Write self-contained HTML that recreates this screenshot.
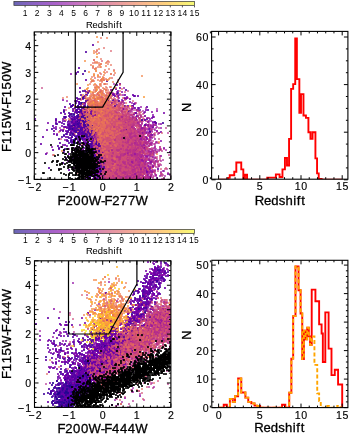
<!DOCTYPE html><html><head><meta charset="utf-8"><style>html,body{margin:0;padding:0;background:#fff;overflow:hidden}svg{display:block;filter:blur(0.35px)}</style></head><body><svg width="350" height="434" viewBox="0 0 350 434" font-family='"Liberation Sans", sans-serif'><rect width="350" height="434" fill="#fff"/><defs><clipPath id="c1"><rect x="34.3" y="31.9" width="136.6" height="147.5"/></clipPath><clipPath id="c2"><rect x="34.5" y="260.8" width="136.4" height="146.6"/></clipPath><clipPath id="h1"><rect x="211.6" y="31.4" width="136.3" height="147.8"/></clipPath><clipPath id="h2"><rect x="211.8" y="260.3" width="136.1" height="147.3"/></clipPath></defs><defs><linearGradient id="g1" x1="0" x2="1" y1="0" y2="0"><stop offset="0.00" stop-color="#6966b4"/><stop offset="0.05" stop-color="#7b64bc"/><stop offset="0.10" stop-color="#8963c2"/><stop offset="0.15" stop-color="#9662c7"/><stop offset="0.20" stop-color="#a361c9"/><stop offset="0.25" stop-color="#af63c9"/><stop offset="0.30" stop-color="#ba69c6"/><stop offset="0.35" stop-color="#c572c1"/><stop offset="0.40" stop-color="#ce7bba"/><stop offset="0.45" stop-color="#d784b3"/><stop offset="0.50" stop-color="#df8dab"/><stop offset="0.55" stop-color="#e696a4"/><stop offset="0.60" stop-color="#ec9f9d"/><stop offset="0.65" stop-color="#f2a997"/><stop offset="0.70" stop-color="#f7b390"/><stop offset="0.75" stop-color="#fbbe89"/><stop offset="0.80" stop-color="#fdc882"/><stop offset="0.85" stop-color="#fed47c"/><stop offset="0.90" stop-color="#fde178"/><stop offset="0.95" stop-color="#faee78"/><stop offset="1.00" stop-color="#f6fb76"/></linearGradient></defs><rect x="13.9" y="1.4" width="180.7" height="4.0" fill="url(#g1)" stroke="#333" stroke-width="0.7"/><text x="22.74" y="16.40" font-size="8.49" fill="#000" stroke="#000" stroke-width="0.00">1</text><text x="34.84" y="16.40" font-size="8.49" fill="#000" stroke="#000" stroke-width="0.00">2</text><text x="46.94" y="16.40" font-size="8.49" fill="#000" stroke="#000" stroke-width="0.00">3</text><text x="59.04" y="16.40" font-size="8.49" fill="#000" stroke="#000" stroke-width="0.00">4</text><text x="71.14" y="16.40" font-size="8.49" fill="#000" stroke="#000" stroke-width="0.00">5</text><text x="83.24" y="16.40" font-size="8.49" fill="#000" stroke="#000" stroke-width="0.00">6</text><text x="95.34" y="16.40" font-size="8.49" fill="#000" stroke="#000" stroke-width="0.00">7</text><text x="107.44" y="16.40" font-size="8.49" fill="#000" stroke="#000" stroke-width="0.00">8</text><text x="119.54" y="16.40" font-size="8.49" fill="#000" stroke="#000" stroke-width="0.00">9</text><text x="129.09 134.18" y="16.40" font-size="8.49" fill="#000" stroke="#000" stroke-width="0.00">10</text><text x="141.19 146.28" y="16.40" font-size="8.49" fill="#000" stroke="#000" stroke-width="0.00">11</text><text x="153.29 158.38" y="16.40" font-size="8.49" fill="#000" stroke="#000" stroke-width="0.00">12</text><text x="165.39 170.48" y="16.40" font-size="8.49" fill="#000" stroke="#000" stroke-width="0.00">13</text><text x="177.49 182.58" y="16.40" font-size="8.49" fill="#000" stroke="#000" stroke-width="0.00">14</text><text x="189.59 194.68" y="16.40" font-size="8.49" fill="#000" stroke="#000" stroke-width="0.00">15</text><path d="M25.10 5.40v2M37.20 5.40v2M49.30 5.40v2M61.40 5.40v2M73.50 5.40v2M85.60 5.40v2M97.70 5.40v2M109.80 5.40v2M121.90 5.40v2M134.00 5.40v2M146.10 5.40v2M158.20 5.40v2M170.30 5.40v2M182.40 5.40v2M194.50 5.40v2" stroke="#333" stroke-width="0.8"/><text x="86.08 92.61 97.72 103.07 107.89 113.46 115.97 119.24" y="27.80" font-size="9.34" fill="#000" stroke="#000" stroke-width="0.06">Redshift</text><defs><linearGradient id="g229" x1="0" x2="1" y1="0" y2="0"><stop offset="0.00" stop-color="#6966b4"/><stop offset="0.05" stop-color="#7b64bc"/><stop offset="0.10" stop-color="#8963c2"/><stop offset="0.15" stop-color="#9662c7"/><stop offset="0.20" stop-color="#a361c9"/><stop offset="0.25" stop-color="#af63c9"/><stop offset="0.30" stop-color="#ba69c6"/><stop offset="0.35" stop-color="#c572c1"/><stop offset="0.40" stop-color="#ce7bba"/><stop offset="0.45" stop-color="#d784b3"/><stop offset="0.50" stop-color="#df8dab"/><stop offset="0.55" stop-color="#e696a4"/><stop offset="0.60" stop-color="#ec9f9d"/><stop offset="0.65" stop-color="#f2a997"/><stop offset="0.70" stop-color="#f7b390"/><stop offset="0.75" stop-color="#fbbe89"/><stop offset="0.80" stop-color="#fdc882"/><stop offset="0.85" stop-color="#fed47c"/><stop offset="0.90" stop-color="#fde178"/><stop offset="0.95" stop-color="#faee78"/><stop offset="1.00" stop-color="#f6fb76"/></linearGradient></defs><rect x="13.9" y="229.4" width="180.7" height="4.0" fill="url(#g229)" stroke="#333" stroke-width="0.7"/><text x="23.04" y="243.20" font-size="8.49" fill="#000" stroke="#000" stroke-width="0.00">1</text><text x="35.07" y="243.20" font-size="8.49" fill="#000" stroke="#000" stroke-width="0.00">2</text><text x="47.10" y="243.20" font-size="8.49" fill="#000" stroke="#000" stroke-width="0.00">3</text><text x="59.13" y="243.20" font-size="8.49" fill="#000" stroke="#000" stroke-width="0.00">4</text><text x="71.16" y="243.20" font-size="8.49" fill="#000" stroke="#000" stroke-width="0.00">5</text><text x="83.19" y="243.20" font-size="8.49" fill="#000" stroke="#000" stroke-width="0.00">6</text><text x="95.22" y="243.20" font-size="8.49" fill="#000" stroke="#000" stroke-width="0.00">7</text><text x="107.25" y="243.20" font-size="8.49" fill="#000" stroke="#000" stroke-width="0.00">8</text><text x="119.28" y="243.20" font-size="8.49" fill="#000" stroke="#000" stroke-width="0.00">9</text><text x="128.76 133.85" y="243.20" font-size="8.49" fill="#000" stroke="#000" stroke-width="0.00">10</text><text x="140.79 145.88" y="243.20" font-size="8.49" fill="#000" stroke="#000" stroke-width="0.00">11</text><text x="152.82 157.91" y="243.20" font-size="8.49" fill="#000" stroke="#000" stroke-width="0.00">12</text><text x="164.85 169.94" y="243.20" font-size="8.49" fill="#000" stroke="#000" stroke-width="0.00">13</text><text x="176.88 181.97" y="243.20" font-size="8.49" fill="#000" stroke="#000" stroke-width="0.00">14</text><text x="188.91 194.00" y="243.20" font-size="8.49" fill="#000" stroke="#000" stroke-width="0.00">15</text><path d="M25.40 233.40v2M37.43 233.40v2M49.46 233.40v2M61.49 233.40v2M73.52 233.40v2M85.55 233.40v2M97.58 233.40v2M109.61 233.40v2M121.64 233.40v2M133.67 233.40v2M145.70 233.40v2M157.73 233.40v2M169.76 233.40v2M181.79 233.40v2M193.82 233.40v2" stroke="#333" stroke-width="0.8"/><text x="86.08 92.61 97.72 103.07 107.89 113.46 115.97 119.24" y="254.00" font-size="9.34" fill="#000" stroke="#000" stroke-width="0.06">Redshift</text><g clip-path="url(#c1)" stroke-linecap="round" stroke-width="2.2" fill="none"><path stroke="#220690" stroke-opacity="1.0" d="M78 112h0m13 4h0m-9 4h0m5 2h0m-11 7h0m21 23h0m7 24h0"/><path stroke="#8405a7" stroke-opacity="0.88" d="M122 100h0m2 3h0m-44 1h0m72 8h0m-8 1h0m9 2h0m-12 1h0m-63 1h0m51 0h0m24 6h0m8 1h0m-87 7h0m10 0h0m63 1h0m-90 2h0m86 1h0m-1 1h0m-57 2h0m6 0h0m-3 6h0m9 1h0m44 4h0m4 6h0m1 1h0m-48 12h0m-11 3h0m11 0h0m49 4h0m4 1h0m10 8h0m-63 3h0m1 2h0m-11 1h0"/><path stroke="#8f0da4" stroke-opacity="0.81" d="M118 97h0m0 3h0m15 6h0m-57 5h0m63 0h0m16 12h0m-1 2h0m7 3h0m-18 1h0m6 3h0m-64 4h0m57 9h0m0 1h0m-4 1h0m3 0h0m-72 2h0m77 7h0m1 1h0m-6 4h0m9 1h0m-5 3h0m4 2h0m-5 3h0m19 1h0m-62 5h0m59 0h0m-7 4h0m-1 1h0m-19 3h0m12 5h0"/><path stroke="#9c179e" stroke-opacity="0.75" d="M114 84h0m21 19h0m-35 6h0m35 4h0m16 8h0m-22 2h0m21 5h0m2 1h0m-8 3h0m-24 1h0m29 3h0m-7 1h0m1 0h0m6 4h0m9 2h0m-23 1h0m15 0h0m-11 2h0m16 0h0m-1 2h0m-9 1h0m7 1h0m8 0h0m-24 1h0m15 0h0m6 1h0m-110 1h0m94 0h0m10 3h0m22 1h0m-31 2h0m13 3h0m-22 2h0m8 0h0m3 2h0m-10 3h0m4 3h0m5 0h0m8 0h0m-13 2h0m5 1h0m8 0h0m-1 1h0m1 0h0m14 0h0m-21 1h0m7 0h0m-23 2h0m12 0h0m-21 1h0m19 1h0m6 2h0m14 0h0m-34 1h0m6 0h0m-17 1h0m31 0h0m-14 2h0m1 0h0m13 0h0m-29 1h0m39 0h0m8 0h0m-21 1h0m9 0h0"/><path stroke="#5c01a6" stroke-opacity="1.0" d="M93 45h0m-14 23h0m37 21h0m-4 1h0m1 4h0m0 1h0m-27 6h0m-1 2h0m32 2h0m16 1h0m-48 1h0m-7 1h0m10 0h0m-24 2h0m13 0h0m-1 1h0m3 1h0m4 0h0m5 0h0m-6 4h0m-5 2h0m6 0h0m-48 1h0m54 0h0m-9 1h0m2 0h0m-4 1h0m9 0h0m-9 1h0m-16 1h0m15 0h0m4 1h0m8 0h0m-10 1h0m2 0h0m-10 1h0m12 0h0m1 0h0m5 0h0m-7 1h0m1 0h0m5 0h0m-21 1h0m15 0h0m5 1h0m-15 1h0m14 0h0m-7 1h0m6 0h0m-14 1h0m14 0h0m11 0h0m-11 1h0m5 0h0m2 0h0m2 1h0m-8 1h0m2 0h0m-9 1h0m9 0h0m-4 1h0m-7 1h0m14 0h0m-16 1h0m8 0h0m14 0h0m-7 1h0m7 1h0m-26 1h0m13 0h0m9 0h0m4 0h0m-37 1h0m38 0h0m-5 1h0m-13 1h0m13 0h0m3 0h0m1 1h0m2 0h0m-12 1h0m2 0h0m-1 3h0m3 0h0m4 0h0m-8 1h0m-23 1h0m37 0h0m-10 3h0m9 0h0m-2 1h0m-2 1h0m0 1h0m-2 1h0m-7 2h0m7 0h0m-3 1h0m-28 1h0m29 0h0m0 1h0m5 0h0m3 0h0m4 0h0m-18 1h0m6 0h0m2 0h0m-1 1h0m3 0h0m-3 1h0m-1 1h0m0 1h0m9 0h0m-7 1h0m6 0h0m-4 1h0m3 0h0m-6 1h0m4 0h0m-4 2h0m2 0h0m9 0h0m-15 1h0m11 0h0m0 1h0m-6 2h0m5 0h0m-1 1h0m1 1h0m2 0h0m3 1h0m-9 1h0m-8 1h0m7 4h0m2 0h0m-4 1h0m8 0h0m-8 1h0m2 0h0m10 1h0"/><path stroke="#7701a8" stroke-opacity="0.94" d="M126 99h0m-4 3h0m8 0h0m-43 6h0m51 0h0m-14 1h0m-42 1h0m82 3h0m-94 1h0m16 1h0m-4 1h0m-3 2h0m2 1h0m1 0h0m59 2h0m-62 1h0m74 0h0m-105 1h0m33 3h0m-25 1h0m24 0h0m1 0h0m-27 1h0m25 0h0m-18 2h0m26 0h0m-8 2h0m3 1h0m77 0h0m-77 1h0m9 0h0m-1 5h0m4 1h0m-19 1h0m16 0h0m-18 1h0m67 1h0m-77 2h0m34 0h0m-2 1h0m5 0h0m-26 2h0m18 1h0m4 1h0m-4 4h0m2 2h0m-1 1h0m2 3h0m1 0h0m6 1h0m-4 3h0m-17 4h0m18 0h0m-8 1h0m-4 1h0m4 0h0m6 1h0m-2 2h0m1 0h0m8 0h0m40 0h0m-42 1h0m66 0h0m-15 7h0m-58 1h0m9 2h0m-3 1h0m2 0h0m-6 2h0m73 2h0"/><path stroke="#f2844b" stroke-opacity="0.83" d="M97 63h0m9 0h0m-6 4h0m11 7h0m-13 1h0m-21 9h0m23 0h0m-1 3h0m-6 5h0m2 0h0m6 0h0m-3 1h0m7 3h0m5 0h0m-11 2h0m4 0h0m-12 1h0m15 2h0m1 3h0m-13 2h0m8 0h0m-7 1h0m-3 2h0m1 1h0m16 0h0m-25 1h0m17 0h0m9 0h0m-11 1h0m6 0h0m-9 3h0m5 0h0m15 0h0m-20 1h0m3 0h0m-9 1h0m9 0h0m0 1h0m10 0h0m-9 1h0m-1 1h0m11 0h0m-27 1h0m13 0h0m4 0h0m-3 1h0m2 0h0m1 0h0m-4 2h0m4 0h0m-10 1h0m4 0h0m5 0h0m-5 2h0m9 1h0m-14 2h0m9 0h0m3 1h0m16 1h0m-23 1h0m4 0h0m5 0h0m0 2h0m-5 7h0m7 2h0m2 0h0m8 7h0"/><path stroke="#41049d" stroke-opacity="1.0" d="M85 71h0m-2 26h0m2 1h0m-13 8h0m9 0h0m-2 1h0m59 3h0m-48 6h0m-2 4h0m-5 1h0m-8 1h0m-1 1h0m89 0h0m-79 1h0m-7 1h0m6 0h0m1 0h0m-10 2h0m8 0h0m8 1h0m-38 1h0m30 0h0m4 0h0m-3 2h0m13 5h0m-24 1h0m24 2h0m1 0h0m-23 1h0m18 2h0m-8 1h0m5 1h0m3 3h0m3 0h0m5 4h0m-10 1h0m-5 1h0m13 1h0m-6 4h0m6 0h0m-11 4h0m11 5h0m-2 4h0m3 0h0m3 1h0m-6 1h0m-3 1h0m5 3h0m1 0h0m2 0h0m2 3h0m-4 2h0m-4 1h0m3 0h0m-3 3h0m10 1h0m1 2h0"/><path stroke="#fca636" stroke-opacity="0.92" d="M97 90h0m-6 2h0m39 14h0m-41 3h0"/><path stroke="#e76f5a" stroke-opacity="0.75" d="M108 61h0m-13 2h0m4 0h0m9 1h0m3 1h0m-2 4h0m-9 4h0m-2 4h0m5 0h0m1 3h0m3 0h0m-14 1h0m9 0h0m-11 1h0m13 2h0m-7 2h0m-1 2h0m11 0h0m8 0h0m-30 2h0m25 2h0m1 1h0m-10 1h0m8 0h0m-18 3h0m-28 1h0m27 0h0m12 0h0m-12 1h0m10 0h0m-8 1h0m11 0h0m-11 1h0m9 0h0m18 0h0m-28 1h0m23 0h0m-21 1h0m7 0h0m6 0h0m-18 1h0m11 0h0m1 0h0m5 0h0m-6 1h0m1 0h0m7 0h0m8 0h0m-24 1h0m3 0h0m4 0h0m6 0h0m3 0h0m4 0h0m6 0h0m-48 2h0m26 0h0m1 0h0m4 0h0m16 0h0m-19 1h0m-10 1h0m15 0h0m1 0h0m4 0h0m-17 1h0m7 0h0m-16 1h0m7 1h0m4 0h0m9 0h0m14 0h0m-12 1h0m9 0h0m-21 1h0m6 0h0m7 0h0m13 0h0m-16 1h0m3 0h0m1 0h0m-16 1h0m3 0h0m3 0h0m9 0h0m11 0h0m-23 1h0m2 0h0m1 0h0m2 0h0m10 0h0m1 0h0m14 0h0m-23 1h0m4 0h0m2 0h0m2 0h0m1 0h0m3 0h0m1 0h0m2 0h0m5 0h0m-28 1h0m2 0h0m11 0h0m1 0h0m1 0h0m4 0h0m2 0h0m-33 1h0m5 0h0m8 0h0m2 0h0m1 0h0m6 0h0m2 0h0m3 0h0m1 0h0m3 0h0m-21 1h0m6 0h0m1 0h0m8 0h0m3 0h0m1 0h0m-18 1h0m5 0h0m11 0h0m2 0h0m2 0h0m-31 1h0m11 0h0m17 0h0m-11 1h0m4 0h0m7 0h0m4 0h0m14 0h0m-34 1h0m5 0h0m10 0h0m8 0h0m-15 1h0m1 0h0m8 0h0m4 0h0m2 0h0m-29 1h0m10 0h0m7 0h0m1 0h0m1 0h0m2 0h0m6 0h0m2 0h0m-20 1h0m3 0h0m9 0h0m5 0h0m1 0h0m6 0h0m-19 1h0m1 0h0m3 0h0m10 0h0m-8 1h0m4 0h0m11 0h0m-27 1h0m3 0h0m7 0h0m2 0h0m6 0h0m7 0h0m-25 1h0m19 0h0m3 0h0m2 0h0m-19 1h0m2 0h0m3 0h0m19 0h0m-32 1h0m8 0h0m3 0h0m6 0h0m19 0h0m-25 1h0m7 0h0m8 0h0m3 0h0m-24 1h0m1 0h0m3 0h0m4 0h0m3 0h0m-8 1h0m11 0h0m1 0h0m-12 1h0m3 0h0m7 0h0m0 1h0m-6 1h0m3 0h0m2 0h0m-3 1h0m-4 1h0m3 0h0m1 0h0m-9 1h0m5 0h0m2 0h0m5 0h0m13 0h0m-19 1h0m5 0h0m6 0h0m-12 1h0m4 0h0m5 0h0m-7 1h0m10 0h0m1 0h0m-7 1h0m5 0h0m6 2h0m-5 1h0m7 0h0m-17 1h0m4 1h0m27 1h0m-21 2h0m6 0h0m-14 1h0m24 1h0m-23 1h0m12 0h0m-20 1h0m9 1h0m1 0h0m-8 1h0m8 0h0m1 0h0m-1 2h0m-21 2h0m26 2h0m-4 4h0m17 4h0m-20 1h0m-4 1h0m14 11h0"/><path stroke="#fa9b3d" stroke-opacity="0.92" d="M92 81h0m9 12h0m43 4h0m-63 2h0m15 13h0m-8 4h0m11 2h0m4 4h0m-4 1h0m0 9h0"/><path stroke="#da5b69" stroke-opacity="0.75" d="M112 78h0m8 16h0m-21 1h0m1 2h0m8 0h0m-14 1h0m7 0h0m0 1h0m-14 1h0m20 0h0m-12 1h0m20 0h0m-25 3h0m4 0h0m4 0h0m12 1h0m-1 1h0m-4 1h0m4 0h0m2 0h0m7 0h0m1 0h0m4 0h0m2 0h0m-23 1h0m10 0h0m-12 1h0m19 0h0m-25 1h0m7 0h0m1 0h0m4 0h0m2 0h0m8 0h0m2 0h0m-32 2h0m10 0h0m9 0h0m1 0h0m4 0h0m3 0h0m3 0h0m-24 1h0m6 0h0m5 0h0m1 0h0m11 0h0m-23 1h0m10 0h0m13 0h0m-24 1h0m11 0h0m8 0h0m1 0h0m-13 1h0m14 0h0m1 0h0m4 0h0m-37 1h0m27 0h0m6 0h0m5 0h0m1 0h0m3 0h0m-26 1h0m4 0h0m3 0h0m3 0h0m5 0h0m13 0h0m-23 1h0m5 0h0m1 0h0m1 0h0m1 0h0m-19 1h0m15 0h0m3 0h0m12 0h0m1 0h0m1 0h0m-20 1h0m8 0h0m1 0h0m3 0h0m11 0h0m17 0h0m-46 1h0m2 0h0m1 0h0m1 0h0m1 0h0m1 0h0m3 0h0m1 0h0m2 0h0m9 0h0m2 0h0m1 0h0m-26 1h0m14 0h0m1 0h0m4 0h0m1 0h0m1 0h0m10 0h0m-18 1h0m3 0h0m1 0h0m3 0h0m2 0h0m2 0h0m3 0h0m3 0h0m-19 1h0m2 0h0m3 0h0m4 0h0m7 0h0m5 0h0m-22 1h0m4 0h0m4 0h0m2 0h0m5 0h0m1 0h0m1 0h0m4 0h0m14 0h0m-62 1h0m14 0h0m7 0h0m10 0h0m1 0h0m1 0h0m1 0h0m2 0h0m2 0h0m2 0h0m2 0h0m4 0h0m1 0h0m-36 1h0m4 0h0m13 0h0m1 0h0m2 0h0m1 0h0m3 0h0m4 0h0m3 0h0m2 0h0m-29 1h0m5 0h0m2 0h0m3 0h0m11 0h0m1 0h0m1 0h0m3 0h0m3 0h0m-30 1h0m1 0h0m1 0h0m7 0h0m3 0h0m1 0h0m1 0h0m1 0h0m6 0h0m11 0h0m-34 1h0m9 0h0m1 0h0m2 0h0m4 0h0m4 0h0m1 0h0m1 0h0m1 0h0m4 0h0m15 0h0m-31 1h0m3 0h0m2 0h0m5 0h0m5 0h0m3 0h0m1 0h0m1 0h0m3 0h0m1 0h0m16 0h0m-49 1h0m14 0h0m4 0h0m1 0h0m1 0h0m4 0h0m3 0h0m1 0h0m21 0h0m-48 1h0m4 0h0m7 0h0m4 0h0m1 0h0m3 0h0m1 0h0m6 0h0m1 0h0m2 0h0m-26 1h0m8 0h0m10 0h0m3 0h0m1 0h0m1 0h0m2 0h0m1 0h0m-24 1h0m4 0h0m1 0h0m2 0h0m3 0h0m1 0h0m2 0h0m1 0h0m3 0h0m20 0h0m-30 1h0m2 0h0m2 0h0m4 0h0m8 0h0m2 0h0m6 0h0m-30 1h0m8 0h0m1 0h0m1 0h0m3 0h0m4 0h0m2 0h0m1 0h0m1 0h0m1 0h0m1 0h0m4 0h0m-29 1h0m3 0h0m3 0h0m1 0h0m2 0h0m1 0h0m1 0h0m2 0h0m1 0h0m2 0h0m9 0h0m-22 1h0m5 0h0m4 0h0m15 0h0m4 0h0m-22 1h0m10 0h0m6 0h0m1 0h0m5 0h0m3 0h0m-30 1h0m2 0h0m1 0h0m3 0h0m7 0h0m-10 1h0m4 0h0m2 0h0m3 0h0m4 0h0m9 0h0m2 0h0m9 0h0m-42 1h0m11 0h0m1 0h0m1 0h0m1 0h0m7 0h0m2 0h0m20 0h0m-40 1h0m6 0h0m3 0h0m4 0h0m3 0h0m2 0h0m1 0h0m-21 1h0m6 0h0m3 0h0m1 0h0m2 0h0m1 0h0m2 0h0m1 0h0m2 0h0m7 0h0m-18 1h0m3 0h0m4 0h0m1 0h0m1 0h0m2 0h0m2 0h0m1 0h0m2 0h0m1 0h0m5 0h0m-22 1h0m2 0h0m4 0h0m5 0h0m1 0h0m5 0h0m1 0h0m7 0h0m-26 1h0m8 0h0m4 0h0m7 0h0m-15 1h0m2 0h0m3 0h0m2 0h0m4 0h0m3 0h0m4 0h0m2 0h0m-25 1h0m1 0h0m2 0h0m1 0h0m5 0h0m2 0h0m3 0h0m3 0h0m1 0h0m4 0h0m2 0h0m7 0h0m-30 1h0m2 0h0m2 0h0m3 0h0m4 0h0m2 0h0m5 0h0m-12 1h0m1 0h0m3 0h0m5 0h0m1 0h0m1 0h0m2 0h0m1 0h0m2 0h0m18 0h0m-38 1h0m4 0h0m1 0h0m1 0h0m1 0h0m1 0h0m2 0h0m3 0h0m10 0h0m1 0h0m3 0h0m10 0h0m-39 1h0m4 0h0m3 0h0m2 0h0m1 0h0m1 0h0m6 0h0m4 0h0m1 0h0m-28 1h0m5 0h0m3 0h0m1 0h0m3 0h0m1 0h0m1 0h0m3 0h0m5 0h0m8 0h0m-19 1h0m1 0h0m13 0h0m3 0h0m-46 1h0m24 0h0m3 0h0m1 0h0m1 0h0m8 0h0m3 0h0m3 0h0m3 0h0m-28 1h0m14 0h0m1 0h0m3 0h0m2 0h0m7 0h0m-22 1h0m4 0h0m1 0h0m3 0h0m3 0h0m1 0h0m2 0h0m5 0h0m3 0h0m1 0h0m-19 1h0m2 0h0m3 0h0m2 0h0m-6 1h0m2 0h0m1 0h0m15 0h0m1 0h0m1 0h0m7 0h0m-28 1h0m1 0h0m1 0h0m3 0h0m2 0h0m4 0h0m2 0h0m5 0h0m7 0h0m-11 1h0m11 0h0m-27 1h0m6 0h0m1 0h0m8 0h0m8 0h0m-24 1h0m4 0h0m1 0h0m1 0h0m11 0h0m14 0h0m-24 1h0m18 0h0m-15 1h0m1 0h0m4 0h0m1 0h0m1 0h0m4 0h0m5 0h0m24 0h0m-46 1h0m6 0h0m4 0h0m2 0h0m1 0h0m1 0h0m3 0h0m-18 1h0m4 0h0m7 0h0m5 0h0m1 0h0m-13 1h0m23 0h0m-28 1h0m4 0h0m10 0h0m15 0h0m12 0h0m-38 1h0m6 0h0m4 0h0m8 0h0m2 0h0m-29 1h0m18 0h0m8 0h0m-28 1h0m4 0h0m9 0h0m5 0h0m1 0h0m-9 1h0m7 0h0m4 0h0m17 0h0m-18 1h0m3 0h0m11 0h0m-22 1h0m2 0h0m6 0h0m2 0h0m2 0h0m4 0h0m-10 1h0m10 0h0m-24 1h0m1 0h0m5 0h0m5 0h0m-4 1h0m5 0h0m4 0h0m1 0h0m8 0h0m7 0h0m-38 1h0m26 0h0m-17 1h0m10 0h0m6 0h0m8 0h0m-11 1h0m1 0h0m-6 1h0m5 0h0m26 0h0m-32 1h0m7 0h0m2 0h0m8 0h0m3 0h0m-24 1h0m1 0h0m10 0h0m12 0h0m-24 1h0m2 0h0m1 0h0m10 0h0m-13 1h0m3 0h0m2 0h0m18 0h0m-20 1h0"/><path stroke="#ed7953" stroke-opacity="0.79" d="M107 38h0m-12 24h0m2 0h0m4 5h0m-5 4h0m5 13h0m-6 3h0m1 0h0m-3 6h0m3 3h0m8 0h0m4 0h0m-41 1h0m27 0h0m-1 1h0m1 0h0m1 0h0m11 0h0m-9 1h0m-4 2h0m4 0h0m8 0h0m13 1h0m-36 1h0m22 0h0m-15 1h0m2 0h0m8 0h0m8 0h0m-4 1h0m2 0h0m10 0h0m-30 1h0m12 0h0m3 0h0m4 0h0m3 0h0m-15 1h0m2 0h0m11 1h0m-31 1h0m22 0h0m-22 1h0m31 0h0m5 0h0m-17 1h0m8 0h0m9 0h0m-24 1h0m13 0h0m4 0h0m1 0h0m6 0h0m-14 1h0m4 0h0m-29 1h0m11 0h0m7 0h0m7 0h0m-10 1h0m14 0h0m3 0h0m1 0h0m-21 1h0m12 0h0m11 0h0m5 0h0m-14 1h0m1 0h0m1 0h0m2 0h0m4 0h0m-26 1h0m2 0h0m29 0h0m-20 1h0m4 0h0m-3 1h0m15 0h0m6 0h0m-25 1h0m16 0h0m-8 1h0m1 0h0m7 0h0m-12 1h0m3 0h0m5 0h0m9 0h0m-26 1h0m3 0h0m5 0h0m6 0h0m11 0h0m4 0h0m-19 1h0m1 0h0m2 0h0m8 0h0m3 0h0m2 0h0m5 0h0m1 0h0m-27 1h0m2 0h0m6 0h0m3 0h0m2 0h0m2 0h0m3 0h0m3 0h0m-19 1h0m8 0h0m11 0h0m8 0h0m21 0h0m-56 1h0m10 0h0m8 0h0m8 0h0m6 0h0m-17 1h0m1 0h0m2 0h0m2 0h0m4 0h0m4 0h0m4 0h0m1 0h0m8 0h0m-33 1h0m1 0h0m3 0h0m1 0h0m2 0h0m1 0h0m1 0h0m2 0h0m7 0h0m-12 1h0m3 0h0m-7 1h0m8 0h0m2 0h0m19 0h0m-15 1h0m5 0h0m-22 1h0m19 1h0m-9 1h0m0 1h0m8 0h0m5 0h0m-18 1h0m1 0h0m10 2h0m1 0h0m-20 2h0m13 0h0m2 0h0m7 0h0m-9 1h0m12 0h0m4 3h0m2 3h0m-9 2h0m-5 1h0m7 1h0m1 3h0m-16 9h0m13 0h0m35 18h0m-30 3h0"/><path stroke="#f68f44" stroke-opacity="0.88" d="M85 61h0m4 11h0m9 4h0m-7 3h0m-2 13h0m22 3h0m-16 8h0m-20 3h0m35 0h0m-25 2h0m15 1h0m-8 1h0m13 4h0m1 6h0m-2 1h0m-15 1h0m13 0h0m13 4h0m-28 3h0m17 0h0m-8 1h0m7 9h0m9 0h0m-6 7h0m-52 9h0"/><path stroke="#d35171" stroke-opacity="0.75" d="M94 95h0m14 1h0m8 4h0m-4 1h0m9 1h0m-25 1h0m19 0h0m5 0h0m1 0h0m-9 1h0m11 0h0m-17 1h0m1 0h0m11 0h0m-7 1h0m1 0h0m7 0h0m6 0h0m-37 1h0m11 0h0m13 0h0m2 1h0m18 1h0m-47 1h0m28 0h0m7 0h0m2 0h0m-14 1h0m9 0h0m2 0h0m-24 1h0m21 0h0m-41 1h0m45 0h0m2 0h0m-28 1h0m14 0h0m6 0h0m2 0h0m6 0h0m7 0h0m-29 1h0m17 0h0m1 0h0m4 0h0m1 0h0m-30 1h0m12 0h0m-19 1h0m10 0h0m3 0h0m8 0h0m10 0h0m-9 1h0m1 0h0m1 0h0m1 0h0m19 0h0m-31 1h0m11 0h0m8 0h0m5 0h0m7 0h0m-35 1h0m7 0h0m3 0h0m4 0h0m1 0h0m5 0h0m3 0h0m-11 1h0m2 0h0m3 0h0m1 0h0m1 0h0m4 0h0m3 0h0m3 0h0m-22 1h0m6 0h0m10 0h0m2 0h0m5 0h0m-34 1h0m23 0h0m6 0h0m3 0h0m5 0h0m-31 1h0m3 0h0m9 0h0m7 0h0m1 0h0m11 0h0m-30 1h0m14 0h0m1 0h0m1 0h0m4 0h0m1 0h0m4 0h0m6 0h0m-18 1h0m2 0h0m5 0h0m2 0h0m-24 1h0m5 0h0m8 0h0m2 0h0m2 0h0m2 0h0m3 0h0m3 0h0m2 0h0m6 0h0m-30 1h0m3 0h0m3 0h0m7 0h0m1 0h0m2 0h0m1 0h0m5 0h0m2 0h0m2 0h0m1 0h0m2 0h0m1 0h0m-31 1h0m11 0h0m7 0h0m1 0h0m4 0h0m2 0h0m1 0h0m1 0h0m-36 1h0m16 0h0m5 0h0m1 0h0m1 0h0m6 0h0m9 0h0m1 0h0m-36 1h0m11 0h0m3 0h0m1 0h0m3 0h0m2 0h0m3 0h0m2 0h0m3 0h0m1 0h0m9 0h0m6 0h0m-40 1h0m14 0h0m6 0h0m5 0h0m3 0h0m4 0h0m4 0h0m1 0h0m-32 1h0m1 0h0m5 0h0m5 0h0m3 0h0m2 0h0m4 0h0m1 0h0m1 0h0m7 0h0m2 0h0m-25 1h0m1 0h0m5 0h0m6 0h0m3 0h0m1 0h0m3 0h0m4 0h0m-27 1h0m2 0h0m6 0h0m3 0h0m1 0h0m1 0h0m4 0h0m1 0h0m3 0h0m2 0h0m-22 1h0m3 0h0m1 0h0m1 0h0m10 0h0m4 0h0m-10 1h0m2 0h0m4 0h0m1 0h0m1 0h0m3 0h0m3 0h0m3 0h0m4 0h0m4 0h0m7 0h0m-49 1h0m8 0h0m9 0h0m3 0h0m1 0h0m2 0h0m10 0h0m8 0h0m-45 1h0m13 0h0m2 0h0m5 0h0m4 0h0m2 0h0m1 0h0m13 0h0m-36 1h0m4 0h0m6 0h0m3 0h0m7 0h0m3 0h0m6 0h0m-17 1h0m1 0h0m1 0h0m4 0h0m2 0h0m3 0h0m8 0h0m-21 1h0m5 0h0m1 0h0m1 0h0m2 0h0m1 0h0m2 0h0m2 0h0m1 0h0m7 0h0m5 0h0m-29 1h0m1 0h0m3 0h0m3 0h0m1 0h0m3 0h0m5 0h0m1 0h0m4 0h0m3 0h0m4 0h0m9 0h0m-44 1h0m2 0h0m3 0h0m4 0h0m1 0h0m1 0h0m1 0h0m1 0h0m4 0h0m6 0h0m3 0h0m3 0h0m1 0h0m1 0h0m-25 1h0m4 0h0m5 0h0m1 0h0m3 0h0m1 0h0m2 0h0m-16 1h0m1 0h0m3 0h0m3 0h0m1 0h0m3 0h0m2 0h0m1 0h0m4 0h0m1 0h0m2 0h0m2 0h0m-22 1h0m5 0h0m3 0h0m2 0h0m1 0h0m1 0h0m3 0h0m1 0h0m2 0h0m2 0h0m5 0h0m7 0h0m-38 1h0m8 0h0m10 0h0m3 0h0m1 0h0m-17 1h0m3 0h0m10 0h0m5 0h0m5 0h0m3 0h0m4 0h0m-32 1h0m3 0h0m2 0h0m2 0h0m1 0h0m3 0h0m1 0h0m2 0h0m7 0h0m1 0h0m2 0h0m12 0h0m4 0h0m20 0h0m-54 1h0m1 0h0m2 0h0m1 0h0m3 0h0m1 0h0m2 0h0m3 0h0m6 0h0m8 0h0m4 0h0m-30 1h0m3 0h0m2 0h0m3 0h0m2 0h0m2 0h0m1 0h0m-18 1h0m5 0h0m4 0h0m1 0h0m1 0h0m1 0h0m2 0h0m1 0h0m1 0h0m6 0h0m5 0h0m3 0h0m1 0h0m-40 1h0m12 0h0m1 0h0m1 0h0m1 0h0m5 0h0m2 0h0m1 0h0m4 0h0m1 0h0m1 0h0m3 0h0m15 0h0m-34 1h0m8 0h0m6 0h0m3 0h0m5 0h0m7 0h0m-39 1h0m6 0h0m1 0h0m2 0h0m1 0h0m2 0h0m7 0h0m10 0h0m12 0h0m-36 1h0m6 0h0m6 0h0m2 0h0m3 0h0m5 0h0m3 0h0m2 0h0m1 0h0m-30 1h0m3 0h0m2 0h0m3 0h0m3 0h0m1 0h0m2 0h0m1 0h0m2 0h0m13 0h0m-21 1h0m2 0h0m3 0h0m2 0h0m2 0h0m1 0h0m2 0h0m2 0h0m12 0h0m-41 1h0m7 0h0m5 0h0m3 0h0m2 0h0m2 0h0m1 0h0m2 0h0m3 0h0m1 0h0m3 0h0m8 0h0m13 0h0m-39 1h0m4 0h0m1 0h0m1 0h0m3 0h0m4 0h0m3 0h0m2 0h0m1 0h0m9 0h0m-47 1h0m21 0h0m2 0h0m3 0h0m5 0h0m28 0h0m-39 1h0m2 0h0m3 0h0m3 0h0m1 0h0m3 0h0m1 0h0m3 0h0m-17 1h0m3 0h0m1 0h0m1 0h0m2 0h0m3 0h0m2 0h0m13 0h0m3 0h0m-21 1h0m5 0h0m1 0h0m7 0h0m2 0h0m4 0h0m6 0h0m-39 1h0m3 0h0m4 0h0m7 0h0m1 0h0m3 0h0m4 0h0m3 0h0m4 0h0m1 0h0m2 0h0m-26 1h0m1 0h0m1 0h0m3 0h0m1 0h0m2 0h0m7 0h0m1 0h0m5 0h0m7 0h0m18 0h0m-45 1h0m4 0h0m5 0h0m5 0h0m13 0h0m7 0h0m-34 1h0m3 0h0m2 0h0m5 0h0m17 0h0m-25 1h0m3 0h0m5 0h0m13 0h0m6 0h0m-33 1h0m4 0h0m7 0h0m1 0h0m1 0h0m2 0h0m1 0h0m8 0h0m4 0h0m-21 1h0m1 0h0m2 0h0m4 0h0m1 0h0m4 0h0m4 0h0m-23 1h0m2 0h0m4 0h0m4 0h0m3 0h0m12 0h0m2 0h0m6 0h0m2 0h0m-31 1h0m2 0h0m2 0h0m13 0h0m3 0h0m3 0h0m-25 1h0m1 0h0m6 0h0m2 0h0m6 0h0m2 0h0m11 0h0m-26 1h0m1 0h0m20 0h0m-42 1h0m19 0h0m5 0h0m2 0h0m3 0h0m1 0h0m1 0h0m12 0h0m1 0h0m8 0h0m7 0h0m-37 1h0m2 0h0m3 0h0m3 0h0m3 0h0m7 0h0m1 0h0m9 0h0m-26 1h0m2 0h0m4 0h0m5 0h0m-8 1h0m8 0h0m1 0h0m4 0h0m7 0h0m-33 1h0m6 0h0m4 0h0m2 0h0m3 0h0m5 0h0m2 0h0m1 0h0m5 0h0m13 0h0m-38 1h0m3 0h0m10 0h0m2 0h0m4 0h0m6 0h0m15 0h0m-45 1h0m5 0h0m11 0h0m1 0h0m1 0h0m2 0h0m4 0h0m9 0h0m12 0h0m-36 1h0m9 0h0m3 0h0m1 0h0m4 0h0m2 0h0m9 0h0m-46 1h0m18 0h0m5 0h0m2 0h0m5 0h0m1 0h0m10 0h0m24 0h0m-50 1h0m3 0h0m1 0h0m1 0h0m3 0h0m1 0h0m3 0h0m5 0h0m1 0h0m3 0h0m8 0h0m1 0h0m2 0h0m-32 1h0m1 0h0m2 0h0m4 0h0m3 0h0m4 0h0m2 0h0m1 0h0m8 0h0m4 0h0m8 0h0m-31 1h0m30 0h0m-43 1h0m10 0h0m2 0h0m6 0h0m3 0h0m1 0h0m5 0h0m2 0h0m1 0h0m8 0h0m5 0h0m-37 1h0m1 0h0m6 0h0m1 0h0m3 0h0m14 0h0m11 0h0"/><path stroke="#c33d80" stroke-opacity="0.75" d="M42 88h0m73 11h0m8 6h0m-20 1h0m11 2h0m8 0h0m7 0h0m-4 4h0m-11 1h0m7 2h0m2 0h0m3 0h0m5 0h0m2 0h0m1 0h0m-11 1h0m2 0h0m0 1h0m-18 1h0m7 0h0m6 0h0m13 0h0m2 0h0m-15 1h0m8 0h0m-22 1h0m15 0h0m14 0h0m-22 1h0m9 0h0m5 0h0m19 0h0m1 0h0m-41 1h0m2 0h0m15 0h0m3 0h0m3 0h0m10 0h0m-26 1h0m4 0h0m3 0h0m2 0h0m16 0h0m-39 1h0m20 0h0m5 0h0m-17 1h0m11 0h0m15 0h0m6 0h0m-14 1h0m2 0h0m3 0h0m9 0h0m-25 1h0m3 0h0m3 0h0m8 0h0m2 0h0m19 0h0m-33 1h0m3 0h0m4 0h0m3 0h0m1 0h0m2 0h0m2 0h0m3 0h0m-39 1h0m11 0h0m9 0h0m5 0h0m4 0h0m4 0h0m3 0h0m-3 1h0m2 0h0m3 0h0m2 0h0m10 0h0m-31 1h0m1 0h0m2 0h0m9 0h0m7 0h0m7 0h0m17 0h0m-57 1h0m9 0h0m6 0h0m2 0h0m3 0h0m2 0h0m1 0h0m1 0h0m1 0h0m4 0h0m5 0h0m3 0h0m-36 1h0m8 0h0m11 0h0m6 0h0m1 0h0m5 0h0m1 0h0m4 0h0m-11 1h0m1 0h0m13 0h0m8 0h0m-28 1h0m3 0h0m3 0h0m2 0h0m8 0h0m16 0h0m-39 1h0m10 0h0m8 0h0m2 0h0m7 0h0m-32 1h0m2 0h0m11 0h0m4 0h0m4 0h0m12 0h0m5 0h0m-32 1h0m2 0h0m5 0h0m2 0h0m1 0h0m4 0h0m5 0h0m-17 1h0m1 0h0m13 0h0m29 0h0m-53 1h0m11 0h0m2 0h0m2 0h0m3 0h0m1 0h0m8 0h0m5 0h0m8 0h0m-36 1h0m4 0h0m1 0h0m5 0h0m4 0h0m5 0h0m1 0h0m1 0h0m5 0h0m-24 1h0m6 0h0m2 0h0m1 0h0m1 0h0m2 0h0m3 0h0m10 0h0m2 0h0m1 0h0m-28 1h0m5 0h0m7 0h0m4 0h0m4 0h0m1 0h0m-25 1h0m1 0h0m7 0h0m7 0h0m1 0h0m5 0h0m-17 1h0m7 0h0m1 0h0m6 0h0m2 0h0m4 0h0m19 0h0m-37 1h0m5 0h0m8 0h0m3 0h0m1 0h0m2 0h0m3 0h0m2 0h0m-20 1h0m3 0h0m1 0h0m2 0h0m2 0h0m2 0h0m4 0h0m5 0h0m8 0h0m1 0h0m-31 1h0m5 0h0m8 0h0m6 0h0m5 0h0m8 0h0m5 0h0m-37 1h0m1 0h0m6 0h0m2 0h0m2 0h0m9 0h0m1 0h0m1 0h0m-35 1h0m11 0h0m3 0h0m7 0h0m7 0h0m3 0h0m-32 1h0m3 0h0m5 0h0m2 0h0m2 0h0m1 0h0m6 0h0m4 0h0m2 0h0m4 0h0m2 0h0m7 0h0m4 0h0m-30 1h0m3 0h0m5 0h0m1 0h0m1 0h0m1 0h0m5 0h0m1 0h0m1 0h0m1 0h0m12 0h0m-30 1h0m9 0h0m4 0h0m5 0h0m11 0h0m4 0h0m-42 1h0m1 0h0m6 0h0m5 0h0m3 0h0m1 0h0m9 0h0m1 0h0m16 0h0m-33 1h0m2 0h0m2 0h0m3 0h0m6 0h0m1 0h0m3 0h0m3 0h0m3 0h0m1 0h0m-33 1h0m3 0h0m9 0h0m2 0h0m1 0h0m9 0h0m2 0h0m4 0h0m3 0h0m1 0h0m11 0h0m-36 1h0m8 0h0m1 0h0m2 0h0m3 0h0m4 0h0m3 0h0m2 0h0m-33 1h0m1 0h0m3 0h0m2 0h0m2 0h0m1 0h0m2 0h0m6 0h0m7 0h0m1 0h0m9 0h0m-31 1h0m1 0h0m4 0h0m7 0h0m1 0h0m2 0h0m1 0h0m1 0h0m3 0h0m2 0h0m20 0h0m-41 1h0m4 0h0m1 0h0m1 0h0m4 0h0m1 0h0m3 0h0m5 0h0m2 0h0m3 0h0m3 0h0m1 0h0m5 0h0m-34 1h0m6 0h0m2 0h0m2 0h0m4 0h0m8 0h0m1 0h0m9 0h0m-33 1h0m6 0h0m2 0h0m1 0h0m2 0h0m4 0h0m1 0h0m2 0h0m6 0h0m3 0h0m8 0h0m10 0h0m-42 1h0m4 0h0m3 0h0m2 0h0m2 0h0m2 0h0m3 0h0m12 0h0m-23 1h0m5 0h0m3 0h0m1 0h0m1 0h0m2 0h0m1 0h0m7 0h0m3 0h0m2 0h0m19 0h0m-55 1h0m5 0h0m1 0h0m2 0h0m2 0h0m2 0h0m2 0h0m3 0h0m4 0h0m2 0h0m-18 1h0m2 0h0m2 0h0m3 0h0m4 0h0m9 0h0m12 0h0m-30 1h0m3 0h0m2 0h0m11 0h0m4 0h0m2 0h0m1 0h0m1 0h0m3 0h0m1 0h0m4 0h0m-37 1h0m1 0h0m4 0h0m5 0h0m3 0h0m9 0h0m4 0h0m1 0h0m13 0h0m-38 1h0m2 0h0m1 0h0m4 0h0m1 0h0m1 0h0m8 0h0m5 0h0m2 0h0m1 0h0m10 0h0m-33 1h0m4 0h0m4 0h0m5 0h0m4 0h0m3 0h0m3 0h0m3 0h0m1 0h0m-27 1h0m1 0h0m4 0h0m6 0h0m-4 1h0m2 0h0m1 0h0m1 0h0m1 0h0m4 0h0m2 0h0m1 0h0m7 0h0m4 0h0m3 0h0m-38 1h0m3 0h0m1 0h0m4 0h0m1 0h0m2 0h0m1 0h0m14 0h0m1 0h0m5 0h0m25 0h0m-54 1h0m2 0h0m1 0h0m1 0h0m1 0h0m2 0h0m1 0h0m3 0h0m4 0h0m2 0h0m4 0h0m4 0h0m9 0h0m-34 1h0m1 0h0m7 0h0m2 0h0m1 0h0m3 0h0m1 0h0m1 0h0m4 0h0m6 0h0m4 0h0m-29 1h0m14 0h0m2 0h0m1 0h0m4 0h0m33 0h0m-60 1h0m12 0h0m2 0h0m1 0h0m1 0h0m4 0h0m2 0h0m3 0h0m2 0h0m1 0h0m1 0h0m4 0h0m4 0h0m11 0h0m1 0h0m-55 1h0m12 0h0m3 0h0m2 0h0m1 0h0m1 0h0m1 0h0m2 0h0m2 0h0m2 0h0m4 0h0m2 0h0m1 0h0m1 0h0m2 0h0m3 0h0m5 0h0m2 0h0m-38 1h0m4 0h0m1 0h0m1 0h0m2 0h0m8 0h0m4 0h0m6 0h0m1 0h0m2 0h0m9 0h0m3 0h0m-37 1h0m2 0h0m5 0h0m1 0h0m1 0h0m2 0h0m4 0h0m12 0h0m-33 1h0m8 0h0m2 0h0m2 0h0m1 0h0m3 0h0m2 0h0m11 0h0m3 0h0m6 0h0m3 0h0m1 0h0m-49 1h0m12 0h0m3 0h0m6 0h0m4 0h0m1 0h0m6 0h0m1 0h0m3 0h0m1 0h0m-30 1h0m4 0h0m3 0h0m3 0h0m3 0h0m5 0h0m2 0h0m2 0h0m2 0h0m5 0h0m11 0h0m-29 1h0m2 0h0m1 0h0m1 0h0m1 0h0m3 0h0m7 0h0m4 0h0m2 0h0m1 0h0m1 0h0m-25 1h0m1 0h0m3 0h0m5 0h0m1 0h0m3 0h0m4 0h0m1 0h0m3 0h0m7 0h0m11 0h0m-42 1h0m4 0h0m4 0h0m2 0h0m1 0h0m2 0h0m1 0h0m1 0h0m5 0h0m9 0h0m8 0h0m-43 1h0m1 0h0m14 0h0m1 0h0m1 0h0m5 0h0m2 0h0m1 0h0m6 0h0m1 0h0m-29 1h0m5 0h0m11 0h0m3 0h0m2 0h0m3 0h0m4 0h0m-25 1h0m4 0h0m1 0h0m2 0h0m5 0h0m1 0h0m1 0h0m1 0h0m25 0h0m-35 1h0m1 0h0m5 0h0m3 0h0m8 0h0m3 0h0m4 0h0m1 0h0m1 0h0m8 0h0"/><path stroke="#cc4778" stroke-opacity="0.75" d="M112 96h0m16 2h0m-20 3h0m0 1h0m13 2h0m-2 3h0m8 0h0m-16 2h0m-45 1h0m49 1h0m-3 1h0m11 0h0m-4 1h0m3 0h0m-3 1h0m1 0h0m6 0h0m2 0h0m-19 1h0m6 0h0m13 0h0m-10 1h0m-14 1h0m10 0h0m1 0h0m6 0h0m7 0h0m-30 1h0m8 0h0m4 0h0m6 0h0m1 0h0m2 0h0m4 0h0m-24 1h0m8 0h0m16 0h0m1 0h0m3 0h0m9 0h0m3 0h0m4 0h0m-30 1h0m1 0h0m1 0h0m3 0h0m5 0h0m5 0h0m-21 1h0m2 0h0m8 0h0m-11 1h0m7 0h0m3 0h0m2 0h0m4 0h0m2 0h0m7 0h0m-34 1h0m17 0h0m6 0h0m9 0h0m-21 1h0m1 0h0m5 0h0m3 0h0m7 0h0m4 0h0m-27 1h0m9 0h0m8 0h0m2 0h0m7 0h0m4 0h0m3 0h0m-27 1h0m10 0h0m2 0h0m-7 1h0m3 0h0m11 0h0m7 0h0m7 0h0m-30 1h0m3 0h0m3 0h0m3 0h0m6 0h0m1 0h0m5 0h0m-23 1h0m1 0h0m4 0h0m3 0h0m7 0h0m-6 1h0m1 0h0m2 0h0m1 0h0m4 0h0m1 0h0m-15 1h0m2 0h0m2 0h0m10 0h0m7 0h0m-20 1h0m9 0h0m1 0h0m1 0h0m7 0h0m3 0h0m9 0h0m-27 1h0m7 0h0m3 0h0m3 0h0m7 0h0m6 0h0m-31 1h0m5 0h0m9 0h0m3 0h0m2 0h0m-24 1h0m9 0h0m4 0h0m5 0h0m12 0h0m-26 1h0m5 0h0m3 0h0m2 0h0m3 0h0m1 0h0m6 0h0m1 0h0m1 0h0m1 0h0m3 0h0m1 0h0m-44 1h0m13 0h0m2 0h0m6 0h0m12 0h0m1 0h0m3 0h0m16 0h0m-34 1h0m5 0h0m4 0h0m2 0h0m4 0h0m1 0h0m2 0h0m14 0h0m-82 1h0m53 0h0m10 0h0m3 0h0m5 0h0m-20 1h0m1 0h0m2 0h0m4 0h0m1 0h0m5 0h0m1 0h0m5 0h0m2 0h0m2 0h0m-30 1h0m2 0h0m7 0h0m2 0h0m2 0h0m7 0h0m1 0h0m2 0h0m3 0h0m1 0h0m3 0h0m-37 1h0m12 0h0m1 0h0m5 0h0m13 0h0m1 0h0m1 0h0m2 0h0m1 0h0m14 0h0m-33 1h0m3 0h0m1 0h0m9 0h0m1 0h0m3 0h0m10 0h0m6 0h0m-30 1h0m1 0h0m1 0h0m7 0h0m1 0h0m4 0h0m8 0h0m-38 1h0m4 0h0m2 0h0m1 0h0m2 0h0m5 0h0m1 0h0m1 0h0m13 0h0m1 0h0m4 0h0m-43 1h0m11 0h0m10 0h0m1 0h0m3 0h0m2 0h0m2 0h0m2 0h0m2 0h0m5 0h0m-27 1h0m2 0h0m1 0h0m1 0h0m6 0h0m2 0h0m1 0h0m2 0h0m2 0h0m4 0h0m1 0h0m2 0h0m1 0h0m7 0h0m3 0h0m-34 1h0m6 0h0m2 0h0m9 0h0m2 0h0m2 0h0m1 0h0m2 0h0m2 0h0m-34 1h0m6 0h0m3 0h0m2 0h0m1 0h0m3 0h0m2 0h0m4 0h0m2 0h0m2 0h0m5 0h0m3 0h0m2 0h0m1 0h0m1 0h0m27 0h0m-45 1h0m4 0h0m2 0h0m7 0h0m1 0h0m8 0h0m-32 1h0m3 0h0m4 0h0m1 0h0m2 0h0m4 0h0m1 0h0m2 0h0m4 0h0m8 0h0m-34 1h0m7 0h0m2 0h0m5 0h0m3 0h0m12 0h0m4 0h0m4 0h0m-33 1h0m2 0h0m3 0h0m3 0h0m2 0h0m6 0h0m1 0h0m1 0h0m3 0h0m1 0h0m3 0h0m1 0h0m1 0h0m1 0h0m1 0h0m19 0h0m19 0h0m-61 1h0m2 0h0m3 0h0m6 0h0m19 0h0m-31 1h0m2 0h0m3 0h0m18 0h0m3 0h0m1 0h0m-31 1h0m8 0h0m2 0h0m2 0h0m1 0h0m1 0h0m19 0h0m-33 1h0m1 0h0m2 0h0m3 0h0m2 0h0m3 0h0m2 0h0m1 0h0m1 0h0m3 0h0m4 0h0m7 0h0m1 0h0m1 0h0m-31 1h0m2 0h0m3 0h0m11 0h0m1 0h0m1 0h0m4 0h0m2 0h0m6 0h0m1 0h0m23 0h0m-56 1h0m2 0h0m5 0h0m1 0h0m8 0h0m10 0h0m8 0h0m-41 1h0m10 0h0m9 0h0m2 0h0m1 0h0m1 0h0m13 0h0m-28 1h0m2 0h0m4 0h0m2 0h0m14 0h0m1 0h0m-22 1h0m3 0h0m3 0h0m4 0h0m2 0h0m5 0h0m2 0h0m3 0h0m5 0h0m-29 1h0m3 0h0m4 0h0m2 0h0m6 0h0m5 0h0m1 0h0m2 0h0m3 0h0m3 0h0m4 0h0m1 0h0m16 0h0m-46 1h0m2 0h0m1 0h0m4 0h0m1 0h0m3 0h0m1 0h0m8 0h0m2 0h0m1 0h0m1 0h0m-29 1h0m5 0h0m2 0h0m1 0h0m4 0h0m5 0h0m2 0h0m1 0h0m3 0h0m1 0h0m-20 1h0m1 0h0m6 0h0m2 0h0m1 0h0m3 0h0m9 0h0m2 0h0m2 0h0m1 0h0m-33 1h0m2 0h0m6 0h0m5 0h0m1 0h0m2 0h0m9 0h0m1 0h0m1 0h0m3 0h0m22 0h0m-51 1h0m2 0h0m2 0h0m2 0h0m2 0h0m1 0h0m1 0h0m1 0h0m1 0h0m2 0h0m2 0h0m3 0h0m2 0h0m4 0h0m1 0h0m1 0h0m2 0h0m12 0h0m-39 1h0m5 0h0m1 0h0m2 0h0m2 0h0m3 0h0m4 0h0m7 0h0m7 0h0m-33 1h0m2 0h0m1 0h0m1 0h0m3 0h0m2 0h0m6 0h0m1 0h0m2 0h0m2 0h0m6 0h0m8 0h0m7 0h0m-35 1h0m3 0h0m2 0h0m1 0h0m1 0h0m2 0h0m1 0h0m6 0h0m1 0h0m3 0h0m14 0h0m-35 1h0m1 0h0m2 0h0m4 0h0m1 0h0m1 0h0m3 0h0m3 0h0m-16 1h0m2 0h0m1 0h0m3 0h0m1 0h0m1 0h0m1 0h0m3 0h0m4 0h0m2 0h0m1 0h0m1 0h0m2 0h0m7 0h0m5 0h0m-41 1h0m9 0h0m1 0h0m1 0h0m6 0h0m2 0h0m5 0h0m1 0h0m5 0h0m2 0h0m1 0h0m12 0h0m4 0h0m-45 1h0m6 0h0m1 0h0m5 0h0m3 0h0m1 0h0m2 0h0m7 0h0m1 0h0m2 0h0m2 0h0m4 0h0m-32 1h0m1 0h0m3 0h0m2 0h0m2 0h0m1 0h0m1 0h0m1 0h0m2 0h0m1 0h0m1 0h0m4 0h0m4 0h0m1 0h0m10 0h0m-34 1h0m7 0h0m2 0h0m3 0h0m1 0h0m1 0h0m4 0h0m1 0h0m5 0h0m3 0h0m6 0h0m-32 1h0m1 0h0m4 0h0m5 0h0m1 0h0m3 0h0m2 0h0m2 0h0m6 0h0m5 0h0m-29 1h0m5 0h0m1 0h0m1 0h0m1 0h0m3 0h0m1 0h0m4 0h0m1 0h0m6 0h0m1 0h0m5 0h0m5 0h0m-52 1h0m17 0h0m1 0h0m1 0h0m2 0h0m6 0h0m14 0h0m1 0h0m-28 1h0m4 0h0m3 0h0m7 0h0m1 0h0m3 0h0m2 0h0m2 0h0m1 0h0m11 0h0m7 0h0m1 0h0m-46 1h0m5 0h0m6 0h0m1 0h0m9 0h0m1 0h0m1 0h0m-13 1h0m6 0h0m1 0h0m2 0h0m1 0h0m3 0h0m3 0h0m2 0h0m15 0h0m-35 1h0m2 0h0m1 0h0m12 0h0m1 0h0m2 0h0m1 0h0m4 0h0m1 0h0m1 0h0m1 0h0m1 0h0m4 0h0m-34 1h0m4 0h0m4 0h0m3 0h0m4 0h0m7 0h0m4 0h0m1 0h0m26 0h0m-49 1h0m5 0h0m2 0h0m1 0h0m2 0h0m8 0h0m1 0h0m2 0h0m2 0h0m16 0h0m-42 1h0m3 0h0m1 0h0m2 0h0m3 0h0m3 0h0m3 0h0m4 0h0m4 0h0m5 0h0m-25 1h0m3 0h0m1 0h0m3 0h0m1 0h0m2 0h0m1 0h0m1 0h0m2 0h0m4 0h0m8 0h0m3 0h0m-37 1h0m10 0h0m2 0h0m1 0h0m3 0h0m1 0h0m3 0h0m1 0h0m2 0h0m10 0h0m12 0h0m2 0h0m10 0h0m3 0h0m-47 1h0m2 0h0"/><path stroke="#6a00a8" stroke-opacity="1.0" d="M80 88h0m6 4h0m-5 3h0m44 0h0m-10 1h0m23 0h0m-62 5h0m1 0h0m8 2h0m7 2h0m-14 1h0m50 0h0m4 0h0m-67 1h0m19 0h0m30 0h0m-26 1h0m32 0h0m15 0h0m-16 2h0m18 0h0m-60 2h0m1 0h0m-17 1h0m24 0h0m3 0h0m-23 1h0m6 0h0m9 1h0m7 1h0m39 0h0m-3 1h0m-45 2h0m-3 1h0m15 0h0m-3 1h0m-15 1h0m-2 1h0m6 2h0m5 1h0m2 0h0m1 0h0m-18 1h0m14 1h0m69 1h0m-80 1h0m8 0h0m4 0h0m-27 1h0m24 0h0m6 0h0m-2 2h0m64 0h0m-67 1h0m-22 1h0m95 0h0m-67 1h0m4 0h0m-23 1h0m27 1h0m-8 2h0m7 1h0m40 1h0m-45 3h0m4 0h0m-14 2h0m13 0h0m2 0h0m7 0h0m-21 1h0m13 0h0m4 0h0m-36 1h0m35 0h0m-41 1h0m28 0h0m15 0h0m2 0h0m-15 1h0m8 0h0m3 0h0m1 0h0m-2 1h0m77 0h0m-77 2h0m-15 1h0m14 0h0m5 0h0m1 0h0m2 0h0m-3 1h0m-9 3h0m10 1h0m4 0h0m2 0h0m-12 2h0m1 2h0m6 0h0m-12 1h0m10 0h0m-1 3h0m3 1h0m59 0h0m-89 1h0m25 0h0m3 0h0m3 0h0m4 0h0m-10 1h0m3 2h0m-12 1h0m15 1h0m0 1h0m-4 2h0m8 0h0m-17 3h0m7 0h0m4 0h0m-4 1h0m-12 1h0m-5 1h0m8 0h0m18 0h0m-11 1h0m9 0h0m-11 1h0m10 1h0"/><path stroke="#5002a2" stroke-opacity="1.0" d="M107 81h0m-22 10h0m-1 6h0m-7 1h0m38 3h0m4 0h0m-49 3h0m11 0h0m-8 1h0m-1 1h0m16 0h0m37 0h0m-40 2h0m8 1h0m-7 1h0m-9 1h0m5 0h0m10 0h0m-15 1h0m4 0h0m-12 1h0m13 0h0m-1 1h0m5 0h0m4 0h0m-12 1h0m1 0h0m4 1h0m6 0h0m1 0h0m-26 1h0m1 0h0m88 0h0m-71 1h0m3 0h0m62 1h0m-74 2h0m8 0h0m-7 1h0m-10 2h0m10 0h0m5 1h0m7 0h0m60 0h0m-59 1h0m2 0h0m-9 1h0m4 0h0m6 0h0m1 0h0m-18 1h0m13 0h0m5 0h0m-19 1h0m1 0h0m3 1h0m2 0h0m6 1h0m1 0h0m4 0h0m-9 1h0m2 0h0m2 0h0m9 0h0m-14 1h0m5 0h0m1 0h0m-12 1h0m11 0h0m4 1h0m-24 1h0m11 0h0m4 2h0m18 0h0m-10 1h0m1 0h0m1 0h0m-9 3h0m17 0h0m-10 1h0m6 0h0m6 0h0m-10 2h0m3 4h0m1 0h0m-2 2h0m-1 1h0m-3 2h0m-14 4h0m20 1h0m-3 3h0m-2 4h0m9 1h0m2 1h0m1 1h0m7 0h0m-12 2h0m6 1h0m-15 1h0m18 0h0m-14 1h0m4 1h0m6 1h0m-13 4h0m9 0h0m4 0h0m-2 1h0m1 0h0m2 0h0m-15 1h0m8 3h0m8 2h0m1 0h0m-4 1h0m7 0h0m-23 1h0m13 1h0"/><path stroke="#a62098" stroke-opacity="0.75" d="M121 103h0m11 12h0m-10 2h0m10 0h0m4 0h0m13 1h0m-4 2h0m-24 2h0m21 1h0m-34 2h0m40 1h0m-25 1h0m28 0h0m6 0h0m-13 1h0m0 1h0m-14 1h0m-12 2h0m20 0h0m-9 2h0m15 0h0m4 1h0m1 0h0m-18 1h0m12 2h0m-17 1h0m2 0h0m-11 1h0m13 0h0m12 0h0m8 0h0m-4 3h0m1 0h0m-23 1h0m11 1h0m1 2h0m-3 2h0m8 1h0m4 0h0m13 0h0m-16 1h0m1 0h0m13 0h0m3 0h0m-10 1h0m-26 1h0m22 1h0m5 0h0m-10 1h0m-21 1h0m9 0h0m3 0h0m19 0h0m-7 1h0m-16 1h0m2 0h0m13 0h0m-10 1h0m-16 1h0m13 0h0m21 0h0m-31 1h0m16 0h0m6 0h0m20 0h0m-31 1h0m9 0h0m-28 2h0m23 0h0m9 0h0m-6 1h0m24 0h0m-45 1h0m5 0h0m1 0h0m12 1h0m-17 1h0m27 0h0m-33 1h0m24 1h0m2 0h0m-5 1h0m6 0h0m3 0h0m-28 1h0m17 0h0m6 0h0m4 0h0m13 0h0m-29 1h0m-8 1h0m8 1h0m16 0h0m21 0h0m-18 1h0m-16 2h0m3 0h0m12 0h0m7 0h0m-12 1h0m3 0h0m9 0h0m13 0h0m-36 1h0m1 0h0m9 0h0m5 0h0m-9 1h0m43 0h0m-64 1h0m8 0h0m18 0h0m14 0h0m1 0h0m-30 1h0m13 0h0m-8 1h0m10 0h0m-20 1h0m8 0h0m2 0h0m-13 1h0m9 0h0m34 0h0m5 0h0m-56 1h0m19 0h0m7 0h0m3 0h0m3 0h0m1 0h0m-23 1h0m22 0h0m5 0h0m-24 1h0m3 0h0m6 0h0m15 0h0m5 1h0m14 0h0"/><path stroke="#ba3388" stroke-opacity="0.75" d="M127 110h0m0 2h0m-16 1h0m34 3h0m-7 1h0m-22 1h0m11 0h0m9 0h0m-22 1h0m14 0h0m2 0h0m-26 2h0m18 0h0m18 0h0m-20 1h0m17 0h0m-40 1h0m18 0h0m11 0h0m7 0h0m16 0h0m-25 1h0m-4 1h0m11 0h0m8 0h0m11 0h0m-34 1h0m22 0h0m3 0h0m-28 1h0m4 0h0m5 0h0m3 0h0m9 0h0m-4 1h0m-12 1h0m7 0h0m4 0h0m5 0h0m5 0h0m5 0h0m-17 1h0m2 0h0m2 0h0m1 1h0m13 0h0m-8 1h0m2 0h0m-31 1h0m18 0h0m4 0h0m13 0h0m16 0h0m-41 1h0m1 0h0m13 0h0m10 0h0m12 0h0m-32 1h0m16 0h0m5 0h0m-32 1h0m13 0h0m10 0h0m1 0h0m4 0h0m-28 1h0m8 0h0m7 0h0m1 0h0m1 0h0m1 0h0m22 0h0m1 0h0m-30 1h0m16 0h0m8 0h0m-24 1h0m1 0h0m3 0h0m4 0h0m3 0h0m4 0h0m-15 1h0m3 0h0m15 0h0m-20 1h0m18 0h0m-25 1h0m12 0h0m5 0h0m1 0h0m1 0h0m1 0h0m1 0h0m6 0h0m-15 1h0m2 0h0m5 0h0m1 0h0m-25 1h0m9 0h0m24 0h0m9 0h0m-38 1h0m14 0h0m2 0h0m8 0h0m-19 1h0m4 0h0m2 0h0m3 0h0m2 0h0m4 0h0m-6 1h0m4 0h0m4 0h0m8 0h0m-34 1h0m12 0h0m5 0h0m1 0h0m11 0h0m1 0h0m-24 1h0m19 0h0m-10 1h0m6 0h0m4 0h0m7 0h0m12 0h0m-28 1h0m1 0h0m4 0h0m2 0h0m5 0h0m2 0h0m4 0h0m4 0h0m-37 1h0m1 0h0m19 0h0m1 0h0m2 0h0m1 0h0m2 0h0m7 0h0m9 0h0m-48 1h0m12 0h0m26 0h0m10 0h0m-29 1h0m9 0h0m2 0h0m17 0h0m3 0h0m-46 1h0m13 0h0m3 0h0m46 0h0m-51 1h0m9 0h0m2 0h0m7 0h0m3 0h0m-28 1h0m9 0h0m13 0h0m-14 1h0m4 0h0m4 0h0m2 0h0m1 0h0m13 0h0m2 0h0m-40 1h0m8 0h0m3 0h0m7 0h0m2 0h0m5 0h0m11 0h0m5 0h0m14 1h0m-50 1h0m5 0h0m6 0h0m3 0h0m9 0h0m3 0h0m2 0h0m7 0h0m-31 1h0m1 0h0m6 0h0m1 0h0m3 0h0m13 0h0m-21 1h0m9 0h0m3 0h0m1 0h0m6 0h0m7 0h0m-32 1h0m2 0h0m2 0h0m1 0h0m3 0h0m2 0h0m3 0h0m1 0h0m4 0h0m5 0h0m-25 1h0m2 0h0m5 0h0m4 0h0m1 0h0m2 0h0m5 0h0m1 0h0m5 0h0m20 0h0m-45 1h0m3 0h0m10 0h0m16 0h0m1 0h0m5 0h0m-42 1h0m2 0h0m3 0h0m5 0h0m1 0h0m5 0h0m3 0h0m5 0h0m3 0h0m10 0h0m7 0h0m-46 1h0m28 0h0m3 0h0m5 0h0m2 0h0m-27 1h0m4 0h0m4 0h0m6 0h0m1 0h0m4 0h0m8 0h0m1 0h0m1 0h0m-26 1h0m26 0h0m-30 1h0m3 0h0m2 0h0m4 0h0m5 0h0m1 0h0m2 0h0m1 0h0m4 0h0m1 0h0m1 0h0m2 0h0m2 0h0m5 0h0m-30 1h0m4 0h0m1 0h0m4 0h0m5 0h0m2 0h0m2 0h0m2 0h0m7 0h0m-29 1h0m1 0h0m1 0h0m3 0h0m2 0h0m4 0h0m2 0h0m1 0h0m8 0h0m-37 1h0m13 0h0m9 0h0m5 0h0m1 0h0m12 0h0m5 0h0m9 0h0m1 0h0m11 0h0m-48 1h0m1 0h0m3 0h0m1 0h0m2 0h0m5 0h0m8 0h0m1 0h0m8 0h0m-39 1h0m12 0h0m4 0h0m1 0h0m1 0h0m17 0h0m7 0h0m-36 1h0m7 0h0m3 0h0m10 0h0m1 0h0m3 0h0m16 0h0m-48 1h0m19 0h0m1 0h0m1 0h0m14 0h0m1 0h0m1 0h0m-28 1h0m4 0h0m1 0h0m2 0h0m3 0h0m2 0h0m6 0h0m1 0h0m1 0h0m2 0h0m2 0h0m-30 1h0m6 0h0m3 0h0m3 0h0m3 0h0m1 0h0m10 0h0m3 0h0m5 0h0m4 0h0m-28 1h0m3 0h0m4 0h0m3 0h0m1 0h0m-20 1h0m1 0h0m2 0h0m3 0h0m3 0h0m7 0h0m6 0h0m1 0h0m1 0h0m2 0h0m8 0h0m-32 1h0m5 0h0m5 0h0m8 0h0m11 0h0m10 0h0m-41 1h0m1 0h0m9 0h0m3 0h0m5 0h0m10 0h0m2 0h0m-35 1h0m7 0h0m3 0h0m6 0h0m4 0h0m13 0h0m10 0h0m-43 1h0m17 0h0m6 0h0m2 0h0m2 0h0m8 0h0m3 0h0m-35 1h0m6 0h0m3 0h0m3 0h0m1 0h0m3 0h0m1 0h0m1 0h0m1 0h0m1 0h0m3 0h0m4 0h0m2 0h0m-24 1h0m1 0h0m1 0h0m2 0h0m11 0h0m2 0h0m4 0h0m5 0h0m4 0h0m1 0h0m4 0h0m7 0h0m3 0h0m-48 1h0m11 0h0m3 0h0m17 0h0m10 0h0m-31 1h0m4 0h0m11 0h0m22 0h0"/><path stroke="#b12a90" stroke-opacity="0.75" d="M131 110h0m2 0h0m-10 1h0m7 2h0m-12 3h0m11 4h0m11 0h0m-10 2h0m1 0h0m6 0h0m2 0h0m-9 1h0m6 0h0m-19 1h0m9 1h0m23 0h0m2 0h0m-18 1h0m-11 1h0m12 1h0m1 1h0m-19 1h0m13 0h0m-2 1h0m6 0h0m2 0h0m-9 1h0m5 0h0m12 0h0m2 0h0m12 0h0m-13 1h0m-23 2h0m3 0h0m12 0h0m2 0h0m6 0h0m-21 2h0m4 0h0m1 0h0m4 0h0m3 0h0m3 0h0m12 1h0m-35 1h0m19 0h0m3 0h0m7 0h0m-5 1h0m-16 1h0m1 0h0m4 0h0m2 0h0m5 0h0m-10 1h0m15 0h0m6 0h0m-21 1h0m10 0h0m17 0h0m-37 1h0m11 0h0m12 0h0m2 0h0m15 0h0m-24 1h0m-10 1h0m11 0h0m4 0h0m1 0h0m3 0h0m1 0h0m-15 1h0m4 0h0m2 0h0m-7 1h0m4 0h0m7 0h0m7 0h0m12 0h0m-21 1h0m7 0h0m1 0h0m11 0h0m11 0h0m-49 1h0m3 0h0m3 0h0m7 0h0m2 0h0m3 0h0m1 0h0m1 0h0m-10 1h0m9 0h0m4 0h0m1 0h0m2 0h0m3 0h0m9 0h0m-31 1h0m15 1h0m6 0h0m-14 1h0m5 0h0m19 0h0m-19 1h0m2 0h0m1 0h0m8 0h0m-26 1h0m8 0h0m13 0h0m-12 1h0m13 0h0m-13 1h0m2 0h0m1 0h0m8 0h0m11 0h0m-37 1h0m11 0h0m8 0h0m6 0h0m2 0h0m-24 1h0m5 0h0m17 0h0m3 0h0m-23 1h0m2 0h0m5 0h0m10 0h0m8 0h0m7 0h0m-40 1h0m2 0h0m11 0h0m35 0h0m-8 1h0m-38 1h0m7 0h0m14 0h0m13 0h0m-34 1h0m17 0h0m7 0h0m7 0h0m2 0h0m-32 1h0m16 0h0m7 0h0m-19 1h0m7 0h0m15 0h0m17 0h0m2 0h0m-37 1h0m7 0h0m3 0h0m-12 1h0m1 0h0m5 0h0m1 0h0m2 0h0m7 0h0m-34 1h0m22 0h0m10 0h0m9 0h0m5 0h0m8 0h0m-42 1h0m3 0h0m9 0h0m14 0h0m5 0h0m-35 1h0m12 0h0m14 0h0m7 0h0m-13 1h0m1 0h0m1 0h0m8 0h0m7 0h0m-28 1h0m1 0h0m1 0h0m1 0h0m14 0h0m9 0h0m-19 1h0m12 0h0m-35 1h0m5 0h0m21 0h0m5 0h0m4 0h0m3 0h0m-31 1h0m11 0h0m1 0h0m1 0h0m5 0h0m4 0h0m2 0h0m9 0h0m6 0h0m-39 1h0m4 0h0m10 0h0m3 0h0m4 0h0m8 0h0m2 0h0m6 0h0m3 0h0m4 0h0m-39 1h0m5 0h0m7 0h0m1 0h0m1 0h0m5 0h0m5 0h0m-26 1h0m6 0h0m1 0h0m3 0h0m2 0h0m3 0h0m9 0h0m2 0h0m-26 1h0m1 0h0m3 0h0m5 0h0m2 0h0m3 0h0m6 0h0m1 0h0m8 0h0m-32 1h0m1 0h0m7 0h0m9 0h0m14 0h0m2 0h0m-28 1h0m1 0h0m6 0h0m1 0h0m2 0h0m8 0h0m4 0h0m4 0h0m-19 1h0m3 0h0m11 0h0m9 0h0m9 0h0m-47 1h0m13 0h0m15 0h0m2 0h0m3 0h0m24 0h0m-49 1h0m3 0h0m2 0h0m1 0h0m5 0h0m3 0h0m13 0h0m3 0h0m-29 1h0m3 0h0m3 0h0m7 0h0m8 0h0m9 0h0m1 0h0m-7 1h0m3 0h0m13 0h0m14 0h0m-63 1h0m5 0h0m15 0h0m2 0h0m5 0h0m3 0h0m1 0h0m2 0h0m6 0h0m1 0h0m-29 1h0m31 0h0"/><path stroke="#330597" stroke-opacity="1.0" d="M81 103h0m-7 12h0m5 0h0m-5 3h0m15 1h0m-15 2h0m1 1h0m5 2h0m-6 1h0m-40 1h0m53 3h0m-3 1h0m3 1h0m-4 2h0m12 17h0m1 0h0m-4 2h0m4 3h0m-21 4h0m17 1h0m4 2h0m9 15h0m-13 6h0m-6 1h0m15 5h0"/><path stroke="#e16462" stroke-opacity="0.75" d="M104 48h0m-8 4h0m-2 8h0m7 4h0m13 11h0m-8 4h0m-2 1h0m2 10h0m2 0h0m12 1h0m-16 3h0m-8 1h0m6 0h0m-11 1h0m9 0h0m1 0h0m5 0h0m-21 1h0m17 0h0m15 0h0m-19 1h0m8 0h0m12 0h0m-40 1h0m26 0h0m-23 1h0m9 0h0m6 0h0m-8 1h0m7 0h0m7 0h0m6 0h0m-17 1h0m20 0h0m4 0h0m-25 1h0m4 0h0m9 0h0m7 0h0m3 1h0m6 0h0m-30 1h0m1 0h0m6 0h0m2 0h0m7 0h0m1 0h0m-16 1h0m4 0h0m13 0h0m2 0h0m1 0h0m-12 1h0m3 0h0m-12 2h0m4 0h0m3 0h0m11 0h0m2 0h0m4 0h0m-25 1h0m5 0h0m5 0h0m3 0h0m8 0h0m10 0h0m-42 1h0m11 0h0m3 0h0m6 0h0m3 0h0m8 0h0m-9 1h0m7 0h0m7 0h0m-14 1h0m2 0h0m1 0h0m2 0h0m4 0h0m1 0h0m16 0h0m-37 1h0m2 0h0m1 0h0m10 0h0m4 0h0m2 0h0m1 0h0m2 0h0m8 0h0m-38 1h0m15 0h0m1 0h0m2 0h0m4 0h0m1 0h0m8 0h0m-24 1h0m8 0h0m7 0h0m5 0h0m11 0h0m-32 1h0m4 0h0m13 0h0m25 0h0m-31 1h0m2 0h0m6 0h0m5 0h0m4 0h0m5 0h0m-29 1h0m3 0h0m1 0h0m11 0h0m1 0h0m5 0h0m29 0h0m-46 1h0m4 0h0m5 0h0m3 0h0m5 0h0m2 0h0m1 0h0m-14 1h0m6 0h0m-16 1h0m6 0h0m5 0h0m4 0h0m1 0h0m1 0h0m1 0h0m8 0h0m5 0h0m2 0h0m6 0h0m-33 1h0m5 0h0m8 0h0m7 0h0m3 0h0m-39 1h0m7 0h0m4 0h0m2 0h0m5 0h0m3 0h0m6 0h0m7 0h0m-19 1h0m1 0h0m5 0h0m2 0h0m2 0h0m3 0h0m3 0h0m1 0h0m3 0h0m3 0h0m3 0h0m33 0h0m-71 1h0m10 0h0m5 0h0m4 0h0m7 0h0m3 0h0m2 0h0m4 0h0m1 0h0m-24 1h0m16 0h0m3 0h0m5 0h0m14 0h0m-40 1h0m7 0h0m1 0h0m2 0h0m-4 1h0m9 0h0m5 0h0m1 0h0m1 0h0m4 0h0m6 0h0m16 0h0m-57 1h0m6 0h0m5 0h0m1 0h0m1 0h0m4 0h0m4 0h0m2 0h0m3 0h0m12 0h0m5 0h0m-34 1h0m14 0h0m2 0h0m2 0h0m3 0h0m1 0h0m4 0h0m2 0h0m3 0h0m-49 1h0m14 0h0m7 0h0m3 0h0m5 0h0m1 0h0m1 0h0m4 0h0m1 0h0m4 0h0m2 0h0m5 0h0m1 0h0m2 0h0m1 0h0m-37 1h0m9 0h0m4 0h0m13 0h0m1 0h0m2 0h0m-40 1h0m15 0h0m3 0h0m1 0h0m8 0h0m4 0h0m5 0h0m13 0h0m-30 1h0m4 0h0m6 0h0m5 0h0m2 0h0m4 0h0m-24 1h0m2 0h0m9 0h0m1 0h0m17 0h0m-41 1h0m11 0h0m8 0h0m2 0h0m7 0h0m7 0h0m12 0h0m-33 1h0m2 0h0m3 0h0m2 0h0m5 0h0m3 0h0m4 0h0m6 0h0m6 0h0m-24 1h0m3 0h0m3 0h0m1 0h0m2 0h0m2 0h0m4 0h0m4 0h0m21 0h0m-41 1h0m3 0h0m3 0h0m4 0h0m2 0h0m2 0h0m9 0h0m-25 1h0m3 0h0m2 0h0m2 0h0m1 0h0m4 0h0m2 0h0m12 0h0m-35 1h0m12 0h0m2 0h0m3 0h0m1 0h0m2 0h0m3 0h0m2 0h0m2 0h0m27 0h0m-47 1h0m4 0h0m6 0h0m2 0h0m7 0h0m4 0h0m4 0h0m-33 1h0m18 0h0m2 0h0m12 0h0m-25 1h0m3 0h0m22 0h0m-22 1h0m3 0h0m5 0h0m1 0h0m1 0h0m20 0h0m-23 1h0m1 0h0m2 0h0m1 0h0m2 0h0m2 0h0m8 0h0m2 0h0m-27 1h0m2 0h0m2 0h0m1 0h0m3 0h0m14 0h0m-25 1h0m6 0h0m5 0h0m1 0h0m6 0h0m1 0h0m-19 1h0m1 0h0m1 0h0m2 0h0m9 0h0m1 0h0m2 0h0m1 0h0m-23 1h0m22 0h0m3 0h0m-16 1h0m2 0h0m3 0h0m4 0h0m2 0h0m-11 1h0m12 0h0m11 0h0m-24 1h0m5 0h0m3 0h0m2 0h0m9 0h0m-14 1h0m3 0h0m2 0h0m4 0h0m-6 1h0m4 0h0m2 0h0m1 0h0m5 0h0m-13 1h0m1 0h0m3 0h0m4 0h0m-14 1h0m34 0h0m-18 1h0m11 0h0m-15 1h0m-14 1h0m16 0h0m-7 1h0m3 0h0m35 0h0m-44 2h0m0 2h0m2 0h0m2 0h0m1 0h0m14 0h0m-14 1h0m6 0h0m-11 1h0m6 0h0m16 0h0m28 0h0m-51 1h0m7 0h0m11 0h0m9 0h0m-24 1h0m7 0h0m9 0h0m9 0h0m-20 3h0m-4 1h0m4 0h0m1 1h0m3 0h0m11 0h0m22 2h0m-42 1h0m4 0h0m13 0h0m16 1h0m-24 1h0m-2 1h0m8 0h0m0 1h0m-10 1h0m5 0h0m-9 1h0m3 0h0m9 1h0m2 0h0m7 0h0m-5 3h0"/><path stroke="#e16462" stroke-opacity="0.75" d="M93 68h0m2 1h0m10 1h0m2 2h0m-11 13h0m26 4h0m-19 2h0m-9 5h0m-7 3h0m12 0h0m7 0h0m2 0h0m6 1h0m-21 1h0m4 1h0m16 0h0m-24 1h0m7 0h0m5 0h0m-6 2h0m10 0h0m9 1h0m-23 1h0m8 0h0m5 0h0m-13 1h0m1 0h0m6 0h0m3 0h0m13 0h0m4 0h0m3 0h0m-25 1h0m14 0h0m-12 1h0m20 0h0m-37 1h0m14 0h0m2 0h0m12 0h0m-11 1h0m1 0h0m5 0h0m5 0h0m2 0h0m-27 1h0m5 0h0m1 0h0m21 0h0m8 0h0m21 0h0m-45 1h0m1 0h0m4 0h0m2 0h0m16 0h0m-27 1h0m4 0h0m3 0h0m2 0h0m7 0h0m2 0h0m-24 1h0m2 0h0m4 0h0m6 0h0m9 0h0m1 0h0m1 0h0m8 0h0m4 0h0m-27 1h0m10 0h0m2 0h0m7 0h0m4 0h0m1 0h0m-35 1h0m17 0h0m2 0h0m3 0h0m4 0h0m5 0h0m3 0h0m3 0h0m6 0h0m-38 1h0m2 0h0m4 0h0m4 0h0m2 0h0m12 0h0m17 0h0m-35 1h0m8 0h0m4 0h0m1 0h0m-14 1h0m7 0h0m6 0h0m2 0h0m6 0h0m5 0h0m1 0h0m-23 1h0m3 0h0m-3 1h0m9 0h0m1 0h0m2 0h0m1 0h0m7 0h0m2 0h0m-21 1h0m1 0h0m1 0h0m1 0h0m1 0h0m6 0h0m4 0h0m2 0h0m4 0h0m-32 1h0m2 0h0m3 0h0m6 0h0m7 0h0m6 0h0m4 0h0m1 0h0m5 0h0m-27 1h0m1 0h0m10 0h0m5 0h0m1 0h0m1 0h0m4 0h0m6 0h0m2 0h0m-35 1h0m8 0h0m1 0h0m5 0h0m2 0h0m2 0h0m1 0h0m10 0h0m-27 1h0m2 0h0m11 0h0m1 0h0m6 0h0m1 0h0m-23 1h0m14 0h0m2 0h0m1 0h0m5 0h0m2 0h0m3 0h0m2 0h0m-42 1h0m21 0h0m3 0h0m3 0h0m1 0h0m3 0h0m2 0h0m1 0h0m6 0h0m1 0h0m-25 1h0m6 0h0m1 0h0m10 0h0m1 0h0m2 0h0m2 0h0m18 0h0m-46 1h0m9 0h0m10 0h0m1 0h0m15 0h0m-21 1h0m3 0h0m2 0h0m4 0h0m3 0h0m1 0h0m3 0h0m19 0h0m11 0h0m-50 1h0m4 0h0m5 0h0m7 0h0m4 0h0m5 0h0m-23 1h0m5 0h0m1 0h0m2 0h0m-20 1h0m11 0h0m2 0h0m7 0h0m11 0h0m-19 1h0m1 0h0m2 0h0m5 0h0m10 0h0m1 0h0m3 0h0m3 0h0m5 0h0m-26 1h0m16 0h0m7 0h0m-44 1h0m23 0h0m1 0h0m1 0h0m1 0h0m4 0h0m2 0h0m1 0h0m3 0h0m3 0h0m-29 1h0m2 0h0m10 0h0m20 0h0m-25 1h0m5 0h0m7 0h0m4 0h0m2 0h0m3 0h0m2 0h0m-22 1h0m3 0h0m3 0h0m2 0h0m7 0h0m1 0h0m2 0h0m-9 1h0m3 0h0m8 0h0m4 0h0m-15 1h0m2 0h0m1 0h0m4 0h0m4 0h0m3 0h0m-37 1h0m13 0h0m11 0h0m7 0h0m-12 1h0m1 0h0m2 0h0m2 0h0m3 0h0m1 0h0m2 0h0m3 0h0m1 0h0m4 0h0m10 0h0m-36 1h0m5 0h0m10 0h0m1 0h0m4 0h0m2 0h0m-16 1h0m1 0h0m1 0h0m1 0h0m3 0h0m3 0h0m3 0h0m2 0h0m18 0h0m-50 1h0m12 0h0m11 0h0m-6 1h0m4 0h0m10 0h0m9 0h0m-27 1h0m2 0h0m7 0h0m11 0h0m8 0h0m1 0h0m-26 1h0m2 0h0m12 0h0m-10 1h0m5 0h0m3 0h0m-10 1h0m1 0h0m5 0h0m3 0h0m-11 1h0m7 0h0m3 0h0m6 0h0m1 0h0m3 0h0m3 0h0m1 1h0m4 0h0m5 0h0m2 0h0m-28 1h0m9 0h0m-7 1h0m-12 1h0m13 0h0m12 0h0m2 0h0m3 0h0m-25 1h0m4 0h0m2 0h0m1 0h0m7 0h0m6 0h0m-8 1h0m-10 1h0m2 0h0m4 0h0m3 0h0m-9 1h0m3 0h0m10 0h0m-15 1h0m12 0h0m1 0h0m7 0h0m-21 2h0m24 0h0m-17 1h0m6 1h0m1 0h0m8 0h0m-24 1h0m7 0h0m15 0h0m-20 1h0m-2 1h0m17 0h0m3 1h0m-4 2h0m1 1h0m15 0h0m-12 1h0m-18 2h0m12 1h0m25 1h0m7 0h0m-43 2h0m8 0h0m8 0h0m10 1h0m-15 1h0m-7 1h0m20 0h0m16 1h0m-30 1h0m4 0h0m26 1h0m-26 1h0m5 0h0m1 0h0m1 0h0m-19 1h0m8 0h0m16 0h0"/><path stroke="#d35171" stroke-opacity="0.75" d="M110 87h0m-3 6h0m-9 2h0m26 3h0m-15 1h0m6 1h0m-5 1h0m23 0h0m-30 1h0m16 1h0m-17 1h0m6 0h0m3 1h0m7 1h0m-26 1h0m20 0h0m4 0h0m2 0h0m1 0h0m-10 2h0m16 0h0m7 0h0m-26 1h0m11 0h0m-12 1h0m16 0h0m-20 1h0m9 0h0m5 0h0m1 0h0m-10 1h0m8 0h0m3 0h0m2 0h0m-26 1h0m13 0h0m12 0h0m1 0h0m8 0h0m-25 1h0m-5 1h0m1 0h0m15 0h0m5 0h0m1 0h0m-12 1h0m1 0h0m1 0h0m3 0h0m1 0h0m6 0h0m-35 1h0m4 0h0m13 0h0m8 0h0m2 0h0m1 0h0m3 0h0m9 0h0m-38 1h0m2 0h0m24 0h0m2 0h0m2 0h0m1 0h0m8 0h0m-27 1h0m11 0h0m2 0h0m1 0h0m3 0h0m1 0h0m6 0h0m1 0h0m1 0h0m-16 1h0m2 0h0m4 0h0m5 0h0m5 0h0m2 0h0m3 0h0m-31 1h0m9 0h0m2 0h0m7 0h0m12 0h0m1 0h0m1 0h0m-23 1h0m3 0h0m3 0h0m4 0h0m1 0h0m2 0h0m1 0h0m-11 1h0m5 0h0m8 0h0m1 0h0m3 0h0m-21 1h0m5 0h0m2 0h0m2 0h0m1 0h0m10 0h0m3 0h0m-28 1h0m4 0h0m10 0h0m2 0h0m5 0h0m4 0h0m4 0h0m-45 1h0m24 0h0m5 0h0m2 0h0m1 0h0m1 0h0m1 0h0m2 0h0m6 0h0m-29 1h0m5 0h0m3 0h0m2 0h0m3 0h0m1 0h0m1 0h0m3 0h0m7 0h0m6 0h0m4 0h0m4 0h0m7 0h0m-43 1h0m2 0h0m7 0h0m2 0h0m1 0h0m4 0h0m4 0h0m5 0h0m1 0h0m3 0h0m-28 1h0m12 0h0m1 0h0m8 0h0m3 0h0m3 0h0m1 0h0m11 0h0m-51 1h0m9 0h0m5 0h0m9 0h0m1 0h0m1 0h0m4 0h0m6 0h0m1 0h0m3 0h0m-29 1h0m10 0h0m10 0h0m1 0h0m1 0h0m3 0h0m-25 1h0m10 0h0m1 0h0m2 0h0m2 0h0m5 0h0m2 0h0m10 0h0m-31 1h0m9 0h0m2 0h0m4 0h0m2 0h0m1 0h0m1 0h0m1 0h0m1 0h0m10 0h0m1 0h0m3 0h0m-31 1h0m1 0h0m1 0h0m3 0h0m14 0h0m3 0h0m2 0h0m2 0h0m-35 1h0m10 0h0m5 0h0m6 0h0m2 0h0m3 0h0m2 0h0m1 0h0m3 0h0m4 0h0m6 0h0m-41 1h0m10 0h0m5 0h0m1 0h0m3 0h0m3 0h0m2 0h0m3 0h0m14 0h0m1 0h0m-26 1h0m3 0h0m3 0h0m3 0h0m4 0h0m4 0h0m1 0h0m5 0h0m-38 1h0m7 0h0m1 0h0m5 0h0m8 0h0m5 0h0m-31 1h0m11 0h0m1 0h0m2 0h0m3 0h0m1 0h0m3 0h0m3 0h0m1 0h0m1 0h0m1 0h0m4 0h0m7 0h0m4 0h0m-37 1h0m6 0h0m1 0h0m7 0h0m3 0h0m2 0h0m2 0h0m2 0h0m1 0h0m3 0h0m5 0h0m1 0h0m2 0h0m-28 1h0m1 0h0m6 0h0m1 0h0m3 0h0m1 0h0m1 0h0m3 0h0m2 0h0m2 0h0m2 0h0m1 0h0m7 0h0m3 0h0m2 0h0m-47 1h0m12 0h0m8 0h0m3 0h0m3 0h0m3 0h0m3 0h0m1 0h0m-35 1h0m7 0h0m3 0h0m5 0h0m4 0h0m7 0h0m1 0h0m3 0h0m1 0h0m3 0h0m1 0h0m2 0h0m12 0h0m-36 1h0m7 0h0m1 0h0m6 0h0m1 0h0m1 0h0m1 0h0m1 0h0m5 0h0m1 0h0m2 0h0m-22 1h0m10 0h0m1 0h0m3 0h0m1 0h0m5 0h0m-26 1h0m6 0h0m2 0h0m2 0h0m1 0h0m5 0h0m2 0h0m11 0h0m6 0h0m-40 1h0m13 0h0m2 0h0m3 0h0m3 0h0m1 0h0m5 0h0m3 0h0m3 0h0m7 0h0m-39 1h0m4 0h0m3 0h0m2 0h0m5 0h0m3 0h0m1 0h0m3 0h0m2 0h0m3 0h0m23 0h0m-47 1h0m7 0h0m3 0h0m1 0h0m1 0h0m1 0h0m7 0h0m1 0h0m2 0h0m1 0h0m5 0h0m2 0h0m2 0h0m-38 1h0m15 0h0m3 0h0m4 0h0m4 0h0m1 0h0m2 0h0m1 0h0m2 0h0m1 0h0m1 0h0m19 0h0m-47 1h0m2 0h0m1 0h0m1 0h0m4 0h0m4 0h0m1 0h0m1 0h0m1 0h0m2 0h0m5 0h0m10 0h0m-29 1h0m1 0h0m10 0h0m3 0h0m3 0h0m5 0h0m3 0h0m-28 1h0m6 0h0m1 0h0m8 0h0m1 0h0m4 0h0m5 0h0m3 0h0m2 0h0m1 0h0m8 0h0m-38 1h0m1 0h0m1 0h0m3 0h0m5 0h0m1 0h0m1 0h0m2 0h0m1 0h0m8 0h0m-25 1h0m2 0h0m1 0h0m6 0h0m1 0h0m2 0h0m2 0h0m4 0h0m3 0h0m2 0h0m2 0h0m-26 1h0m5 0h0m1 0h0m3 0h0m3 0h0m2 0h0m2 0h0m1 0h0m2 0h0m4 0h0m2 0h0m3 0h0m-27 1h0m5 0h0m6 0h0m1 0h0m1 0h0m6 0h0m7 0h0m6 0h0m-29 1h0m3 0h0m3 0h0m1 0h0m3 0h0m1 0h0m2 0h0m1 0h0m6 0h0m5 0h0m2 0h0m-25 1h0m1 0h0m1 0h0m1 0h0m3 0h0m5 0h0m5 0h0m2 0h0m8 0h0m2 0h0m-35 1h0m3 0h0m7 0h0m1 0h0m2 0h0m11 0h0m1 0h0m-25 1h0m2 0h0m3 0h0m4 0h0m1 0h0m3 0h0m1 0h0m1 0h0m4 0h0m1 0h0m-17 1h0m7 0h0m2 0h0m5 0h0m14 0h0m6 0h0m-29 1h0m4 0h0m1 0h0m2 0h0m4 0h0m15 0h0m-33 1h0m4 0h0m3 0h0m5 0h0m2 0h0m2 0h0m2 0h0m4 0h0m2 0h0m2 0h0m1 0h0m1 0h0m2 0h0m-24 1h0m3 0h0m5 0h0m1 0h0m1 0h0m6 0h0m7 0h0m-26 1h0m2 0h0m5 0h0m2 0h0m6 0h0m8 0h0m5 0h0m3 0h0m-38 1h0m6 0h0m3 0h0m6 0h0m2 0h0m14 0h0m3 0h0m-26 1h0m3 0h0m4 0h0m11 0h0m3 0h0m4 0h0m18 0h0m3 0h0m-50 1h0m5 0h0m4 0h0m1 0h0m1 0h0m7 0h0m7 0h0m2 0h0m11 0h0m-32 1h0m1 0h0m4 0h0m4 0h0m3 0h0m3 0h0m1 0h0m5 0h0m4 0h0m1 0h0m5 0h0m7 0h0m-41 1h0m5 0h0m1 0h0m1 0h0m2 0h0m2 0h0m5 0h0m6 0h0m16 0h0m-41 1h0m2 0h0m5 0h0m1 0h0m6 0h0m1 0h0m1 0h0m4 0h0m1 0h0m2 0h0m1 0h0m6 0h0m5 0h0m2 0h0m1 0h0m5 0h0m-44 1h0m6 0h0m1 0h0m1 0h0m1 0h0m6 0h0m3 0h0m10 0h0m1 0h0m1 0h0m-20 1h0m2 0h0m3 0h0m2 0h0m10 0h0m1 0h0m1 0h0m15 0h0m-41 1h0m8 0h0m3 0h0m5 0h0m1 0h0m6 0h0m4 0h0m-10 1h0m3 0h0m-13 1h0m2 0h0m2 0h0m3 0h0m3 0h0m1 0h0m1 0h0m3 0h0m2 0h0m1 0h0m1 0h0m2 0h0m-32 1h0m8 0h0m9 0h0m1 0h0m3 0h0m3 0h0m1 0h0m2 0h0m1 0h0m4 0h0m8 0h0m-31 1h0m1 0h0m11 0h0m8 0h0m10 0h0m-39 1h0m9 0h0m8 1h0m1 0h0m4 0h0m4 0h0m5 0h0m4 0h0m8 0h0m-39 1h0m5 0h0m1 0h0m6 0h0m1 0h0m3 0h0m1 0h0m4 0h0m4 0h0m6 0h0m-21 1h0m1 0h0m3 0h0m2 0h0m11 0h0m2 0h0m24 0h0m-50 1h0m4 0h0m8 0h0m5 0h0m1 0h0m1 0h0m2 0h0m6 0h0m1 0h0m-28 1h0m5 0h0m2 0h0m2 0h0m4 0h0m2 0h0m10 0h0m6 0h0m-33 1h0m7 0h0m10 0h0m5 0h0m1 0h0m4 0h0m-25 1h0m5 0h0m2 0h0m2 0h0m1 0h0m4 0h0m1 0h0m2 0h0m-13 1h0m4 0h0m2 0h0m2 0h0m1 0h0m1 0h0m1 0h0m4 0h0m2 0h0m14 0h0m-29 1h0m1 0h0m15 0h0m12 0h0"/><path stroke="#da5b69" stroke-opacity="0.75" d="M111 51h0m3 19h0m-19 8h0m7 1h0m14 15h0m-2 4h0m9 0h0m-36 2h0m3 2h0m13 0h0m5 0h0m2 0h0m-13 2h0m7 0h0m4 2h0m-13 1h0m23 0h0m9 0h0m-29 1h0m-3 1h0m6 0h0m10 0h0m-17 1h0m10 0h0m12 0h0m7 0h0m-36 1h0m18 0h0m4 0h0m15 0h0m2 0h0m-31 1h0m6 0h0m1 0h0m9 0h0m4 0h0m1 0h0m-39 1h0m9 0h0m8 0h0m18 0h0m2 0h0m14 0h0m-32 1h0m14 0h0m1 0h0m3 0h0m1 0h0m3 0h0m2 0h0m-30 1h0m2 0h0m1 0h0m8 0h0m1 0h0m3 0h0m1 0h0m7 0h0m5 0h0m6 0h0m1 0h0m-20 1h0m12 0h0m2 0h0m2 0h0m2 0h0m6 0h0m-41 1h0m15 0h0m1 0h0m2 0h0m4 0h0m5 0h0m14 0h0m-36 1h0m1 0h0m5 0h0m4 0h0m3 0h0m1 0h0m4 0h0m1 0h0m3 0h0m1 0h0m2 0h0m4 0h0m-32 1h0m17 0h0m1 0h0m3 0h0m4 0h0m1 0h0m15 0h0m-25 1h0m1 0h0m2 0h0m1 0h0m6 0h0m4 0h0m10 0h0m10 0h0m-62 1h0m24 0h0m5 0h0m2 0h0m2 0h0m6 0h0m9 0h0m1 0h0m-37 1h0m4 0h0m7 0h0m3 0h0m1 0h0m1 0h0m2 0h0m5 0h0m3 0h0m1 0h0m-30 1h0m20 0h0m2 0h0m3 0h0m7 0h0m2 0h0m7 0h0m-32 1h0m2 0h0m14 0h0m1 0h0m2 0h0m1 0h0m6 0h0m8 0h0m-27 1h0m12 0h0m4 0h0m4 0h0m-37 1h0m5 0h0m12 0h0m2 0h0m1 0h0m4 0h0m2 0h0m2 0h0m3 0h0m-23 1h0m9 0h0m4 0h0m2 0h0m1 0h0m2 0h0m3 0h0m16 0h0m-39 1h0m2 0h0m5 0h0m2 0h0m7 0h0m2 0h0m1 0h0m2 0h0m5 0h0m1 0h0m-55 1h0m36 0h0m12 0h0m5 0h0m5 0h0m7 0h0m-31 1h0m3 0h0m4 0h0m1 0h0m1 0h0m8 0h0m1 0h0m4 0h0m26 0h0m-49 1h0m6 0h0m6 0h0m1 0h0m5 0h0m18 0h0m-29 1h0m2 0h0m3 0h0m3 0h0m1 0h0m1 0h0m2 0h0m3 0h0m1 0h0m6 0h0m-37 1h0m16 0h0m1 0h0m1 0h0m1 0h0m1 0h0m7 0h0m3 0h0m1 0h0m4 0h0m-15 1h0m1 0h0m9 0h0m1 0h0m6 0h0m19 0h0m-51 1h0m9 0h0m4 0h0m6 0h0m1 0h0m5 0h0m3 0h0m2 0h0m-27 1h0m5 0h0m3 0h0m2 0h0m5 0h0m5 0h0m1 0h0m5 0h0m25 0h0m-45 1h0m3 0h0m2 0h0m1 0h0m7 0h0m1 0h0m5 0h0m9 0h0m-35 1h0m2 0h0m3 0h0m4 0h0m1 0h0m4 0h0m6 0h0m2 0h0m3 0h0m2 0h0m4 0h0m-19 1h0m2 0h0m3 0h0m3 0h0m3 0h0m-23 1h0m1 0h0m2 0h0m3 0h0m2 0h0m5 0h0m2 0h0m7 0h0m2 0h0m3 0h0m1 0h0m10 0h0m-40 1h0m10 0h0m3 0h0m3 0h0m3 0h0m4 0h0m1 0h0m4 0h0m2 0h0m-26 1h0m6 0h0m2 0h0m1 0h0m7 0h0m-13 1h0m3 0h0m1 0h0m8 0h0m1 0h0m4 0h0m1 0h0m27 0h0m-41 1h0m5 0h0m3 0h0m2 0h0m6 0h0m13 0h0m-35 1h0m9 0h0m2 0h0m2 0h0m1 0h0m1 0h0m3 0h0m16 0h0m-30 1h0m5 0h0m4 0h0m2 0h0m2 0h0m12 0h0m-26 1h0m1 0h0m2 0h0m1 0h0m2 0h0m2 0h0m4 0h0m5 0h0m1 0h0m12 0h0m-36 1h0m8 0h0m1 0h0m4 0h0m1 0h0m3 0h0m1 0h0m2 0h0m4 0h0m7 0h0m-47 1h0m25 0h0m2 0h0m2 0h0m1 0h0m1 0h0m7 0h0m-7 1h0m1 0h0m1 0h0m3 0h0m1 0h0m4 0h0m19 0h0m-49 1h0m12 0h0m4 0h0m3 0h0m5 0h0m3 0h0m-16 1h0m7 0h0m7 0h0m2 0h0m1 0h0m2 0h0m5 0h0m-21 1h0m7 0h0m1 0h0m5 0h0m1 0h0m3 0h0m6 0h0m-23 1h0m1 0h0m1 0h0m1 0h0m4 0h0m5 0h0m8 0h0m-22 1h0m12 0h0m1 0h0m1 0h0m1 0h0m1 0h0m5 0h0m2 0h0m4 0h0m10 0h0m-40 1h0m4 0h0m2 0h0m3 0h0m2 0h0m5 0h0m15 0h0m8 0h0m-41 1h0m7 0h0m3 0h0m3 0h0m5 0h0m4 0h0m3 0h0m-18 1h0m2 0h0m4 0h0m4 0h0m3 0h0m-9 1h0m3 0h0m2 0h0m1 0h0m20 0h0m-46 1h0m35 0h0m20 0h0m-42 1h0m8 0h0m4 0h0m7 0h0m-30 1h0m11 0h0m1 0h0m3 0h0m3 0h0m3 0h0m3 0h0m1 0h0m4 0h0m-14 1h0m2 0h0m1 0h0m5 0h0m19 0h0m-29 1h0m4 0h0m6 0h0m8 0h0m-16 1h0m3 0h0m3 0h0m1 0h0m4 0h0m1 0h0m2 0h0m6 0h0m13 0h0m-39 1h0m4 0h0m1 0h0m3 0h0m5 0h0m-8 1h0m11 0h0m1 0h0m1 0h0m17 0h0m-36 1h0m7 0h0m11 0h0m-17 1h0m4 0h0m5 0h0m6 0h0m3 0h0m1 0h0m5 0h0m1 0h0m-24 1h0m8 0h0m5 0h0m6 0h0m4 0h0m1 0h0m17 0h0m-40 1h0m9 0h0m3 0h0m17 0h0m-32 1h0m11 0h0m2 0h0m2 0h0m1 0h0m4 0h0m8 0h0m-50 1h0m31 0h0m16 0h0m1 0h0m-21 1h0m2 0h0m5 0h0m5 0h0m3 0h0m-6 1h0m6 0h0m14 0h0m-23 1h0m3 0h0m-3 1h0m9 0h0m3 0h0m-18 1h0m2 0h0m2 0h0m1 0h0m1 0h0m14 0h0m1 0h0m1 0h0m-22 1h0m4 0h0m2 0h0m1 0h0m1 0h0m6 0h0m1 0h0m17 0h0m3 0h0m-37 1h0m18 0h0m3 0h0m-24 1h0m8 0h0m3 0h0m9 0h0m4 0h0m-10 1h0m-2 1h0m2 0h0m3 0h0m2 0h0m-19 1h0m9 0h0m7 0h0m5 0h0m6 0h0m-27 1h0m6 0h0m4 0h0m1 0h0m12 0h0m4 0h0m-18 1h0m7 0h0m-16 1h0m12 0h0m7 0h0m3 0h0m2 0h0m-8 1h0m26 0h0m-27 1h0m1 0h0m1 0h0m3 0h0m-2 1h0"/><path stroke="#ba3388" stroke-opacity="0.75" d="M136 103h0m-13 6h0m14 1h0m-24 2h0m-15 2h0m41 0h0m-20 1h0m11 0h0m2 3h0m7 0h0m-31 2h0m19 0h0m10 0h0m-4 1h0m1 1h0m1 0h0m-15 1h0m4 0h0m5 0h0m-7 1h0m13 0h0m4 0h0m-9 1h0m2 0h0m-19 1h0m14 0h0m9 0h0m-12 1h0m4 0h0m4 0h0m21 0h0m-24 1h0m-7 1h0m13 0h0m3 0h0m3 0h0m-18 1h0m10 0h0m1 0h0m-22 1h0m19 0h0m11 0h0m-21 1h0m1 0h0m3 0h0m1 0h0m1 0h0m2 0h0m2 0h0m2 0h0m19 0h0m-41 1h0m1 0h0m11 0h0m7 0h0m2 0h0m3 0h0m3 0h0m5 0h0m-15 1h0m2 0h0m1 0h0m-9 1h0m1 0h0m1 0h0m1 0h0m1 0h0m5 0h0m4 0h0m3 0h0m-15 1h0m5 0h0m2 0h0m5 0h0m2 0h0m2 0h0m-18 1h0m12 0h0m2 0h0m-7 1h0m4 0h0m-14 1h0m8 0h0m1 0h0m-12 1h0m4 0h0m23 0h0m7 0h0m-43 1h0m22 0h0m3 0h0m22 0h0m-37 1h0m11 0h0m4 0h0m1 0h0m1 0h0m3 0h0m3 0h0m18 0h0m-42 1h0m4 0h0m6 0h0m5 0h0m1 0h0m11 0h0m-30 2h0m10 0h0m1 0h0m4 0h0m2 0h0m5 0h0m1 0h0m2 0h0m-21 1h0m4 0h0m3 0h0m2 0h0m3 0h0m7 0h0m1 0h0m9 0h0m-26 1h0m7 0h0m1 0h0m1 0h0m4 0h0m1 0h0m5 0h0m2 0h0m-35 1h0m14 0h0m3 0h0m9 0h0m5 0h0m8 0h0m-35 1h0m9 0h0m3 0h0m2 0h0m6 0h0m-16 1h0m10 0h0m2 0h0m2 0h0m5 0h0m2 0h0m3 0h0m3 0h0m-30 1h0m9 0h0m5 0h0m8 0h0m5 0h0m2 0h0m-27 1h0m3 0h0m3 0h0m1 0h0m1 0h0m4 0h0m1 0h0m20 0h0m8 0h0m-49 1h0m7 0h0m4 0h0m5 0h0m1 0h0m1 0h0m9 0h0m8 0h0m8 0h0m-41 1h0m6 0h0m17 0h0m2 0h0m6 0h0m1 0h0m1 0h0m6 0h0m4 0h0m-35 1h0m15 0h0m1 0h0m3 0h0m2 0h0m1 0h0m2 0h0m-33 1h0m3 0h0m15 0h0m9 0h0m4 0h0m3 0h0m4 0h0m-33 1h0m6 0h0m20 0h0m-30 1h0m22 0h0m1 0h0m3 0h0m1 0h0m6 0h0m3 0h0m4 0h0m-41 1h0m14 0h0m1 0h0m2 0h0m2 0h0m4 0h0m7 0h0m1 0h0m4 0h0m-32 1h0m6 0h0m4 0h0m6 0h0m8 0h0m1 0h0m14 0h0m6 0h0m-52 1h0m9 0h0m7 0h0m14 0h0m1 0h0m1 0h0m19 0h0m-39 1h0m17 0h0m4 0h0m2 0h0m2 0h0m14 0h0m-38 1h0m6 0h0m1 0h0m3 0h0m5 0h0m6 0h0m7 0h0m-37 1h0m7 0h0m2 0h0m6 0h0m5 0h0m1 0h0m5 0h0m7 0h0m9 0h0m-34 1h0m2 0h0m10 0h0m6 0h0m4 0h0m4 0h0m2 0h0m-20 1h0m2 0h0m2 0h0m7 0h0m3 0h0m1 0h0m9 0h0m14 0h0m-52 1h0m5 0h0m7 0h0m4 0h0m1 0h0m8 0h0m1 0h0m2 0h0m10 0h0m7 0h0m-47 1h0m10 0h0m3 0h0m3 0h0m1 0h0m3 0h0m4 0h0m8 0h0m-21 1h0m2 0h0m1 0h0m3 0h0m2 0h0m1 0h0m2 0h0m4 0h0m10 0h0m-26 1h0m4 0h0m9 0h0m15 0h0m-56 1h0m30 0h0m4 0h0m3 0h0m2 0h0m2 0h0m2 0h0m4 0h0m1 0h0m20 0h0m3 0h0m-57 1h0m6 0h0m5 0h0m2 0h0m11 0h0m3 0h0m4 0h0m2 0h0m5 0h0m-39 1h0m18 0h0m4 0h0m1 0h0m4 0h0m4 0h0m4 0h0m1 0h0m5 0h0m8 0h0m-43 1h0m3 0h0m6 0h0m9 0h0m4 0h0m10 0h0m1 0h0m6 0h0m3 0h0m-30 1h0m1 0h0m6 0h0m2 0h0m2 0h0m2 0h0m2 0h0m5 0h0m1 0h0m24 0h0m-48 1h0m1 0h0m1 0h0m1 0h0m4 0h0m2 0h0m7 0h0m6 0h0m2 0h0m9 0h0m-40 1h0m9 0h0m1 0h0m4 0h0m1 0h0m2 0h0m2 0h0m1 0h0m5 0h0m4 0h0m7 0h0m1 0h0m-44 1h0m12 0h0m4 0h0m1 0h0m5 0h0m5 0h0m6 0h0m-40 1h0m8 0h0m4 0h0m7 0h0m1 0h0m4 0h0m19 0h0m1 0h0m-21 1h0m6 0h0m2 0h0m7 0h0m3 0h0m1 0h0m-28 1h0m5 0h0m4 0h0m1 0h0m3 0h0m4 0h0m-19 1h0m1 0h0m6 0h0m21 0h0m1 0h0m2 0h0m16 0h0m-53 1h0m4 0h0m8 0h0m1 0h0m3 0h0m3 0h0m7 0h0m1 0h0m3 0h0m7 0h0m8 0h0m6 0h0m-54 1h0m8 0h0m2 0h0m7 0h0m1 0h0m3 0h0m1 0h0m1 0h0m4 0h0m3 0h0m7 0h0m4 0h0m-23 1h0m2 0h0m6 0h0m1 0h0m1 0h0m2 0h0m1 0h0m5 0h0m6 0h0m1 0h0m-36 1h0m2 0h0m3 0h0m1 0h0m5 0h0m1 0h0m12 0h0m4 0h0m3 0h0m2 0h0m2 0h0m16 0h0m-52 1h0m6 0h0m6 0h0m9 0h0m1 0h0m6 0h0m3 0h0m2 0h0m-27 1h0m3 0h0m2 0h0m5 0h0m1 0h0m1 0h0m5 0h0m1 0h0m1 0h0m8 0h0m3 0h0m-36 1h0m1 0h0m14 0h0m3 0h0m4 0h0m1 0h0m1 0h0m10 0h0m1 0h0m7 0h0m1 0h0m-42 1h0m8 0h0m4 0h0m11 0h0m2 0h0m2 0h0"/><path stroke="#cc4778" stroke-opacity="0.75" d="M125 92h0m-12 1h0m-3 12h0m2 0h0m-6 2h0m15 0h0m2 1h0m-20 1h0m13 0h0m11 0h0m3 0h0m-36 2h0m27 0h0m1 0h0m-14 1h0m6 0h0m14 0h0m13 0h0m-24 1h0m2 0h0m-11 1h0m18 0h0m6 0h0m-14 1h0m23 0h0m-29 1h0m2 0h0m3 0h0m1 0h0m-7 1h0m4 0h0m3 0h0m3 0h0m-37 1h0m12 0h0m6 0h0m10 0h0m10 0h0m8 0h0m3 0h0m1 0h0m-15 1h0m11 0h0m-52 1h0m29 0h0m2 0h0m4 0h0m7 0h0m7 0h0m8 0h0m-19 1h0m6 0h0m-18 1h0m19 0h0m2 0h0m-6 1h0m2 0h0m1 0h0m2 0h0m7 0h0m25 0h0m-46 1h0m5 0h0m5 0h0m6 0h0m3 0h0m1 0h0m1 0h0m3 0h0m-47 1h0m22 0h0m11 0h0m2 0h0m1 0h0m2 0h0m13 0h0m-23 1h0m1 0h0m2 0h0m1 0h0m6 0h0m-19 1h0m1 0h0m2 0h0m2 0h0m3 0h0m2 0h0m1 0h0m10 0h0m-24 1h0m14 0h0m4 0h0m3 0h0m4 0h0m-12 1h0m7 0h0m4 0h0m1 0h0m1 0h0m-38 1h0m21 0h0m11 0h0m2 0h0m6 0h0m-18 1h0m5 0h0m13 0h0m9 0h0m-34 1h0m8 0h0m6 0h0m1 0h0m2 0h0m1 0h0m-14 1h0m6 0h0m5 0h0m2 0h0m2 0h0m1 0h0m11 0h0m18 0h0m-39 1h0m3 0h0m4 0h0m3 0h0m1 0h0m10 0h0m-20 1h0m2 0h0m3 0h0m2 0h0m10 0h0m-37 1h0m1 0h0m7 0h0m17 0h0m16 0h0m-33 1h0m13 0h0m6 0h0m3 0h0m2 0h0m3 0h0m2 0h0m5 0h0m-32 1h0m2 0h0m2 0h0m2 0h0m5 0h0m1 0h0m2 0h0m2 0h0m-27 1h0m7 0h0m2 0h0m11 0h0m3 0h0m4 0h0m10 0h0m5 0h0m-37 1h0m4 0h0m1 0h0m2 0h0m4 0h0m7 0h0m14 0h0m1 0h0m-23 1h0m5 0h0m4 0h0m2 0h0m2 0h0m1 0h0m1 0h0m1 0h0m4 0h0m1 0h0m1 0h0m-25 1h0m6 0h0m2 0h0m2 0h0m2 0h0m1 0h0m1 0h0m1 0h0m2 0h0m3 0h0m3 0h0m2 0h0m11 0h0m-39 1h0m8 0h0m4 0h0m1 0h0m11 0h0m5 0h0m5 0h0m-37 1h0m9 0h0m4 0h0m3 0h0m4 0h0m4 0h0m1 0h0m4 0h0m8 0h0m7 0h0m-41 1h0m3 0h0m3 0h0m2 0h0m2 0h0m1 0h0m6 0h0m1 0h0m12 0h0m-36 1h0m11 0h0m11 0h0m6 0h0m7 0h0m-36 1h0m9 0h0m1 0h0m2 0h0m2 0h0m3 0h0m5 0h0m3 0h0m2 0h0m2 0h0m10 0h0m8 0h0m-44 1h0m13 0h0m3 0h0m2 0h0m1 0h0m6 0h0m2 0h0m3 0h0m-16 1h0m2 0h0m3 0h0m3 0h0m1 0h0m1 0h0m6 0h0m4 0h0m1 0h0m1 0h0m-36 1h0m6 0h0m3 0h0m1 0h0m3 0h0m3 0h0m1 0h0m1 0h0m1 0h0m4 0h0m2 0h0m1 0h0m2 0h0m-25 1h0m12 0h0m2 0h0m3 0h0m10 0h0m4 0h0m1 0h0m-33 1h0m2 0h0m2 0h0m5 0h0m1 0h0m4 0h0m3 0h0m2 0h0m2 0h0m4 0h0m3 0h0m1 0h0m3 0h0m-32 1h0m3 0h0m2 0h0m4 0h0m1 0h0m1 0h0m2 0h0m1 0h0m3 0h0m3 0h0m4 0h0m10 0h0m-31 1h0m4 0h0m4 0h0m2 0h0m1 0h0m4 0h0m1 0h0m6 0h0m2 0h0m-25 1h0m2 0h0m3 0h0m1 0h0m2 0h0m2 0h0m4 0h0m1 0h0m4 0h0m2 0h0m2 0h0m1 0h0m1 0h0m12 0h0m-39 1h0m2 0h0m1 0h0m1 0h0m6 0h0m1 0h0m8 0h0m1 0h0m1 0h0m3 0h0m2 0h0m-34 1h0m8 0h0m4 0h0m1 0h0m4 0h0m2 0h0m4 0h0m1 0h0m2 0h0m-21 1h0m1 0h0m9 0h0m2 0h0m4 0h0m6 0h0m6 0h0m1 0h0m1 0h0m5 0h0m4 0h0m-37 1h0m4 0h0m4 0h0m2 0h0m1 0h0m1 0h0m1 0h0m1 0h0m1 0h0m1 0h0m1 0h0m1 0h0m2 0h0m9 0h0m3 0h0m8 0h0m-40 1h0m5 0h0m1 0h0m3 0h0m1 0h0m2 0h0m1 0h0m1 0h0m7 0h0m10 0h0m1 0h0m12 0h0m-44 1h0m8 0h0m1 0h0m1 0h0m10 0h0m2 0h0m1 0h0m6 0h0m13 0h0m-46 1h0m9 0h0m1 0h0m2 0h0m1 0h0m1 0h0m4 0h0m1 0h0m1 0h0m2 0h0m1 0h0m2 0h0m2 0h0m2 0h0m5 0h0m2 0h0m2 0h0m-33 1h0m4 0h0m5 0h0m5 0h0m5 0h0m2 0h0m2 0h0m6 0h0m1 0h0m-27 1h0m2 0h0m1 0h0m1 0h0m1 0h0m2 0h0m18 0h0m2 0h0m2 0h0m16 0h0m-44 1h0m3 0h0m1 0h0m1 0h0m3 0h0m1 0h0m3 0h0m3 0h0m1 0h0m1 0h0m1 0h0m1 0h0m4 0h0m2 0h0m7 0h0m-34 1h0m1 0h0m5 0h0m7 0h0m11 0h0m2 0h0m4 0h0m-35 1h0m3 0h0m10 0h0m1 0h0m6 0h0m1 0h0m1 0h0m4 0h0m1 0h0m2 0h0m10 0h0m-31 1h0m3 0h0m1 0h0m1 0h0m2 0h0m2 0h0m4 0h0m1 0h0m1 0h0m3 0h0m1 0h0m2 0h0m7 0h0m3 0h0m-41 1h0m7 0h0m7 0h0m3 0h0m1 0h0m1 0h0m4 0h0m3 0h0m13 0h0m9 0h0m19 0h0m-62 1h0m6 0h0m2 0h0m5 0h0m2 0h0m1 0h0m2 0h0m7 0h0m4 0h0m-25 1h0m1 0h0m6 0h0m1 0h0m1 0h0m2 0h0m1 0h0m1 0h0m1 0h0m4 0h0m3 0h0m17 0h0m-38 1h0m5 0h0m4 0h0m2 0h0m1 0h0m2 0h0m6 0h0m4 0h0m23 0h0m-46 1h0m5 0h0m1 0h0m6 0h0m1 0h0m1 0h0m6 0h0m2 0h0m15 0h0m-37 1h0m2 0h0m9 0h0m4 0h0m2 0h0m8 0h0m2 0h0m8 0h0m-41 1h0m8 0h0m1 0h0m1 0h0m6 0h0m2 0h0m1 0h0m7 0h0m4 0h0m5 0h0m-42 1h0m8 0h0m7 0h0m1 0h0m2 0h0m6 0h0m2 0h0m1 0h0m4 0h0m1 0h0m7 0h0m-36 1h0m8 0h0m2 0h0m9 0h0m1 0h0m1 0h0m2 0h0m3 0h0m5 0h0m8 0h0m-39 1h0m2 0h0m4 0h0m1 0h0m4 0h0m3 0h0m6 0h0m2 0h0m1 0h0m1 0h0m3 0h0m1 0h0m10 0h0m-23 1h0m1 0h0m1 0h0m1 0h0m3 0h0m3 0h0m2 0h0m1 0h0m10 0h0m28 0h0m-59 1h0m3 0h0m9 0h0m1 0h0m1 0h0m1 0h0m1 0h0m4 0h0m4 0h0m5 0h0m5 0h0m-43 1h0m6 0h0m10 0h0m1 0h0m12 0h0m2 0h0m5 0h0m1 0h0m2 0h0m6 0h0m2 0h0m-35 1h0m1 0h0m5 0h0m2 0h0m6 0h0m1 0h0m3 0h0m4 0h0m1 0h0m2 0h0m2 0h0m-28 1h0m4 0h0m1 0h0m2 0h0m1 0h0m2 0h0m3 0h0m8 0h0m15 0h0m1 0h0m-39 1h0m2 0h0m1 0h0m3 0h0m1 0h0m4 0h0m1 0h0m1 0h0m7 0h0m5 0h0m1 0h0m5 0h0m-30 1h0m1 0h0m1 0h0m3 0h0m2 0h0m2 0h0m1 0h0m1 0h0m3 0h0m4 0h0m10 0h0m4 0h0m2 0h0m3 0h0m1 0h0m-35 1h0m8 0h0m3 0h0m6 0h0m2 0h0m12 0h0m3 0h0m-36 1h0m1 0h0m2 0h0m6 0h0m2 0h0m3 0h0m4 0h0m1 0h0m3 0h0m1 0h0m7 0h0m2 0h0m-39 1h0m13 0h0m4 0h0m13 0h0m-29 1h0m8 0h0m1 0h0m5 0h0m2 0h0m1 0h0m4 0h0m9 0h0m10 0h0m8 0h0m-18 1h0m5 0h0"/><path stroke="#f2844b" stroke-opacity="0.83" d="M95 69h0m1 0h0m-2 5h0m10 1h0m-10 1h0m15 3h0m-16 1h0m8 0h0m2 0h0m5 0h0m12 4h0m-32 7h0m2 0h0m9 1h0m10 2h0m-7 1h0m2 0h0m-10 1h0m0 1h0m3 0h0m4 1h0m0 2h0m8 0h0m-22 1h0m7 1h0m9 0h0m-6 1h0m3 0h0m-8 1h0m10 0h0m12 0h0m-24 2h0m6 0h0m6 0h0m-19 1h0m12 0h0m12 0h0m-10 1h0m12 0h0m-17 1h0m11 0h0m-17 1h0m11 0h0m9 2h0m-3 1h0m-9 1h0m2 0h0m3 0h0m5 0h0m-1 1h0m3 1h0m-8 1h0m-6 1h0m-4 1h0m10 0h0m-17 1h0m13 0h0m-7 2h0m8 1h0m8 1h0m3 2h0m-7 1h0m7 0h0m-8 1h0m11 0h0m-12 1h0m4 2h0m3 0h0m-3 2h0m4 0h0m-8 1h0m5 0h0m6 0h0m-4 9h0m35 1h0m-39 5h0m-1 6h0"/><path stroke="#5002a2" stroke-opacity="1.0" d="M86 52h0m-3 22h0m43 16h0m-46 9h0m33 1h0m-35 6h0m6 2h0m-4 2h0m1 0h0m-17 1h0m14 5h0m8 3h0m-17 2h0m2 0h0m3 0h0m9 0h0m-3 1h0m4 0h0m3 1h0m-14 1h0m2 0h0m13 0h0m-15 1h0m4 0h0m4 0h0m1 0h0m-7 1h0m-5 1h0m8 0h0m7 1h0m-3 1h0m-8 1h0m11 0h0m-9 2h0m12 0h0m-8 1h0m39 0h0m-53 1h0m21 0h0m-14 1h0m17 0h0m1 0h0m-15 2h0m-5 1h0m8 0h0m13 0h0m-20 2h0m3 0h0m19 0h0m3 0h0m-1 1h0m-4 1h0m2 0h0m-22 2h0m11 1h0m15 1h0m-19 1h0m-20 1h0m33 0h0m7 1h0m-35 1h0m11 0h0m10 1h0m12 2h0m-5 2h0m2 0h0m4 0h0m-22 1h0m18 0h0m3 0h0m5 0h0m-36 2h0m29 0h0m7 0h0m-10 4h0m8 0h0m-15 1h0m15 0h0m-7 4h0m4 0h0m5 1h0m-9 1h0m7 0h0m-2 3h0m-2 1h0m-13 2h0m17 0h0m-10 1h0m-1 1h0m11 2h0m-3 1h0m6 0h0m-6 1h0m3 2h0m1 0h0m-7 1h0m7 1h0m6 0h0m-27 1h0m24 2h0m-13 1h0m8 0h0"/><path stroke="#a62098" stroke-opacity="0.75" d="M104 113h0m26 4h0m-7 1h0m3 5h0m1 2h0m1 0h0m17 0h0m3 0h0m-4 1h0m4 0h0m-7 1h0m-20 1h0m21 0h0m-2 1h0m-13 1h0m16 1h0m-9 1h0m10 1h0m-13 1h0m20 0h0m3 1h0m-30 2h0m20 0h0m2 0h0m-18 1h0m17 4h0m7 1h0m4 0h0m-13 1h0m-21 1h0m21 0h0m9 0h0m-8 1h0m-15 3h0m10 0h0m17 0h0m-11 1h0m4 1h0m8 1h0m-31 2h0m8 0h0m4 0h0m-4 1h0m6 0h0m14 0h0m-13 1h0m2 0h0m4 0h0m-33 1h0m5 1h0m23 0h0m13 0h0m-37 1h0m11 0h0m4 0h0m3 0h0m-18 1h0m6 0h0m15 1h0m-30 1h0m25 2h0m1 0h0m8 0h0m7 0h0m5 0h0m-27 1h0m1 0h0m7 0h0m16 0h0m-10 1h0m-14 1h0m6 0h0m-23 1h0m26 0h0m1 0h0m-12 1h0m8 0h0m13 0h0m-1 1h0m-24 1h0m33 0h0m-26 1h0m4 0h0m16 0h0m2 0h0m-21 1h0m1 0h0m6 0h0m-22 1h0m4 0h0m3 0h0m0 1h0m1 0h0m11 0h0m2 0h0m16 0h0m4 0h0m14 0h0m-54 1h0m12 0h0m6 1h0m9 0h0m6 0h0m-25 1h0m5 0h0m5 0h0m3 0h0m1 0h0m11 0h0m-21 1h0m1 0h0m-7 1h0m2 0h0m13 0h0m3 0h0m1 0h0m-26 1h0m2 0h0m31 0h0m-41 2h0m13 0h0m20 0h0m-23 1h0m10 0h0m10 0h0m1 0h0m14 0h0m-14 1h0m-6 1h0m1 0h0m2 0h0m1 0h0m9 0h0m5 0h0m-41 1h0m27 0h0m-2 1h0m1 0h0m6 0h0m-15 1h0m20 0h0"/><path stroke="#ed7953" stroke-opacity="0.79" d="M106 66h0m9 7h0m-15 8h0m13 1h0m-8 2h0m-11 1h0m1 3h0m-8 1h0m17 0h0m-8 1h0m4 0h0m-4 1h0m6 0h0m4 1h0m-20 1h0m12 0h0m11 0h0m-2 1h0m2 0h0m-10 2h0m-13 2h0m11 0h0m7 0h0m4 0h0m-19 1h0m9 0h0m14 0h0m-9 1h0m4 0h0m-12 2h0m7 0h0m7 0h0m-21 1h0m17 0h0m-10 1h0m4 0h0m1 0h0m12 0h0m-23 1h0m4 0h0m3 0h0m6 0h0m-12 1h0m1 0h0m5 0h0m8 0h0m-6 1h0m6 0h0m6 0h0m-13 1h0m2 0h0m3 0h0m4 0h0m-20 1h0m25 0h0m-25 1h0m24 0h0m1 0h0m-2 1h0m3 0h0m-32 1h0m33 0h0m-29 1h0m1 0h0m19 0h0m-3 1h0m3 0h0m12 0h0m3 0h0m-17 1h0m10 0h0m12 0h0m-34 1h0m3 0h0m1 0h0m4 0h0m3 0h0m-14 2h0m10 0h0m1 0h0m5 0h0m6 0h0m-11 1h0m10 0h0m1 0h0m2 0h0m-20 1h0m6 0h0m-11 1h0m1 0h0m7 0h0m4 0h0m7 0h0m-19 1h0m1 0h0m1 0h0m7 0h0m6 0h0m-13 1h0m17 0h0m-10 1h0m1 0h0m4 0h0m8 0h0m7 0h0m-13 1h0m1 0h0m-8 1h0m18 0h0m2 0h0m-20 1h0m2 0h0m2 0h0m1 0h0m8 0h0m-13 1h0m1 0h0m3 0h0m1 0h0m2 0h0m-16 1h0m15 0h0m3 0h0m4 0h0m1 0h0m6 0h0m3 0h0m-26 1h0m23 0h0m-37 1h0m18 0h0m11 0h0m7 0h0m7 0h0m-27 1h0m5 0h0m1 0h0m-3 1h0m5 0h0m-1 1h0m-3 1h0m1 0h0m5 0h0m-9 1h0m10 0h0m7 1h0m-5 2h0m4 0h0m-11 1h0m3 0h0m12 0h0m-14 1h0m1 1h0m1 0h0m27 1h0m-34 1h0m-8 1h0m15 0h0m-6 2h0m5 1h0m6 1h0m-5 2h0m5 5h0m1 2h0m6 0h0m2 5h0"/><path stroke="#9c179e" stroke-opacity="0.75" d="M127 98h0m-21 1h0m29 5h0m22 5h0m-21 4h0m5 4h0m-5 2h0m1 1h0m5 0h0m4 4h0m13 0h0m-19 3h0m12 0h0m-8 1h0m1 0h0m11 0h0m-8 2h0m-10 2h0m-3 4h0m15 0h0m-4 1h0m5 3h0m-12 1h0m11 2h0m-8 1h0m-11 2h0m4 0h0m6 0h0m8 0h0m-2 1h0m-9 1h0m11 1h0m17 1h0m-45 1h0m16 0h0m3 0h0m0 2h0m12 3h0m-10 1h0m11 0h0m-15 1h0m3 0h0m-1 1h0m8 0h0m-10 1h0m11 0h0m-13 1h0m-3 1h0m15 3h0m-4 1h0m15 0h0m-9 1h0m-5 1h0m-18 1h0m12 1h0m8 0h0m-5 1h0m1 0h0m-1 1h0m19 0h0m-52 1h0m32 0h0m-27 1h0m21 0h0m20 0h0m16 3h0m-37 1h0m5 1h0m-27 1h0m11 0h0m17 0h0m-9 1h0m4 0h0m33 1h0m-56 1h0m7 2h0m7 0h0m18 0h0m6 0h0m-1 1h0m-8 1h0m19 0h0m-25 1h0m25 0h0m-18 1h0"/><path stroke="#6a00a8" stroke-opacity="1.0" d="M85 96h0m33 0h0m7 3h0m9 5h0m14 6h0m-72 1h0m6 0h0m-7 1h0m8 2h0m-2 2h0m2 0h0m-18 5h0m10 0h0m3 0h0m3 0h0m5 0h0m4 0h0m-16 1h0m6 0h0m1 1h0m8 0h0m-10 2h0m4 0h0m-7 1h0m-12 1h0m89 0h0m-83 1h0m-14 1h0m15 0h0m12 0h0m1 0h0m1 0h0m-19 2h0m21 0h0m-6 1h0m-7 1h0m-20 1h0m25 0h0m8 1h0m-44 2h0m53 0h0m-5 2h0m2 2h0m3 1h0m48 0h0m-52 1h0m-51 1h0m49 0h0m6 1h0m-13 5h0m-2 1h0m18 0h0m-6 1h0m1 2h0m-1 1h0m6 2h0m-1 1h0m-9 1h0m4 2h0m-11 1h0m12 0h0m2 3h0m46 0h0m-53 2h0m-15 1h0m20 2h0m0 1h0m5 0h0m1 0h0m-8 2h0m9 0h0m-3 1h0m1 0h0m2 0h0m-3 1h0m-8 2h0m8 3h0m-3 1h0m53 1h0m-48 1h0m1 0h0m-14 1h0m16 1h0m-7 2h0m4 0h0m-11 1h0m9 0h0m-8 2h0"/><path stroke="#e76f5a" stroke-opacity="0.75" d="M97 50h0m10 12h0m2 0h0m-11 5h0m-2 1h0m15 6h0m-9 8h0m16 0h0m-28 2h0m15 0h0m-4 2h0m5 1h0m-1 2h0m-4 1h0m5 0h0m-10 1h0m6 2h0m-5 1h0m10 2h0m-17 2h0m11 0h0m2 0h0m-7 1h0m11 0h0m-12 1h0m8 0h0m-7 1h0m-4 1h0m5 0h0m7 0h0m2 0h0m3 0h0m-24 1h0m4 0h0m8 0h0m10 0h0m2 0h0m3 0h0m-12 1h0m4 0h0m5 0h0m-14 1h0m5 0h0m2 0h0m-21 1h0m13 0h0m15 0h0m10 0h0m4 0h0m-29 1h0m6 0h0m2 0h0m4 0h0m-5 1h0m-4 1h0m5 0h0m9 0h0m-27 1h0m2 0h0m6 0h0m7 0h0m1 0h0m1 0h0m3 0h0m3 0h0m0 1h0m-11 1h0m4 0h0m2 0h0m2 0h0m6 0h0m16 0h0m-34 1h0m4 0h0m8 0h0m-9 1h0m6 0h0m1 0h0m1 0h0m11 0h0m3 0h0m-22 1h0m6 0h0m5 0h0m2 0h0m13 0h0m-26 1h0m3 0h0m20 0h0m1 0h0m-35 1h0m6 0h0m11 0h0m1 0h0m-7 1h0m2 0h0m10 0h0m8 0h0m2 0h0m7 0h0m-25 1h0m6 0h0m-1 1h0m1 0h0m1 0h0m-12 1h0m8 0h0m3 0h0m3 0h0m7 0h0m1 0h0m-18 1h0m4 0h0m-16 1h0m3 0h0m6 0h0m4 0h0m1 0h0m2 0h0m1 0h0m3 0h0m2 0h0m8 0h0m-20 1h0m3 0h0m1 0h0m6 0h0m1 0h0m-39 1h0m22 0h0m5 0h0m1 0h0m3 0h0m7 0h0m2 0h0m-18 1h0m4 0h0m2 0h0m3 0h0m2 0h0m2 0h0m2 0h0m2 0h0m4 0h0m1 0h0m-18 1h0m3 0h0m1 0h0m5 0h0m5 0h0m6 0h0m2 0h0m13 0h0m-32 1h0m2 0h0m3 0h0m8 0h0m-33 1h0m14 0h0m1 0h0m7 0h0m1 0h0m3 0h0m1 0h0m3 0h0m-35 1h0m6 0h0m15 0h0m1 0h0m3 0h0m3 0h0m6 0h0m2 0h0m8 0h0m-24 1h0m17 0h0m-18 1h0m14 0h0m1 0h0m1 0h0m2 0h0m6 0h0m-23 1h0m1 0h0m3 0h0m3 0h0m11 0h0m2 0h0m9 0h0m-46 1h0m19 0h0m4 0h0m1 0h0m15 0h0m-20 1h0m1 0h0m7 0h0m1 0h0m1 0h0m-1 1h0m1 0h0m10 0h0m-20 1h0m1 0h0m4 0h0m3 0h0m1 0h0m1 0h0m1 0h0m8 0h0m13 0h0m-41 1h0m24 0h0m5 0h0m-18 1h0m4 0h0m13 0h0m-15 1h0m20 0h0m-21 1h0m8 0h0m2 0h0m-5 1h0m1 0h0m4 0h0m-2 1h0m4 0h0m1 0h0m3 0h0m-21 1h0m6 0h0m5 0h0m12 0h0m-13 1h0m-1 1h0m16 0h0m5 0h0m-5 1h0m-23 1h0m8 0h0m26 0h0m-27 1h0m3 0h0m8 0h0m-16 1h0m15 0h0m-28 1h0m17 0h0m2 0h0m4 0h0m2 0h0m1 0h0m-8 1h0m3 0h0m3 0h0m2 0h0m2 0h0m1 0h0m-12 1h0m8 0h0m-6 1h0m1 0h0m39 0h0m-42 1h0m5 0h0m6 0h0m1 0h0m-1 1h0m3 0h0m-11 2h0m10 1h0m-6 4h0m-6 1h0m17 5h0m-8 2h0m6 1h0m-9 2h0m8 4h0m23 1h0m-33 9h0"/><path stroke="#8f0da4" stroke-opacity="0.81" d="M124 88h0m-12 5h0m-45 8h0m65 2h0m1 5h0m23 15h0m-15 2h0m7 0h0m3 1h0m-1 6h0m-10 5h0m10 0h0m2 1h0m-12 2h0m3 7h0m2 1h0m15 1h0m-5 1h0m-6 2h0m2 0h0m3 1h0m28 4h0m-82 3h0m-1 5h0m41 0h0m10 2h0m-20 1h0m16 0h0m-15 2h0m-3 1h0m22 0h0m14 0h0m-19 1h0m4 0h0m-2 1h0m3 4h0m-15 1h0m11 0h0m-17 1h0m11 1h0m17 1h0m-13 1h0m2 3h0m-2 2h0"/><path stroke="#220690" stroke-opacity="1.0" d="M80 114h0m1 3h0m3 0h0m-7 4h0m-3 5h0m4 1h0m7 1h0m-11 12h0m5 11h0m24 3h0m-3 1h0m-4 25h0"/><path stroke="#7701a8" stroke-opacity="0.94" d="M120 84h0m0 4h0m-2 3h0m-4 3h0m13 3h0m-19 3h0m-4 7h0m19 2h0m17 1h0m6 0h0m-67 2h0m59 4h0m14 2h0m-74 1h0m58 0h0m-54 1h0m-26 1h0m0 3h0m25 0h0m-19 2h0m19 0h0m2 0h0m1 3h0m-37 1h0m104 0h0m-63 2h0m73 0h0m-91 1h0m14 1h0m5 0h0m-11 1h0m15 4h0m5 3h0m-5 2h0m57 0h0m-53 1h0m-30 1h0m29 5h0m0 2h0m4 0h0m3 0h0m-9 2h0m9 1h0m-10 2h0m63 3h0m-55 5h0m43 0h0m-47 5h0m6 0h0m-3 2h0m-2 1h0m59 4h0m-94 2h0m86 2h0m-51 4h0m-16 1h0"/><path stroke="#fa9b3d" stroke-opacity="0.92" d="M97 54h0m-1 45h0m-1 11h0m1 0h0m3 6h0m4 9h0m-10 4h0m4 5h0"/><path stroke="#8405a7" stroke-opacity="0.88" d="M71 74h0m48 21h0m-44 6h0m37 2h0m45 8h0m-22 2h0m-46 2h0m65 2h0m-78 4h0m11 0h0m-28 1h0m15 1h0m16 3h0m60 3h0m7 2h0m-71 2h0m8 4h0m0 2h0m-10 3h0m12 4h0m-44 1h0m91 1h0m21 0h0m-70 5h0m1 1h0m1 6h0m47 1h0m1 2h0m4 3h0m-52 2h0m1 1h0m1 1h0m50 1h0m5 0h0m-1 1h0m-60 1h0m0 2h0m58 2h0m-48 7h0"/><path stroke="#41049d" stroke-opacity="1.0" d="M79 102h0m-8 4h0m13 1h0m-2 1h0m6 0h0m-12 2h0m53 1h0m-59 4h0m8 2h0m-4 2h0m7 0h0m-24 5h0m23 0h0m-1 1h0m-10 1h0m3 0h0m20 0h0m-17 2h0m13 0h0m-19 1h0m2 0h0m12 0h0m-10 1h0m-5 1h0m8 1h0m9 0h0m-13 1h0m6 0h0m-5 1h0m12 0h0m1 1h0m-9 1h0m-1 2h0m-5 3h0m16 2h0m4 3h0m-4 5h0m14 0h0m2 7h0m-10 1h0m4 0h0m0 3h0m7 1h0m-3 3h0m1 1h0m-3 1h0m-4 1h0m-7 2h0m10 0h0m5 0h0m-20 1h0m12 0h0m5 3h0m0 1h0m-2 1h0m3 6h0m-5 4h0m11 3h0"/><path stroke="#330597" stroke-opacity="1.0" d="M86 108h0m-7 11h0m-7 7h0m5 2h0m-2 1h0m3 1h0m-7 5h0m16 2h0m1 14h0m15 5h0m-1 1h0m-6 4h0m-9 4h0m13 2h0m2 18h0"/><path stroke="#fca636" stroke-opacity="0.92" d="M87 89h0m12 42h0m26 54h0"/><path stroke="#5c01a6" stroke-opacity="1.0" d="M89 91h0m-1 2h0m-1 2h0m-8 7h0m1 1h0m-7 6h0m11 0h0m2 0h0m-10 3h0m5 1h0m1 1h0m-5 2h0m7 0h0m53 0h0m-63 1h0m1 0h0m9 0h0m-11 1h0m5 0h0m2 0h0m-8 1h0m-16 1h0m22 0h0m7 0h0m-17 2h0m12 0h0m76 1h0m-81 1h0m2 0h0m10 0h0m-34 2h0m19 1h0m2 0h0m4 0h0m-9 1h0m10 0h0m3 1h0m1 0h0m-6 1h0m3 0h0m1 0h0m2 0h0m4 0h0m6 0h0m2 0h0m-6 1h0m61 0h0m-83 1h0m1 0h0m16 0h0m66 0h0m-66 1h0m2 0h0m3 0h0m-9 1h0m15 0h0m0 1h0m-17 1h0m1 0h0m6 0h0m9 0h0m3 0h0m-10 1h0m1 0h0m5 0h0m5 0h0m-18 1h0m3 0h0m-1 1h0m3 0h0m-2 1h0m6 0h0m7 1h0m-17 1h0m4 1h0m3 0h0m-3 1h0m13 0h0m-25 1h0m23 2h0m1 1h0m-8 1h0m6 1h0m1 0h0m6 0h0m-3 1h0m-25 1h0m18 0h0m3 0h0m4 1h0m-4 1h0m9 0h0m-8 1h0m-1 2h0m6 1h0m-3 1h0m-3 1h0m5 1h0m3 1h0m-18 1h0m11 0h0m-8 2h0m18 0h0m-12 1h0m7 0h0m-17 1h0m11 1h0m3 0h0m5 0h0m-2 1h0m-8 2h0m1 0h0m4 0h0m3 0h0m1 0h0m-6 1h0m6 0h0m5 0h0m-14 1h0m9 0h0m-5 1h0m4 0h0m5 4h0m-22 1h0m14 2h0m3 0h0m1 2h0m-10 1h0m9 0h0m2 1h0m-4 1h0m-3 1h0m4 0h0m2 1h0m1 0h0m-5 1h0m-5 1h0m12 0h0"/><path stroke="#fdb42f" stroke-opacity="0.92" d="M94 103h0"/><path stroke="#c33d80" stroke-opacity="0.75" d="M117 101h0m-3 1h0m14 5h0m-21 1h0m12 0h0m1 1h0m7 1h0m8 0h0m-5 1h0m-8 1h0m8 0h0m-2 1h0m-21 1h0m16 0h0m14 0h0m-32 1h0m18 0h0m9 0h0m-32 1h0m22 0h0m3 0h0m-22 1h0m12 0h0m14 0h0m12 0h0m2 0h0m-8 1h0m4 0h0m-19 1h0m7 0h0m7 0h0m-50 1h0m28 0h0m6 0h0m9 0h0m-7 1h0m10 0h0m1 0h0m4 0h0m8 0h0m-25 1h0m22 0h0m-17 1h0m4 0h0m1 0h0m6 0h0m-16 1h0m13 0h0m-19 1h0m9 0h0m15 0h0m1 0h0m-20 1h0m-12 1h0m5 0h0m6 0h0m1 0h0m8 0h0m2 0h0m4 0h0m-25 1h0m11 0h0m14 0h0m10 0h0m-35 1h0m6 0h0m3 0h0m4 0h0m1 0h0m1 0h0m7 0h0m2 0h0m-15 1h0m8 0h0m7 0h0m14 0h0m-24 1h0m1 0h0m9 0h0m1 0h0m3 0h0m2 0h0m-15 1h0m4 0h0m15 0h0m-23 1h0m3 0h0m7 0h0m6 0h0m-24 1h0m1 0h0m2 0h0m11 0h0m4 0h0m5 0h0m19 0h0m-42 1h0m11 0h0m1 0h0m5 0h0m1 0h0m12 0h0m-33 1h0m7 0h0m6 0h0m1 0h0m11 0h0m-4 1h0m9 0h0m-32 1h0m4 0h0m8 0h0m9 0h0m6 0h0m-18 1h0m2 0h0m2 0h0m4 0h0m7 0h0m4 0h0m15 0h0m1 0h0m-43 1h0m3 0h0m5 0h0m2 0h0m4 0h0m4 0h0m2 0h0m2 0h0m3 0h0m4 0h0m2 0h0m1 0h0m4 0h0m8 0h0m-54 1h0m11 0h0m3 0h0m7 0h0m1 0h0m2 0h0m1 0h0m6 0h0m3 0h0m1 0h0m15 0h0m-27 1h0m1 0h0m3 0h0m1 0h0m8 0h0m2 0h0m7 0h0m1 0h0m-28 1h0m7 0h0m6 0h0m6 0h0m1 0h0m7 0h0m-33 1h0m9 0h0m3 0h0m6 0h0m1 0h0m2 0h0m11 0h0m8 0h0m-38 1h0m2 0h0m6 0h0m3 0h0m2 0h0m7 0h0m9 0h0m-27 1h0m19 0h0m3 0h0m1 0h0m3 0h0m8 0h0m-42 1h0m11 0h0m3 0h0m1 0h0m6 0h0m6 0h0m1 0h0m1 0h0m1 0h0m3 0h0m11 0h0m13 0h0m-32 1h0m12 0h0m-39 1h0m4 0h0m8 0h0m2 0h0m2 0h0m5 0h0m1 0h0m3 0h0m1 0h0m1 0h0m10 0h0m7 0h0m-30 1h0m3 0h0m1 0h0m4 0h0m2 0h0m10 0h0m-28 1h0m4 0h0m1 0h0m3 0h0m4 0h0m2 0h0m1 0h0m2 0h0m1 0h0m3 0h0m1 0h0m3 0h0m5 0h0m-30 1h0m6 0h0m12 0h0m3 0h0m-20 1h0m2 0h0m6 0h0m6 0h0m1 0h0m3 0h0m5 0h0m9 0h0m4 0h0m9 0h0m-36 1h0m2 0h0m2 0h0m2 0h0m2 0h0m1 0h0m14 0h0m5 0h0m-47 1h0m14 0h0m3 0h0m1 0h0m3 0h0m1 0h0m2 0h0m8 0h0m4 0h0m4 0h0m-35 1h0m2 0h0m2 0h0m9 0h0m7 0h0m2 0h0m3 0h0m1 0h0m9 0h0m-62 1h0m34 0h0m3 0h0m4 0h0m2 0h0m5 0h0m7 0h0m12 0h0m-44 1h0m7 0h0m6 0h0m1 0h0m2 0h0m2 0h0m1 0h0m2 0h0m3 0h0m1 0h0m3 0h0m3 0h0m6 0h0m4 0h0m12 0h0m-47 1h0m7 0h0m6 0h0m5 0h0m4 0h0m5 0h0m1 0h0m8 0h0m-36 1h0m2 0h0m5 0h0m2 0h0m1 0h0m11 0h0m4 0h0m7 0h0m10 0h0m-41 1h0m1 0h0m5 0h0m5 0h0m2 0h0m2 0h0m2 0h0m4 0h0m5 0h0m3 0h0m2 0h0m21 0h0m-64 1h0m6 0h0m6 0h0m3 0h0m1 0h0m8 0h0m2 0h0m1 0h0m1 0h0m4 0h0m1 0h0m10 0h0m8 0h0m-47 1h0m9 0h0m2 0h0m1 0h0m4 0h0m1 0h0m7 0h0m2 0h0m2 0h0m5 0h0m6 0h0m6 0h0m-33 1h0m4 0h0m2 0h0m1 0h0m3 0h0m5 0h0m3 0h0m1 0h0m31 0h0m-47 1h0m11 0h0m3 0h0m1 0h0m3 0h0m2 0h0m1 0h0m3 0h0m5 0h0m-40 1h0m3 0h0m3 0h0m3 0h0m7 0h0m1 0h0m4 0h0m1 0h0m2 0h0m7 0h0m-29 1h0m3 0h0m3 0h0m3 0h0m1 0h0m2 0h0m2 0h0m3 0h0m2 0h0m1 0h0m18 0h0m-35 1h0m12 0h0m2 0h0m3 0h0m2 0h0m22 0h0m-39 1h0m2 0h0m4 0h0m2 0h0m5 0h0m1 0h0m1 0h0m6 0h0m13 0h0m-40 1h0m2 0h0m3 0h0m3 0h0m2 0h0m1 0h0m3 0h0m3 0h0m1 0h0m3 0h0m4 0h0m2 0h0m4 0h0m3 0h0m6 0h0m1 0h0m-41 1h0m3 0h0m2 0h0m2 0h0m5 0h0m1 0h0m2 0h0m2 0h0m2 0h0m6 0h0m6 0h0m3 0h0m1 0h0m2 0h0m-38 1h0m5 0h0m6 0h0m2 0h0m1 0h0m1 0h0m3 0h0m1 0h0m1 0h0m1 0h0m2 0h0m1 0h0m4 0h0m2 0h0m2 0h0m10 0h0m10 0h0m-48 1h0m4 0h0m4 0h0m3 0h0m6 0h0m2 0h0m4 0h0m1 0h0m2 0h0m3 0h0m-22 1h0m2 0h0m3 0h0m4 0h0m4 0h0m4 0h0m8 0h0m-33 1h0m1 0h0m1 0h0m2 0h0m1 0h0m1 0h0m4 0h0m1 0h0m2 0h0m2 0h0m2 0h0m8 0h0m17 0h0m-50 1h0m7 0h0m5 0h0m2 0h0m3 0h0m1 0h0m1 0h0m2 0h0m1 0h0m1 0h0m2 0h0m1 0h0m1 0h0m6 0h0m4 0h0m1 0h0m4 0h0m-38 1h0m1 0h0m2 0h0m2 0h0m11 0h0m1 0h0m5 0h0m3 0h0m1 0h0m-31 1h0m4 0h0m7 0h0m4 0h0m2 0h0m4 0h0m1 0h0m3 0h0m3 0h0m1 0h0m1 0h0m1 0h0m9 0h0m5 0h0m-39 1h0m5 0h0m7 0h0m3 0h0m2 0h0m1 0h0m3 0h0m2 0h0m4 0h0m1 0h0m1 0h0m7 0h0m-34 1h0m1 0h0m5 0h0m3 0h0m1 0h0m2 0h0m6 0h0m11 0h0m2 0h0m21 0h0m-50 1h0m11 0h0m6 0h0m1 0h0m1 0h0m3 0h0m2 0h0m2 0h0m2 0h0m-22 1h0m1 0h0m3 0h0m2 0h0m1 0h0m5 0h0m1 0h0m1 0h0m5 0h0m5 0h0m2 0h0m1 0h0m-38 1h0m3 0h0m2 0h0m1 0h0m2 0h0m4 0h0m1 0h0m2 0h0m6 0h0m1 0h0m19 0h0m-33 1h0m2 0h0m1 0h0m2 0h0m5 0h0m3 0h0m6 0h0m4 0h0m1 0h0m22 0h0m-46 1h0m2 0h0m1 0h0m10 0h0m1 0h0m15 0h0m-26 1h0m3 0h0m3 0h0m3 0h0m1 0h0m5 0h0m7 0h0m-32 1h0m5 0h0m4 0h0m3 0h0m1 0h0m1 0h0m1 0h0m1 0h0m5 0h0m1 0h0m3 0h0m2 0h0m3 0h0m1 0h0m1 0h0m3 0h0m-33 1h0m2 0h0m2 0h0m1 0h0m2 0h0m3 0h0m5 0h0m1 0h0m4 0h0m7 0h0m2 0h0m7 0h0m4 0h0m8 0h0m-51 1h0m3 0h0m3 0h0m1 0h0m1 0h0m1 0h0m2 0h0m10 0h0m6 0h0m2 0h0m2 0h0m-31 1h0m6 0h0m7 0h0m11 0h0m1 0h0m5 0h0"/><path stroke="#b12a90" stroke-opacity="0.75" d="M126 109h0m-16 3h0m22 0h0m-15 1h0m23 2h0m-20 3h0m12 1h0m-2 1h0m-11 2h0m13 0h0m2 0h0m14 0h0m-15 1h0m0 1h0m9 0h0m-22 1h0m11 0h0m9 0h0m6 0h0m-15 1h0m21 0h0m-24 2h0m2 0h0m29 0h0m-38 1h0m33 0h0m-23 1h0m1 0h0m4 0h0m4 1h0m-6 1h0m-3 1h0m14 0h0m23 0h0m-44 1h0m0 1h0m19 0h0m5 0h0m-27 1h0m15 0h0m-10 1h0m7 0h0m-9 1h0m14 1h0m3 0h0m-29 1h0m5 0h0m10 0h0m5 0h0m2 0h0m10 0h0m-22 1h0m7 0h0m2 0h0m8 0h0m3 0h0m2 0h0m-14 1h0m6 0h0m5 0h0m-16 1h0m7 0h0m5 1h0m17 0h0m-19 1h0m1 0h0m-5 1h0m6 0h0m8 0h0m-20 1h0m4 1h0m9 0h0m-21 1h0m7 0h0m11 0h0m1 0h0m-20 1h0m5 0h0m9 0h0m8 0h0m-17 1h0m2 0h0m3 0h0m3 0h0m18 0h0m7 0h0m8 0h0m-44 1h0m30 0h0m6 0h0m-46 1h0m23 0h0m2 0h0m15 0h0m-22 1h0m11 0h0m14 0h0m-21 1h0m8 0h0m3 0h0m2 0h0m-11 1h0m-7 1h0m9 0h0m2 0h0m1 0h0m7 0h0m-12 1h0m14 0h0m10 0h0m-40 1h0m5 0h0m2 0h0m21 0h0m-21 1h0m16 0h0m3 0h0m3 0h0m-31 1h0m32 0h0m5 0h0m-40 1h0m5 0h0m2 0h0m5 0h0m17 0h0m1 0h0m-31 1h0m11 0h0m2 0h0m1 0h0m1 0h0m19 0h0m-15 1h0m4 0h0m1 0h0m6 0h0m-31 1h0m8 0h0m14 0h0m3 0h0m10 0h0m15 0h0m-51 1h0m2 0h0m8 0h0m9 0h0m3 0h0m3 0h0m-17 1h0m12 0h0m-28 1h0m13 0h0m13 0h0m1 0h0m2 0h0m7 0h0m2 0h0m1 0h0m-36 1h0m4 0h0m4 0h0m4 0h0m8 0h0m12 0h0m32 0h0m-43 1h0m1 0h0m1 0h0m1 0h0m1 0h0m9 0h0m1 0h0m14 0h0m-33 1h0m14 0h0m12 0h0m-37 1h0m10 0h0m2 0h0m27 0h0m-31 1h0m1 0h0m-7 1h0m14 0h0m-7 1h0m10 0h0m5 0h0m5 0h0m1 0h0m3 0h0m-11 1h0m4 0h0m8 0h0m-24 1h0m2 0h0m8 0h0m15 0h0m4 0h0m-37 1h0m1 0h0m12 0h0m18 0h0m2 0h0m21 0h0m-26 1h0m12 0h0m-38 1h0m3 0h0m6 0h0m1 0h0m1 0h0m36 0h0m-32 1h0m1 0h0m4 0h0m2 0h0m13 0h0m-30 1h0m4 0h0m12 0h0m3 0h0m1 0h0m8 0h0m6 0h0m-35 1h0m8 0h0m1 0h0m1 0h0m3 0h0m10 0h0m3 0h0m-22 1h0m7 0h0m3 0h0m12 0h0m5 0h0m-32 1h0m8 0h0m4 0h0m1 0h0m5 0h0m6 0h0m32 0h0m-60 1h0m2 0h0m1 0h0m36 0h0m-32 1h0m1 0h0m4 0h0m3 0h0m3 0h0m-19 1h0m22 0h0m4 0h0m3 0h0m1 0h0m23 0h0m-46 1h0m1 0h0m7 0h0m2 0h0m2 0h0m5 0h0m3 0h0m1 0h0m2 0h0m3 0h0m5 0h0m-20 1h0m14 0h0"/><path stroke="#f68f44" stroke-opacity="0.88" d="M97 37h0m3 28h0m-4 6h0m-2 4h0m9 3h0m7 0h0m-3 2h0m-9 17h0m-5 4h0m8 8h0m1 2h0m1 6h0m-10 1h0m5 0h0m-34 1h0m18 0h0m20 9h0m-13 5h0m18 2h0m50 19h0"/><path stroke="#f68f44" stroke-opacity="0.88" d="M97 57h0m7 15h0m-2 7h0m-7 5h0m-7 1h0m9 2h0m-9 1h0m9 1h0m5 3h0m-1 6h0m-15 2h0m18 2h0m-12 1h0m4 1h0m2 0h0m6 0h0m-2 6h0m-3 4h0m1 1h0m-1 1h0m1 0h0m-10 1h0m11 0h0m-10 3h0m7 1h0m1 1h0m-3 2h0m-11 1h0m2 0h0m11 3h0m7 0h0m8 0h0m-24 1h0m8 5h0m1 0h0m-1 6h0m-7 9h0m-28 2h0"/><path stroke="#fa9b3d" stroke-opacity="0.92" d="M95 106h0m17 11h0m-13 6h0m3 2h0m2 14h0m15 2h0"/><path stroke="#8405a7" stroke-opacity="0.88" d="M117 92h0m5 0h0m5 6h0m-64 2h0m69 9h0m-49 3h0m62 4h0m-73 1h0m78 2h0m-1 2h0m-66 4h0m70 0h0m3 0h0m-81 2h0m67 6h0m-61 2h0m70 0h0m-67 3h0m8 0h0m55 0h0m-5 1h0m-77 1h0m96 1h0m-66 4h0m-34 2h0m36 1h0m47 0h0m-41 3h0m58 5h0m-10 6h0m2 4h0m-61 4h0m6 1h0m49 0h0m4 0h0m-51 1h0m-2 2h0m32 0h0m-37 5h0m-1 1h0m8 4h0m44 0h0"/><path stroke="#ed7953" stroke-opacity="0.79" d="M98 42h0m1 7h0m2 15h0m-10 1h0m14 8h0m-1 5h0m-6 2h0m2 5h0m-2 2h0m5 1h0m3 2h0m-12 5h0m-12 2h0m11 0h0m8 0h0m6 0h0m-9 2h0m6 0h0m4 0h0m-17 3h0m1 1h0m100 0h0m-97 1h0m1 0h0m3 0h0m8 0h0m-8 2h0m0 1h0m1 0h0m4 0h0m3 0h0m-22 1h0m8 0h0m12 0h0m-9 1h0m6 0h0m-19 1h0m13 0h0m7 0h0m2 0h0m10 0h0m12 0h0m-34 1h0m5 0h0m1 0h0m-10 1h0m4 0h0m7 0h0m13 0h0m-12 1h0m5 0h0m-10 1h0m-16 1h0m14 0h0m8 0h0m-1 1h0m-4 1h0m10 0h0m-20 1h0m7 0h0m8 0h0m-12 1h0m1 0h0m9 0h0m6 0h0m3 0h0m-25 1h0m7 0h0m2 0h0m6 0h0m2 0h0m3 0h0m-14 1h0m4 0h0m-4 1h0m24 1h0m-24 1h0m1 0h0m5 0h0m5 0h0m6 0h0m4 0h0m-25 1h0m13 0h0m1 0h0m2 0h0m-19 1h0m13 0h0m13 0h0m-36 1h0m38 0h0m-15 1h0m3 0h0m8 0h0m4 0h0m-16 1h0m3 0h0m1 0h0m-8 1h0m3 0h0m6 0h0m6 0h0m4 0h0m-9 1h0m-10 1h0m9 0h0m-8 1h0m12 0h0m4 1h0m5 0h0m-21 1h0m6 0h0m1 0h0m-6 1h0m8 0h0m-1 1h0m2 0h0m3 0h0m1 0h0m2 0h0m-10 2h0m5 0h0m18 0h0m-21 1h0m7 0h0m1 1h0m-6 1h0m7 0h0m-24 1h0m25 0h0m-9 1h0m-3 1h0m5 0h0m5 2h0m-9 1h0m4 0h0m8 1h0m-3 1h0m-7 1h0m3 0h0m6 1h0m-3 2h0m9 0h0m2 1h0m-16 7h0m10 3h0m-5 1h0"/><path stroke="#e16462" stroke-opacity="0.75" d="M94 60h0m-1 3h0m8 11h0m15 14h0m-5 2h0m-10 1h0m-2 4h0m1 3h0m-5 1h0m8 1h0m1 0h0m-1 1h0m-17 1h0m9 0h0m9 0h0m2 0h0m3 0h0m-1 1h0m18 0h0m-38 1h0m10 0h0m15 0h0m2 0h0m-19 1h0m14 0h0m-9 1h0m1 0h0m7 0h0m-19 1h0m6 0h0m2 0h0m12 0h0m4 0h0m1 0h0m3 0h0m-32 1h0m6 0h0m4 0h0m17 0h0m2 0h0m-28 1h0m2 0h0m6 0h0m3 0h0m2 0h0m7 0h0m-16 1h0m8 0h0m2 0h0m3 0h0m2 0h0m1 0h0m21 0h0m-38 1h0m1 0h0m3 0h0m4 0h0m12 0h0m1 0h0m-17 1h0m4 0h0m7 0h0m2 0h0m6 0h0m-17 1h0m7 0h0m3 0h0m-20 1h0m7 0h0m6 0h0m2 0h0m1 0h0m2 0h0m2 0h0m-22 1h0m8 0h0m1 0h0m4 0h0m8 0h0m1 0h0m5 0h0m-20 1h0m12 0h0m-23 1h0m8 0h0m16 0h0m3 0h0m6 0h0m14 0h0m-17 1h0m2 0h0m2 0h0m1 0h0m-46 1h0m4 0h0m17 0h0m1 0h0m10 0h0m3 0h0m6 0h0m2 0h0m3 0h0m3 0h0m1 0h0m-53 1h0m31 0h0m7 0h0m7 0h0m2 0h0m2 0h0m2 0h0m-25 1h0m5 0h0m2 0h0m4 0h0m2 0h0m1 0h0m1 0h0m1 0h0m7 0h0m-34 1h0m15 0h0m4 0h0m5 0h0m5 0h0m4 0h0m1 0h0m4 0h0m-28 1h0m1 0h0m1 0h0m11 0h0m1 0h0m3 0h0m2 0h0m1 0h0m1 0h0m2 0h0m1 0h0m1 0h0m7 0h0m-40 1h0m3 0h0m8 0h0m6 0h0m5 0h0m3 0h0m2 0h0m11 0h0m-30 1h0m8 0h0m1 0h0m2 0h0m5 0h0m1 0h0m1 0h0m2 0h0m7 0h0m-23 1h0m4 0h0m3 0h0m1 0h0m2 0h0m1 0h0m1 0h0m3 0h0m1 0h0m1 0h0m1 0h0m7 0h0m-28 1h0m9 0h0m7 0h0m2 0h0m8 0h0m1 0h0m-23 1h0m8 0h0m8 0h0m5 0h0m1 0h0m1 0h0m-35 1h0m4 0h0m5 0h0m11 0h0m5 0h0m4 0h0m2 0h0m1 0h0m3 0h0m1 0h0m-37 1h0m7 0h0m2 0h0m5 0h0m3 0h0m2 0h0m7 0h0m1 0h0m2 0h0m1 0h0m3 0h0m11 0h0m-37 1h0m4 0h0m2 0h0m5 0h0m3 0h0m1 0h0m4 0h0m3 0h0m4 0h0m5 0h0m-23 1h0m4 0h0m1 0h0m1 0h0m2 0h0m2 0h0m1 0h0m9 0h0m2 0h0m-20 1h0m7 0h0m4 0h0m3 0h0m2 0h0m6 0h0m1 0h0m3 0h0m1 0h0m-42 1h0m17 0h0m1 0h0m4 0h0m1 0h0m1 0h0m2 0h0m1 0h0m-24 1h0m17 0h0m2 0h0m1 0h0m1 0h0m12 0h0m6 0h0m-33 1h0m4 0h0m6 0h0m4 0h0m3 0h0m1 0h0m4 0h0m3 0h0m1 0h0m-20 1h0m3 0h0m7 0h0m9 0h0m2 0h0m11 0h0m-36 1h0m5 0h0m3 0h0m3 0h0m1 0h0m2 0h0m1 0h0m3 0h0m9 0h0m-19 1h0m2 0h0m5 0h0m2 0h0m1 0h0m3 0h0m4 0h0m-22 1h0m1 0h0m1 0h0m3 0h0m1 0h0m12 0h0m-23 1h0m6 0h0m3 0h0m3 0h0m1 0h0m4 0h0m1 0h0m2 0h0m2 0h0m-28 1h0m14 0h0m1 0h0m1 0h0m5 0h0m5 0h0m15 0h0m-29 1h0m7 0h0m6 0h0m-21 1h0m6 0h0m2 0h0m1 0h0m8 0h0m4 0h0m6 0h0m3 0h0m17 0h0m-57 1h0m7 0h0m18 0h0m2 0h0m15 0h0m-23 1h0m1 0h0m2 0h0m4 0h0m2 0h0m5 0h0m-21 1h0m8 0h0m2 0h0m3 0h0m2 0h0m3 0h0m2 0h0m-15 1h0m10 0h0m11 0h0m23 0h0m-45 1h0m6 0h0m1 0h0m1 0h0m2 0h0m8 0h0m5 0h0m-33 1h0m18 0h0m3 0h0m1 0h0m31 0h0m-46 1h0m1 0h0m1 0h0m5 0h0m2 0h0m3 0h0m9 0h0m10 0h0m-26 1h0m10 0h0m2 0h0m3 0h0m3 0h0m6 0h0m-15 1h0m4 0h0m10 0h0m2 0h0m-45 1h0m17 0h0m10 0h0m24 0h0m-42 1h0m15 0h0m4 0h0m1 0h0m3 0h0m4 0h0m2 0h0m1 0h0m-20 1h0m12 0h0m1 0h0m7 0h0m-17 1h0m8 0h0m1 0h0m-9 1h0m14 0h0m-15 1h0m2 0h0m21 0h0m17 0h0m-26 1h0m1 0h0m-8 2h0m3 0h0m5 0h0m-10 1h0m9 1h0m12 0h0m-11 1h0m-9 1h0m-1 2h0m34 0h0m-38 1h0m4 0h0m4 0h0m9 0h0m30 0h0m-62 1h0m29 0h0m-9 1h0m6 0h0m5 0h0m4 0h0m-11 1h0m4 0h0m14 2h0m-19 3h0m3 0h0m8 1h0m-3 2h0m3 0h0m12 0h0m-34 2h0m8 0h0m22 0h0m-22 2h0m20 0h0m-21 1h0m-1 2h0m3 0h0m5 2h0"/><path stroke="#6a00a8" stroke-opacity="1.0" d="M76 73h0m10 7h0m31 5h0m0 9h0m16 1h0m1 1h0m-51 3h0m-7 4h0m1 4h0m4 0h0m14 0h0m-12 1h0m56 0h0m-66 3h0m4 0h0m4 0h0m-1 1h0m11 0h0m45 1h0m-58 3h0m15 0h0m-27 1h0m23 0h0m44 0h0m-60 2h0m12 0h0m2 1h0m45 0h0m-50 1h0m-22 1h0m16 0h0m8 1h0m-15 1h0m-4 3h0m3 0h0m20 0h0m-7 1h0m1 0h0m3 0h0m3 1h0m2 1h0m-19 1h0m5 0h0m13 0h0m2 0h0m5 1h0m53 1h0m-68 1h0m5 0h0m-4 1h0m11 1h0m-7 3h0m4 1h0m4 1h0m-1 2h0m-28 2h0m20 0h0m13 3h0m-9 1h0m1 2h0m2 0h0m-1 2h0m-45 1h0m23 0h0m28 0h0m2 3h0m1 0h0m-4 1h0m-3 1h0m-10 3h0m16 0h0m-2 1h0m4 0h0m3 5h0m1 0h0m-5 2h0m1 0h0m-5 1h0m-2 1h0m3 0h0m7 0h0m-15 3h0m12 0h0m2 1h0m-14 2h0m5 0h0m6 0h0m4 0h0m1 0h0m-10 2h0m-8 2h0m16 0h0m-4 1h0m1 0h0m4 0h0m-8 2h0m4 0h0m2 0h0m3 2h0m-11 1h0m-7 1h0m3 0h0m13 0h0m-6 1h0"/><path stroke="#7701a8" stroke-opacity="0.94" d="M114 95h0m11 3h0m5 1h0m-7 2h0m-38 2h0m7 8h0m53 1h0m-10 1h0m-1 1h0m-48 1h0m9 0h0m-32 4h0m13 0h0m-13 2h0m92 1h0m-87 2h0m12 0h0m-6 4h0m1 1h0m-12 1h0m-3 1h0m12 0h0m23 4h0m-16 2h0m20 1h0m-32 3h0m29 0h0m-23 1h0m28 6h0m2 5h0m-25 3h0m23 0h0m-19 2h0m14 0h0m-12 2h0m-16 1h0m24 0h0m3 0h0m2 3h0m6 3h0m-30 1h0m19 0h0m58 1h0m-54 1h0m-1 1h0m10 0h0m42 1h0m-53 4h0m-8 1h0m-3 1h0m13 1h0m56 1h0m-64 5h0m15 1h0m42 0h0m-47 1h0m1 3h0"/><path stroke="#ba3388" stroke-opacity="0.75" d="M119 106h0m6 1h0m7 0h0m-8 8h0m7 0h0m-12 1h0m8 1h0m2 1h0m11 0h0m-25 1h0m8 0h0m1 0h0m2 0h0m3 0h0m7 1h0m-3 1h0m9 0h0m-9 1h0m-15 1h0m1 0h0m18 0h0m-25 1h0m9 0h0m-23 1h0m28 0h0m11 0h0m-11 1h0m2 0h0m17 0h0m-24 1h0m7 0h0m1 0h0m16 0h0m21 1h0m-35 1h0m2 0h0m2 0h0m4 0h0m-15 1h0m5 0h0m4 0h0m5 0h0m-2 1h0m-14 1h0m4 0h0m2 0h0m1 0h0m-5 1h0m9 0h0m2 0h0m1 0h0m3 0h0m1 0h0m-15 1h0m10 0h0m14 0h0m-27 1h0m4 0h0m4 0h0m4 0h0m-10 1h0m7 0h0m2 0h0m2 0h0m8 0h0m-5 1h0m4 0h0m-33 1h0m27 0h0m4 0h0m-29 1h0m12 0h0m3 0h0m8 0h0m3 0h0m7 0h0m-34 1h0m5 0h0m15 0h0m9 0h0m11 0h0m-47 1h0m16 0h0m20 0h0m-28 1h0m10 0h0m2 0h0m16 0h0m-13 1h0m7 0h0m5 0h0m-30 1h0m20 0h0m12 0h0m-34 1h0m17 0h0m2 0h0m13 0h0m12 0h0m-46 1h0m15 0h0m7 0h0m5 0h0m2 0h0m6 0h0m-23 1h0m9 0h0m10 0h0m25 0h0m-53 1h0m7 0h0m9 0h0m9 0h0m4 0h0m-16 1h0m2 0h0m5 0h0m8 0h0m15 0h0m-44 1h0m4 0h0m8 0h0m11 0h0m1 0h0m1 0h0m2 0h0m7 0h0m8 0h0m-53 1h0m10 0h0m9 0h0m6 0h0m12 0h0m4 0h0m2 0h0m6 0h0m-30 1h0m2 0h0m1 0h0m12 0h0m6 0h0m6 0h0m15 0h0m-45 1h0m12 0h0m5 0h0m1 0h0m10 0h0m4 0h0m7 0h0m6 0h0m-55 1h0m21 0h0m7 0h0m9 0h0m9 0h0m-42 1h0m2 0h0m6 0h0m3 0h0m2 0h0m2 0h0m9 0h0m3 0h0m18 0h0m3 0h0m-32 1h0m12 0h0m3 0h0m-22 1h0m4 0h0m4 0h0m10 0h0m-19 1h0m4 0h0m8 0h0m1 0h0m1 0h0m10 0h0m-31 1h0m15 0h0m2 0h0m6 0h0m11 0h0m-27 1h0m11 0h0m1 0h0m2 0h0m1 0h0m2 0h0m8 0h0m13 0h0m-41 1h0m6 0h0m13 0h0m9 0h0m17 0h0m-45 1h0m12 0h0m1 0h0m30 0h0m-43 1h0m3 0h0m3 0h0m4 0h0m5 0h0m6 0h0m3 0h0m1 0h0m5 0h0m1 0h0m7 0h0m-36 1h0m2 0h0m1 0h0m11 0h0m5 0h0m3 0h0m1 0h0m1 0h0m1 0h0m-23 1h0m1 0h0m3 0h0m4 0h0m1 0h0m2 0h0m2 0h0m7 0h0m24 0h0m-43 1h0m11 0h0m2 0h0m3 0h0m1 0h0m2 0h0m3 0h0m-32 1h0m13 0h0m3 0h0m1 0h0m7 0h0m5 0h0m6 0h0m12 0h0m-46 1h0m11 0h0m5 0h0m7 0h0m1 0h0m1 0h0m1 0h0m10 0h0m-33 1h0m4 0h0m7 0h0m2 0h0m1 0h0m4 0h0m6 0h0m1 0h0m1 0h0m2 0h0m-30 1h0m3 0h0m4 0h0m5 0h0m1 0h0m1 0h0m2 0h0m11 0h0m3 0h0m1 0h0m1 0h0m-32 1h0m3 0h0m6 0h0m5 0h0m4 0h0m3 0h0m2 0h0m2 0h0m1 0h0m2 0h0m2 0h0m2 0h0m10 0h0m-39 1h0m5 0h0m8 0h0m4 0h0m12 0h0m-37 1h0m10 0h0m2 0h0m2 0h0m5 0h0m1 0h0m5 0h0m7 0h0m1 0h0m5 0h0m-32 1h0m8 0h0m5 0h0m7 0h0m2 0h0m5 0h0m5 0h0m-31 1h0m5 0h0m10 0h0m1 0h0m2 0h0m2 0h0m12 0h0m10 0h0m-47 1h0m4 0h0m5 0h0m4 0h0m1 0h0m3 0h0m1 0h0m3 0h0m2 0h0m-15 1h0m2 0h0m9 0h0m8 0h0m2 0h0m7 0h0m3 0h0m10 0h0m-53 1h0m11 0h0m3 0h0m4 0h0m5 0h0m2 0h0m1 0h0m2 0h0m2 0h0m7 0h0m10 0h0m3 0h0m-34 1h0m4 0h0m5 0h0m1 0h0m2 0h0m5 0h0m2 0h0m1 0h0m3 0h0m-31 1h0m8 0h0m7 0h0m3 0h0m1 0h0m5 0h0m5 0h0m1 0h0m26 0h0m-53 1h0m1 0h0m5 0h0m2 0h0m8 0h0m1 0h0m2 0h0m6 0h0m-26 1h0m13 0h0m1 0h0m1 0h0m1 0h0m3 0h0m1 0h0m5 0h0m2 0h0m3 0h0m-34 1h0m4 0h0m4 0h0m10 0h0m2 0h0m3 0h0m19 0h0m-44 1h0m5 0h0m1 0h0m12 0h0m4 0h0m1 0h0m3 0h0m1 0h0m3 0h0m2 0h0m2 0h0m-32 1h0m4 0h0m5 0h0m5 0h0m2 0h0m5 0h0m3 0h0m2 0h0m4 0h0m5 0h0m-31 1h0m7 0h0m11 0h0m7 0h0m2 0h0m-31 1h0m6 0h0m2 0h0m5 0h0m1 0h0m5 0h0m3 0h0m1 0h0m1 0h0m13 0h0m-36 1h0m6 0h0m1 0h0m3 0h0m2 0h0m3 0h0m3 0h0m5 0h0m5 0h0m9 0h0m1 0h0m18 0h0m-55 1h0m2 0h0m1 0h0m13 0h0m4 0h0m2 0h0m1 0h0m2 0h0m-26 1h0m3 0h0m9 0h0"/><path stroke="#330597" stroke-opacity="1.0" d="M74 114h0m11 3h0m-2 4h0m-5 3h0m-5 5h0m8 0h0m4 5h0m-2 3h0m8 4h0m-7 2h0m13 0h0m0 2h0m-3 18h0m9 14h0m-1 8h0"/><path stroke="#220690" stroke-opacity="1.0" d="M83 98h0m-1 5h0m4 22h0m-11 18h0m22 36h0"/><path stroke="#a62098" stroke-opacity="0.75" d="M131 111h0m-51 7h0m68 0h0m-13 2h0m-6 2h0m26 3h0m-10 2h0m-85 1h0m80 0h0m4 0h0m-2 1h0m-15 3h0m13 1h0m7 0h0m2 0h0m-9 3h0m11 0h0m-20 2h0m5 2h0m-12 2h0m20 0h0m4 0h0m3 0h0m-6 1h0m-4 1h0m3 0h0m4 0h0m-1 1h0m-18 2h0m11 0h0m3 0h0m12 0h0m-16 2h0m5 0h0m1 0h0m2 0h0m-11 1h0m6 0h0m-2 1h0m9 0h0m4 0h0m-31 2h0m5 1h0m4 0h0m-5 1h0m2 0h0m4 0h0m10 0h0m7 0h0m-13 1h0m-15 1h0m6 0h0m8 0h0m2 0h0m18 0h0m-28 1h0m-12 1h0m4 0h0m9 0h0m12 0h0m2 0h0m-6 1h0m6 0h0m10 0h0m11 0h0m-47 1h0m14 0h0m14 0h0m9 0h0m-39 1h0m10 0h0m20 0h0m-24 1h0m28 0h0m-16 1h0m-11 2h0m9 0h0m2 0h0m11 0h0m-11 2h0m7 0h0m2 0h0m8 0h0m-13 1h0m-4 1h0m1 0h0m5 0h0m-7 1h0m-23 1h0m18 1h0m17 0h0m-16 1h0m3 0h0m13 0h0m4 1h0m9 0h0m-31 1h0m7 0h0m3 0h0m42 0h0m-29 1h0m-31 1h0m6 0h0m22 0h0m-35 1h0m10 0h0m3 0h0m25 0h0m-34 1h0m10 0h0m10 0h0m3 0h0m-23 1h0m12 0h0m7 0h0m7 0h0m4 0h0m-26 1h0m8 0h0m3 0h0m21 0h0m-34 1h0m8 0h0m2 0h0m1 0h0m4 0h0m-11 1h0m11 0h0m15 0h0m-16 1h0m3 0h0m1 0h0m5 0h0m-22 1h0m3 0h0m16 0h0m-18 1h0m21 0h0m1 0h0m-7 1h0m8 0h0m-28 1h0m20 1h0"/><path stroke="#da5b69" stroke-opacity="0.75" d="M120 85h0m-26 5h0m9 3h0m-12 1h0m7 0h0m8 1h0m5 2h0m-10 1h0m1 1h0m23 1h0m-18 1h0m-9 1h0m4 0h0m13 1h0m-17 1h0m8 0h0m-11 1h0m24 0h0m-29 1h0m19 0h0m-6 1h0m2 0h0m3 0h0m-19 1h0m12 0h0m7 0h0m5 0h0m3 0h0m1 0h0m-12 1h0m17 0h0m-36 1h0m-6 1h0m23 0h0m2 0h0m5 0h0m2 0h0m2 0h0m1 0h0m1 0h0m-33 1h0m14 0h0m14 0h0m4 0h0m8 0h0m2 0h0m-26 1h0m6 0h0m5 0h0m1 0h0m4 0h0m-35 1h0m8 0h0m3 0h0m15 0h0m3 0h0m6 0h0m2 0h0m-27 1h0m11 0h0m3 0h0m4 0h0m1 0h0m3 0h0m-15 1h0m10 0h0m2 0h0m2 0h0m4 0h0m5 0h0m2 0h0m1 0h0m3 0h0m-39 1h0m15 0h0m3 0h0m4 0h0m6 0h0m6 0h0m-31 1h0m3 0h0m7 0h0m10 0h0m1 0h0m3 0h0m4 0h0m9 0h0m-38 1h0m14 0h0m1 0h0m2 0h0m3 0h0m4 0h0m-2 1h0m2 0h0m11 0h0m1 0h0m7 0h0m-40 1h0m6 0h0m3 0h0m1 0h0m4 0h0m3 0h0m1 0h0m5 0h0m10 0h0m-33 1h0m3 0h0m8 0h0m3 0h0m2 0h0m6 0h0m1 0h0m3 0h0m1 0h0m-25 1h0m1 0h0m8 0h0m3 0h0m1 0h0m1 0h0m7 0h0m1 0h0m4 0h0m4 0h0m-36 1h0m3 0h0m5 0h0m5 0h0m1 0h0m1 0h0m4 0h0m2 0h0m5 0h0m1 0h0m1 0h0m1 0h0m3 0h0m-38 1h0m20 0h0m1 0h0m4 0h0m2 0h0m4 0h0m1 0h0m2 0h0m1 0h0m3 0h0m3 0h0m3 0h0m1 0h0m7 0h0m-35 1h0m4 0h0m1 0h0m1 0h0m1 0h0m4 0h0m9 0h0m1 0h0m-33 1h0m5 0h0m3 0h0m8 0h0m1 0h0m2 0h0m5 0h0m2 0h0m1 0h0m5 0h0m9 0h0m2 0h0m-37 1h0m5 0h0m10 0h0m4 0h0m1 0h0m2 0h0m1 0h0m6 0h0m6 0h0m1 0h0m-32 1h0m2 0h0m6 0h0m1 0h0m3 0h0m8 0h0m8 0h0m3 0h0m-36 1h0m13 0h0m2 0h0m1 0h0m1 0h0m1 0h0m1 0h0m1 0h0m1 0h0m5 0h0m9 0h0m-31 1h0m2 0h0m9 0h0m2 0h0m11 0h0m3 0h0m2 0h0m2 0h0m-34 1h0m1 0h0m11 0h0m4 0h0m1 0h0m1 0h0m5 0h0m2 0h0m1 0h0m1 0h0m1 0h0m1 0h0m1 0h0m-24 1h0m12 0h0m5 0h0m1 0h0m2 0h0m7 0h0m36 0h0m-66 1h0m5 0h0m3 0h0m3 0h0m1 0h0m7 0h0m1 0h0m1 0h0m2 0h0m8 0h0m13 0h0m-38 1h0m1 0h0m1 0h0m1 0h0m2 0h0m2 0h0m7 0h0m3 0h0m-23 1h0m2 0h0m1 0h0m8 0h0m5 0h0m2 0h0m2 0h0m4 0h0m5 0h0m-33 1h0m6 0h0m3 0h0m9 0h0m10 0h0m3 0h0m3 0h0m1 0h0m1 0h0m-29 1h0m8 0h0m1 0h0m1 0h0m7 0h0m4 0h0m4 0h0m-22 1h0m1 0h0m5 0h0m2 0h0m3 0h0m18 0h0m-29 1h0m2 0h0m4 0h0m2 0h0m1 0h0m9 0h0m1 0h0m2 0h0m4 0h0m-28 1h0m3 0h0m5 0h0m5 0h0m1 0h0m3 0h0m3 0h0m2 0h0m-20 1h0m12 0h0m2 0h0m1 0h0m28 0h0m-42 1h0m5 0h0m1 0h0m4 0h0m3 0h0m8 0h0m20 0h0m-58 1h0m13 0h0m7 0h0m1 0h0m6 0h0m2 0h0m4 0h0m1 0h0m1 0h0m1 0h0m4 0h0m-32 1h0m9 0h0m3 0h0m1 0h0m2 0h0m2 0h0m4 0h0m2 0h0m2 0h0m1 0h0m1 0h0m6 0h0m-30 1h0m1 0h0m6 0h0m1 0h0m2 0h0m5 0h0m9 0h0m3 0h0m2 0h0m5 0h0m12 0h0m-35 1h0m10 0h0m1 0h0m3 0h0m5 0h0m2 0h0m-25 1h0m8 0h0m4 0h0m-12 1h0m1 0h0m1 0h0m10 0h0m2 0h0m7 0h0m-23 1h0m3 0h0m2 0h0m5 0h0m3 0h0m10 0h0m-27 1h0m2 0h0m8 0h0m1 0h0m10 0h0m-11 1h0m4 0h0m1 0h0m1 0h0m-19 1h0m2 0h0m4 0h0m6 0h0m1 0h0m1 0h0m2 0h0m4 0h0m2 0h0m15 0h0m-29 1h0m1 0h0m4 0h0m2 0h0m2 0h0m2 0h0m1 0h0m2 0h0m3 0h0m10 0h0m-23 1h0m4 0h0m42 0h0m-54 1h0m4 0h0m12 0h0m1 0h0m4 0h0m9 0h0m-24 1h0m1 0h0m2 0h0m2 0h0m-6 1h0m10 0h0m9 0h0m1 0h0m-15 1h0m9 0h0m21 0h0m-38 1h0m1 0h0m7 0h0m6 0h0m1 0h0m1 0h0m7 0h0m3 0h0m5 0h0m1 0h0m-28 1h0m1 0h0m4 0h0m5 0h0m3 0h0m7 0h0m-22 1h0m6 0h0m1 0h0m10 0h0m2 0h0m-18 1h0m6 0h0m1 0h0m5 0h0m1 0h0m3 0h0m1 0h0m6 0h0m-22 1h0m3 0h0m2 0h0m4 0h0m1 0h0m1 0h0m3 0h0m1 0h0m-11 1h0m3 0h0m1 0h0m3 0h0m4 0h0m6 0h0m-31 1h0m7 0h0m3 0h0m10 0h0m10 0h0m-25 1h0m4 0h0m6 0h0m6 0h0m2 0h0m3 0h0m-19 1h0m1 0h0m10 0h0m1 0h0m2 0h0m11 0h0m4 0h0m17 0h0m5 0h0m-35 1h0m3 0h0m9 0h0m13 0h0m-29 1h0m2 0h0m5 0h0m7 0h0m-26 1h0m9 0h0m9 0h0m17 0h0m1 0h0m6 0h0m-39 1h0m30 0h0m11 0h0m-43 1h0m5 0h0m3 0h0m1 0h0m7 0h0m-15 1h0m3 0h0m2 0h0m5 0h0m24 0h0m6 0h0m-43 1h0m6 0h0m2 0h0m3 0h0m1 0h0m9 0h0m3 0h0m5 0h0m-20 1h0m1 0h0m-5 1h0m13 0h0m23 0h0m-33 1h0m5 0h0m0 1h0m6 0h0m-12 1h0m1 0h0m10 0h0m15 0h0m-19 1h0m2 0h0m14 0h0m-19 1h0m6 0h0m1 0h0m-22 1h0m11 0h0m4 1h0m4 0h0m9 0h0m1 0h0m-20 1h0m9 0h0m1 0h0m3 1h0m6 0h0m-20 1h0m3 0h0m6 0h0m1 0h0m-2 1h0m8 0h0m6 0h0m2 0h0m-20 1h0m7 0h0m8 0h0"/><path stroke="#cc4778" stroke-opacity="0.75" d="M118 80h0m3 15h0m-4 1h0m-2 7h0m1 0h0m4 2h0m-1 2h0m1 1h0m-11 1h0m10 0h0m6 1h0m-38 1h0m28 0h0m23 0h0m-33 1h0m17 0h0m17 0h0m-27 2h0m12 1h0m-18 1h0m3 0h0m12 0h0m7 0h0m-25 1h0m24 0h0m-21 1h0m4 0h0m4 0h0m6 0h0m1 0h0m-14 1h0m19 0h0m9 0h0m9 0h0m-43 1h0m11 0h0m7 0h0m5 0h0m2 0h0m6 0h0m-18 1h0m1 0h0m1 0h0m9 0h0m5 0h0m2 0h0m2 0h0m-40 1h0m13 0h0m7 0h0m8 0h0m2 0h0m10 0h0m-28 1h0m4 0h0m5 0h0m1 0h0m1 0h0m6 0h0m4 0h0m1 0h0m1 0h0m-14 1h0m4 0h0m2 0h0m1 0h0m1 0h0m-6 1h0m2 0h0m6 0h0m6 0h0m3 0h0m4 0h0m-39 1h0m5 0h0m11 0h0m2 0h0m4 0h0m10 0h0m5 0h0m-29 1h0m4 0h0m4 0h0m1 0h0m10 0h0m5 0h0m-22 1h0m11 0h0m1 0h0m20 0h0m-35 1h0m3 0h0m7 0h0m1 0h0m1 0h0m1 0h0m5 0h0m1 0h0m4 0h0m3 0h0m3 0h0m6 0h0m-34 1h0m11 0h0m4 0h0m1 0h0m1 0h0m2 0h0m1 0h0m4 0h0m7 0h0m-39 1h0m6 0h0m8 0h0m1 0h0m1 0h0m1 0h0m3 0h0m3 0h0m1 0h0m13 0h0m6 0h0m-24 1h0m1 0h0m6 0h0m5 0h0m3 0h0m3 0h0m1 0h0m-34 1h0m2 0h0m3 0h0m2 0h0m7 0h0m5 0h0m1 0h0m2 0h0m2 0h0m-30 1h0m6 0h0m3 0h0m1 0h0m6 0h0m16 0h0m-18 1h0m7 0h0m2 0h0m2 0h0m3 0h0m17 0h0m-29 1h0m3 0h0m4 0h0m4 0h0m5 0h0m2 0h0m-25 1h0m13 0h0m1 0h0m8 0h0m9 0h0m2 0h0m4 0h0m-41 1h0m9 0h0m6 0h0m3 0h0m7 0h0m12 0h0m-49 1h0m2 0h0m11 0h0m17 0h0m12 0h0m3 0h0m7 0h0m-36 1h0m8 0h0m2 0h0m6 0h0m2 0h0m7 0h0m1 0h0m1 0h0m5 0h0m-36 1h0m5 0h0m1 0h0m2 0h0m3 0h0m1 0h0m1 0h0m1 0h0m6 0h0m5 0h0m3 0h0m-18 1h0m2 0h0m1 0h0m6 0h0m2 0h0m9 0h0m14 0h0m-44 1h0m8 0h0m3 0h0m15 0h0m6 0h0m4 0h0m1 0h0m3 0h0m17 0h0m-53 1h0m1 0h0m2 0h0m1 0h0m4 0h0m1 0h0m2 0h0m2 0h0m5 0h0m1 0h0m17 0h0m8 0h0m-41 1h0m2 0h0m3 0h0m1 0h0m2 0h0m8 0h0m1 0h0m18 0h0m-48 1h0m4 0h0m3 0h0m11 0h0m4 0h0m2 0h0m8 0h0m11 0h0m5 0h0m-56 1h0m10 0h0m8 0h0m2 0h0m2 0h0m1 0h0m4 0h0m1 0h0m1 0h0m3 0h0m1 0h0m1 0h0m2 0h0m2 0h0m3 0h0m2 0h0m1 0h0m9 0h0m-35 1h0m2 0h0m1 0h0m4 0h0m2 0h0m2 0h0m1 0h0m2 0h0m5 0h0m1 0h0m2 0h0m1 0h0m3 0h0m1 0h0m-27 1h0m2 0h0m5 0h0m1 0h0m2 0h0m1 0h0m1 0h0m1 0h0m1 0h0m5 0h0m-16 1h0m3 0h0m1 0h0m1 0h0m3 0h0m1 0h0m2 0h0m1 0h0m2 0h0m7 0h0m10 0h0m-42 1h0m1 0h0m6 0h0m1 0h0m2 0h0m3 0h0m1 0h0m1 0h0m2 0h0m1 0h0m3 0h0m1 0h0m2 0h0m4 0h0m1 0h0m10 0h0m-29 1h0m2 0h0m1 0h0m4 0h0m1 0h0m5 0h0m1 0h0m3 0h0m1 0h0m2 0h0m1 0h0m7 0h0m-24 1h0m4 0h0m2 0h0m2 0h0m4 0h0m-20 1h0m1 0h0m4 0h0m2 0h0m6 0h0m4 0h0m2 0h0m1 0h0m1 0h0m1 0h0m9 0h0m-27 1h0m4 0h0m4 0h0m1 0h0m1 0h0m5 0h0m2 0h0m11 0h0m-31 1h0m2 0h0m3 0h0m4 0h0m2 0h0m2 0h0m1 0h0m1 0h0m1 0h0m1 0h0m2 0h0m4 0h0m-45 1h0m18 0h0m1 0h0m9 0h0m5 0h0m3 0h0m1 0h0m10 0h0m27 0h0m-46 1h0m3 0h0m1 0h0m2 0h0m5 0h0m3 0h0m1 0h0m3 0h0m1 0h0m1 0h0m1 0h0m2 0h0m9 0h0m4 0h0m-40 1h0m2 0h0m1 0h0m7 0h0m2 0h0m6 0h0m2 0h0m1 0h0m-23 1h0m6 0h0m1 0h0m1 0h0m3 0h0m1 0h0m4 0h0m4 0h0m2 0h0m1 0h0m1 0h0m1 0h0m4 0h0m4 0h0m-25 1h0m3 0h0m2 0h0m4 0h0m1 0h0m3 0h0m6 0h0m2 0h0m11 0h0m-53 1h0m16 0h0m1 0h0m1 0h0m4 0h0m7 0h0m7 0h0m2 0h0m7 0h0m-37 1h0m7 0h0m7 0h0m1 0h0m1 0h0m1 0h0m10 0h0m2 0h0m6 0h0m-27 1h0m4 0h0m3 0h0m1 0h0m1 0h0m2 0h0m1 0h0m7 0h0m4 0h0m3 0h0m-32 1h0m3 0h0m1 0h0m4 0h0m6 0h0m4 0h0m2 0h0m2 0h0m1 0h0m6 0h0m1 0h0m7 0h0m4 0h0m-45 1h0m4 0h0m1 0h0m1 0h0m19 0h0m3 0h0m2 0h0m1 0h0m3 0h0m12 0h0m1 0h0m-40 1h0m2 0h0m2 0h0m1 0h0m4 0h0m2 0h0m1 0h0m1 0h0m1 0h0m1 0h0m1 0h0m1 0h0m2 0h0m3 0h0m5 0h0m5 0h0m1 0h0m-35 1h0m5 0h0m3 0h0m1 0h0m2 0h0m1 0h0m4 0h0m1 0h0m1 0h0m3 0h0m2 0h0m1 0h0m3 0h0m3 0h0m1 0h0m5 0h0m27 0h0m-63 1h0m5 0h0m1 0h0m8 0h0m4 0h0m1 0h0m9 0h0m5 0h0m4 0h0m-35 1h0m5 0h0m1 0h0m1 0h0m1 0h0m2 0h0m2 0h0m8 0h0m1 0h0m4 0h0m-27 1h0m8 0h0m1 0h0m3 0h0m2 0h0m1 0h0m15 0h0m2 0h0m3 0h0m1 0h0m2 0h0m-35 1h0m1 0h0m1 0h0m5 0h0m5 0h0m1 0h0m2 0h0m8 0h0m2 0h0m5 0h0m-28 1h0m5 0h0m2 0h0m2 0h0m3 0h0m2 0h0m10 0h0m2 0h0m10 0h0m-38 1h0m8 0h0m4 0h0m3 0h0m4 0h0m1 0h0m5 0h0m2 0h0m-28 1h0m13 0h0m4 0h0m7 0h0m1 0h0m1 0h0m1 0h0m2 0h0m1 0h0m-36 1h0m4 0h0m5 0h0m2 0h0m1 0h0m2 0h0m1 0h0m1 0h0m1 0h0m7 0h0m1 0h0m8 0h0m3 0h0m-24 1h0m1 0h0m1 0h0m5 0h0m1 0h0m4 0h0m4 0h0m2 0h0m-27 1h0m8 0h0m2 0h0m3 0h0m8 0h0m1 0h0m2 0h0m2 0h0m-27 1h0m5 0h0m3 0h0m1 0h0m2 0h0m1 0h0m5 0h0m3 0h0m3 0h0m1 0h0m4 0h0m2 0h0m2 0h0m1 0h0m3 0h0m-34 1h0m4 0h0m3 0h0m1 0h0m1 0h0m1 0h0m2 0h0m2 0h0m1 0h0m1 0h0m15 0h0m-33 1h0m8 0h0m4 0h0m1 0h0m5 0h0m1 0h0m3 0h0m2 0h0m1 0h0m1 0h0m5 0h0m3 0h0m8 0h0m-39 1h0m3 0h0m1 0h0m4 0h0m3 0h0m8 0h0m2 0h0m11 0h0m6 0h0m1 0h0m-37 1h0m2 0h0m3 0h0m1 0h0m4 0h0m2 0h0m3 0h0m1 0h0m2 0h0m3 0h0m5 0h0m1 0h0m2 0h0m-50 1h0m20 0h0m3 0h0m1 0h0m2 0h0m1 0h0m3 0h0m2 0h0m5 0h0m8 0h0m1 0h0m3 0h0m-27 1h0m2 0h0m5 0h0m1 0h0m3 0h0m5 0h0m2 0h0m4 0h0m3 0h0m3 0h0m2 0h0m-26 1h0m1 0h0m1 0h0m1 0h0m1 0h0m1 0h0m1 0h0m1 0h0m7 0h0m11 0h0m2 0h0m-34 1h0m2 0h0m3 0h0m2 0h0m1 0h0m2 0h0m1 0h0m1 0h0m1 0h0m1 0h0m3 0h0m7 0h0m5 0h0m10 0h0m6 0h0m-43 1h0m3 0h0m1 0h0m4 0h0m3 0h0m2 0h0m3 0h0m8 0h0m-29 1h0m1 0h0m8 0h0m1 0h0m3 0h0m2 0h0m1 0h0m8 0h0m1 0h0m2 0h0m5 1h0"/><path stroke="#5c01a6" stroke-opacity="1.0" d="M76 74h0m4 18h0m8 0h0m-2 3h0m49 1h0m-57 3h0m10 1h0m-12 1h0m7 3h0m32 2h0m-30 1h0m62 0h0m-72 1h0m4 1h0m6 3h0m-2 2h0m1 1h0m3 0h0m-18 1h0m8 0h0m16 0h0m-23 1h0m5 0h0m4 0h0m8 0h0m-22 1h0m-9 1h0m15 0h0m1 0h0m6 0h0m2 0h0m-2 1h0m2 0h0m65 0h0m-71 1h0m-2 1h0m11 0h0m72 0h0m-99 1h0m25 0h0m-6 1h0m12 1h0m58 0h0m-59 1h0m2 0h0m-16 1h0m3 0h0m10 0h0m-11 1h0m8 0h0m6 0h0m-6 1h0m7 0h0m-15 1h0m12 0h0m40 0h0m-63 1h0m11 0h0m18 0h0m-8 2h0m5 0h0m3 0h0m-24 4h0m4 0h0m18 0h0m3 1h0m-26 2h0m11 0h0m2 0h0m-12 1h0m18 0h0m11 1h0m-20 1h0m7 0h0m11 0h0m-9 1h0m6 0h0m6 1h0m-40 1h0m29 0h0m6 0h0m6 0h0m1 0h0m-23 1h0m16 0h0m-4 2h0m3 0h0m2 0h0m-18 1h0m6 0h0m-1 1h0m18 1h0m-12 2h0m6 0h0m5 1h0m6 0h0m-21 2h0m19 1h0m-1 1h0m-1 1h0m-20 1h0m5 0h0m8 2h0m3 0h0m8 0h0m-8 1h0m2 1h0m3 0h0m-4 1h0m5 1h0m-53 1h0m49 1h0m-4 5h0m6 0h0m2 0h0m19 0h0m-25 1h0m2 0h0m-4 1h0m2 0h0m-6 1h0m-4 2h0m9 0h0m8 0h0m1 0h0m-12 1h0m9 0h0m1 0h0m0 1h0m2 0h0m-9 1h0m8 0h0m-8 1h0m7 2h0m2 1h0m-4 1h0m-10 1h0m10 0h0m3 0h0"/><path stroke="#fca636" stroke-opacity="0.92" d="M121 123h0m81 36h0"/><path stroke="#5002a2" stroke-opacity="1.0" d="M78 72h0m5 19h0m0 7h0m3 3h0m-2 2h0m-5 1h0m-6 1h0m12 0h0m-1 1h0m-7 4h0m13 0h0m-9 1h0m14 1h0m-18 1h0m7 1h0m7 0h0m-7 1h0m-7 3h0m-2 1h0m10 0h0m-6 1h0m1 1h0m-4 1h0m9 0h0m-13 1h0m2 1h0m2 0h0m-6 1h0m14 0h0m2 0h0m-14 1h0m7 0h0m-9 1h0m14 0h0m2 0h0m2 0h0m-8 1h0m2 0h0m4 0h0m1 0h0m5 0h0m-22 1h0m16 0h0m-4 1h0m63 0h0m-65 1h0m8 1h0m-17 1h0m11 0h0m-15 1h0m16 0h0m13 0h0m-26 1h0m4 0h0m5 0h0m12 0h0m-29 2h0m31 0h0m-24 1h0m-10 1h0m12 1h0m19 1h0m-18 1h0m22 0h0m-25 1h0m17 0h0m2 0h0m6 0h0m-10 5h0m4 0h0m-11 1h0m16 0h0m6 1h0m-8 1h0m2 0h0m3 0h0m-4 7h0m6 0h0m4 1h0m-29 1h0m8 0h0m19 3h0m-7 3h0m3 0h0m3 1h0m-2 1h0m3 0h0m-3 1h0m4 1h0m-7 1h0m5 0h0m2 1h0m2 0h0m2 0h0m-7 2h0m6 1h0m-4 1h0m0 1h0m3 2h0m2 1h0m1 1h0m-8 1h0m-4 2h0m6 0h0m3 0h0m-7 2h0m3 0h0m6 0h0m-8 1h0m-6 2h0m7 0h0"/><path stroke="#f2844b" stroke-opacity="0.83" d="M94 51h0m0 2h0m-1 13h0m21 5h0m28 5h0m-31 11h0m-15 3h0m3 4h0m3 0h0m-19 1h0m9 0h0m-6 1h0m4 0h0m3 2h0m6 1h0m2 0h0m3 0h0m-4 2h0m7 0h0m-9 2h0m6 0h0m-21 1h0m8 0h0m3 1h0m5 0h0m-9 1h0m4 0h0m8 1h0m-16 1h0m11 0h0m2 0h0m-10 1h0m5 0h0m5 0h0m-9 1h0m12 1h0m2 2h0m-1 1h0m-16 1h0m1 0h0m-3 2h0m1 0h0m3 0h0m6 0h0m2 1h0m14 0h0m-24 2h0m4 0h0m14 0h0m-12 1h0m9 1h0m5 0h0m-4 1h0m-5 2h0m6 1h0m-5 2h0m-9 1h0m4 0h0m3 1h0m-7 1h0m6 0h0m20 1h0m-16 1h0m3 0h0m-2 3h0m6 0h0m6 0h0m-11 3h0m-7 1h0m0 1h0m19 1h0m45 0h0m-52 1h0m10 1h0m-13 1h0m-7 10h0m6 0h0"/><path stroke="#c33d80" stroke-opacity="0.75" d="M128 91h0m-5 11h0m-2 3h0m-13 3h0m5 0h0m14 1h0m-11 3h0m9 0h0m-20 1h0m18 0h0m5 0h0m0 1h0m15 0h0m-17 1h0m4 0h0m1 0h0m-16 1h0m8 0h0m15 0h0m-17 1h0m5 0h0m7 0h0m-19 1h0m16 0h0m-11 1h0m7 0h0m6 0h0m-7 1h0m0 1h0m3 0h0m10 0h0m-21 1h0m7 0h0m9 0h0m-10 1h0m1 0h0m6 0h0m4 0h0m2 0h0m-11 1h0m7 0h0m-11 1h0m3 0h0m1 0h0m1 0h0m2 0h0m3 0h0m-18 1h0m5 0h0m6 0h0m8 0h0m-13 1h0m1 0h0m4 0h0m5 0h0m10 0h0m6 0h0m-15 1h0m-19 1h0m3 0h0m6 0h0m2 0h0m3 0h0m3 0h0m5 0h0m12 0h0m-28 1h0m2 0h0m2 0h0m10 0h0m2 0h0m9 0h0m-26 1h0m4 0h0m3 0h0m3 0h0m1 0h0m3 0h0m4 0h0m9 0h0m1 0h0m-24 1h0m8 0h0m1 0h0m-26 1h0m17 0h0m7 0h0m3 0h0m11 0h0m-27 1h0m5 0h0m1 0h0m5 0h0m10 0h0m6 0h0m-31 1h0m2 0h0m9 0h0m2 0h0m1 0h0m14 0h0m2 0h0m-25 1h0m-4 1h0m1 0h0m4 0h0m1 0h0m5 0h0m1 0h0m1 0h0m3 0h0m5 0h0m5 0h0m17 0h0m-46 1h0m8 0h0m2 0h0m6 0h0m4 0h0m3 0h0m4 0h0m-28 1h0m11 0h0m2 0h0m1 0h0m7 0h0m8 0h0m9 0h0m-41 1h0m16 0h0m2 0h0m10 0h0m5 0h0m-37 1h0m17 0h0m11 0h0m1 0h0m11 0h0m-29 1h0m5 0h0m11 0h0m2 0h0m13 0h0m-36 1h0m17 0h0m5 0h0m3 0h0m2 0h0m15 0h0m-44 1h0m5 0h0m2 0h0m4 0h0m4 0h0m1 0h0m2 0h0m7 0h0m2 0h0m1 0h0m-24 1h0m15 0h0m4 0h0m1 0h0m3 0h0m-27 1h0m9 0h0m11 0h0m12 0h0m13 0h0m-41 1h0m3 0h0m7 0h0m2 0h0m4 0h0m1 0h0m7 0h0m2 0h0m-19 1h0m1 0h0m1 0h0m3 0h0m2 0h0m5 0h0m4 0h0m1 0h0m2 0h0m12 0h0m-38 1h0m5 0h0m10 0h0m3 0h0m6 0h0m2 0h0m1 0h0m3 0h0m4 0h0m8 0h0m-36 1h0m1 0h0m8 0h0m1 0h0m3 0h0m3 0h0m10 0h0m4 0h0m-46 1h0m9 0h0m6 0h0m1 0h0m2 0h0m2 0h0m2 0h0m5 0h0m6 0h0m3 0h0m3 0h0m-27 1h0m1 0h0m8 0h0m4 0h0m2 0h0m2 0h0m4 0h0m2 0h0m2 0h0m6 0h0m-29 1h0m1 0h0m4 0h0m3 0h0m1 0h0m5 0h0m4 0h0m4 0h0m2 0h0m8 0h0m1 0h0m-32 1h0m3 0h0m17 0h0m-33 1h0m9 0h0m3 0h0m5 0h0m6 0h0m2 0h0m2 0h0m2 0h0m19 0h0m-41 1h0m2 0h0m1 0h0m1 0h0m1 0h0m5 0h0m4 0h0m3 0h0m15 0h0m-30 1h0m3 0h0m1 0h0m3 0h0m2 0h0m8 0h0m8 0h0m1 0h0m5 0h0m-34 1h0m4 0h0m2 0h0m2 0h0m6 0h0m5 0h0m1 0h0m2 0h0m2 0h0m6 0h0m-29 1h0m9 0h0m4 0h0m1 0h0m1 0h0m1 0h0m1 0h0m1 0h0m2 0h0m1 0h0m19 0h0m-46 1h0m12 0h0m1 0h0m1 0h0m4 0h0m1 0h0m3 0h0m2 0h0m3 0h0m2 0h0m1 0h0m1 0h0m13 0h0m-35 1h0m2 0h0m8 0h0m6 0h0m2 0h0m30 0h0m-61 1h0m11 0h0m3 0h0m5 0h0m2 0h0m1 0h0m1 0h0m4 0h0m1 0h0m3 0h0m4 0h0m1 0h0m4 0h0m1 0h0m-33 1h0m4 0h0m1 0h0m1 0h0m3 0h0m20 0h0m3 0h0m5 0h0m2 0h0m-38 1h0m2 0h0m5 0h0m1 0h0m4 0h0m3 0h0m1 0h0m3 0h0m6 0h0m8 0h0m7 0h0m-36 1h0m4 0h0m2 0h0m1 0h0m1 0h0m4 0h0m1 0h0m5 0h0m10 0h0m9 0h0m8 0h0m-46 1h0m6 0h0m8 0h0m1 0h0m5 0h0m2 0h0m24 0h0m-50 1h0m1 0h0m1 0h0m18 0h0m2 0h0m2 0h0m6 0h0m1 0h0m2 0h0m1 0h0m-33 1h0m5 0h0m6 0h0m3 0h0m9 0h0m3 0h0m2 0h0m1 0h0m3 0h0m-25 1h0m2 0h0m1 0h0m1 0h0m5 0h0m4 0h0m1 0h0m4 0h0m17 0h0m-49 1h0m3 0h0m3 0h0m6 0h0m1 0h0m8 0h0m3 0h0m3 0h0m3 0h0m2 0h0m1 0h0m7 0h0m-36 1h0m2 0h0m6 0h0m6 0h0m2 0h0m1 0h0m3 0h0m2 0h0m3 0h0m11 0h0m2 0h0m3 0h0m-42 1h0m2 0h0m4 0h0m1 0h0m3 0h0m2 0h0m3 0h0m2 0h0m3 0h0m1 0h0m4 0h0m1 0h0m1 0h0m1 0h0m3 0h0m-29 1h0m9 0h0m11 0h0m4 0h0m1 0h0m4 0h0m2 0h0m2 0h0m18 0h0m-56 1h0m6 0h0m5 0h0m3 0h0m3 0h0m1 0h0m1 0h0m1 0h0m1 0h0m1 0h0m1 0h0m4 0h0m1 0h0m2 0h0m3 0h0m8 0h0m21 0h0m-54 1h0m1 0h0m4 0h0m1 0h0m3 0h0m1 0h0m5 0h0m7 0h0m4 0h0m2 0h0m-25 1h0m1 0h0m3 0h0m1 0h0m2 0h0m7 0h0m1 0h0m1 0h0m8 0h0m1 0h0m3 0h0m-34 1h0m2 0h0m3 0h0m2 0h0m10 0h0m2 0h0m1 0h0m2 0h0m7 0h0m-29 1h0m3 0h0m2 0h0m1 0h0m1 0h0m1 0h0m6 0h0m4 0h0m4 0h0m9 0h0m3 0h0m2 0h0m4 0h0m-43 1h0m11 0h0m2 0h0m3 0h0m2 0h0m5 0h0m1 0h0m1 0h0m2 0h0m5 0h0m9 0h0m-33 1h0m5 0h0m1 0h0m10 0h0m4 0h0m7 0h0m1 0h0m11 0h0m12 0h0m-50 1h0m6 0h0m1 0h0m1 0h0m5 0h0m5 0h0m6 0h0m2 0h0m4 0h0m8 0h0m-37 1h0m2 0h0m1 0h0m1 0h0m1 0h0m1 0h0m1 0h0m5 0h0m1 0h0m3 0h0m-22 1h0m3 0h0m2 0h0m1 0h0m2 0h0m2 0h0m1 0h0m1 0h0m1 0h0m1 0h0m6 0h0m8 0h0m-22 1h0m1 0h0m2 0h0m1 0h0m6 0h0m4 0h0m4 0h0m23 0h0m-43 1h0m3 0h0m1 0h0m1 0h0m4 0h0m2 0h0m2 0h0m7 0h0m2 0h0m-23 1h0m8 0h0m3 0h0m3 0h0m2 0h0m1 0h0m1 0h0m2 0h0m5 0h0m4 0h0m5 0h0m-33 1h0m5 0h0m2 0h0m1 0h0m1 0h0m2 0h0m1 0h0m3 0h0m2 0h0m1 0h0m11 0h0m4 0h0m5 0h0m5 0h0m-45 1h0m6 0h0m3 0h0m3 0h0m1 0h0m3 0h0m5 0h0m1 0h0m4 0h0m3 0h0m-35 1h0m9 0h0m5 0h0m1 0h0m2 0h0m5 0h0m8 0h0m1 0h0m3 0h0m6 0h0m32 0h0m-68 1h0m9 0h0m6 0h0m19 0h0"/><path stroke="#d35171" stroke-opacity="0.75" d="M99 53h0m3 8h0m-2 31h0m2 5h0m9 1h0m-17 2h0m22 1h0m-11 2h0m12 0h0m2 1h0m-16 1h0m5 0h0m3 0h0m8 0h0m-21 1h0m20 0h0m8 0h0m-29 1h0m35 0h0m-13 1h0m-20 1h0m1 0h0m14 0h0m4 0h0m-22 1h0m7 0h0m16 0h0m-6 1h0m5 0h0m-13 1h0m2 0h0m5 0h0m-13 1h0m4 0h0m10 0h0m6 0h0m6 0h0m9 0h0m-26 1h0m17 0h0m-44 1h0m24 0h0m3 0h0m-15 1h0m11 0h0m6 0h0m7 0h0m-12 1h0m4 0h0m1 0h0m7 0h0m-27 1h0m10 0h0m6 0h0m2 0h0m1 0h0m4 0h0m1 0h0m2 0h0m6 0h0m2 0h0m4 0h0m-43 1h0m12 0h0m4 0h0m10 0h0m1 0h0m4 0h0m1 0h0m1 0h0m-22 1h0m12 0h0m2 0h0m2 0h0m3 0h0m4 0h0m-23 1h0m14 0h0m6 0h0m-26 1h0m19 0h0m1 0h0m1 0h0m3 0h0m4 0h0m3 0h0m11 0h0m4 0h0m-26 1h0m4 0h0m1 0h0m5 0h0m2 0h0m1 0h0m1 0h0m6 0h0m-34 1h0m16 0h0m3 0h0m3 0h0m2 0h0m1 0h0m5 0h0m-31 1h0m2 0h0m5 0h0m19 0h0m6 0h0m-20 1h0m1 0h0m1 0h0m2 0h0m2 0h0m2 0h0m1 0h0m1 0h0m2 0h0m1 0h0m4 0h0m1 0h0m-23 1h0m1 0h0m1 0h0m4 0h0m3 0h0m3 0h0m2 0h0m13 0h0m-43 1h0m35 0h0m7 0h0m11 0h0m8 0h0m-47 1h0m4 0h0m3 0h0m1 0h0m4 0h0m6 0h0m1 0h0m3 0h0m2 0h0m4 0h0m4 0h0m10 0h0m-55 1h0m12 0h0m11 0h0m5 0h0m1 0h0m9 0h0m26 0h0m-57 1h0m12 0h0m4 0h0m2 0h0m2 0h0m1 0h0m3 0h0m1 0h0m1 0h0m6 0h0m3 0h0m4 0h0m-47 1h0m26 0h0m1 0h0m1 0h0m1 0h0m1 0h0m1 0h0m2 0h0m1 0h0m5 0h0m1 0h0m-29 1h0m8 0h0m6 0h0m1 0h0m1 0h0m1 0h0m1 0h0m2 0h0m7 0h0m-28 1h0m6 0h0m2 0h0m3 0h0m2 0h0m4 0h0m1 0h0m3 0h0m1 0h0m1 0h0m3 0h0m2 0h0m-9 1h0m1 0h0m1 0h0m5 0h0m3 0h0m1 0h0m11 0h0m-40 1h0m3 0h0m3 0h0m1 0h0m8 0h0m1 0h0m1 0h0m6 0h0m6 0h0m-26 1h0m8 0h0m3 0h0m1 0h0m6 0h0m3 0h0m3 0h0m1 0h0m1 0h0m-17 1h0m1 0h0m2 0h0m5 0h0m1 0h0m2 0h0m2 0h0m12 0h0m10 0h0m-49 1h0m2 0h0m5 0h0m1 0h0m2 0h0m1 0h0m2 0h0m3 0h0m1 0h0m1 0h0m4 0h0m3 0h0m-29 1h0m16 0h0m4 0h0m2 0h0m2 0h0m1 0h0m2 0h0m6 0h0m3 0h0m-26 1h0m6 0h0m4 0h0m1 0h0m5 0h0m3 0h0m2 0h0m2 0h0m7 0h0m8 0h0m-45 1h0m1 0h0m8 0h0m1 0h0m3 0h0m5 0h0m1 0h0m2 0h0m2 0h0m2 0h0m2 0h0m3 0h0m6 0h0m6 0h0m7 0h0m-42 1h0m7 0h0m2 0h0m5 0h0m1 0h0m2 0h0m2 0h0m1 0h0m1 0h0m21 0h0m-56 1h0m11 0h0m8 0h0m4 0h0m1 0h0m4 0h0m2 0h0m1 0h0m3 0h0m3 0h0m21 0h0m-37 1h0m1 0h0m1 0h0m1 0h0m3 0h0m2 0h0m2 0h0m9 0h0m3 0h0m-24 1h0m4 0h0m5 0h0m1 0h0m9 0h0m9 0h0m-37 1h0m11 0h0m5 0h0m2 0h0m1 0h0m3 0h0m2 0h0m3 0h0m1 0h0m1 0h0m2 0h0m1 0h0m1 0h0m7 0h0m-34 1h0m3 0h0m1 0h0m5 0h0m2 0h0m1 0h0m3 0h0m4 0h0m17 0h0m9 0h0m-58 1h0m5 0h0m9 0h0m4 0h0m1 0h0m1 0h0m1 0h0m1 0h0m3 0h0m2 0h0m1 0h0m2 0h0m5 0h0m4 0h0m9 0h0m9 0h0m-45 1h0m1 0h0m7 0h0m4 0h0m3 0h0m1 0h0m2 0h0m1 0h0m1 0h0m4 0h0m14 0h0m-37 1h0m4 0h0m2 0h0m2 0h0m2 0h0m2 0h0m1 0h0m1 0h0m22 0h0m5 0h0m-47 1h0m4 0h0m3 0h0m1 0h0m2 0h0m2 0h0m5 0h0m1 0h0m2 0h0m1 0h0m1 0h0m3 0h0m2 0h0m4 0h0m1 0h0m4 0h0m-34 1h0m6 0h0m4 0h0m2 0h0m2 0h0m3 0h0m1 0h0m7 0h0m5 0h0m19 0h0m-47 1h0m1 0h0m4 0h0m2 0h0m8 0h0m2 0h0m7 0h0m20 0h0m-92 1h0m52 0h0m7 0h0m10 0h0m5 0h0m-24 1h0m5 0h0m1 0h0m2 0h0m1 0h0m2 0h0m1 0h0m4 0h0m6 0h0m1 0h0m-22 1h0m5 0h0m1 0h0m15 0h0m1 0h0m11 0h0m-36 1h0m10 0h0m1 0h0m3 0h0m8 0h0m9 0h0m9 0h0m-39 1h0m5 0h0m3 0h0m4 0h0m2 0h0m1 0h0m4 0h0m3 0h0m1 0h0m3 0h0m-11 1h0m5 0h0m10 0h0m-34 1h0m4 0h0m6 0h0m1 0h0m2 0h0m1 0h0m5 0h0m4 0h0m4 0h0m1 0h0m-17 1h0m2 0h0m7 0h0m-5 1h0m1 0h0m2 0h0m1 0h0m1 0h0m3 0h0m1 0h0m5 0h0m15 0h0m-40 1h0m5 0h0m1 0h0m2 0h0m3 0h0m1 0h0m4 0h0m27 0h0m-45 1h0m7 0h0m2 0h0m2 0h0m1 0h0m1 0h0m1 0h0m1 0h0m3 0h0m1 0h0m4 0h0m1 0h0m9 0h0m8 0h0m-48 1h0m12 0h0m3 0h0m3 0h0m4 0h0m1 0h0m12 0h0m-25 1h0m1 0h0m1 0h0m1 0h0m4 0h0m8 0h0m2 0h0m10 0h0m5 0h0m8 0h0m-36 1h0m1 0h0m1 0h0m5 0h0m2 0h0m7 0h0m-23 1h0m3 0h0m4 0h0m2 0h0m3 0h0m5 0h0m6 0h0m1 0h0m13 0h0m24 0h0m-56 1h0m1 0h0m8 0h0m1 0h0m4 0h0m1 0h0m2 0h0m3 0h0m2 0h0m3 0h0m6 0h0m4 0h0m8 0h0m-33 1h0m2 0h0m6 0h0m-21 1h0m1 0h0m4 0h0m2 0h0m1 0h0m2 0h0m3 0h0m3 0h0m18 0h0m-29 1h0m1 0h0m1 0h0m5 0h0m2 0h0m4 0h0m22 0h0m-41 1h0m7 0h0m2 0h0m3 0h0m1 0h0m4 0h0m2 0h0m2 0h0m2 0h0m19 0h0m-38 1h0m1 0h0m5 0h0m2 0h0m5 0h0m2 0h0m9 0h0m2 0h0m15 0h0m-45 1h0m5 0h0m1 0h0m1 0h0m4 0h0m1 0h0m2 0h0m1 0h0m3 0h0m3 0h0m4 0h0m6 0h0m-46 1h0m16 0h0m14 0h0m3 0h0m15 0h0m-20 1h0m8 0h0m1 0h0m8 0h0m4 0h0m8 0h0m-36 1h0m11 0h0m6 0h0m4 0h0m1 0h0m8 0h0m-28 1h0m6 0h0m5 0h0m8 0h0m3 0h0m-25 1h0m1 0h0m4 0h0m2 0h0m2 0h0m2 0h0m1 0h0m2 0h0m1 0h0m4 0h0m2 0h0m1 0h0m1 0h0m-26 1h0m4 0h0m7 0h0m2 0h0m1 0h0m1 0h0m2 0h0m-15 1h0m1 0h0m2 0h0m4 0h0m3 0h0m1 0h0m2 0h0m9 0h0m2 0h0m3 0h0m9 0h0m-41 1h0m1 0h0m1 0h0m5 0h0m2 0h0m6 0h0m10 0h0m-22 1h0m2 0h0m3 0h0m1 0h0m1 0h0m4 0h0m3 0h0m2 0h0m2 0h0m2 0h0m10 0h0m7 0h0m16 0h0m-52 1h0m6 0h0m2 0h0m2 0h0m5 0h0m-17 1h0m3 0h0m14 0h0m15 0h0m-22 1h0m2 0h0m2 0h0m11 0h0m2 0h0m1 0h0m2 0h0m5 0h0m1 0h0m-30 1h0m7 0h0m2 0h0m1 0h0m2 0h0m-29 1h0m44 0h0m1 0h0"/><path stroke="#e76f5a" stroke-opacity="0.75" d="M101 38h0m-4 13h0m4 8h0m-2 6h0m-6 2h0m-1 10h0m8 0h0m1 3h0m-9 1h0m2 0h0m13 3h0m-8 4h0m-11 3h0m20 1h0m-15 1h0m0 2h0m-5 3h0m1 0h0m9 0h0m12 0h0m-22 1h0m7 0h0m11 0h0m-17 2h0m2 0h0m1 0h0m10 0h0m1 0h0m1 0h0m-3 1h0m8 1h0m-15 1h0m3 0h0m6 0h0m1 0h0m2 0h0m-1 1h0m-14 1h0m5 0h0m3 0h0m-5 1h0m7 0h0m7 0h0m3 0h0m-11 1h0m1 0h0m4 0h0m12 0h0m-16 1h0m3 0h0m6 0h0m3 0h0m-20 1h0m3 0h0m1 0h0m4 0h0m7 0h0m1 0h0m-9 1h0m-7 1h0m2 0h0m9 0h0m3 0h0m6 0h0m-9 1h0m2 0h0m1 0h0m-23 1h0m10 0h0m10 0h0m-18 1h0m4 0h0m12 0h0m8 0h0m-8 1h0m8 0h0m3 0h0m-28 1h0m13 0h0m4 0h0m1 0h0m7 0h0m7 0h0m-38 1h0m11 0h0m14 0h0m1 0h0m1 0h0m2 0h0m8 0h0m1 0h0m-18 1h0m-29 1h0m21 0h0m1 0h0m4 0h0m1 0h0m2 0h0m1 0h0m3 0h0m7 0h0m4 0h0m-22 1h0m11 0h0m4 0h0m-26 1h0m1 0h0m6 0h0m6 0h0m2 0h0m2 0h0m4 0h0m2 0h0m-13 1h0m1 0h0m7 0h0m4 0h0m1 0h0m3 0h0m1 0h0m1 0h0m8 0h0m2 0h0m-30 1h0m9 0h0m5 0h0m1 0h0m-17 1h0m4 0h0m3 0h0m1 0h0m6 0h0m2 0h0m1 0h0m1 0h0m12 0h0m-27 1h0m12 0h0m1 0h0m2 0h0m-17 1h0m2 0h0m2 0h0m4 0h0m1 0h0m3 0h0m4 0h0m9 0h0m8 0h0m-42 1h0m10 0h0m3 0h0m10 0h0m2 0h0m5 0h0m5 0h0m8 0h0m-29 1h0m9 0h0m1 0h0m1 0h0m4 0h0m4 0h0m2 0h0m1 0h0m-15 1h0m1 0h0m2 0h0m3 0h0m1 0h0m1 0h0m1 0h0m11 0h0m-20 1h0m6 0h0m4 0h0m7 0h0m-58 1h0m34 0h0m16 0h0m3 0h0m-19 1h0m1 0h0m5 0h0m12 0h0m2 0h0m7 0h0m-27 1h0m12 0h0m2 0h0m3 0h0m1 0h0m7 0h0m-26 1h0m13 0h0m3 0h0m5 0h0m3 0h0m-16 1h0m2 0h0m2 0h0m4 0h0m-15 1h0m7 0h0m4 0h0m7 0h0m4 0h0m-15 1h0m12 0h0m-13 1h0m1 0h0m-2 1h0m3 0h0m-3 1h0m3 0h0m4 0h0m8 0h0m-9 1h0m1 0h0m5 0h0m4 0h0m9 0h0m-29 1h0m4 0h0m2 0h0m7 0h0m-4 1h0m4 0h0m1 0h0m-3 1h0m10 0h0m-4 1h0m5 0h0m-22 1h0m8 0h0m-1 1h0m-2 1h0m6 0h0m7 0h0m-9 1h0m7 1h0m-4 1h0m2 0h0m10 0h0m8 1h0m-24 1h0m2 0h0m-7 1h0m6 0h0m4 1h0m0 1h0m7 1h0m-12 1h0m13 0h0m-17 5h0m17 0h0m-16 1h0m15 0h0m-6 2h0m12 0h0m-6 1h0m-2 2h0m-9 4h0m11 6h0m0 5h0m0 1h0"/><path stroke="#9c179e" stroke-opacity="0.75" d="M110 93h0m36 15h0m-3 3h0m-21 6h0m-3 2h0m19 4h0m10 2h0m-16 2h0m17 0h0m-7 1h0m-1 1h0m1 0h0m3 0h0m2 0h0m5 2h0m-10 6h0m8 1h0m-6 1h0m2 1h0m3 1h0m7 1h0m-21 1h0m11 0h0m5 1h0m-9 2h0m-30 4h0m-30 3h0m46 0h0m-3 1h0m16 3h0m6 0h0m6 0h0m1 2h0m-5 1h0m-4 4h0m-6 1h0m14 1h0m15 7h0m-12 3h0m-30 1h0m4 0h0m4 0h0m-18 1h0m23 1h0m2 1h0m24 0h0m-23 1h0m7 0h0m-26 1h0m6 2h0m9 0h0m14 0h0m1 0h0m-16 1h0m-10 2h0m20 0h0m-18 1h0m21 0h0m-37 1h0m28 0h0m4 0h0m-27 1h0m20 0h0"/><path stroke="#b12a90" stroke-opacity="0.75" d="M84 104h0m38 7h0m15 0h0m-2 6h0m-2 2h0m9 4h0m-3 1h0m-5 1h0m-1 1h0m8 0h0m-27 1h0m19 1h0m1 0h0m8 0h0m-7 1h0m17 0h0m-28 1h0m14 0h0m3 0h0m4 0h0m-24 1h0m24 0h0m-15 3h0m10 0h0m18 0h0m-3 1h0m-25 1h0m5 0h0m1 0h0m-11 1h0m5 0h0m2 0h0m-10 1h0m9 0h0m10 0h0m-16 1h0m15 0h0m-25 1h0m13 0h0m11 1h0m6 0h0m-22 1h0m5 0h0m8 0h0m11 0h0m-37 1h0m26 0h0m1 0h0m3 0h0m4 0h0m1 0h0m1 0h0m-14 1h0m-2 1h0m8 0h0m1 0h0m-16 1h0m26 0h0m-21 1h0m10 1h0m-17 1h0m30 0h0m28 0h0m-62 1h0m2 0h0m7 0h0m1 0h0m3 0h0m4 0h0m-25 1h0m9 0h0m10 0h0m2 1h0m3 0h0m1 0h0m6 0h0m3 0h0m6 0h0m-36 1h0m13 0h0m8 0h0m1 0h0m-11 1h0m9 0h0m4 0h0m14 0h0m-30 1h0m2 0h0m1 0h0m4 0h0m7 0h0m2 0h0m3 0h0m-28 1h0m25 0h0m3 0h0m20 0h0m-43 1h0m2 0h0m1 0h0m17 1h0m1 0h0m11 0h0m-29 1h0m37 0h0m-45 1h0m16 0h0m4 0h0m4 0h0m2 0h0m7 0h0m-32 1h0m19 0h0m1 0h0m-18 1h0m8 0h0m2 0h0m13 0h0m2 0h0m17 0h0m-29 1h0m5 0h0m6 0h0m10 0h0m5 0h0m1 0h0m-42 1h0m12 0h0m-7 1h0m12 0h0m1 0h0m7 0h0m-18 1h0m12 0h0m15 0h0m3 0h0m-24 1h0m8 0h0m6 0h0m3 0h0m-23 1h0m17 0h0m-28 1h0m26 0h0m-18 1h0m3 0h0m13 0h0m8 0h0m3 0h0m9 0h0m-42 1h0m24 0h0m10 0h0m-39 1h0m10 0h0m8 0h0m9 0h0m5 0h0m3 0h0m2 0h0m8 0h0m-46 1h0m10 0h0m8 0h0m1 0h0m12 0h0m8 0h0m5 0h0m-32 1h0m8 0h0m27 0h0m-20 1h0m1 0h0m3 0h0m4 0h0m-39 1h0m12 0h0m5 0h0m1 0h0m8 0h0m2 0h0m2 0h0m5 0h0m7 0h0m3 0h0m8 0h0m-34 1h0m2 0h0m5 0h0m10 0h0m2 0h0m10 0h0m-35 1h0m7 0h0m11 0h0m9 0h0m-33 1h0m7 0h0m11 0h0m1 0h0m2 0h0m3 0h0m4 0h0m2 0h0m-14 1h0m12 0h0m-17 1h0m2 0h0m3 0h0m7 0h0m12 0h0m5 1h0m-45 1h0m14 0h0m6 0h0m8 0h0m1 0h0m-20 1h0m3 0h0m6 0h0m4 0h0m15 0h0m-32 1h0m10 0h0m13 0h0m2 0h0m9 0h0m-31 1h0m11 0h0m4 0h0m2 0h0m4 0h0m21 0h0m-46 1h0m6 0h0m12 0h0m14 0h0m3 0h0m6 0h0m-36 1h0m4 0h0m8 0h0m8 0h0m2 0h0m-29 1h0m13 0h0m5 0h0m2 0h0m2 0h0m2 0h0m-3 1h0m5 0h0"/><path stroke="#41049d" stroke-opacity="1.0" d="M118 93h0m-40 13h0m-7 1h0m10 4h0m-17 1h0m15 0h0m-7 2h0m0 2h0m6 0h0m-13 1h0m13 0h0m5 0h0m2 1h0m-12 2h0m69 0h0m-59 1h0m1 1h0m-5 1h0m-1 1h0m6 0h0m-16 1h0m16 0h0m4 0h0m-9 2h0m-4 4h0m1 0h0m14 3h0m-26 1h0m23 0h0m-6 2h0m6 0h0m5 0h0m-10 1h0m9 6h0m8 0h0m-10 1h0m-24 4h0m28 2h0m6 0h0m-11 1h0m3 4h0m4 1h0m7 1h0m-7 3h0m3 2h0m1 0h0m1 3h0m-3 1h0m7 0h0m-10 2h0m7 2h0m-11 5h0m5 0h0m5 2h0m-12 1h0m10 4h0m2 2h0m-3 4h0"/><path stroke="#8f0da4" stroke-opacity="0.81" d="M111 90h0m12 5h0m-4 3h0m22 9h0m-7 1h0m13 10h0m-73 3h0m74 1h0m-76 2h0m70 4h0m13 2h0m-60 7h0m1 2h0m45 0h0m6 0h0m8 0h0m-76 4h0m65 2h0m-61 5h0m52 4h0m13 2h0m-6 4h0m-10 2h0m14 0h0m5 1h0m2 4h0m-51 1h0m39 1h0m-6 5h0m13 1h0m-8 4h0m0 6h0m3 0h0m3 0h0m-5 1h0m4 1h0m7 2h0"/><path stroke="#000000" d="M82 136h0m2 0h0m56 0h0m-61 1h0m45 1h0m-48 1h0m4 0h0m11 0h0m-11 1h0m7 0h0m-13 1h0m0 1h0m4 0h0m10 0h0m-14 1h0m3 0h0m5 0h0m1 0h0m-5 1h0m2 0h0m4 0h0m3 0h0m-36 1h0m20 0h0m1 0h0m1 0h0m1 0h0m14 0h0m-11 1h0m5 0h0m4 0h0m3 0h0m-27 1h0m16 0h0m1 0h0m4 0h0m4 0h0m-15 1h0m1 0h0m3 0h0m4 0h0m2 0h0m4 0h0m1 0h0m2 0h0m-22 1h0m1 0h0m4 0h0m3 0h0m2 0h0m1 0h0m3 0h0m7 0h0m1 0h0m1 0h0m2 0h0m1 0h0m2 0h0m-31 1h0m8 0h0m1 0h0m1 0h0m3 0h0m1 0h0m2 0h0m6 0h0m1 0h0m1 0h0m1 0h0m1 0h0m2 0h0m-17 1h0m1 0h0m1 0h0m2 0h0m2 0h0m2 0h0m1 0h0m2 0h0m3 0h0m2 0h0m-23 1h0m4 0h0m4 0h0m1 0h0m1 0h0m1 0h0m1 0h0m1 0h0m1 0h0m1 0h0m4 0h0m1 0h0m1 0h0m2 0h0m1 0h0m1 0h0m2 0h0m1 0h0m-33 1h0m10 0h0m1 0h0m1 0h0m1 0h0m3 0h0m1 0h0m1 0h0m2 0h0m1 0h0m1 0h0m2 0h0m3 0h0m1 0h0m1 0h0m2 0h0m-29 1h0m1 0h0m5 0h0m2 0h0m2 0h0m1 0h0m1 0h0m1 0h0m1 0h0m2 0h0m1 0h0m2 0h0m1 0h0m2 0h0m1 0h0m1 0h0m2 0h0m1 0h0m-34 1h0m15 0h0m1 0h0m1 0h0m2 0h0m1 0h0m1 0h0m1 0h0m1 0h0m1 0h0m1 0h0m1 0h0m1 0h0m1 0h0m1 0h0m1 0h0m4 0h0m1 0h0m6 0h0m2 0h0m-46 1h0m13 0h0m3 0h0m2 0h0m2 0h0m1 0h0m1 0h0m3 0h0m1 0h0m1 0h0m1 0h0m1 0h0m1 0h0m1 0h0m1 0h0m1 0h0m1 0h0m1 0h0m2 0h0m1 0h0m-28 1h0m3 0h0m1 0h0m2 0h0m1 0h0m1 0h0m2 0h0m2 0h0m1 0h0m1 0h0m1 0h0m3 0h0m2 0h0m1 0h0m1 0h0m1 0h0m1 0h0m1 0h0m2 0h0m5 0h0m2 0h0m-30 1h0m2 0h0m4 0h0m1 0h0m2 0h0m1 0h0m1 0h0m1 0h0m1 0h0m1 0h0m1 0h0m1 0h0m1 0h0m1 0h0m1 0h0m2 0h0m2 0h0m1 0h0m1 0h0m1 0h0m-32 1h0m3 0h0m4 0h0m1 0h0m1 0h0m2 0h0m2 0h0m1 0h0m1 0h0m1 0h0m1 0h0m1 0h0m1 0h0m1 0h0m1 0h0m1 0h0m1 0h0m1 0h0m1 0h0m1 0h0m1 0h0m1 0h0m2 0h0m3 0h0m2 0h0m-33 1h0m2 0h0m3 0h0m2 0h0m1 0h0m1 0h0m1 0h0m2 0h0m1 0h0m1 0h0m1 0h0m1 0h0m1 0h0m1 0h0m1 0h0m1 0h0m1 0h0m1 0h0m1 0h0m1 0h0m1 0h0m1 0h0m1 0h0m2 0h0m1 0h0m1 0h0m1 0h0m-44 1h0m4 0h0m1 0h0m11 0h0m1 0h0m1 0h0m2 0h0m2 0h0m1 0h0m1 0h0m1 0h0m1 0h0m1 0h0m1 0h0m1 0h0m1 0h0m1 0h0m1 0h0m1 0h0m1 0h0m2 0h0m2 0h0m1 0h0m1 0h0m2 0h0m1 0h0m5 0h0m4 0h0m-53 1h0m5 0h0m12 0h0m2 0h0m3 0h0m1 0h0m2 0h0m2 0h0m1 0h0m1 0h0m2 0h0m1 0h0m1 0h0m1 0h0m1 0h0m2 0h0m1 0h0m1 0h0m3 0h0m4 0h0m3 0h0m2 0h0m-58 1h0m17 0h0m5 0h0m5 0h0m1 0h0m1 0h0m1 0h0m1 0h0m2 0h0m1 0h0m1 0h0m1 0h0m1 0h0m1 0h0m2 0h0m1 0h0m1 0h0m1 0h0m1 0h0m1 0h0m1 0h0m1 0h0m1 0h0m2 0h0m4 0h0m-39 1h0m2 0h0m3 0h0m9 0h0m3 0h0m1 0h0m1 0h0m1 0h0m2 0h0m1 0h0m1 0h0m1 0h0m1 0h0m2 0h0m1 0h0m1 0h0m1 0h0m1 0h0m1 0h0m1 0h0m1 0h0m2 0h0m-40 1h0m3 0h0m9 0h0m1 0h0m4 0h0m2 0h0m2 0h0m1 0h0m1 0h0m1 0h0m1 0h0m2 0h0m1 0h0m1 0h0m1 0h0m2 0h0m1 0h0m1 0h0m1 0h0m2 0h0m1 0h0m2 0h0m-29 1h0m7 0h0m1 0h0m2 0h0m1 0h0m1 0h0m1 0h0m1 0h0m1 0h0m1 0h0m1 0h0m1 0h0m1 0h0m1 0h0m1 0h0m1 0h0m1 0h0m1 0h0m1 0h0m1 0h0m1 0h0m4 0h0m-35 1h0m5 0h0m2 0h0m1 0h0m1 0h0m3 0h0m1 0h0m2 0h0m1 0h0m2 0h0m1 0h0m1 0h0m2 0h0m1 0h0m1 0h0m1 0h0m1 0h0m1 0h0m1 0h0m1 0h0m1 0h0m1 0h0m1 0h0m1 0h0m-29 1h0m7 0h0m1 0h0m1 0h0m1 0h0m1 0h0m2 0h0m1 0h0m2 0h0m1 0h0m1 0h0m1 0h0m1 0h0m1 0h0m1 0h0m1 0h0m1 0h0m2 0h0m1 0h0m-36 1h0m2 0h0m11 0h0m1 0h0m4 0h0m1 0h0m1 0h0m3 0h0m1 0h0m1 0h0m1 0h0m1 0h0m1 0h0m3 0h0m2 0h0m1 0h0m1 0h0m6 0h0m3 0h0m-52 1h0m8 0h0m14 0h0m2 0h0m2 0h0m2 0h0m2 0h0m1 0h0m1 0h0m1 0h0m1 0h0m1 0h0m1 0h0m1 0h0m1 0h0m5 0h0m1 0h0m2 0h0m-23 1h0m3 0h0m1 0h0m1 0h0m1 0h0m1 0h0m1 0h0m2 0h0m3 0h0m2 0h0m2 0h0m1 0h0m4 0h0m2 0h0m-22 1h0m2 0h0m1 0h0m2 0h0m1 0h0m1 0h0m2 0h0m1 0h0m2 0h0m1 0h0m2 0h0m1 0h0m1 0h0m1 0h0m2 0h0m1 0h0m1 0h0m8 0h0m-63 1h0m1 0h0m17 0h0m9 0h0m2 0h0m4 0h0m4 0h0m1 0h0m2 0h0m1 0h0m1 0h0m1 0h0m1 0h0m1 0h0m1 0h0m1 0h0m2 0h0m1 0h0m1 0h0m1 0h0m-31 1h0m5 0h0m7 0h0m3 0h0m2 0h0m2 0h0m1 0h0m1 0h0m2 0h0m1 0h0m1 0h0m1 0h0m1 0h0m1 0h0m9 0h0m4 0h0m-39 1h0m3 0h0m4 0h0m2 0h0m1 0h0m2 0h0m1 0h0m3 0h0m1 0h0m3 0h0m1 0h0m2 0h0m1 0h0m1 0h0m4 0h0m1 0h0m1 0h0m-17 1h0m1 0h0m1 0h0m1 0h0m1 0h0m1 0h0m3 0h0m4 0h0m1 0h0m1 0h0m4 0h0m1 0h0m-20 1h0m2 0h0m1 0h0m1 0h0m1 0h0m2 0h0m1 0h0m-37 1h0m20 0h0m8 0h0m1 0h0m3 0h0m1 0h0m5 0h0m1 0h0m1 0h0m5 0h0m5 0h0m-28 1h0m4 0h0m1 0h0m2 0h0m2 0h0m3 0h0m1 0h0m4 0h0m1 0h0m5 0h0m-30 1h0m9 0h0m1 0h0m14 0h0m-32 1h0m24 0h0m10 1h0m2 0h0m-8 1h0m5 0h0m-3 1h0m5 0h0m-45 2h0"/></g><path d="M75.28 31.9V107.17H102.60L123.09 72.40V31.9" stroke="#000" stroke-width="1.2" fill="none"/><path d="M34.30 179.40v-4M34.30 31.90v4M68.45 179.40v-4M68.45 31.90v4M102.60 179.40v-4M102.60 31.90v4M136.75 179.40v-4M136.75 31.90v4M170.90 179.40v-4M170.90 31.90v4M41.13 179.40v-2M41.13 31.90v2M47.96 179.40v-2M47.96 31.90v2M54.79 179.40v-2M54.79 31.90v2M61.62 179.40v-2M61.62 31.90v2M75.28 179.40v-2M75.28 31.90v2M82.11 179.40v-2M82.11 31.90v2M88.94 179.40v-2M88.94 31.90v2M95.77 179.40v-2M95.77 31.90v2M109.43 179.40v-2M109.43 31.90v2M116.26 179.40v-2M116.26 31.90v2M123.09 179.40v-2M123.09 31.90v2M129.92 179.40v-2M129.92 31.90v2M143.58 179.40v-2M143.58 31.90v2M150.41 179.40v-2M150.41 31.90v2M157.24 179.40v-2M157.24 31.90v2M164.07 179.40v-2M164.07 31.90v2M34.30 179.40h4M170.90 179.40h-4M34.30 152.65h4M170.90 152.65h-4M34.30 125.90h4M170.90 125.90h-4M34.30 99.15h4M170.90 99.15h-4M34.30 72.40h4M170.90 72.40h-4M34.30 45.65h4M170.90 45.65h-4M34.30 174.05h2M170.90 174.05h-2M34.30 168.70h2M170.90 168.70h-2M34.30 163.35h2M170.90 163.35h-2M34.30 158.00h2M170.90 158.00h-2M34.30 147.30h2M170.90 147.30h-2M34.30 141.95h2M170.90 141.95h-2M34.30 136.60h2M170.90 136.60h-2M34.30 131.25h2M170.90 131.25h-2M34.30 120.55h2M170.90 120.55h-2M34.30 115.20h2M170.90 115.20h-2M34.30 109.85h2M170.90 109.85h-2M34.30 104.50h2M170.90 104.50h-2M34.30 93.80h2M170.90 93.80h-2M34.30 88.45h2M170.90 88.45h-2M34.30 83.10h2M170.90 83.10h-2M34.30 77.75h2M170.90 77.75h-2M34.30 67.05h2M170.90 67.05h-2M34.30 61.70h2M170.90 61.70h-2M34.30 56.35h2M170.90 56.35h-2M34.30 51.00h2M170.90 51.00h-2M34.30 40.30h2M170.90 40.30h-2M34.30 34.95h2M170.90 34.95h-2" stroke="#000" stroke-width="1.0" fill="none"/><rect x="34.30" y="31.90" width="136.60" height="147.50" fill="none" stroke="#000" stroke-width="1.1"/><text x="28.02 35.54" y="190.60" font-size="10.61" fill="#000" stroke="#000" stroke-width="0.14">−2</text><text x="62.17 69.69" y="190.60" font-size="10.61" fill="#000" stroke="#000" stroke-width="0.14">−1</text><text x="99.65" y="190.60" font-size="10.61" fill="#000" stroke="#000" stroke-width="0.14">0</text><text x="133.80" y="190.60" font-size="10.61" fill="#000" stroke="#000" stroke-width="0.14">1</text><text x="167.95" y="190.60" font-size="10.61" fill="#000" stroke="#000" stroke-width="0.14">2</text><text x="17.65 25.17" y="183.50" font-size="10.61" fill="#000" stroke="#000" stroke-width="0.14">−1</text><text x="25.17" y="156.75" font-size="10.61" fill="#000" stroke="#000" stroke-width="0.14">0</text><text x="25.17" y="130.00" font-size="10.61" fill="#000" stroke="#000" stroke-width="0.14">1</text><text x="25.17" y="103.25" font-size="10.61" fill="#000" stroke="#000" stroke-width="0.14">2</text><text x="25.17" y="76.50" font-size="10.61" fill="#000" stroke="#000" stroke-width="0.14">3</text><text x="25.17" y="49.75" font-size="10.61" fill="#000" stroke="#000" stroke-width="0.14">4</text><text x="-34.42 -26.58 -18.72 -10.86 -3.37 8.97 12.43 20.27 28.12 35.98 43.48" y="106.60" font-size="13.10" fill="#000" stroke="#000" stroke-width="0.30" transform="rotate(-90 10.90 106.60)">F115W-F150W</text><text x="57.58 65.42 73.28 81.14 88.63 100.97 104.43 112.27 120.12 127.98 135.48" y="204.50" font-size="13.10" fill="#000" stroke="#000" stroke-width="0.30">F200W-F277W</text><g clip-path="url(#c2)" stroke-linecap="round" stroke-width="2.2" fill="none"><path stroke="#a62098" stroke-opacity="0.75" d="M162 277h0m-6 21h0m10 5h0m-18 6h0m12 0h0m5 0h0m-6 3h0m-7 1h0m6 0h0m3 1h0m8 0h0m-5 2h0m-3 2h0m4 0h0m-1 2h0m3 0h0m6 0h0m-33 1h0m8 0h0m19 0h0m9 0h0m-22 1h0m18 1h0m-18 1h0m5 0h0m-53 2h0m52 0h0m4 0h0m-15 1h0m2 1h0m12 1h0m5 0h0m1 0h0m-53 1h0m41 0h0m6 1h0m2 0h0m-25 1h0m10 0h0m25 0h0m-66 1h0m33 0h0m26 0h0m15 0h0m-37 1h0m8 0h0m4 0h0m0 1h0m21 0h0m-46 2h0m16 0h0m2 0h0m27 0h0m-43 1h0m27 0h0m-44 1h0m15 1h0m14 0h0m16 0h0m-41 1h0m14 0h0m0 1h0m23 1h0m-37 2h0m21 0h0m-25 1h0m-8 1h0m26 0h0m17 0h0m-49 1h0m34 0h0m4 2h0m-24 2h0m3 2h0m9 0h0m15 0h0m-29 1h0m12 0h0m6 0h0m-18 1h0m4 0h0m-3 2h0m15 0h0m-31 1h0m8 1h0m10 0h0m8 1h0m-73 1h0m54 0h0m26 1h0m-23 3h0m2 0h0m1 0h0m-17 1h0m26 0h0m-22 1h0m-8 1h0m34 1h0m-31 4h0m17 0h0m4 1h0m-16 5h0m16 2h0m-10 2h0"/><path stroke="#330597" stroke-opacity="1.0" d="M137 313h0m-35 19h0m0 1h0m-4 3h0m13 0h0m1 2h0m-11 15h0m-25 18h0m20 0h0m9 1h0m-13 1h0m-4 2h0m-11 1h0m2 0h0m4 1h0m3 1h0m5 0h0m-1 2h0m-33 1h0m31 0h0m-22 1h0m19 0h0m6 0h0m-9 1h0m-13 1h0m2 0h0m5 0h0m7 1h0m-18 1h0m18 0h0m4 0h0m-26 2h0m4 0h0m6 0h0m1 0h0m-7 1h0m5 1h0m3 0h0m-21 1h0m43 0h0m-23 1h0m1 0h0m1 0h0m1 0h0m15 0h0m-26 1h0m11 0h0m2 2h0m1 0h0m4 0h0m-17 1h0m4 2h0m6 0h0m-18 1h0m13 0h0m2 1h0m-19 1h0m18 0h0m-11 1h0m1 0h0m9 0h0m-2 2h0m2 1h0m-10 2h0m-1 1h0m13 0h0"/><path stroke="#f5eb27" stroke-opacity="0.92" d="M99 317h0m-10 8h0m5 6h0m3 0h0m12 0h0m-5 3h0m-11 2h0m-3 3h0"/><path stroke="#9c179e" stroke-opacity="0.75" d="M151 282h0m-2 19h0m5 9h0m-26 1h0m40 2h0m0 1h0m-15 1h0m3 1h0m13 0h0m4 1h0m-11 1h0m-7 2h0m1 0h0m11 0h0m-11 1h0m29 1h0m-37 1h0m18 0h0m8 0h0m-8 1h0m1 1h0m8 0h0m1 0h0m-25 1h0m10 0h0m7 0h0m3 1h0m-54 2h0m45 0h0m27 0h0m-22 1h0m13 0h0m-44 1h0m33 0h0m-17 2h0m-20 4h0m16 0h0m1 0h0m6 0h0m-5 1h0m-25 3h0m-7 2h0m9 1h0m-8 1h0m8 1h0m20 0h0m-39 2h0m15 0h0m9 1h0m-30 1h0m21 0h0m-16 1h0m31 0h0m6 0h0m-13 3h0m10 0h0m-4 1h0m-56 1h0m49 0h0m-31 1h0m41 1h0m-27 1h0m11 0h0m-46 4h0m27 0h0m11 1h0m17 0h0m-39 1h0m8 1h0m-2 1h0m8 1h0m-10 1h0m32 1h0m-31 3h0m5 1h0m9 2h0m3 2h0m6 24h0m-4 3h0"/><path stroke="#b12a90" stroke-opacity="0.75" d="M167 302h0m-9 4h0m1 3h0m1 0h0m13 0h0m5 0h0m-18 1h0m3 0h0m5 0h0m1 1h0m-109 1h0m10 1h0m74 0h0m1 0h0m9 0h0m6 0h0m6 0h0m-7 2h0m-18 1h0m23 0h0m-7 1h0m5 0h0m19 0h0m-32 1h0m18 0h0m4 0h0m3 1h0m-21 1h0m8 0h0m4 1h0m1 0h0m-36 1h0m24 0h0m8 0h0m-26 1h0m22 0h0m5 0h0m-17 1h0m4 0h0m2 0h0m7 0h0m8 0h0m-10 1h0m4 0h0m14 0h0m-19 1h0m5 0h0m5 0h0m1 0h0m1 1h0m1 0h0m11 0h0m-51 1h0m7 0h0m2 0h0m20 0h0m-6 1h0m21 0h0m-56 2h0m32 0h0m11 0h0m-86 1h0m65 0h0m3 1h0m17 0h0m10 0h0m8 0h0m-35 1h0m16 0h0m-21 1h0m16 0h0m5 0h0m2 0h0m-21 1h0m7 0h0m8 0h0m14 0h0m-44 1h0m29 1h0m-22 1h0m2 0h0m6 0h0m1 0h0m36 0h0m-32 2h0m16 0h0m4 0h0m-33 1h0m11 0h0m7 0h0m5 0h0m-34 1h0m28 0h0m4 0h0m-15 1h0m3 0h0m-16 1h0m10 0h0m6 0h0m-35 1h0m33 0h0m7 0h0m-23 1h0m-35 1h0m41 0h0m23 1h0m2 0h0m-30 2h0m15 0h0m-29 1h0m32 0h0m-20 1h0m10 0h0m-26 1h0m20 0h0m11 0h0m-21 1h0m1 0h0m20 0h0m-47 1h0m14 0h0m12 0h0m21 0h0m2 0h0m-31 1h0m15 0h0m10 0h0m-17 1h0m-7 1h0m7 0h0m-8 1h0m8 0h0m11 0h0m-4 1h0m15 0h0m-36 1h0m17 0h0m45 0h0m-66 1h0m8 0h0m1 0h0m3 0h0m28 0h0m-35 1h0m2 0h0m9 0h0m8 0h0m1 0h0m-19 1h0m1 0h0m6 1h0m6 0h0m-16 1h0m3 0h0m1 0h0m2 0h0m11 0h0m-14 1h0m1 0h0m2 0h0m6 0h0m-12 1h0m23 0h0m9 0h0m-19 1h0m2 0h0m-17 1h0m2 0h0m-10 1h0m5 0h0m7 0h0m17 0h0m11 0h0m-12 2h0m-18 1h0m21 0h0m-12 1h0m-7 1h0m9 1h0m3 0h0m-10 1h0m3 2h0m-11 3h0m12 0h0m36 16h0"/><path stroke="#ed7953" stroke-opacity="0.79" d="M101 283h0m25 0h0m-12 3h0m11 1h0m-16 2h0m-4 4h0m-2 1h0m6 0h0m-3 1h0m8 4h0m-11 1h0m8 0h0m-11 1h0m17 1h0m-11 2h0m17 1h0m-2 3h0m-21 2h0m9 0h0m-14 3h0m21 0h0m49 4h0m9 0h0m-66 1h0m9 0h0m56 1h0m-73 1h0m17 1h0m-1 4h0m29 1h0m-22 2h0m26 0h0m-7 3h0m-12 1h0m32 0h0m-26 1h0m-9 3h0m4 2h0m6 1h0m-26 3h0m25 0h0m-15 1h0m9 0h0m9 2h0m24 1h0m-42 3h0m-7 1h0m9 0h0m-1 7h0m6 3h0m44 0h0m-71 10h0m2 1h0m17 0h0"/><path stroke="#5002a2" stroke-opacity="1.0" d="M153 259h0m12 4h0m-10 6h0m8 1h0m5 2h0m-15 6h0m-3 6h0m-4 3h0m0 6h0m2 0h0m-3 1h0m-5 3h0m8 1h0m8 5h0m-17 1h0m-4 1h0m6 0h0m4 2h0m-14 1h0m13 2h0m-19 1h0m17 6h0m-19 5h0m13 0h0m-37 1h0m12 0h0m25 1h0m-27 4h0m4 0h0m-9 1h0m3 1h0m-7 1h0m22 2h0m-16 1h0m5 0h0m-36 1h0m17 0h0m19 2h0m-14 1h0m13 1h0m8 1h0m-9 1h0m-28 2h0m9 0h0m8 3h0m-2 2h0m2 0h0m15 0h0m13 0h0m-21 1h0m-13 1h0m7 2h0m13 0h0m-12 1h0m1 2h0m-41 1h0m18 1h0m16 0h0m-34 1h0m3 0h0m6 0h0m20 0h0m27 0h0m-27 1h0m6 0h0m-11 3h0m6 0h0m-22 1h0m25 1h0m-7 1h0m19 0h0m-15 2h0m-25 3h0m14 0h0m-9 1h0m8 0h0m4 0h0m5 0h0m-27 1h0m12 1h0m2 0h0m16 0h0m1 0h0m6 0h0m-10 1h0m9 0h0m-3 1h0m-16 1h0m11 0h0m3 0h0m-14 1h0m11 0h0m14 0h0m-34 1h0m21 0h0m-18 1h0m-5 1h0m14 0h0m2 0h0m9 1h0m-11 1h0m2 0h0m2 0h0m3 0h0m-13 1h0m11 0h0m3 0h0m2 0h0m-32 1h0m8 0h0m8 0h0m4 0h0m2 0h0m7 0h0m-13 1h0m4 0h0m-8 1h0m8 0h0m-23 1h0m8 0h0m4 0h0m10 0h0m3 0h0m2 0h0m5 0h0m-14 1h0m5 0h0m11 0h0m-6 1h0m6 0h0m-20 1h0m2 0h0m-20 1h0m14 0h0m2 0h0m4 0h0m6 0h0m-7 1h0m6 1h0m2 0h0m-28 1h0m9 0h0m1 0h0m9 0h0m5 0h0m3 0h0m-1 1h0m5 0h0m-26 1h0m14 0h0m4 0h0m1 0h0m9 0h0m-27 1h0m7 0h0m5 0h0m4 0h0m-1 2h0m1 0h0m1 0h0m5 0h0m-23 1h0m16 0h0m-5 1h0m3 0h0m1 0h0m-6 1h0m4 0h0m6 0h0m-11 1h0m1 0h0m1 0h0m6 0h0m2 0h0m-12 1h0m9 0h0m-4 3h0m3 0h0m-8 1h0"/><path stroke="#220690" stroke-opacity="1.0" d="M90 369h0m-8 1h0m16 1h0m-20 1h0m-9 4h0m14 8h0m-6 1h0m4 1h0m-18 2h0m21 1h0m2 0h0m-21 2h0m17 0h0m-15 2h0m9 0h0m1 0h0m9 0h0m-29 1h0m13 0h0m-10 1h0m11 1h0m4 0h0m-19 1h0m5 0h0m2 0h0m5 0h0m15 0h0m-20 1h0m7 1h0m2 0h0m-5 1h0m3 0h0m-5 1h0m-9 1h0m8 0h0m5 0h0m-14 1h0m1 0h0m16 2h0m-10 3h0"/><path stroke="#5c01a6" stroke-opacity="1.0" d="M172 264h0m-17 5h0m0 2h0m10 1h0m-1 1h0m2 3h0m-3 2h0m-8 1h0m8 0h0m-9 1h0m3 0h0m1 0h0m-12 1h0m4 0h0m-4 1h0m4 0h0m1 0h0m-3 2h0m-5 6h0m-4 2h0m-33 1h0m32 0h0m5 1h0m11 4h0m-14 1h0m7 0h0m-13 3h0m10 0h0m-6 1h0m17 1h0m-16 1h0m7 0h0m-5 4h0m-10 1h0m6 2h0m0 2h0m2 1h0m-10 3h0m7 3h0m-36 2h0m31 0h0m-95 1h0m97 2h0m-20 3h0m-8 1h0m6 1h0m-21 3h0m14 0h0m15 0h0m19 0h0m-30 1h0m-35 2h0m22 0h0m11 0h0m-4 1h0m16 1h0m-23 1h0m-4 1h0m32 0h0m-22 1h0m-67 1h0m26 0h0m46 0h0m9 0h0m-16 1h0m7 0h0m-50 1h0m48 0h0m12 0h0m-32 2h0m32 0h0m10 0h0m7 0h0m-62 1h0m16 0h0m8 0h0m13 0h0m14 0h0m1 0h0m-15 1h0m-19 2h0m4 0h0m21 1h0m-49 1h0m37 0h0m14 1h0m-32 1h0m-8 1h0m9 0h0m24 0h0m-51 1h0m53 0h0m-59 1h0m41 0h0m4 0h0m-27 1h0m22 0h0m4 0h0m3 0h0m4 0h0m-8 1h0m1 0h0m4 0h0m-31 1h0m-3 1h0m38 0h0m3 0h0m-20 1h0m2 0h0m4 0h0m7 0h0m8 0h0m3 0h0m-23 1h0m12 0h0m-22 1h0m13 1h0m3 0h0m-13 1h0m15 1h0m6 0h0m2 0h0m2 0h0m-4 1h0m8 0h0m-29 1h0m2 0h0m25 0h0m-16 1h0m9 0h0m-23 1h0m14 0h0m6 0h0m-30 1h0m20 0h0m1 0h0m20 0h0m2 0h0m-24 1h0m-10 1h0m4 0h0m6 0h0m3 0h0m-25 1h0m6 0h0m-13 1h0m9 0h0m4 0h0m13 0h0m-2 1h0m22 0h0m-38 1h0m11 0h0m7 0h0m4 0h0m37 0h0m-50 1h0m14 0h0m-22 1h0m4 1h0m-2 1h0m8 1h0m1 0h0m-22 1h0m13 0h0m1 0h0m15 0h0m11 0h0m-20 1h0m3 0h0m4 0h0m5 0h0m3 0h0m8 0h0m-44 1h0m13 0h0m11 0h0m6 0h0m-7 1h0m2 0h0m-8 1h0m4 0h0m0 1h0m1 0h0m2 0h0m1 0h0m-24 2h0m16 0h0m8 1h0m-17 1h0m5 0h0m2 0h0m3 1h0m-4 1h0m9 1h0m-7 1h0m6 0h0m-6 1h0m-10 1h0m1 0h0m7 0h0m0 1h0m-1 1h0m6 0h0m-7 2h0m-1 3h0"/><path stroke="#8405a7" stroke-opacity="0.88" d="M161 265h0m-7 13h0m-1 3h0m-8 5h0m6 4h0m3 0h0m-11 3h0m9 1h0m-13 10h0m-28 3h0m25 1h0m-82 1h0m41 1h0m34 3h0m11 4h0m20 2h0m-20 1h0m-4 1h0m3 1h0m7 0h0m-11 2h0m28 2h0m-45 1h0m56 0h0m-61 1h0m-2 1h0m-8 2h0m66 0h0m-109 1h0m4 0h0m59 0h0m-62 1h0m45 1h0m-29 2h0m26 0h0m37 0h0m-31 1h0m21 0h0m2 0h0m42 0h0m-58 1h0m-16 1h0m8 0h0m8 0h0m-42 1h0m-8 1h0m44 0h0m10 0h0m3 0h0m33 0h0m-61 2h0m16 0h0m7 1h0m8 0h0m-31 1h0m14 0h0m5 1h0m10 0h0m46 0h0m-35 1h0m-31 1h0m4 0h0m2 0h0m12 0h0m-5 1h0m4 0h0m-9 1h0m11 0h0m-27 1h0m20 1h0m-41 1h0m31 0h0m2 1h0m10 0h0m-21 2h0m7 0h0m-4 1h0m-12 1h0m2 0h0m5 0h0m3 0h0m-42 1h0m36 1h0m6 0h0m-11 1h0m17 0h0m-7 1h0m1 1h0m1 0h0m15 0h0m6 0h0m-64 1h0m23 0h0m17 2h0m74 1h0m-98 5h0m26 0h0m-20 1h0m2 0h0m-8 1h0m-13 2h0m38 0h0m5 0h0m21 1h0m-13 2h0m-44 2h0m30 0h0m-11 11h0m-23 1h0m78 3h0m-15 2h0"/><path stroke="#7701a8" stroke-opacity="0.94" d="M156 262h0m2 4h0m0 1h0m1 0h0m1 3h0m-3 1h0m2 0h0m-5 2h0m0 1h0m3 0h0m0 1h0m1 0h0m-1 3h0m-2 1h0m4 2h0m5 0h0m-16 3h0m2 0h0m0 2h0m5 1h0m-6 3h0m-11 1h0m14 0h0m-6 3h0m-2 1h0m8 1h0m-7 3h0m6 0h0m-19 2h0m19 0h0m-2 2h0m-16 2h0m11 0h0m-6 1h0m5 3h0m-8 3h0m-47 1h0m56 0h0m5 3h0m-8 1h0m-13 3h0m8 2h0m-1 1h0m-1 1h0m-68 1h0m40 0h0m6 0h0m21 0h0m-29 2h0m22 2h0m-27 3h0m13 0h0m9 0h0m-12 2h0m25 0h0m-31 1h0m1 0h0m8 0h0m12 0h0m-84 1h0m61 0h0m5 0h0m9 0h0m-32 2h0m23 1h0m7 1h0m2 0h0m6 0h0m1 0h0m-5 1h0m6 0h0m8 0h0m-21 1h0m-58 1h0m2 1h0m45 0h0m19 0h0m-54 1h0m33 0h0m13 0h0m-36 1h0m16 0h0m17 0h0m3 0h0m7 0h0m6 1h0m2 0h0m4 0h0m-81 1h0m58 0h0m-34 1h0m24 0h0m9 0h0m17 0h0m-16 1h0m3 0h0m2 0h0m3 0h0m11 0h0m-18 1h0m-1 1h0m-55 1h0m25 0h0m10 0h0m20 0h0m1 0h0m9 0h0m14 0h0m-71 1h0m38 0h0m4 2h0m13 0h0m-27 1h0m7 0h0m6 2h0m-10 1h0m13 0h0m13 0h0m4 0h0m-61 1h0m22 0h0m27 0h0m16 0h0m-68 1h0m8 0h0m3 0h0m6 0h0m21 0h0m10 0h0m1 0h0m-1 1h0m4 0h0m-28 1h0m19 0h0m19 0h0m-19 1h0m-18 1h0m-32 1h0m49 0h0m28 0h0m-76 1h0m48 1h0m20 0h0m-20 1h0m-32 1h0m20 0h0m3 0h0m8 0h0m6 0h0m-16 1h0m15 0h0m20 1h0m-42 1h0m16 0h0m-33 1h0m20 0h0m-8 1h0m9 0h0m-8 1h0m16 0h0m-7 1h0m-27 1h0m11 0h0m-3 1h0m3 0h0m2 0h0m26 0h0m-14 1h0m-8 1h0m30 0h0m-55 1h0m36 0h0m-15 1h0m1 2h0m2 0h0m2 0h0m2 0h0m4 0h0m14 1h0m-27 2h0m23 0h0m-27 1h0m15 0h0m-14 7h0"/><path stroke="#fcce25" stroke-opacity="0.92" d="M108 275h0m3 33h0m10 6h0m-26 2h0m5 0h0m11 6h0m0 3h0m-12 1h0m6 1h0m-6 1h0m5 0h0m11 0h0m-19 3h0m8 1h0m5 0h0m7 0h0m-24 1h0m12 0h0m-9 1h0m10 0h0m-9 3h0m7 5h0"/><path stroke="#e76f5a" stroke-opacity="0.75" d="M105 282h0m12 9h0m-11 6h0m22 0h0m-41 1h0m19 2h0m1 3h0m1 3h0m9 0h0m-4 5h0m15 0h0m41 0h0m-50 4h0m7 2h0m39 1h0m-53 2h0m65 0h0m-34 1h0m15 0h0m3 0h0m-38 3h0m42 0h0m-18 1h0m20 0h0m-63 1h0m50 2h0m-20 3h0m10 0h0m-4 1h0m4 2h0m-5 1h0m-11 3h0m42 0h0m-37 1h0m5 0h0m12 0h0m15 0h0m-25 1h0m-10 1h0m8 0h0m4 1h0m9 0h0m14 0h0m-20 1h0m-10 1h0m-11 1h0m6 0h0m3 0h0m-4 1h0m-14 2h0m14 2h0m-15 1h0m6 0h0m9 0h0m26 0h0m-25 1h0m-16 1h0m-5 1h0m7 0h0m4 0h0m2 1h0m5 1h0m-21 1h0m12 0h0m-5 1h0m-63 2h0m59 0h0m14 2h0m-13 3h0m4 4h0m-14 4h0m38 7h0m-36 4h0"/><path stroke="#da5b69" stroke-opacity="0.75" d="M100 293h0m-2 2h0m67 8h0m8 1h0m-6 3h0m-9 1h0m5 0h0m1 0h0m-47 1h0m46 1h0m1 0h0m5 0h0m2 0h0m-40 1h0m37 0h0m2 0h0m-6 2h0m-1 1h0m10 1h0m-26 1h0m21 0h0m1 0h0m4 1h0m6 0h0m-14 1h0m8 0h0m3 0h0m-23 1h0m4 0h0m17 1h0m-13 2h0m1 0h0m1 0h0m16 0h0m-45 3h0m11 0h0m4 0h0m4 0h0m5 0h0m1 0h0m5 0h0m3 0h0m7 0h0m-21 1h0m9 0h0m-37 1h0m6 0h0m14 0h0m4 0h0m9 0h0m-30 1h0m6 0h0m24 0h0m7 0h0m-42 1h0m6 0h0m22 0h0m1 0h0m15 0h0m-40 1h0m16 0h0m15 0h0m6 0h0m20 0h0m-50 1h0m15 0h0m2 0h0m1 0h0m8 0h0m-23 1h0m1 0h0m7 0h0m2 0h0m-1 1h0m2 0h0m6 0h0m6 0h0m-44 1h0m6 0h0m3 0h0m21 0h0m2 0h0m2 0h0m9 0h0m20 0h0m-53 1h0m4 0h0m3 0h0m11 0h0m2 0h0m10 0h0m5 0h0m5 0h0m-46 1h0m7 0h0m12 0h0m-14 1h0m2 0h0m2 0h0m7 0h0m3 0h0m6 0h0m8 0h0m-29 1h0m6 0h0m1 0h0m3 0h0m5 0h0m23 0h0m-48 1h0m16 0h0m5 0h0m1 0h0m31 0h0m-41 1h0m7 0h0m9 0h0m1 0h0m1 0h0m16 0h0m-25 1h0m7 0h0m-23 1h0m3 0h0m5 0h0m3 0h0m15 0h0m-26 1h0m17 0h0m7 0h0m-29 1h0m25 0h0m7 0h0m-32 1h0m5 0h0m5 0h0m9 0h0m3 0h0m1 0h0m1 0h0m4 0h0m2 0h0m2 0h0m-27 1h0m17 0h0m11 0h0m-27 1h0m7 0h0m7 0h0m-21 1h0m21 0h0m5 0h0m4 0h0m27 0h0m-46 1h0m8 0h0m11 0h0m8 0h0m-43 1h0m25 0h0m14 0h0m-37 1h0m4 0h0m11 0h0m9 0h0m-19 1h0m14 0h0m8 1h0m-18 1h0m16 0h0m-24 3h0m7 0h0m-14 1h0m11 0h0m4 0h0m18 0h0m-10 1h0m10 0h0m-31 1h0m4 0h0m43 0h0m-23 1h0m-24 1h0m8 0h0m-1 1h0m3 0h0m3 0h0m-25 1h0m32 0h0m-5 1h0m-23 1h0m2 0h0m2 0h0m4 0h0m8 0h0m2 0h0m-20 1h0m10 0h0m3 0h0m30 0h0m-37 1h0m2 0h0m13 0h0m15 0h0m-64 1h0m34 0h0m1 0h0m-15 1h0m25 0h0m-4 1h0m8 0h0m-30 1h0m24 0h0m-16 1h0m8 0h0m-14 2h0m14 2h0m-7 1h0m3 1h0m8 3h0m-1 3h0m17 22h0"/><path stroke="#8f0da4" stroke-opacity="0.81" d="M153 263h0m6 10h0m-3 6h0m-1 3h0m-82 1h0m70 8h0m2 8h0m-46 5h0m45 4h0m-7 1h0m10 5h0m15 0h0m3 0h0m-31 3h0m3 3h0m-57 5h0m97 0h0m-18 1h0m1 0h0m2 1h0m-54 3h0m31 0h0m3 3h0m-34 1h0m72 1h0m-62 1h0m-19 1h0m19 3h0m2 0h0m-57 1h0m48 1h0m33 0h0m-13 2h0m1 0h0m-9 1h0m-2 2h0m-27 1h0m20 0h0m-30 1h0m29 0h0m-49 2h0m39 0h0m-37 2h0m43 0h0m41 1h0m-56 3h0m18 1h0m9 0h0m-42 2h0m17 0h0m-5 2h0m4 1h0m8 1h0m-28 3h0m20 0h0m-7 2h0m-14 1h0m32 2h0m-4 1h0m-14 3h0m-11 2h0m-5 2h0m13 0h0m-6 10h0"/><path stroke="#d35171" stroke-opacity="0.75" d="M158 295h0m-40 4h0m48 3h0m-7 2h0m13 3h0m6 1h0m-18 2h0m9 0h0m13 1h0m-34 1h0m3 0h0m3 0h0m13 0h0m4 0h0m-4 1h0m-20 1h0m9 0h0m15 0h0m-8 1h0m4 0h0m7 0h0m7 0h0m-28 1h0m7 0h0m8 0h0m4 0h0m1 0h0m1 0h0m-22 1h0m4 0h0m6 0h0m10 0h0m4 0h0m-33 1h0m12 0h0m4 0h0m10 0h0m-4 1h0m13 0h0m1 0h0m-19 1h0m4 0h0m1 0h0m-22 1h0m6 0h0m4 0h0m4 0h0m5 0h0m15 0h0m-14 1h0m23 0h0m-35 1h0m5 0h0m20 0h0m-26 1h0m4 0h0m10 0h0m-28 1h0m22 0h0m9 0h0m-17 1h0m4 0h0m10 0h0m4 0h0m4 0h0m-24 1h0m1 0h0m13 0h0m-18 1h0m1 0h0m10 0h0m9 0h0m2 0h0m-27 1h0m6 0h0m8 0h0m1 0h0m2 0h0m6 0h0m2 0h0m4 0h0m4 0h0m7 0h0m-49 1h0m14 0h0m5 0h0m8 0h0m15 0h0m-44 1h0m1 0h0m2 0h0m3 0h0m8 0h0m2 0h0m15 0h0m1 0h0m14 0h0m-48 1h0m28 0h0m1 0h0m2 0h0m3 0h0m12 0h0m-45 1h0m5 0h0m4 0h0m9 0h0m2 0h0m10 0h0m1 0h0m6 0h0m-37 1h0m9 0h0m1 0h0m11 0h0m15 0h0m1 0h0m-43 1h0m30 0h0m4 0h0m2 0h0m-35 1h0m2 0h0m4 0h0m3 0h0m1 0h0m2 0h0m4 0h0m13 0h0m8 0h0m11 0h0m-41 1h0m6 0h0m1 0h0m33 0h0m11 0h0m-56 1h0m5 0h0m2 0h0m3 0h0m14 0h0m21 0h0m-37 1h0m4 0h0m2 0h0m-17 1h0m8 0h0m5 0h0m1 0h0m16 0h0m-16 1h0m2 0h0m5 0h0m3 0h0m6 0h0m18 0h0m-55 1h0m7 0h0m4 0h0m1 0h0m12 0h0m5 0h0m-23 1h0m11 0h0m26 0h0m-33 1h0m8 0h0m2 0h0m-17 1h0m12 0h0m6 0h0m-4 1h0m5 0h0m-28 1h0m25 0h0m4 0h0m17 0h0m-53 1h0m5 0h0m15 0h0m3 0h0m1 0h0m1 0h0m1 0h0m1 0h0m2 0h0m7 0h0m10 0h0m-21 1h0m1 0h0m3 0h0m5 0h0m4 0h0m7 0h0m-11 1h0m4 0h0m-16 1h0m22 0h0m-33 1h0m12 0h0m-11 1h0m2 0h0m16 0h0m1 0h0m6 0h0m-7 1h0m3 0h0m-26 1h0m8 0h0m9 0h0m14 0h0m1 0h0m-19 1h0m19 0h0m-21 1h0m18 0h0m-50 1h0m14 0h0m12 0h0m3 0h0m22 0h0m-38 1h0m15 0h0m3 0h0m5 0h0m-23 1h0m21 0h0m-20 1h0m4 0h0m18 0h0m18 0h0m6 0h0m-23 1h0m-21 1h0m12 0h0m1 0h0m-26 1h0m5 0h0m18 0h0m8 0h0m7 0h0m-35 1h0m11 1h0m8 0h0m6 0h0m-30 1h0m28 0h0m9 0h0m-34 1h0m4 0h0m10 0h0m19 0h0m2 0h0m-20 1h0m11 0h0m-17 1h0m20 0h0m-21 1h0m23 0h0m-32 1h0m15 0h0m-6 1h0m3 0h0m12 0h0m-16 1h0m7 0h0m1 0h0m-2 1h0m21 0h0m-25 1h0m3 0h0m-7 1h0m8 0h0m13 1h0m-14 2h0m3 4h0m0 2h0m14 14h0"/><path stroke="#ba3388" stroke-opacity="0.75" d="M153 290h0m-6 15h0m20 1h0m-21 1h0m27 0h0m-22 2h0m7 0h0m15 0h0m-2 1h0m-8 1h0m0 3h0m-9 2h0m4 0h0m9 0h0m-7 1h0m4 0h0m-27 1h0m13 0h0m26 0h0m-35 1h0m4 0h0m12 0h0m20 0h0m-25 1h0m6 0h0m6 0h0m18 0h0m-23 1h0m2 0h0m4 0h0m6 0h0m4 0h0m2 0h0m-16 1h0m6 0h0m4 0h0m-31 1h0m14 0h0m-5 1h0m11 0h0m14 0h0m-46 1h0m10 0h0m8 0h0m4 0h0m18 0h0m3 0h0m-22 1h0m25 0h0m13 0h0m-32 1h0m3 0h0m24 0h0m-47 1h0m6 0h0m5 0h0m13 0h0m-9 1h0m6 0h0m2 0h0m3 0h0m14 0h0m3 0h0m-26 1h0m8 0h0m18 0h0m4 0h0m-37 1h0m7 0h0m13 0h0m6 0h0m12 0h0m-45 1h0m17 0h0m9 0h0m3 0h0m10 0h0m-16 1h0m12 0h0m-54 1h0m7 0h0m24 0h0m10 0h0m18 0h0m-39 1h0m5 0h0m5 0h0m7 0h0m20 0h0m-49 1h0m11 0h0m5 0h0m3 0h0m-26 1h0m25 0h0m8 0h0m4 0h0m-25 1h0m4 0h0m8 0h0m-13 1h0m25 0h0m2 0h0m12 0h0m-41 1h0m3 0h0m8 0h0m2 0h0m14 0h0m21 0h0m-53 1h0m51 0h0m-53 1h0m17 0h0m6 0h0m7 0h0m-21 1h0m18 0h0m19 0h0m4 0h0m-50 1h0m24 0h0m17 0h0m-35 1h0m3 0h0m5 0h0m1 0h0m8 0h0m-15 1h0m5 0h0m11 0h0m4 0h0m5 0h0m-41 1h0m15 0h0m11 0h0m1 0h0m7 0h0m-30 1h0m1 0h0m2 0h0m18 0h0m11 0h0m-33 1h0m32 0h0m-31 1h0m1 0h0m16 0h0m1 0h0m-13 2h0m4 0h0m10 0h0m2 0h0m10 0h0m-38 1h0m43 0h0m-41 1h0m5 0h0m4 0h0m15 0h0m6 0h0m-38 2h0m2 0h0m12 0h0m4 0h0m-15 1h0m29 0h0m-43 1h0m14 0h0m10 0h0m3 0h0m1 0h0m20 0h0m-14 1h0m5 0h0m12 0h0m-39 1h0m1 0h0m2 0h0m6 0h0m3 0h0m17 0h0m6 0h0m19 0h0m-60 1h0m7 0h0m-8 1h0m8 0h0m9 0h0m38 0h0m-61 1h0m2 0h0m12 0h0m8 0h0m4 0h0m1 0h0m-25 2h0m5 0h0m-3 1h0m1 0h0m7 0h0m14 0h0m2 1h0m4 0h0m-23 1h0m8 0h0m7 0h0m-14 1h0m7 0h0m-8 1h0m12 0h0m2 0h0m-12 1h0m2 0h0m-13 1h0m10 0h0m11 0h0m-15 1h0m2 0h0m1 0h0m8 0h0m-17 1h0m8 0h0m-2 1h0m7 0h0m1 0h0m2 0h0m2 0h0m-7 1h0m9 0h0m-14 1h0m-3 1h0m22 0h0m-6 1h0m-2 3h0m34 1h0m-66 8h0m51 13h0m-14 5h0"/><path stroke="#41049d" stroke-opacity="1.0" d="M160 270h0m-4 10h0m3 8h0m-10 6h0m-6 2h0m-2 9h0m12 4h0m-11 7h0m-10 1h0m3 1h0m-17 18h0m-64 5h0m47 0h0m17 7h0m-5 1h0m-8 1h0m-2 2h0m4 2h0m15 0h0m-76 3h0m36 1h0m21 2h0m-9 1h0m-9 2h0m16 1h0m-22 2h0m11 0h0m-9 1h0m10 0h0m-15 1h0m14 2h0m-10 4h0m5 0h0m9 0h0m-8 2h0m-2 1h0m-2 1h0m6 0h0m-2 2h0m5 0h0m2 0h0m-4 1h0m-23 1h0m7 0h0m5 0h0m3 0h0m-20 1h0m4 1h0m2 0h0m5 0h0m-8 1h0m1 0h0m13 0h0m-12 1h0m5 0h0m8 0h0m-4 1h0m5 0h0m-11 1h0m3 0h0m6 0h0m11 0h0m-28 1h0m13 0h0m7 0h0m-28 1h0m22 0h0m6 0h0m3 0h0m2 0h0m3 0h0m-27 1h0m9 0h0m7 0h0m-18 1h0m6 0h0m6 0h0m2 0h0m-26 1h0m7 0h0m6 0h0m5 0h0m4 0h0m-10 1h0m6 0h0m3 0h0m2 0h0m5 0h0m-11 1h0m1 0h0m5 0h0m2 0h0m-9 2h0m16 0h0m-25 1h0m9 0h0m2 0h0m2 0h0m2 0h0m-5 1h0m1 0h0m6 0h0m-13 1h0m3 0h0m4 0h0m2 0h0m1 0h0m-6 1h0m-1 1h0m10 0h0m-4 1h0m5 0h0m-1 1h0m4 0h0m-13 1h0m2 0h0m15 0h0m-18 1h0m0 1h0m3 0h0m2 0h0m-4 1h0m4 0h0m1 1h0"/><path stroke="#c33d80" stroke-opacity="0.75" d="M157 291h0m-6 6h0m11 5h0m-17 4h0m2 1h0m13 0h0m9 1h0m1 0h0m6 0h0m-7 2h0m-23 1h0m1 0h0m-11 1h0m25 0h0m4 0h0m-8 1h0m2 1h0m1 0h0m-24 1h0m25 0h0m14 0h0m-19 2h0m4 0h0m9 0h0m-23 2h0m9 0h0m6 0h0m18 0h0m-17 1h0m17 0h0m-21 1h0m13 0h0m-10 1h0m2 0h0m9 0h0m-16 1h0m3 0h0m4 0h0m2 0h0m11 0h0m-31 1h0m7 0h0m5 0h0m6 0h0m1 0h0m1 0h0m-12 1h0m5 0h0m6 0h0m6 0h0m3 0h0m-11 1h0m3 0h0m6 0h0m13 0h0m-12 1h0m-24 1h0m20 0h0m4 0h0m-34 1h0m7 0h0m2 0h0m18 0h0m-18 1h0m3 0h0m2 0h0m11 0h0m3 0h0m4 0h0m-37 1h0m9 0h0m8 0h0m3 0h0m6 0h0m8 0h0m4 0h0m-30 1h0m4 0h0m4 0h0m2 0h0m4 0h0m2 0h0m10 0h0m2 0h0m-34 1h0m4 0h0m13 0h0m11 0h0m-29 1h0m3 0h0m8 0h0m-38 1h0m29 0h0m7 0h0m1 0h0m10 0h0m4 0h0m2 0h0m6 0h0m18 0h0m-43 1h0m1 0h0m7 0h0m1 0h0m6 0h0m5 0h0m17 0h0m-58 1h0m5 0h0m9 0h0m16 0h0m10 0h0m2 0h0m21 0h0m-59 1h0m16 0h0m13 0h0m1 0h0m13 0h0m7 0h0m-28 1h0m5 0h0m-21 1h0m6 0h0m2 0h0m1 0h0m4 0h0m26 0h0m-39 1h0m7 0h0m7 0h0m7 0h0m5 0h0m-44 1h0m24 0h0m46 0h0m-67 1h0m3 0h0m11 0h0m2 0h0m6 0h0m10 0h0m-44 1h0m13 0h0m15 0h0m12 0h0m1 0h0m-21 1h0m5 0h0m3 0h0m8 0h0m4 0h0m-37 1h0m24 0h0m2 0h0m-15 1h0m1 0h0m16 0h0m2 0h0m-12 1h0m6 0h0m18 0h0m7 0h0m-48 1h0m14 0h0m3 0h0m17 0h0m26 0h0m-50 1h0m1 0h0m18 0h0m-27 1h0m6 0h0m6 0h0m3 0h0m2 0h0m6 0h0m14 0h0m-36 1h0m17 0h0m3 0h0m-15 1h0m11 0h0m1 0h0m24 0h0m-37 1h0m5 0h0m3 0h0m2 0h0m-22 1h0m9 0h0m3 1h0m5 0h0m4 1h0m6 0h0m9 0h0m-28 1h0m16 0h0m8 0h0m2 0h0m-33 1h0m16 0h0m3 0h0m-19 1h0m10 0h0m2 0h0m3 0h0m9 0h0m-19 1h0m12 0h0m8 0h0m-10 1h0m-16 1h0m22 0h0m-24 1h0m11 0h0m15 0h0m23 0h0m-45 1h0m5 0h0m8 0h0m14 0h0m-18 1h0m3 0h0m6 0h0m-28 1h0m7 0h0m11 0h0m-28 1h0m12 0h0m15 0h0m6 0h0m10 0h0m4 0h0m-39 1h0m10 0h0m2 0h0m7 0h0m8 0h0m-17 1h0m4 0h0m8 0h0m5 0h0m5 0h0m-29 1h0m6 0h0m13 0h0m4 0h0m-16 1h0m3 1h0m-9 1h0m2 0h0m4 0h0m6 1h0m1 0h0m-7 1h0m3 0h0m10 0h0m11 0h0m-17 1h0m-12 2h0m12 0h0m10 0h0m-18 1h0m8 0h0m-9 1h0m-5 1h0m9 0h0m-10 1h0m9 0h0m1 0h0m-2 1h0m16 9h0"/><path stroke="#f68f44" stroke-opacity="0.88" d="M116 285h0m-5 5h0m-12 2h0m-2 2h0m7 6h0m29 5h0m-24 2h0m-1 1h0m-14 1h0m29 0h0m-12 2h0m10 0h0m-4 1h0m-7 1h0m-14 1h0m6 1h0m11 0h0m18 2h0m-18 1h0m-10 1h0m5 0h0m1 0h0m-12 2h0m15 0h0m8 0h0m-13 2h0m13 0h0m-20 1h0m22 0h0m-27 1h0m8 0h0m11 1h0m-22 3h0m7 0h0m28 0h0m-26 5h0m8 0h0m40 6h0m-40 13h0"/><path stroke="#f0f921" stroke-opacity="0.92" d="M109 327h0m-21 8h0m15 0h0m7 6h0"/><path stroke="#fec029" stroke-opacity="0.92" d="M118 315h0m-15 1h0m-1 1h0m19 1h0m-20 1h0m1 0h0m12 0h0m-4 2h0m-12 1h0m15 0h0m1 0h0m-19 2h0m-6 1h0m7 0h0m-9 1h0m26 0h0m-4 2h0m9 0h0m-19 2h0m5 0h0m2 0h0m-16 2h0m19 0h0m-12 1h0m8 0h0m-18 2h0m8 0h0m20 1h0"/><path stroke="#fca636" stroke-opacity="0.92" d="M118 276h0m-19 7h0m-9 16h0m14 11h0m5 0h0m-9 1h0m4 1h0m16 0h0m-26 2h0m9 1h0m13 0h0m1 0h0m9 1h0m1 0h0m-29 1h0m13 0h0m2 0h0m3 0h0m-1 1h0m-11 1h0m3 0h0m19 0h0m-20 1h0m1 0h0m-14 1h0m25 0h0m5 0h0m-28 2h0m27 0h0m4 0h0m-27 1h0m19 0h0m-18 1h0m2 0h0m-1 2h0m12 0h0m-14 1h0m5 2h0m6 1h0m-14 1h0m11 0h0m-3 1h0m15 3h0"/><path stroke="#e16462" stroke-opacity="0.75" d="M109 279h0m6 21h0m47 0h0m5 0h0m-46 1h0m54 1h0m-18 1h0m4 1h0m-45 1h0m5 1h0m-5 1h0m-4 1h0m25 0h0m-5 1h0m-13 1h0m2 2h0m45 0h0m12 0h0m-60 1h0m37 1h0m9 1h0m-27 1h0m19 0h0m1 0h0m19 2h0m3 0h0m-7 2h0m-12 1h0m8 0h0m5 0h0m-20 1h0m21 0h0m0 1h0m8 1h0m-22 1h0m9 0h0m-22 1h0m9 0h0m4 0h0m25 0h0m-25 1h0m22 0h0m-49 1h0m26 0h0m-14 1h0m16 1h0m2 0h0m-40 1h0m3 0h0m47 0h0m-40 1h0m11 0h0m7 0h0m-27 1h0m7 0h0m17 0h0m2 0h0m9 0h0m-29 1h0m8 1h0m3 0h0m-10 1h0m6 0h0m20 0h0m1 0h0m12 0h0m-35 1h0m22 0h0m-24 1h0m3 1h0m1 0h0m3 0h0m9 0h0m-28 1h0m4 0h0m-11 1h0m17 0h0m6 0h0m18 0h0m-34 1h0m3 0h0m19 0h0m19 0h0m-37 1h0m4 0h0m10 0h0m-54 1h0m53 0h0m-22 1h0m4 0h0m2 0h0m6 0h0m6 0h0m4 0h0m28 0h0m-49 1h0m6 0h0m5 0h0m20 0h0m1 0h0m-35 1h0m9 0h0m7 0h0m-13 1h0m13 0h0m22 0h0m8 0h0m-43 1h0m19 0h0m11 0h0m-18 1h0m5 0h0m10 0h0m-27 1h0m3 0h0m35 0h0m-31 1h0m13 0h0m-33 1h0m18 0h0m13 0h0m15 0h0m-28 1h0m12 0h0m-26 1h0m19 0h0m8 0h0m-37 2h0m19 0h0m15 1h0m-33 1h0m17 6h0m-4 4h0m1 0h0m-3 1h0m-5 1h0m1 0h0m-59 3h0m65 0h0m-2 2h0m-18 2h0m8 3h0m54 2h0m-48 4h0m25 3h0"/><path stroke="#f2844b" stroke-opacity="0.83" d="M94 280h0m17 7h0m-8 2h0m-7 11h0m17 3h0m8 0h0m-1 2h0m-1 1h0m-4 4h0m6 1h0m2 0h0m-17 1h0m15 0h0m-15 1h0m-6 1h0m1 0h0m14 0h0m1 0h0m-8 2h0m-6 4h0m15 1h0m5 0h0m-9 3h0m-4 1h0m32 2h0m-38 1h0m-1 2h0m5 0h0m37 5h0m-47 1h0m46 0h0m-11 3h0m3 6h0m-7 3h0m-5 3h0m-23 7h0m7 9h0m-5 11h0"/><path stroke="#f9dc24" stroke-opacity="0.92" d="M113 312h0m0 12h0m-10 1h0m2 2h0m-13 1h0m8 1h0m-7 1h0m-20 16h0"/><path stroke="#cc4778" stroke-opacity="0.75" d="M163 306h0m-10 1h0m15 0h0m1 0h0m-7 1h0m-35 4h0m24 0h0m3 0h0m4 0h0m1 0h0m-1 2h0m-5 1h0m14 0h0m-28 1h0m19 0h0m5 0h0m2 0h0m7 0h0m8 0h0m-29 1h0m1 0h0m7 0h0m8 0h0m-2 1h0m6 0h0m12 0h0m-24 1h0m1 0h0m2 0h0m-23 1h0m25 0h0m2 0h0m-18 1h0m9 0h0m5 0h0m9 0h0m6 0h0m-21 1h0m6 0h0m-28 1h0m23 1h0m4 0h0m2 0h0m10 0h0m-6 1h0m-13 1h0m9 0h0m6 0h0m6 0h0m-42 1h0m2 0h0m18 0h0m10 0h0m7 0h0m-33 1h0m17 0h0m8 0h0m7 0h0m2 0h0m9 0h0m-40 1h0m18 0h0m2 0h0m4 0h0m2 0h0m-22 1h0m1 0h0m5 0h0m12 0h0m-28 1h0m10 0h0m3 0h0m14 0h0m-49 1h0m25 0h0m1 0h0m9 0h0m11 0h0m-35 1h0m12 0h0m5 0h0m12 0h0m18 0h0m4 0h0m-55 1h0m7 0h0m15 0h0m4 0h0m7 0h0m2 0h0m1 0h0m6 0h0m6 0h0m-47 1h0m22 0h0m3 0h0m-15 1h0m3 0h0m17 0h0m5 0h0m12 0h0m-35 1h0m8 0h0m1 0h0m18 0h0m1 0h0m5 0h0m-38 1h0m11 0h0m8 0h0m8 0h0m6 0h0m7 0h0m-42 1h0m4 0h0m7 0h0m5 0h0m2 0h0m19 0h0m-20 1h0m2 0h0m5 0h0m6 0h0m29 0h0m-71 1h0m10 0h0m7 0h0m3 0h0m8 0h0m6 0h0m-23 1h0m10 0h0m25 0h0m-39 1h0m7 0h0m4 0h0m4 0h0m1 0h0m15 0h0m-31 1h0m3 0h0m1 0h0m4 0h0m2 0h0m1 0h0m1 0h0m9 0h0m6 0h0m3 0h0m1 0h0m-22 1h0m11 0h0m1 0h0m10 0h0m20 0h0m-113 1h0m56 0h0m14 0h0m4 0h0m4 0h0m3 0h0m5 0h0m3 0h0m-22 1h0m10 0h0m3 0h0m-16 1h0m41 0h0m-46 1h0m3 0h0m14 0h0m11 0h0m-41 1h0m19 0h0m3 0h0m3 0h0m2 0h0m3 0h0m-16 1h0m5 0h0m5 0h0m-9 1h0m7 0h0m-6 1h0m17 0h0m-29 1h0m1 0h0m1 0h0m5 0h0m5 0h0m1 0h0m10 0h0m-28 1h0m8 0h0m3 0h0m8 0h0m41 0h0m-71 1h0m8 0h0m2 0h0m9 0h0m17 0h0m3 0h0m5 0h0m-24 1h0m5 0h0m2 0h0m13 0h0m4 0h0m16 0h0m-52 1h0m27 0h0m-16 1h0m1 0h0m28 0h0m-45 1h0m29 0h0m-25 1h0m12 0h0m-13 1h0m10 0h0m3 0h0m11 0h0m-28 1h0m5 0h0m8 0h0m11 0h0m8 0h0m13 0h0m-44 1h0m7 0h0m9 0h0m16 0h0m8 0h0m-38 1h0m13 0h0m1 0h0m1 0h0m12 0h0m-37 1h0m5 0h0m6 0h0m9 0h0m14 0h0m4 0h0m-20 1h0m4 0h0m-22 1h0m1 0h0m19 0h0m8 0h0m7 0h0m-32 1h0m1 0h0m14 0h0m2 0h0m5 0h0m-22 1h0m5 0h0m15 0h0m27 0h0m-33 1h0m2 0h0m5 0h0m2 0h0m5 0h0m9 0h0m-36 2h0m8 0h0m5 0h0m5 0h0m-5 1h0m21 0h0m-19 1h0m2 0h0m-14 1h0m11 0h0m3 0h0m4 1h0m2 1h0m-10 1h0m-9 1h0m3 0h0m1 0h0m6 1h0m-3 2h0"/><path stroke="#fdb42f" stroke-opacity="0.92" d="M117 267h0m-6 22h0m15 20h0m-16 2h0m3 0h0m-2 2h0m-8 1h0m4 1h0m1 2h0m0 1h0m20 0h0m-22 1h0m11 0h0m-2 1h0m2 1h0m2 0h0m-18 1h0m-5 1h0m8 0h0m9 0h0m2 0h0m-10 1h0m3 0h0m-10 1h0m3 0h0m9 0h0m7 0h0m-21 1h0m4 0h0m11 0h0m-8 2h0m9 0h0m-15 1h0m1 0h0m3 0h0m14 0h0m-12 1h0m2 2h0m2 0h0m-9 2h0m31 0h0m-35 2h0m7 3h0m9 5h0"/><path stroke="#6a00a8" stroke-opacity="1.0" d="M165 258h0m-4 5h0m-5 5h0m1 2h0m2 0h0m4 2h0m-16 6h0m9 1h0m1 0h0m2 0h0m-18 3h0m11 1h0m-2 1h0m-4 3h0m4 0h0m7 0h0m-8 2h0m2 1h0m-13 1h0m10 2h0m5 0h0m-9 1h0m-1 3h0m-12 2h0m9 0h0m-3 2h0m2 0h0m3 2h0m7 1h0m-7 1h0m4 1h0m-7 1h0m-1 1h0m6 0h0m-9 1h0m8 0h0m-5 1h0m2 1h0m-12 1h0m4 0h0m6 1h0m-1 1h0m-3 3h0m-86 1h0m80 3h0m13 1h0m-1 1h0m-20 2h0m12 1h0m-19 1h0m-1 1h0m2 1h0m2 0h0m-6 1h0m2 0h0m15 0h0m6 0h0m-17 1h0m-17 1h0m17 0h0m14 0h0m-32 1h0m-2 1h0m10 1h0m11 0h0m-7 1h0m5 0h0m10 0h0m-3 1h0m-8 1h0m10 0h0m-45 1h0m42 0h0m-33 1h0m9 0h0m33 0h0m-79 1h0m66 1h0m-9 2h0m20 0h0m-59 1h0m20 0h0m1 0h0m14 0h0m-17 1h0m12 0h0m15 0h0m-14 1h0m22 0h0m-26 1h0m10 0h0m3 0h0m10 0h0m8 0h0m-71 1h0m11 0h0m-7 1h0m35 0h0m2 0h0m13 0h0m6 0h0m-18 1h0m-18 2h0m8 0h0m4 0h0m13 0h0m10 0h0m-38 1h0m3 0h0m28 0h0m-26 1h0m6 0h0m39 0h0m-28 1h0m5 0h0m6 0h0m-12 1h0m6 0h0m2 0h0m7 0h0m2 0h0m-21 1h0m5 0h0m-14 1h0m8 0h0m11 0h0m-23 1h0m5 1h0m20 0h0m-41 1h0m20 0h0m2 0h0m7 0h0m5 0h0m5 0h0m27 0h0m-43 1h0m13 0h0m-14 1h0m3 0h0m9 0h0m-13 2h0m13 0h0m3 0h0m-21 1h0m5 0h0m-33 1h0m36 0h0m-9 1h0m7 0h0m23 0h0m-23 1h0m-1 1h0m3 0h0m6 0h0m-18 1h0m9 0h0m-8 1h0m2 0h0m8 0h0m8 0h0m-18 1h0m6 0h0m-17 1h0m11 0h0m3 0h0m8 1h0m-24 1h0m7 0h0m4 4h0m3 1h0m-1 1h0m7 0h0m-8 1h0m2 0h0m-16 1h0m1 0h0m27 0h0m-25 1h0m11 0h0m-15 1h0m11 3h0m3 0h0m5 1h0m-15 2h0m-11 1h0m17 0h0m4 0h0m-11 1h0m10 0h0m2 2h0m-5 2h0m6 2h0m-11 1h0m-2 4h0m6 1h0"/><path stroke="#fa9b3d" stroke-opacity="0.92" d="M124 288h0m-6 3h0m0 1h0m-13 4h0m7 0h0m3 0h0m-26 3h0m23 0h0m-8 2h0m8 0h0m-8 3h0m10 2h0m-18 2h0m4 0h0m13 0h0m1 0h0m-15 1h0m15 0h0m2 1h0m5 0h0m-15 3h0m0 1h0m12 0h0m4 0h0m-12 2h0m3 0h0m-13 1h0m6 0h0m9 0h0m-14 1h0m6 0h0m5 0h0m16 1h0m-35 1h0m18 0h0m9 0h0m-20 1h0m7 0h0m25 0h0m-22 1h0m5 0h0m1 1h0m2 0h0m-9 1h0m-8 1h0m6 0h0m-13 1h0m9 1h0m11 1h0m1 0h0m-14 1h0m3 1h0m-2 4h0m13 4h0m-21 3h0m12 0h0"/><path stroke="#ed7953" stroke-opacity="0.79" d="M119 279h0m-18 3h0m11 2h0m-13 7h0m1 2h0m20 1h0m-9 3h0m11 0h0m-10 4h0m-7 2h0m11 0h0m12 0h0m-18 1h0m1 0h0m11 0h0m-22 1h0m4 0h0m67 0h0m-67 1h0m2 0h0m20 2h0m-28 2h0m12 0h0m-18 1h0m12 0h0m1 4h0m5 1h0m-8 1h0m16 0h0m6 0h0m-9 2h0m35 0h0m-35 1h0m12 0h0m-26 4h0m17 2h0m-3 2h0m-33 3h0m60 0h0m5 1h0m-30 1h0m21 0h0m6 0h0m1 0h0m7 0h0m-17 1h0m-3 1h0m-1 2h0m0 3h0m15 1h0m-13 1h0m9 1h0m0 1h0m-16 4h0m-1 1h0m11 0h0m-16 4h0m-12 4h0m47 3h0m-59 1h0m26 0h0m-18 1h0m-14 3h0m34 4h0m-22 1h0m11 3h0m-11 2h0"/><path stroke="#cc4778" stroke-opacity="0.75" d="M98 288h0m68 15h0m-1 1h0m5 1h0m-19 3h0m21 1h0m-8 1h0m-16 1h0m17 0h0m0 1h0m6 0h0m2 0h0m-29 2h0m29 0h0m3 0h0m-9 1h0m13 0h0m-25 1h0m21 0h0m8 0h0m-45 1h0m28 0h0m10 0h0m-19 1h0m-85 1h0m67 0h0m16 0h0m0 1h0m6 0h0m6 0h0m-15 1h0m31 0h0m-15 1h0m5 0h0m1 0h0m-24 1h0m13 0h0m8 0h0m2 0h0m-16 1h0m3 0h0m1 0h0m3 0h0m1 0h0m5 0h0m-25 1h0m7 0h0m4 0h0m3 0h0m-24 1h0m15 0h0m5 0h0m2 0h0m7 0h0m-7 1h0m1 0h0m10 0h0m4 0h0m-16 1h0m-30 1h0m5 1h0m11 0h0m13 0h0m7 0h0m-39 1h0m3 0h0m5 0h0m26 0h0m3 0h0m-34 1h0m25 0h0m2 0h0m8 0h0m-31 1h0m9 0h0m6 0h0m7 0h0m6 0h0m18 0h0m-62 1h0m15 0h0m20 0h0m20 0h0m6 0h0m-41 1h0m6 0h0m6 0h0m5 0h0m22 0h0m-66 1h0m18 0h0m18 0h0m2 0h0m2 0h0m1 0h0m2 0h0m4 0h0m9 0h0m-35 1h0m24 0h0m14 0h0m-35 1h0m1 0h0m4 0h0m3 0h0m6 0h0m25 0h0m-34 1h0m4 0h0m4 0h0m1 0h0m7 0h0m-29 1h0m2 0h0m5 0h0m5 0h0m-8 1h0m11 0h0m1 0h0m1 0h0m1 0h0m14 0h0m5 0h0m5 0h0m-96 1h0m47 0h0m11 0h0m1 0h0m8 0h0m1 0h0m4 0h0m4 0h0m5 0h0m13 0h0m-51 1h0m17 0h0m6 0h0m4 0h0m8 0h0m-19 1h0m9 0h0m6 0h0m-18 1h0m2 0h0m17 0h0m4 0h0m5 0h0m-39 1h0m6 0h0m3 0h0m3 0h0m8 0h0m12 0h0m3 0h0m-46 1h0m18 0h0m32 0h0m10 0h0m-48 1h0m3 0h0m10 0h0m16 0h0m-35 1h0m16 0h0m6 0h0m3 0h0m3 0h0m-39 1h0m21 0h0m2 0h0m8 0h0m4 0h0m4 0h0m9 0h0m-30 1h0m21 0h0m-23 1h0m3 0h0m15 0h0m12 0h0m9 0h0m-38 1h0m3 0h0m6 0h0m13 0h0m-21 1h0m19 0h0m2 0h0m-24 1h0m15 0h0m6 0h0m-1 1h0m-19 1h0m12 0h0m4 0h0m-40 1h0m2 0h0m18 0h0m9 0h0m19 0h0m-30 1h0m-5 1h0m1 0h0m34 0h0m-35 1h0m6 0h0m3 0h0m10 0h0m10 0h0m-26 1h0m1 0h0m14 0h0m15 0h0m-40 1h0m1 0h0m1 0h0m3 0h0m11 0h0m1 0h0m3 0h0m4 0h0m9 0h0m-35 1h0m3 0h0m1 0h0m21 0h0m16 0h0m-42 1h0m11 0h0m19 1h0m-29 1h0m10 1h0m1 0h0m9 0h0m12 0h0m-22 1h0m7 0h0m27 0h0m-43 1h0m5 0h0m2 0h0m6 0h0m-7 1h0m2 0h0m2 0h0m-6 1h0m4 0h0m2 0h0m-16 1h0m6 0h0m1 0h0m13 0h0m-14 1h0m6 0h0m10 0h0m-10 1h0m2 0h0m-9 1h0m19 0h0m-19 1h0m5 0h0m36 0h0m-28 1h0m-8 1h0m2 1h0m0 5h0m5 0h0m40 2h0"/><path stroke="#ba3388" stroke-opacity="0.75" d="M155 303h0m10 1h0m-8 1h0m-6 1h0m21 0h0m-14 1h0m2 0h0m5 2h0m-3 1h0m-1 2h0m7 0h0m9 0h0m-19 1h0m-15 1h0m17 0h0m10 0h0m-21 1h0m8 0h0m6 0h0m1 0h0m5 1h0m-14 1h0m11 0h0m1 0h0m3 0h0m3 0h0m1 0h0m-24 1h0m1 0h0m4 1h0m16 0h0m6 0h0m-28 1h0m16 0h0m-21 1h0m36 0h0m-26 1h0m8 0h0m4 0h0m3 0h0m2 0h0m-25 1h0m10 0h0m9 0h0m1 0h0m-15 1h0m6 0h0m2 0h0m2 0h0m2 0h0m1 0h0m2 0h0m1 0h0m8 0h0m-31 1h0m7 0h0m20 0h0m9 0h0m-33 1h0m2 0h0m1 0h0m12 0h0m4 0h0m2 0h0m2 0h0m-40 1h0m34 0h0m2 0h0m1 0h0m19 0h0m-23 1h0m-18 1h0m3 0h0m1 0h0m-17 1h0m2 0h0m21 0h0m8 0h0m-38 1h0m18 0h0m5 0h0m6 0h0m13 0h0m2 0h0m-47 1h0m20 0h0m7 0h0m1 0h0m4 0h0m2 0h0m4 0h0m8 0h0m-37 1h0m19 0h0m16 1h0m-36 1h0m9 0h0m9 0h0m1 0h0m8 0h0m13 0h0m-68 1h0m9 0h0m32 0h0m-20 1h0m12 0h0m3 0h0m12 0h0m12 0h0m-19 2h0m2 0h0m3 0h0m9 0h0m2 0h0m14 0h0m-44 1h0m5 0h0m12 0h0m2 0h0m8 0h0m-27 1h0m2 0h0m15 0h0m4 0h0m-5 1h0m-25 1h0m22 0h0m26 0h0m-43 1h0m10 0h0m9 0h0m-17 1h0m3 0h0m2 0h0m1 0h0m2 0h0m10 0h0m0 1h0m1 0h0m-42 1h0m15 0h0m10 0h0m13 0h0m13 0h0m4 0h0m-41 1h0m3 0h0m14 0h0m-22 1h0m24 0h0m11 0h0m12 0h0m-47 1h0m2 0h0m12 0h0m-10 1h0m2 0h0m4 0h0m3 0h0m1 0h0m26 0h0m-32 1h0m1 0h0m6 0h0m12 0h0m-26 1h0m10 0h0m-1 1h0m2 0h0m13 0h0m-45 1h0m7 0h0m17 0h0m22 0h0m-28 1h0m10 0h0m5 0h0m4 0h0m2 0h0m-31 1h0m11 0h0m6 0h0m5 0h0m24 0h0m-40 1h0m3 0h0m2 0h0m11 0h0m12 0h0m-11 1h0m-9 1h0m-17 1h0m6 0h0m30 0h0m3 0h0m-32 1h0m2 0h0m1 0h0m5 0h0m25 0h0m-27 1h0m11 0h0m-23 1h0m2 0h0m6 0h0m6 0h0m12 1h0m-29 1h0m23 0h0m4 0h0m1 0h0m8 0h0m-30 1h0m4 0h0m4 0h0m7 0h0m-24 1h0m8 0h0m6 0h0m6 0h0m9 0h0m3 0h0m-34 1h0m7 0h0m1 0h0m1 0h0m7 0h0m14 0h0m-13 1h0m7 0h0m-13 1h0m7 0h0m3 0h0m-16 1h0m7 0h0m4 1h0m-6 1h0m5 0h0m3 0h0m48 0h0m-64 1h0m8 0h0m-1 1h0m8 0h0m38 0h0m-40 1h0m2 0h0m-11 1h0m9 0h0m-5 1h0m6 1h0m-13 2h0m15 1h0m-1 2h0m10 23h0"/><path stroke="#5c01a6" stroke-opacity="1.0" d="M161 267h0m13 1h0m-20 3h0m0 2h0m5 0h0m-8 1h0m6 1h0m2 1h0m1 0h0m12 2h0m-28 1h0m20 2h0m-11 1h0m-8 1h0m6 1h0m-8 2h0m4 1h0m1 1h0m-1 4h0m-1 1h0m2 1h0m6 0h0m-14 4h0m0 3h0m1 0h0m-11 1h0m11 0h0m3 2h0m-1 1h0m-5 3h0m2 0h0m-4 1h0m1 0h0m0 2h0m4 3h0m-9 1h0m5 0h0m5 0h0m-4 1h0m6 2h0m-11 1h0m2 0h0m2 1h0m-8 1h0m3 0h0m6 1h0m-13 1h0m1 2h0m-8 1h0m-24 1h0m35 0h0m14 0h0m-40 1h0m10 2h0m18 1h0m-4 1h0m-18 1h0m17 0h0m-4 2h0m-30 1h0m19 0h0m-23 1h0m14 0h0m9 0h0m1 0h0m-29 2h0m38 0h0m1 0h0m1 2h0m-32 1h0m2 0h0m17 0h0m0 1h0m-25 1h0m1 1h0m12 0h0m-16 1h0m6 0h0m24 0h0m6 0h0m-36 1h0m12 0h0m10 0h0m3 0h0m-11 1h0m2 0h0m1 0h0m1 0h0m1 0h0m4 1h0m4 0h0m8 1h0m8 0h0m-20 1h0m12 0h0m7 0h0m-22 1h0m4 0h0m2 0h0m18 1h0m-61 1h0m29 1h0m-17 1h0m23 0h0m1 0h0m-17 1h0m13 0h0m3 0h0m19 0h0m-35 1h0m4 1h0m1 0h0m11 0h0m1 0h0m-55 1h0m42 0h0m9 0h0m-15 1h0m7 0h0m15 0h0m-22 1h0m29 0h0m-36 1h0m17 0h0m0 1h0m9 0h0m-31 1h0m1 0h0m20 0h0m8 1h0m5 0h0m-18 1h0m14 0h0m-24 1h0m5 0h0m1 0h0m17 0h0m2 0h0m-3 1h0m4 0h0m5 0h0m4 0h0m-28 1h0m1 0h0m3 0h0m1 0h0m-10 1h0m16 0h0m-33 1h0m4 0h0m10 0h0m11 0h0m4 0h0m4 0h0m15 0h0m24 0h0m-62 1h0m9 0h0m-12 1h0m9 0h0m6 0h0m9 0h0m-13 1h0m-10 1h0m15 0h0m-11 1h0m16 0h0m-1 1h0m4 1h0m9 0h0m-36 1h0m23 0h0m-9 1h0m9 0h0m-20 1h0m10 0h0m4 0h0m26 0h0m-47 2h0m9 0h0m3 0h0m8 0h0m4 0h0m-15 1h0m10 0h0m2 0h0m1 0h0m2 0h0m-17 1h0m2 0h0m11 1h0m-2 1h0m4 0h0m-10 1h0m5 0h0m-16 1h0m5 0h0m6 0h0m14 0h0m-33 1h0m10 0h0m17 0h0m-30 2h0m12 0h0m13 0h0m1 0h0m-9 1h0m3 0h0m2 1h0m3 0h0m-12 1h0m8 0h0m-11 1h0m16 0h0m-4 1h0m-6 1h0m4 0h0m-11 1h0m16 0h0m-11 1h0m-4 1h0m7 3h0m2 0h0m-8 2h0m22 1h0m-17 2h0m7 1h0"/><path stroke="#b12a90" stroke-opacity="0.75" d="M152 303h0m15 0h0m6 2h0m-14 4h0m4 0h0m-2 1h0m6 0h0m-18 2h0m5 1h0m7 1h0m-8 1h0m7 0h0m5 0h0m9 0h0m-18 1h0m16 0h0m-8 1h0m14 1h0m-30 1h0m5 1h0m17 0h0m1 0h0m10 0h0m-6 2h0m-54 1h0m30 0h0m3 0h0m23 0h0m-49 1h0m17 0h0m4 0h0m2 0h0m4 0h0m16 2h0m5 0h0m-33 1h0m23 0h0m6 0h0m4 0h0m-29 1h0m8 0h0m24 0h0m-13 1h0m-48 1h0m34 0h0m2 0h0m11 0h0m-47 1h0m73 0h0m-60 1h0m21 0h0m10 0h0m9 0h0m2 0h0m-18 1h0m1 0h0m11 1h0m13 0h0m-42 1h0m9 0h0m2 0h0m6 0h0m-23 1h0m20 0h0m1 0h0m9 0h0m-46 3h0m18 0h0m2 0h0m9 0h0m19 0h0m3 1h0m-40 1h0m12 0h0m13 0h0m5 0h0m-28 1h0m28 0h0m3 0h0m-9 1h0m-33 1h0m18 0h0m20 0h0m-46 2h0m22 0h0m3 0h0m-10 1h0m12 0h0m8 0h0m3 0h0m-35 2h0m5 0h0m11 0h0m2 1h0m20 0h0m-52 1h0m15 0h0m8 1h0m13 0h0m1 0h0m-15 1h0m20 0h0m3 0h0m-32 1h0m-1 1h0m2 0h0m14 0h0m16 0h0m-29 1h0m-5 1h0m2 0h0m10 0h0m20 1h0m-35 1h0m3 0h0m10 0h0m-10 1h0m17 1h0m9 0h0m2 0h0m4 0h0m-37 1h0m12 0h0m-14 1h0m4 0h0m9 0h0m20 1h0m-41 1h0m18 0h0m-24 1h0m10 0h0m-12 1h0m13 0h0m37 0h0m-41 2h0m3 0h0m9 2h0m60 0h0m-68 2h0m22 0h0m-15 1h0m1 0h0m18 0h0m-34 1h0m23 0h0m-4 1h0m3 0h0m-24 1h0m12 0h0m-4 1h0m6 3h0m3 0h0m-60 3h0m59 0h0m-1 2h0m-7 1h0m6 6h0"/><path stroke="#fdb42f" stroke-opacity="0.92" d="M112 287h0m-1 4h0m-19 6h0m8 5h0m12 3h0m-3 1h0m12 0h0m-31 6h0m26 1h0m4 0h0m-21 1h0m15 0h0m0 1h0m-1 1h0m-7 1h0m2 0h0m1 0h0m1 0h0m4 2h0m-7 1h0m-19 1h0m20 0h0m-1 1h0m2 1h0m-19 1h0m10 0h0m5 0h0m8 0h0m-1 1h0m5 0h0m-31 2h0m16 0h0m-4 1h0m14 0h0m-18 2h0m9 0h0m7 0h0m-13 3h0m12 0h0m-18 3h0m3 1h0m4 0h0m21 3h0"/><path stroke="#7701a8" stroke-opacity="0.94" d="M148 262h0m9 7h0m-2 1h0m-9 1h0m12 2h0m-10 1h0m6 0h0m10 0h0m-9 1h0m13 0h0m-15 1h0m9 0h0m-1 2h0m-9 1h0m-3 1h0m1 0h0m6 0h0m-8 2h0m2 4h0m1 2h0m-2 2h0m-7 1h0m6 0h0m-14 3h0m14 3h0m-5 1h0m1 0h0m6 1h0m-1 3h0m-7 2h0m5 0h0m-10 1h0m1 0h0m1 0h0m13 2h0m-15 1h0m6 1h0m4 0h0m-9 1h0m2 0h0m1 0h0m6 1h0m-15 4h0m9 1h0m20 1h0m-79 1h0m47 2h0m13 0h0m-3 1h0m-5 1h0m2 0h0m-51 1h0m40 2h0m15 2h0m-36 1h0m8 0h0m-11 1h0m-45 2h0m44 0h0m2 0h0m9 0h0m18 0h0m2 0h0m-14 1h0m-8 1h0m-24 2h0m28 0h0m3 0h0m3 0h0m-55 1h0m33 0h0m2 0h0m11 1h0m11 0h0m-1 1h0m-8 2h0m-13 1h0m4 0h0m4 0h0m6 0h0m-40 1h0m32 0h0m28 0h0m-42 1h0m11 0h0m14 0h0m-54 1h0m52 0h0m-7 1h0m10 0h0m-32 2h0m5 0h0m4 2h0m26 0h0m-20 1h0m-18 1h0m13 0h0m6 0h0m4 0h0m2 0h0m-39 1h0m32 0h0m8 0h0m5 0h0m-22 1h0m2 0h0m11 0h0m4 0h0m7 0h0m3 0h0m3 0h0m-10 1h0m-18 1h0m9 0h0m9 0h0m3 0h0m3 0h0m-32 1h0m9 0h0m1 0h0m3 0h0m22 0h0m9 1h0m-49 1h0m16 0h0m18 0h0m8 0h0m-25 1h0m3 0h0m-17 1h0m13 0h0m18 0h0m-32 2h0m18 0h0m5 0h0m-52 1h0m20 0h0m-12 3h0m43 0h0m-21 1h0m6 0h0m10 0h0m-45 1h0m26 0h0m-23 1h0m31 0h0m-5 2h0m28 0h0m-24 1h0m5 1h0m2 0h0m6 0h0m-32 1h0m4 0h0m15 0h0m18 0h0m-22 1h0m27 0h0m-36 3h0m14 0h0m2 0h0m15 0h0m-25 1h0m2 1h0m25 1h0m-36 1h0m10 2h0m11 0h0m-2 2h0m-19 2h0m5 0h0m-11 2h0m2 1h0m10 2h0m-5 1h0m-6 5h0m-6 3h0m8 2h0m8 3h0"/><path stroke="#6a00a8" stroke-opacity="1.0" d="M155 268h0m-2 2h0m6 1h0m-9 1h0m2 2h0m2 1h0m8 0h0m-17 1h0m23 0h0m-18 1h0m4 1h0m-9 2h0m5 0h0m1 0h0m-8 3h0m16 1h0m1 1h0m-17 1h0m1 1h0m6 2h0m1 0h0m4 0h0m-12 2h0m2 1h0m5 0h0m-4 1h0m13 0h0m-14 2h0m12 1h0m-8 2h0m-13 1h0m2 1h0m2 0h0m1 0h0m7 2h0m-4 1h0m4 0h0m-17 1h0m7 1h0m3 0h0m0 1h0m-6 3h0m3 0h0m13 0h0m-20 1h0m6 1h0m8 2h0m-7 1h0m2 2h0m-12 1h0m4 0h0m-32 1h0m39 0h0m-24 2h0m22 0h0m-71 2h0m47 4h0m20 0h0m-9 2h0m-20 1h0m4 0h0m9 0h0m19 1h0m-18 1h0m-27 1h0m10 0h0m9 1h0m1 0h0m-21 1h0m62 0h0m-78 1h0m44 0h0m-57 1h0m31 1h0m19 0h0m4 0h0m3 0h0m-21 2h0m1 0h0m1 0h0m7 0h0m-13 1h0m12 0h0m17 0h0m1 0h0m-14 1h0m0 1h0m11 1h0m2 0h0m-10 1h0m-52 1h0m58 0h0m-21 1h0m20 0h0m-25 1h0m2 0h0m7 0h0m1 0h0m27 0h0m1 0h0m-69 1h0m35 0h0m11 0h0m1 0h0m5 0h0m-14 1h0m-37 2h0m28 0h0m7 0h0m6 0h0m4 0h0m6 0h0m-55 1h0m2 0h0m44 0h0m-13 1h0m-11 1h0m14 0h0m16 0h0m3 0h0m4 0h0m-14 1h0m-28 1h0m17 0h0m10 0h0m-34 1h0m50 0h0m-35 1h0m1 0h0m1 0h0m9 0h0m7 0h0m-30 1h0m5 0h0m17 0h0m3 0h0m-22 1h0m6 0h0m26 0h0m6 0h0m2 0h0m6 0h0m-20 1h0m8 0h0m-24 1h0m10 0h0m6 0h0m45 0h0m-46 1h0m-16 1h0m7 1h0m1 0h0m17 0h0m-15 1h0m4 0h0m-27 1h0m22 0h0m9 0h0m-29 1h0m2 0h0m20 1h0m3 0h0m17 0h0m-41 1h0m8 0h0m6 0h0m-3 1h0m-14 1h0m11 0h0m3 0h0m10 0h0m17 0h0m-19 1h0m4 0h0m-24 2h0m2 0h0m2 1h0m10 0h0m-17 1h0m6 0h0m-15 1h0m12 0h0m3 0h0m6 0h0m8 0h0m-13 2h0m6 0h0m2 0h0m-7 1h0m9 0h0m0 1h0m-2 1h0m3 0h0m4 0h0m8 0h0m-18 1h0m5 0h0m4 0h0m-22 2h0m13 0h0m5 0h0m5 0h0m-29 2h0m0 1h0m30 0h0m-31 1h0m3 1h0m3 2h0m1 0h0m1 1h0m1 0h0m12 1h0m-19 1h0m-2 2h0m-7 3h0m26 0h0m-22 2h0m13 1h0m-4 2h0"/><path stroke="#e76f5a" stroke-opacity="0.75" d="M116 278h0m3 3h0m-9 7h0m-1 6h0m8 0h0m-13 1h0m6 0h0m41 7h0m-44 3h0m-8 2h0m17 0h0m-11 1h0m4 0h0m19 0h0m-23 1h0m9 2h0m11 0h0m-14 1h0m58 2h0m-11 2h0m-39 1h0m43 0h0m-50 1h0m69 2h0m-24 1h0m13 0h0m-37 2h0m3 0h0m29 1h0m4 0h0m-64 1h0m22 0h0m51 1h0m-105 1h0m54 0h0m20 1h0m-13 1h0m6 0h0m-1 1h0m19 0h0m-22 1h0m0 1h0m2 1h0m27 0h0m-31 1h0m-30 1h0m41 1h0m-20 1h0m10 0h0m42 0h0m-51 1h0m17 0h0m15 0h0m-22 1h0m16 0h0m-35 1h0m12 0h0m7 0h0m-7 2h0m14 0h0m17 0h0m-29 1h0m13 0h0m-15 1h0m24 0h0m-82 2h0m58 0h0m-4 1h0m2 1h0m-5 1h0m11 1h0m2 0h0m3 0h0m4 0h0m-15 1h0m-5 1h0m12 0h0m-8 1h0m-5 1h0m17 0h0m3 1h0m-17 1h0m-4 1h0m-11 1h0m6 0h0m1 0h0m-10 1h0m23 6h0m-25 5h0m8 2h0m-21 1h0m12 1h0m7 3h0m4 4h0"/><path stroke="#a62098" stroke-opacity="0.75" d="M144 306h0m9 3h0m4 4h0m8 1h0m-6 1h0m9 0h0m-4 1h0m13 0h0m-22 1h0m2 0h0m8 1h0m5 0h0m2 0h0m-28 1h0m32 0h0m-24 1h0m14 0h0m4 0h0m4 0h0m-19 1h0m6 0h0m2 0h0m2 0h0m2 0h0m-11 2h0m10 0h0m3 1h0m-18 2h0m-6 1h0m4 0h0m7 0h0m6 0h0m8 1h0m-25 1h0m23 0h0m1 0h0m-31 1h0m19 0h0m-1 1h0m4 0h0m-4 1h0m4 1h0m7 0h0m4 0h0m-111 1h0m80 0h0m27 0h0m-16 1h0m15 0h0m3 0h0m2 0h0m-39 1h0m35 0h0m-27 1h0m14 0h0m-59 1h0m53 0h0m-20 1h0m8 0h0m18 0h0m15 0h0m-32 1h0m23 0h0m5 0h0m-28 1h0m23 0h0m-34 2h0m13 0h0m18 1h0m-43 1h0m12 0h0m10 0h0m-33 1h0m21 0h0m-2 2h0m-29 1h0m36 0h0m-12 1h0m4 0h0m2 0h0m10 2h0m1 0h0m-10 1h0m17 0h0m-33 2h0m-3 1h0m6 1h0m13 1h0m-4 1h0m2 0h0m19 0h0m-36 1h0m19 0h0m3 0h0m-26 1h0m13 0h0m40 2h0m-69 1h0m29 0h0m3 0h0m8 0h0m-5 1h0m-14 1h0m2 0h0m-19 1h0m14 0h0m27 0h0m-32 1h0m6 1h0m6 0h0m32 0h0m-49 1h0m4 0h0m4 0h0m23 0h0m-26 2h0m18 0h0m-18 3h0m15 2h0m-9 3h0m-9 3h0m54 4h0"/><path stroke="#8f0da4" stroke-opacity="0.81" d="M167 264h0m-8 3h0m4 2h0m-9 2h0m9 1h0m-12 1h0m4 0h0m-1 1h0m5 2h0m-12 24h0m-30 1h0m33 8h0m-60 6h0m50 0h0m3 1h0m22 3h0m-15 1h0m9 0h0m-5 2h0m7 0h0m-65 4h0m8 2h0m11 1h0m-6 2h0m55 1h0m-54 3h0m6 0h0m25 0h0m-37 1h0m63 0h0m-34 2h0m-21 1h0m-3 1h0m-28 2h0m9 0h0m6 0h0m25 0h0m-25 1h0m27 2h0m-21 2h0m8 0h0m18 0h0m28 0h0m-33 2h0m8 1h0m-58 3h0m19 0h0m-17 2h0m19 0h0m12 0h0m11 0h0m-21 3h0m12 1h0m-12 1h0m10 1h0m-34 1h0m31 3h0m8 0h0m-14 2h0m18 2h0m-3 3h0m45 1h0m-84 4h0m40 0h0m-20 1h0m40 14h0m-68 6h0m50 2h0m1 6h0"/><path stroke="#d35171" stroke-opacity="0.75" d="M158 298h0m-47 3h0m59 0h0m-9 1h0m11 2h0m-69 2h0m66 0h0m-16 2h0m9 2h0m7 0h0m-26 2h0m20 0h0m-3 1h0m8 0h0m-28 1h0m17 0h0m11 0h0m-98 1h0m81 0h0m5 0h0m13 0h0m-16 1h0m11 0h0m3 0h0m-13 1h0m12 1h0m15 0h0m-21 1h0m3 0h0m8 0h0m-29 1h0m4 0h0m13 0h0m2 0h0m9 0h0m-39 1h0m24 0h0m10 0h0m2 0h0m9 0h0m-20 1h0m15 0h0m3 0h0m-14 1h0m6 0h0m4 0h0m-18 1h0m1 0h0m3 0h0m12 0h0m-24 1h0m6 0h0m3 0h0m1 0h0m7 0h0m-16 1h0m2 0h0m25 0h0m9 0h0m-67 2h0m19 0h0m8 1h0m7 0h0m2 0h0m8 0h0m3 0h0m4 0h0m1 0h0m13 0h0m-41 1h0m16 0h0m9 0h0m-21 1h0m15 0h0m1 0h0m11 0h0m1 0h0m-38 1h0m3 0h0m22 0h0m6 0h0m2 0h0m-26 1h0m3 0h0m6 0h0m5 0h0m7 0h0m-34 1h0m9 0h0m2 0h0m14 0h0m1 0h0m2 0h0m19 0h0m-48 1h0m1 0h0m2 0h0m6 0h0m2 0h0m3 0h0m24 0h0m-43 1h0m33 0h0m-21 1h0m4 0h0m1 0h0m3 0h0m6 0h0m5 0h0m27 0h0m-57 1h0m8 0h0m4 0h0m6 0h0m3 0h0m5 0h0m-30 1h0m5 0h0m14 0h0m1 0h0m1 0h0m1 0h0m20 0h0m5 0h0m-51 1h0m6 0h0m6 0h0m12 0h0m38 0h0m-49 1h0m3 0h0m5 0h0m5 0h0m-20 1h0m5 0h0m5 0h0m2 0h0m1 0h0m2 0h0m4 0h0m9 0h0m5 0h0m1 0h0m-23 1h0m14 0h0m17 0h0m-32 1h0m5 0h0m1 0h0m6 0h0m2 0h0m16 0h0m-20 1h0m6 0h0m-25 1h0m16 0h0m-12 1h0m10 0h0m2 0h0m3 0h0m-26 1h0m14 0h0m1 0h0m4 0h0m8 0h0m15 0h0m-41 1h0m6 0h0m19 0h0m4 0h0m-31 1h0m11 0h0m6 0h0m5 0h0m-29 1h0m1 0h0m1 0h0m12 0h0m1 0h0m12 0h0m15 0h0m-25 1h0m15 0h0m-25 1h0m5 0h0m-4 1h0m13 0h0m-17 1h0m8 0h0m7 0h0m3 0h0m1 0h0m3 0h0m-19 1h0m11 0h0m19 0h0m-27 1h0m3 0h0m1 0h0m-2 1h0m16 0h0m12 0h0m-26 1h0m1 0h0m8 0h0m-32 1h0m39 0h0m2 0h0m-41 1h0m2 0h0m16 0h0m-11 1h0m20 0h0m19 0h0m4 0h0m-48 1h0m15 0h0m2 0h0m1 0h0m-3 1h0m10 0h0m-20 1h0m8 0h0m9 0h0m4 0h0m-29 1h0m6 0h0m15 0h0m4 0h0m-28 1h0m1 0h0m28 0h0m-25 1h0m5 0h0m2 0h0m4 0h0m5 0h0m8 0h0m-22 1h0m3 0h0m3 0h0m13 0h0m-21 1h0m3 0h0m2 0h0m8 0h0m1 0h0m8 0h0m2 0h0m-28 1h0m11 0h0m5 0h0m-13 1h0m4 0h0m6 0h0m15 0h0m-20 1h0m6 0h0m-12 1h0m6 0h0m1 0h0m3 1h0m22 0h0m1 0h0m-38 3h0m9 0h0m2 0h0m12 0h0m-11 2h0m-5 1h0m7 0h0m14 1h0m-9 1h0m29 0h0m-17 5h0m-14 2h0m36 3h0m1 6h0"/><path stroke="#41049d" stroke-opacity="1.0" d="M156 278h0m3 5h0m-5 3h0m-10 3h0m6 2h0m-7 3h0m11 1h0m-9 3h0m-1 1h0m8 0h0m-3 6h0m-3 3h0m-17 1h0m-1 5h0m6 8h0m-66 14h0m28 1h0m30 3h0m-9 2h0m3 6h0m-44 2h0m50 6h0m-10 2h0m2 1h0m-50 1h0m20 1h0m15 0h0m-10 6h0m14 0h0m-25 2h0m8 1h0m-23 1h0m13 0h0m21 1h0m-4 2h0m-3 1h0m-14 1h0m4 0h0m-6 1h0m-13 1h0m21 0h0m4 0h0m-10 1h0m7 0h0m-14 1h0m11 0h0m6 0h0m1 0h0m-3 1h0m-18 1h0m8 0h0m10 0h0m-29 1h0m4 0h0m4 0h0m13 0h0m1 0h0m8 0h0m-20 1h0m12 0h0m9 0h0m-13 1h0m1 0h0m-7 1h0m5 0h0m14 0h0m-23 1h0m2 0h0m-10 1h0m27 0h0m-29 1h0m17 0h0m1 0h0m1 0h0m6 1h0m4 0h0m-23 1h0m8 0h0m5 0h0m2 0h0m-6 1h0m1 0h0m7 0h0m6 0h0m-14 1h0m7 0h0m-11 1h0m3 0h0m6 0h0m3 0h0m-1 1h0m6 0h0m-16 1h0m7 0h0m-14 1h0m1 1h0m1 0h0m1 0h0m4 0h0m4 0h0m7 0h0m-15 1h0m-2 1h0m8 0h0m-5 1h0m-5 1h0m-2 1h0m-6 1h0m14 0h0m-5 1h0m1 0h0m5 0h0m2 0h0m-4 1h0m7 1h0m-4 3h0"/><path stroke="#8405a7" stroke-opacity="0.88" d="M164 268h0m3 1h0m-11 5h0m-2 1h0m-1 4h0m1 0h0m3 0h0m-6 1h0m-2 2h0m12 1h0m-15 5h0m5 3h0m-4 1h0m10 0h0m-4 3h0m-9 1h0m1 1h0m7 0h0m-11 1h0m5 0h0m-16 3h0m10 0h0m24 1h0m-23 2h0m-3 1h0m2 5h0m13 0h0m23 1h0m-39 1h0m19 0h0m-9 4h0m-12 2h0m-30 1h0m24 2h0m25 2h0m2 0h0m-21 1h0m15 0h0m-25 5h0m6 2h0m-19 2h0m1 0h0m6 0h0m-15 3h0m12 1h0m-20 2h0m18 0h0m-16 1h0m18 0h0m-68 1h0m55 1h0m6 0h0m-39 2h0m27 0h0m34 1h0m-30 1h0m8 0h0m-3 2h0m2 0h0m-40 1h0m8 0h0m-17 1h0m45 0h0m-13 1h0m14 1h0m-51 1h0m36 0h0m8 0h0m1 0h0m4 0h0m3 0h0m2 0h0m-5 1h0m-26 1h0m26 0h0m11 0h0m-3 1h0m-18 1h0m-4 1h0m16 0h0m-13 1h0m-22 1h0m6 1h0m11 0h0m17 0h0m-13 1h0m1 0h0m8 0h0m-9 2h0m-36 3h0m21 7h0m-3 3h0m0 1h0m10 0h0m15 0h0m-20 1h0m-12 1h0m21 0h0m7 0h0m-33 1h0m17 2h0m6 0h0m-11 3h0m12 0h0m-15 8h0m14 4h0"/><path stroke="#fcce25" stroke-opacity="0.92" d="M115 288h0m-1 27h0m-6 4h0m2 1h0m-1 1h0m4 1h0m-16 1h0m20 0h0m-26 2h0m4 0h0m16 0h0m-8 1h0m-10 1h0m15 2h0m-4 3h0m-10 1h0m10 6h0m-12 4h0"/><path stroke="#330597" stroke-opacity="1.0" d="M139 309h0m11 3h0m-45 16h0m4 4h0m-13 1h0m8 0h0m-13 9h0m11 5h0m8 3h0m-31 3h0m9 4h0m4 8h0m-12 6h0m-8 1h0m12 3h0m8 0h0m-19 2h0m6 1h0m3 1h0m-6 3h0m10 0h0m-10 2h0m5 0h0m-11 1h0m8 0h0m1 0h0m-9 1h0m-2 1h0m4 0h0m-5 2h0m-4 1h0m10 0h0m1 0h0m5 0h0m-12 1h0m4 0h0m1 0h0m12 0h0m-23 1h0m10 1h0m-11 1h0m12 0h0m-16 1h0m5 0h0m11 0h0m2 0h0m-11 1h0m15 0h0m-26 1h0m9 0h0m6 0h0m5 0h0m3 0h0m6 0h0m-19 2h0m2 0h0m6 0h0m-9 1h0m1 0h0m18 0h0m-27 1h0m13 0h0m-9 1h0m-2 1h0m1 0h0m16 3h0m-15 1h0m10 0h0m-1 4h0"/><path stroke="#fa9b3d" stroke-opacity="0.92" d="M122 283h0m13 7h0m-21 6h0m-13 1h0m25 0h0m5 1h0m-39 4h0m0 2h0m19 2h0m17 0h0m-27 1h0m21 0h0m3 2h0m-30 4h0m15 0h0m14 0h0m-31 1h0m24 0h0m2 0h0m-13 2h0m2 1h0m4 0h0m-10 1h0m2 0h0m2 0h0m8 1h0m9 2h0m-12 1h0m3 0h0m6 0h0m-29 1h0m21 0h0m4 0h0m-7 1h0m12 0h0m-26 2h0m23 0h0m-11 1h0m4 0h0m-3 2h0m5 2h0m-12 6h0"/><path stroke="#220690" stroke-opacity="1.0" d="M132 331h0m-26 5h0m-14 9h0m10 11h0m-16 19h0m1 2h0m-22 2h0m27 0h0m-4 1h0m-8 6h0m-7 1h0m1 0h0m-20 1h0m24 1h0m10 1h0m-17 1h0m-5 2h0m-6 1h0m5 0h0m6 0h0m-8 1h0m6 0h0m3 0h0m5 0h0m2 0h0m-17 1h0m5 1h0m-3 2h0m3 0h0m8 0h0m-12 2h0m8 0h0m-5 1h0m5 0h0m-4 2h0m-2 4h0"/><path stroke="#fca636" stroke-opacity="0.92" d="M111 286h0m-15 10h0m5 5h0m-2 1h0m35 3h0m-15 1h0m5 1h0m-15 1h0m-7 1h0m14 1h0m-13 1h0m4 0h0m-2 1h0m7 0h0m-7 1h0m-6 1h0m9 1h0m13 1h0m-15 1h0m-7 1h0m3 1h0m2 1h0m-5 1h0m10 0h0m7 0h0m-15 1h0m16 0h0m-20 1h0m8 0h0m1 0h0m2 0h0m-3 1h0m12 0h0m1 0h0m-28 1h0m16 0h0m7 1h0m-5 1h0m-3 1h0m2 2h0m2 2h0m10 0h0"/><path stroke="#9c179e" stroke-opacity="0.75" d="M162 306h0m7 3h0m-14 1h0m13 0h0m4 0h0m0 3h0m-19 1h0m-10 1h0m12 0h0m7 0h0m2 4h0m3 0h0m-1 2h0m-19 2h0m3 0h0m6 0h0m10 1h0m-37 1h0m19 0h0m19 0h0m-2 4h0m-6 1h0m-3 2h0m2 1h0m-7 1h0m-9 1h0m12 0h0m2 0h0m8 0h0m-45 1h0m18 0h0m7 0h0m1 1h0m6 0h0m-16 1h0m5 0h0m7 0h0m-46 3h0m40 1h0m7 0h0m15 0h0m-49 1h0m-45 1h0m61 0h0m1 0h0m-15 5h0m-17 1h0m27 0h0m14 0h0m-16 3h0m-11 1h0m-5 1h0m14 1h0m-15 1h0m16 2h0m-32 2h0m25 1h0m2 0h0m-13 2h0m15 0h0m-3 1h0m-18 3h0m28 0h0m-1 1h0m-44 5h0m24 3h0m-29 1h0m27 0h0"/><path stroke="#f68f44" stroke-opacity="0.88" d="M105 277h0m-2 2h0m-7 1h0m6 11h0m13 1h0m-3 2h0m0 1h0m12 4h0m-20 3h0m6 0h0m14 2h0m-3 1h0m0 1h0m-9 1h0m6 0h0m5 0h0m-8 1h0m-6 1h0m17 0h0m3 0h0m-11 1h0m3 1h0m-28 1h0m23 0h0m1 0h0m-16 2h0m13 1h0m2 2h0m3 0h0m-4 1h0m12 0h0m-25 1h0m7 0h0m-11 1h0m2 0h0m7 0h0m5 0h0m36 0h0m-29 1h0m-6 1h0m10 0h0m-32 1h0m25 0h0m-8 1h0m8 0h0m-9 1h0m2 0h0m-15 1h0m29 1h0m-10 3h0m5 0h0m-23 3h0"/><path stroke="#5002a2" stroke-opacity="1.0" d="M154 261h0m12 2h0m2 2h0m-13 2h0m3 1h0m7 3h0m-9 1h0m10 1h0m-19 3h0m6 0h0m0 2h0m4 3h0m-4 1h0m-6 4h0m13 1h0m-2 2h0m-14 2h0m-10 1h0m16 0h0m-6 1h0m4 2h0m-1 4h0m0 1h0m-9 3h0m8 5h0m6 1h0m-3 5h0m-17 1h0m5 0h0m9 5h0m-77 2h0m64 2h0m0 1h0m0 3h0m-67 4h0m36 0h0m6 2h0m-49 1h0m64 1h0m-15 1h0m15 0h0m-4 1h0m-34 2h0m18 3h0m12 0h0m-50 1h0m62 0h0m-34 1h0m-38 1h0m36 1h0m30 2h0m-68 5h0m50 3h0m-34 1h0m19 0h0m4 0h0m0 1h0m7 0h0m-16 1h0m8 1h0m-29 1h0m24 0h0m5 0h0m-35 1h0m49 0h0m-20 1h0m13 0h0m-7 1h0m9 0h0m4 0h0m3 1h0m1 1h0m-15 1h0m-10 1h0m12 0h0m-9 1h0m6 0h0m9 0h0m-27 1h0m2 0h0m8 0h0m6 0h0m6 0h0m-2 1h0m0 2h0m-28 1h0m9 0h0m-2 1h0m8 0h0m4 0h0m7 0h0m-24 1h0m4 0h0m21 0h0m-6 1h0m3 0h0m-11 1h0m1 0h0m-10 1h0m7 0h0m2 1h0m9 0h0m10 0h0m-30 1h0m7 0h0m14 0h0m-21 1h0m5 0h0m7 0h0m6 0h0m-14 1h0m10 0h0m1 0h0m-25 1h0m7 1h0m0 1h0m12 0h0m4 0h0m3 0h0m4 0h0m-10 1h0m12 0h0m-41 1h0m14 0h0m15 0h0m13 0h0m-25 1h0m12 0h0m4 0h0m-22 1h0m1 0h0m10 0h0m-7 1h0m5 0h0m-11 1h0m3 0h0m3 0h0m-5 1h0m6 0h0m6 0h0m1 0h0m-14 1h0m8 0h0m6 0h0m1 0h0m5 0h0m-19 2h0m10 0h0m2 0h0m8 0h0m-14 1h0m8 1h0m-16 1h0m17 0h0m-10 1h0m1 0h0m5 0h0m2 0h0m-7 1h0m5 0h0m-14 1h0m14 0h0m-5 1h0m-12 1h0m7 0h0m-1 1h0m11 0h0m-7 1h0m0 1h0m8 8h0"/><path stroke="#e16462" stroke-opacity="0.75" d="M122 298h0m4 3h0m-15 2h0m55 1h0m-2 3h0m-10 3h0m3 2h0m-44 2h0m32 2h0m15 0h0m4 1h0m5 0h0m-50 1h0m41 0h0m6 0h0m-27 1h0m21 1h0m9 3h0m-29 1h0m15 0h0m23 0h0m-44 1h0m-8 1h0m15 0h0m22 0h0m24 0h0m-39 1h0m-20 2h0m12 1h0m13 0h0m14 0h0m24 0h0m-66 1h0m5 0h0m53 0h0m-54 1h0m10 0h0m9 0h0m4 1h0m-30 1h0m15 0h0m6 0h0m4 0h0m4 0h0m12 0h0m-21 1h0m-4 1h0m4 0h0m11 0h0m3 0h0m15 0h0m9 0h0m-47 1h0m8 0h0m-13 1h0m2 0h0m9 0h0m11 0h0m-21 1h0m3 0h0m2 0h0m-12 1h0m2 0h0m6 0h0m2 0h0m5 0h0m3 0h0m8 0h0m-20 1h0m1 0h0m-16 1h0m13 0h0m7 0h0m3 0h0m6 0h0m-28 1h0m12 0h0m4 0h0m17 0h0m-32 1h0m9 0h0m12 0h0m-13 1h0m2 0h0m4 0h0m3 0h0m6 0h0m-19 1h0m26 0h0m11 0h0m-41 1h0m21 0h0m4 0h0m5 0h0m47 0h0m-73 1h0m11 0h0m1 0h0m1 0h0m3 0h0m5 0h0m-5 1h0m15 0h0m-30 1h0m16 0h0m-21 3h0m4 0h0m4 0h0m6 1h0m-13 1h0m21 0h0m-26 1h0m0 1h0m10 0h0m15 1h0m1 0h0m-32 1h0m5 0h0m6 0h0m-12 1h0m27 0h0m-32 1h0m5 0h0m-13 2h0m17 0h0m7 0h0m-27 1h0m19 0h0m8 0h0m-24 1h0m22 0h0m-13 2h0m30 0h0m-22 2h0m-19 1h0m16 0h0m-9 1h0m-5 1h0m15 0h0m4 0h0m-5 2h0m9 7h0m28 8h0"/><path stroke="#f9dc24" stroke-opacity="0.92" d="M109 312h0m0 3h0m1 0h0m2 2h0m0 4h0m-13 2h0m1 1h0m3 2h0m-1 1h0m1 3h0m7 5h0m-16 3h0m-7 4h0"/><path stroke="#f5eb27" stroke-opacity="0.92" d="M110 311h0m-9 6h0m2 12h0m-13 5h0m18 2h0m-14 4h0m10 1h0"/><path stroke="#c33d80" stroke-opacity="0.75" d="M161 301h0m3 2h0m-8 4h0m-2 1h0m12 0h0m-4 1h0m6 0h0m-21 1h0m23 0h0m-21 2h0m30 0h0m-30 1h0m12 0h0m2 0h0m5 0h0m10 1h0m-22 1h0m-8 1h0m3 0h0m16 0h0m11 0h0m-51 1h0m20 0h0m2 0h0m6 0h0m5 0h0m-17 1h0m25 0h0m-16 1h0m10 0h0m4 0h0m5 0h0m6 0h0m-27 1h0m1 0h0m9 0h0m6 0h0m1 0h0m9 0h0m-18 1h0m1 0h0m8 0h0m-21 1h0m13 0h0m1 0h0m6 0h0m13 0h0m-31 1h0m2 0h0m2 0h0m12 0h0m5 0h0m9 0h0m-30 1h0m5 0h0m28 0h0m-44 1h0m5 0h0m12 0h0m3 0h0m3 0h0m3 0h0m3 0h0m6 0h0m6 0h0m-26 1h0m6 0h0m1 1h0m1 0h0m8 0h0m10 0h0m-39 1h0m10 0h0m4 0h0m2 0h0m4 0h0m7 0h0m2 0h0m2 0h0m-7 1h0m-27 1h0m33 0h0m3 0h0m-38 1h0m4 0h0m10 0h0m2 0h0m1 0h0m5 0h0m-21 1h0m1 0h0m18 0h0m12 0h0m21 0h0m-51 1h0m5 0h0m3 0h0m6 0h0m16 0h0m-46 1h0m27 0h0m5 0h0m15 0h0m-53 1h0m51 0h0m4 0h0m5 0h0m-44 1h0m12 0h0m22 0h0m3 0h0m-34 1h0m-15 1h0m10 0h0m3 0h0m4 0h0m8 0h0m-23 1h0m7 0h0m3 0h0m10 0h0m-8 1h0m1 0h0m6 0h0m7 0h0m18 0h0m-31 1h0m11 0h0m4 0h0m23 0h0m-46 1h0m7 0h0m4 0h0m6 0h0m30 0h0m-53 1h0m7 0h0m13 0h0m8 0h0m5 0h0m7 0h0m-39 1h0m3 0h0m3 0h0m4 0h0m6 0h0m6 1h0m1 0h0m3 0h0m3 0h0m14 0h0m-50 1h0m13 0h0m11 0h0m-25 1h0m5 0h0m2 0h0m3 0h0m10 0h0m11 0h0m-21 1h0m8 0h0m2 0h0m-14 1h0m4 0h0m6 0h0m7 0h0m11 0h0m2 0h0m-35 1h0m20 0h0m8 0h0m-12 1h0m9 0h0m14 0h0m-30 1h0m1 0h0m1 0h0m3 0h0m9 0h0m9 0h0m-43 1h0m8 0h0m21 0h0m11 0h0m-39 1h0m10 0h0m2 0h0m23 0h0m10 0h0m-40 1h0m19 0h0m2 0h0m12 0h0m-32 1h0m6 0h0m6 0h0m4 0h0m6 0h0m-23 1h0m10 0h0m10 0h0m2 0h0m2 0h0m5 0h0m-26 1h0m7 0h0m-19 1h0m13 0h0m3 0h0m4 0h0m3 0h0m17 0h0m-37 1h0m12 0h0m14 0h0m1 0h0m-40 1h0m7 0h0m23 0h0m1 0h0m5 0h0m-15 1h0m3 0h0m1 0h0m2 0h0m4 0h0m-19 1h0m5 0h0m20 0h0m-12 1h0m-24 1h0m7 0h0m12 0h0m24 0h0m-35 1h0m3 0h0m17 0h0m5 0h0m-20 1h0m6 0h0m1 0h0m7 0h0m-24 1h0m6 0h0m7 0h0m9 0h0m-24 1h0m7 0h0m11 0h0m2 0h0m6 0h0m14 0h0m-29 1h0m3 0h0m1 0h0m1 0h0m8 0h0m-27 1h0m13 0h0m6 0h0m-7 1h0m15 0h0m-22 1h0m3 0h0m3 0h0m13 0h0m3 0h0m-14 1h0m14 1h0m-26 1h0m18 0h0m-15 1h0m29 0h0m2 0h0m-20 1h0m3 1h0m1 0h0m-1 1h0m-5 1h0m10 4h0m14 12h0m-8 2h0m-50 16h0"/><path stroke="#fec029" stroke-opacity="0.92" d="M97 310h0m8 2h0m15 2h0m-7 1h0m-12 2h0m-8 1h0m31 0h0m-37 2h0m28 0h0m-8 1h0m9 0h0m5 0h0m-26 1h0m15 2h0m-11 2h0m4 0h0m-2 2h0m9 0h0m-26 2h0m44 1h0m-35 2h0m20 0h0m-5 1h0m-6 2h0m-10 1h0"/><path stroke="#da5b69" stroke-opacity="0.75" d="M101 293h0m-19 2h0m79 3h0m4 2h0m-47 2h0m51 4h0m-68 2h0m8 2h0m3 1h0m62 0h0m-72 1h0m9 0h0m65 0h0m-21 1h0m-6 1h0m2 1h0m21 0h0m1 0h0m-29 1h0m6 0h0m1 1h0m2 0h0m12 0h0m-14 1h0m15 0h0m5 0h0m12 0h0m-20 1h0m-4 1h0m4 0h0m10 1h0m-16 1h0m4 0h0m7 0h0m-6 1h0m-15 1h0m2 0h0m16 0h0m10 0h0m-27 1h0m32 1h0m-49 1h0m23 0h0m5 0h0m-7 1h0m8 0h0m8 0h0m1 0h0m-41 1h0m26 0h0m27 0h0m-15 1h0m-25 1h0m19 0h0m-9 1h0m5 0h0m8 0h0m9 0h0m5 0h0m-44 1h0m31 0h0m26 0h0m-40 1h0m-23 1h0m2 0h0m7 0h0m2 0h0m5 0h0m12 0h0m6 0h0m31 0h0m-62 1h0m7 0h0m33 0h0m-54 1h0m15 0h0m41 0h0m-47 1h0m4 0h0m7 0h0m10 0h0m-32 1h0m7 0h0m10 0h0m12 0h0m8 0h0m-36 1h0m10 0h0m2 0h0m25 0h0m38 0h0m-73 1h0m7 0h0m2 0h0m8 0h0m1 0h0m2 0h0m3 0h0m19 0h0m20 0h0m-51 1h0m4 0h0m25 0h0m-32 1h0m1 0h0m1 0h0m4 0h0m1 0h0m1 0h0m-1 1h0m-7 1h0m8 0h0m11 0h0m7 0h0m-17 1h0m2 0h0m-24 1h0m12 0h0m8 0h0m6 0h0m2 0h0m-29 1h0m21 0h0m1 0h0m-15 1h0m10 0h0m4 0h0m7 0h0m1 0h0m-15 1h0m5 0h0m8 0h0m-5 2h0m4 0h0m-27 1h0m19 0h0m12 0h0m1 0h0m-19 1h0m-23 1h0m17 0h0m7 0h0m10 0h0m1 0h0m-34 2h0m18 0h0m13 0h0m3 0h0m18 0h0m-52 1h0m13 0h0m22 0h0m7 0h0m-38 1h0m14 0h0m-34 1h0m4 0h0m3 0h0m10 1h0m22 0h0m0 1h0m-30 1h0m17 2h0m-28 1h0m30 0h0m-25 1h0m16 0h0m9 0h0m-6 1h0m18 0h0m-32 1h0m4 0h0m5 1h0m7 0h0m-19 1h0m4 0h0m9 0h0m-9 1h0m1 0h0m33 0h0m-22 1h0m10 0h0m-14 1h0m5 1h0m-3 1h0m-5 1h0m4 0h0m2 0h0m10 1h0m-15 3h0m6 0h0m5 2h0m-9 5h0"/><path stroke="#f2844b" stroke-opacity="0.83" d="M129 291h0m-42 1h0m34 4h0m-24 1h0m23 4h0m9 0h0m-26 3h0m9 1h0m-9 1h0m21 0h0m-13 1h0m6 0h0m5 1h0m2 0h0m-1 1h0m10 1h0m-31 1h0m6 0h0m-3 1h0m6 0h0m15 0h0m-32 1h0m16 1h0m-3 1h0m1 1h0m8 0h0m9 1h0m-20 2h0m15 0h0m19 0h0m-14 1h0m-18 1h0m2 0h0m21 0h0m-23 2h0m-4 4h0m13 0h0m49 0h0m-50 1h0m51 0h0m-64 1h0m15 3h0m29 6h0m-6 2h0m9 0h0m-31 1h0m29 2h0m-25 24h0"/><path stroke="#f0f921" stroke-opacity="0.92" d="M95 323h0m4 3h0m-17 4h0m4 1h0"/><path stroke="#8405a7" stroke-opacity="0.88" d="M168 266h0m-4 4h0m4 0h0m-16 3h0m13 1h0m-2 1h0m1 0h0m-8 5h0m6 1h0m-16 10h0m6 0h0m2 3h0m0 1h0m2 1h0m-10 7h0m-5 1h0m4 1h0m3 0h0m-60 8h0m44 3h0m6 0h0m6 1h0m-12 1h0m9 0h0m-5 1h0m3 1h0m5 0h0m-18 1h0m13 1h0m-28 5h0m55 0h0m-74 2h0m18 1h0m-12 3h0m28 0h0m-13 1h0m-3 1h0m11 0h0m-34 1h0m19 0h0m-3 1h0m8 3h0m3 2h0m-7 1h0m7 0h0m-16 1h0m7 1h0m-8 1h0m15 0h0m-18 1h0m4 0h0m5 0h0m5 0h0m6 0h0m-61 2h0m48 1h0m14 0h0m5 0h0m-57 1h0m30 0h0m1 0h0m2 0h0m20 0h0m-59 1h0m48 1h0m8 0h0m-55 2h0m39 0h0m24 0h0m-58 2h0m40 0h0m34 0h0m-35 1h0m4 0h0m-2 1h0m-39 1h0m55 0h0m-24 1h0m2 0h0m19 0h0m-29 1h0m22 0h0m3 1h0m-38 1h0m39 0h0m-22 3h0m0 1h0m66 1h0m-53 2h0m6 0h0m-30 1h0m16 0h0m-26 1h0m6 1h0m5 3h0m-6 2h0m-15 1h0m21 0h0m-6 3h0m43 3h0m-46 3h0m-15 3h0m63 12h0"/><path stroke="#f5eb27" stroke-opacity="0.92" d="M100 333h0m4 1h0m-5 2h0m-6 13h0"/><path stroke="#fdb42f" stroke-opacity="0.92" d="M114 283h0m-14 6h0m0 8h0m9 0h0m21 1h0m-39 4h0m13 3h0m5 7h0m5 3h0m1 0h0m-12 1h0m6 0h0m12 1h0m5 0h0m-40 1h0m21 1h0m6 0h0m-18 1h0m12 0h0m4 2h0m4 0h0m-24 1h0m10 0h0m6 0h0m2 0h0m-20 2h0m6 0h0m18 1h0m11 0h0m4 0h0m-29 1h0m16 0h0m13 0h0m-40 1h0m4 0h0m15 1h0m-2 1h0m4 0h0m-5 1h0m-19 2h0m29 1h0m-19 1h0m4 2h0m3 7h0"/><path stroke="#f68f44" stroke-opacity="0.88" d="M117 283h0m-17 10h0m15 0h0m-8 1h0m13 3h0m-11 3h0m-14 3h0m16 3h0m9 0h0m-8 1h0m12 0h0m-7 1h0m-25 1h0m5 1h0m8 0h0m5 0h0m-20 1h0m23 0h0m5 1h0m10 0h0m-17 1h0m8 0h0m-6 1h0m-15 1h0m1 0h0m20 1h0m1 0h0m-30 1h0m16 0h0m4 0h0m3 0h0m2 0h0m6 0h0m-18 3h0m6 0h0m1 0h0m8 0h0m-14 1h0m2 0h0m5 0h0m1 0h0m-19 1h0m23 0h0m-6 1h0m-19 5h0m2 0h0m4 0h0m46 0h0m-46 1h0m38 22h0"/><path stroke="#ed7953" stroke-opacity="0.79" d="M105 277h0m11 2h0m-2 6h0m-8 13h0m17 2h0m-15 5h0m29 0h0m-20 4h0m-16 1h0m13 1h0m-9 1h0m17 0h0m32 1h0m-70 2h0m38 1h0m-17 3h0m52 0h0m2 0h0m21 1h0m-78 2h0m7 0h0m4 3h0m32 4h0m16 0h0m-15 5h0m4 0h0m-6 2h0m5 1h0m-15 1h0m32 1h0m-19 1h0m-16 4h0m4 0h0m-21 1h0m17 2h0m-13 1h0m-4 2h0m16 0h0m-11 2h0m-6 3h0m7 1h0m5 1h0m-30 4h0m19 4h0m-20 3h0m1 0h0m9 4h0m2 2h0m-9 7h0"/><path stroke="#f0f921" stroke-opacity="0.92" d="M101 324h0m13 0h0m-22 15h0"/><path stroke="#cc4778" stroke-opacity="0.75" d="M173 301h0m-1 2h0m-40 2h0m29 3h0m2 1h0m2 0h0m-8 1h0m7 0h0m-26 1h0m24 0h0m4 0h0m-9 1h0m1 0h0m15 0h0m3 0h0m6 0h0m-53 1h0m25 0h0m13 0h0m7 0h0m-15 1h0m2 0h0m18 0h0m-16 1h0m-10 1h0m16 0h0m1 0h0m8 0h0m-40 1h0m23 0h0m27 0h0m-36 1h0m1 0h0m31 0h0m-23 1h0m4 0h0m6 0h0m-14 1h0m6 0h0m5 0h0m9 0h0m-34 1h0m8 0h0m4 0h0m7 0h0m1 0h0m3 0h0m-14 1h0m10 0h0m1 0h0m4 0h0m3 0h0m5 0h0m-27 1h0m9 0h0m2 0h0m-13 1h0m10 0h0m4 0h0m5 0h0m4 0h0m5 0h0m5 0h0m7 0h0m-31 1h0m6 1h0m-26 1h0m19 0h0m3 0h0m15 0h0m9 0h0m-63 1h0m22 0h0m1 0h0m13 0h0m5 0h0m5 0h0m-37 1h0m2 0h0m3 0h0m6 0h0m8 0h0m14 0h0m2 0h0m4 0h0m13 0h0m-66 1h0m33 0h0m10 0h0m9 0h0m2 0h0m-39 1h0m23 0h0m3 0h0m13 0h0m-34 1h0m15 0h0m20 0h0m5 0h0m-44 1h0m2 0h0m4 0h0m2 0h0m20 0h0m21 0h0m-46 1h0m42 0h0m-45 1h0m2 0h0m13 0h0m8 0h0m9 0h0m-33 1h0m21 0h0m-23 1h0m4 0h0m9 0h0m9 0h0m4 0h0m-38 1h0m9 0h0m4 0h0m2 0h0m8 0h0m1 0h0m4 0h0m19 0h0m-31 1h0m3 0h0m10 0h0m2 0h0m11 0h0m-29 1h0m5 0h0m3 0h0m24 0h0m-46 1h0m16 0h0m3 0h0m14 0h0m6 0h0m7 0h0m5 0h0m9 0h0m-44 1h0m9 0h0m9 0h0m-15 1h0m7 0h0m24 0h0m-26 1h0m12 0h0m6 0h0m-38 1h0m1 0h0m40 0h0m-47 1h0m13 0h0m1 0h0m4 0h0m1 0h0m1 0h0m1 0h0m11 0h0m9 0h0m2 0h0m7 0h0m-50 1h0m1 0h0m17 0h0m1 0h0m1 0h0m10 0h0m2 0h0m1 0h0m11 0h0m-32 1h0m6 0h0m1 0h0m1 0h0m3 0h0m12 0h0m12 0h0m-45 1h0m23 0h0m1 0h0m1 0h0m-8 1h0m1 0h0m1 0h0m4 0h0m1 0h0m3 0h0m-41 1h0m4 0h0m22 0h0m4 0h0m20 0h0m1 0h0m-38 1h0m2 0h0m8 0h0m5 0h0m4 0h0m7 0h0m-23 1h0m3 0h0m1 0h0m6 0h0m13 0h0m6 0h0m-33 1h0m18 0h0m5 0h0m-45 1h0m20 0h0m9 0h0m3 0h0m6 0h0m2 0h0m-12 1h0m12 0h0m18 0h0m20 0h0m-64 1h0m21 0h0m8 0h0m3 0h0m-28 1h0m12 0h0m25 0h0m-40 1h0m1 0h0m9 0h0m8 0h0m5 0h0m-27 1h0m2 0h0m8 0h0m30 0h0m-37 1h0m9 0h0m5 0h0m11 0h0m-30 1h0m3 0h0m9 0h0m26 0h0m-19 1h0m3 0h0m-18 1h0m1 0h0m1 0h0m18 0h0m-28 1h0m5 0h0m2 0h0m22 0h0m-30 1h0m3 0h0m7 0h0m5 0h0m5 0h0m2 0h0m19 0h0m-46 1h0m11 0h0m8 0h0m16 0h0m7 0h0m-36 1h0m4 0h0m14 1h0m6 0h0m-19 1h0m4 0h0m12 0h0m12 0h0m32 0h0m-47 1h0m-10 1h0m8 0h0m11 0h0m-31 1h0m9 0h0m-2 1h0m4 0h0m11 0h0m4 0h0m-23 1h0m29 0h0m0 1h0m-31 2h0m3 0h0m12 0h0m4 0h0m-21 1h0m7 0h0m-1 2h0m63 0h0m-59 1h0m4 0h0m-7 2h0m8 1h0m12 22h0"/><path stroke="#da5b69" stroke-opacity="0.75" d="M122 299h0m21 0h0m-36 3h0m1 1h0m60 5h0m-8 1h0m-41 1h0m43 0h0m10 0h0m1 0h0m0 2h0m-51 2h0m43 0h0m3 0h0m3 0h0m11 0h0m-29 1h0m6 0h0m-3 2h0m2 1h0m3 0h0m1 0h0m5 0h0m4 0h0m-10 1h0m-1 1h0m11 0h0m11 0h0m-34 1h0m5 0h0m1 0h0m28 1h0m-35 1h0m40 0h0m-36 1h0m14 0h0m-25 2h0m6 0h0m18 0h0m-31 1h0m21 0h0m2 0h0m34 0h0m-55 1h0m4 0h0m14 0h0m-26 1h0m1 0h0m2 0h0m33 0h0m11 0h0m1 0h0m4 0h0m-51 1h0m22 0h0m5 0h0m9 0h0m1 0h0m4 0h0m-44 1h0m3 0h0m24 0h0m16 0h0m7 0h0m-51 1h0m25 0h0m1 0h0m-27 1h0m21 0h0m-4 1h0m4 0h0m-21 2h0m3 0h0m7 0h0m5 0h0m1 0h0m6 0h0m29 0h0m-49 1h0m6 0h0m14 0h0m-33 1h0m12 0h0m18 0h0m-15 1h0m2 0h0m8 0h0m4 0h0m3 0h0m-27 1h0m10 0h0m19 0h0m11 0h0m12 0h0m-48 1h0m14 0h0m5 0h0m-18 1h0m4 0h0m9 0h0m-9 1h0m9 0h0m5 1h0m0 1h0m1 0h0m-21 1h0m4 0h0m2 0h0m9 0h0m-30 1h0m33 0h0m3 0h0m5 0h0m-15 1h0m2 0h0m7 0h0m-22 1h0m11 0h0m8 0h0m-19 1h0m1 0h0m17 0h0m-13 1h0m3 0h0m-17 1h0m13 0h0m17 0h0m-35 1h0m13 0h0m2 1h0m25 0h0m-29 1h0m-47 1h0m36 0h0m41 0h0m-43 1h0m6 0h0m4 0h0m9 0h0m27 0h0m-38 1h0m3 0h0m11 0h0m-17 1h0m1 0h0m9 0h0m3 0h0m-18 1h0m11 0h0m4 0h0m-25 1h0m14 0h0m-4 1h0m9 1h0m-14 1h0m11 0h0m11 0h0m18 0h0m-46 1h0m26 0h0m-16 1h0m1 0h0m7 0h0m-3 1h0m3 0h0m1 0h0m-4 1h0m3 0h0m4 0h0m-12 1h0m7 0h0m4 0h0m8 0h0m-28 1h0m9 0h0m11 0h0m-11 1h0m-5 1h0m12 0h0m-12 2h0m15 0h0m-15 1h0m6 0h0m3 0h0m-6 1h0m47 0h0m-55 1h0m19 0h0m4 0h0m-23 1h0m2 0h0m15 0h0m-8 1h0m-2 3h0m41 9h0m-18 2h0m-3 19h0"/><path stroke="#41049d" stroke-opacity="1.0" d="M158 270h0m-22 21h0m14 2h0m-15 5h0m11 4h0m-4 2h0m-7 16h0m-56 22h0m23 2h0m4 0h0m12 2h0m-21 2h0m-2 2h0m9 3h0m9 2h0m-10 2h0m3 1h0m35 1h0m-55 1h0m20 1h0m-20 1h0m1 0h0m13 0h0m-5 1h0m7 0h0m-10 1h0m-13 2h0m-9 1h0m10 0h0m5 0h0m0 1h0m21 0h0m-45 1h0m23 1h0m30 1h0m-42 2h0m-11 1h0m22 1h0m-3 1h0m1 0h0m9 0h0m-9 1h0m8 0h0m-14 2h0m9 0h0m-11 1h0m15 0h0m-31 1h0m20 0h0m17 0h0m-13 2h0m2 0h0m1 0h0m5 0h0m-29 1h0m9 0h0m-5 1h0m19 0h0m5 0h0m-19 1h0m2 0h0m15 0h0m-8 1h0m10 0h0m1 0h0m-18 1h0m9 0h0m2 0h0m1 0h0m-18 1h0m-1 2h0m2 0h0m9 0h0m5 0h0m5 0h0m-24 1h0m10 0h0m-12 1h0m12 0h0m5 0h0m-32 1h0m7 0h0m9 0h0m0 1h0m3 0h0m11 0h0m-3 1h0m-7 1h0m2 0h0m5 0h0m2 0h0m2 0h0m9 0h0m-17 1h0m2 0h0m5 0h0m-8 1h0m4 0h0m-10 1h0m10 0h0m-9 1h0m9 0h0m5 0h0m-23 1h0m8 0h0m3 0h0m9 0h0m-20 1h0m16 0h0m5 0h0m-14 1h0m12 1h0m-3 1h0m4 1h0m-6 2h0m1 1h0m-8 2h0"/><path stroke="#c33d80" stroke-opacity="0.75" d="M158 298h0m4 2h0m2 0h0m-7 2h0m7 1h0m-59 3h0m67 2h0m-16 1h0m-10 2h0m4 0h0m7 1h0m4 0h0m7 0h0m4 0h0m8 0h0m-36 1h0m13 1h0m3 0h0m20 0h0m-28 1h0m9 0h0m-11 1h0m14 0h0m1 1h0m4 0h0m-22 1h0m13 0h0m16 0h0m-12 1h0m-7 1h0m3 0h0m14 0h0m-26 1h0m8 0h0m11 0h0m-15 1h0m15 0h0m1 0h0m-2 1h0m-15 1h0m18 0h0m1 0h0m-35 1h0m17 0h0m6 0h0m8 0h0m8 0h0m4 0h0m-20 1h0m6 0h0m9 0h0m-23 1h0m6 0h0m1 0h0m3 0h0m5 0h0m6 0h0m6 0h0m-28 1h0m3 0h0m5 0h0m-35 1h0m11 0h0m6 0h0m2 0h0m12 0h0m8 0h0m3 0h0m2 0h0m7 0h0m-26 2h0m16 0h0m4 0h0m10 0h0m3 0h0m-29 1h0m24 0h0m-54 1h0m5 0h0m6 0h0m3 0h0m6 0h0m19 0h0m3 0h0m10 0h0m-32 1h0m5 0h0m1 0h0m2 0h0m2 0h0m9 0h0m7 0h0m-44 1h0m19 0h0m9 0h0m17 0h0m-47 1h0m10 0h0m12 0h0m2 0h0m3 0h0m8 0h0m6 0h0m-33 1h0m2 0h0m3 0h0m-11 1h0m25 0h0m9 0h0m8 0h0m-35 1h0m2 0h0m5 0h0m8 0h0m5 0h0m13 0h0m18 0h0m-48 1h0m4 0h0m26 0h0m3 0h0m-45 1h0m14 0h0m1 0h0m6 0h0m5 0h0m12 0h0m7 0h0m-45 1h0m12 0h0m1 0h0m2 0h0m8 0h0m5 0h0m-23 1h0m1 0h0m6 0h0m5 0h0m11 0h0m9 0h0m-34 1h0m3 0h0m31 0h0m-23 1h0m28 0h0m-46 1h0m14 0h0m10 0h0m29 0h0m-67 1h0m10 0h0m8 0h0m4 0h0m4 0h0m12 0h0m2 0h0m8 0h0m-30 1h0m2 0h0m6 0h0m16 0h0m7 0h0m-21 1h0m13 0h0m-20 1h0m10 0h0m7 0h0m-36 1h0m5 0h0m4 0h0m13 0h0m10 0h0m-31 1h0m17 0h0m1 0h0m2 0h0m3 1h0m-14 1h0m18 0h0m13 0h0m-40 1h0m2 0h0m5 0h0m5 0h0m27 0h0m-34 1h0m1 0h0m6 0h0m15 0h0m-34 1h0m33 0h0m-42 1h0m12 0h0m2 0h0m9 0h0m-13 1h0m18 0h0m2 0h0m2 0h0m4 0h0m6 0h0m-29 1h0m1 0h0m8 0h0m6 0h0m4 0h0m-13 1h0m16 1h0m3 0h0m-29 1h0m17 0h0m7 0h0m-12 1h0m2 0h0m2 0h0m1 0h0m17 0h0m-26 1h0m2 0h0m7 0h0m10 0h0m-39 1h0m17 0h0m1 0h0m10 0h0m4 0h0m-5 1h0m8 0h0m11 0h0m7 0h0m-44 1h0m1 0h0m13 0h0m22 1h0m-39 1h0m8 0h0m21 0h0m-20 1h0m1 0h0m3 0h0m4 0h0m1 0h0m2 0h0m2 0h0m-17 1h0m7 0h0m-11 1h0m19 0h0m-18 1h0m10 0h0m19 0h0m-26 1h0m1 0h0m6 0h0m-11 1h0m5 0h0m2 0h0m-4 1h0m16 0h0m1 0h0m-8 1h0m5 0h0m-8 1h0m47 3h0m-52 1h0m5 1h0m22 1h0m-26 2h0m6 0h0m34 4h0"/><path stroke="#a62098" stroke-opacity="0.75" d="M171 299h0m-7 7h0m-12 3h0m14 0h0m-18 2h0m8 0h0m9 0h0m-11 1h0m13 1h0m5 0h0m-4 1h0m-2 1h0m5 0h0m-2 1h0m3 2h0m-9 1h0m4 0h0m-21 1h0m11 0h0m9 0h0m1 1h0m1 0h0m8 0h0m-24 1h0m26 0h0m-11 1h0m-11 1h0m2 0h0m6 0h0m10 0h0m-35 1h0m22 0h0m15 0h0m-16 1h0m6 0h0m20 1h0m-48 1h0m13 1h0m4 0h0m20 0h0m-37 1h0m14 0h0m8 0h0m3 0h0m2 0h0m-13 1h0m12 0h0m-9 1h0m2 0h0m-18 1h0m17 1h0m6 0h0m16 0h0m-44 2h0m24 0h0m21 0h0m-22 3h0m-35 1h0m4 0h0m26 0h0m11 0h0m-47 1h0m28 0h0m-28 1h0m13 0h0m13 0h0m20 0h0m-41 1h0m15 0h0m4 0h0m30 0h0m-30 2h0m-9 1h0m10 1h0m-27 1h0m6 2h0m-21 1h0m24 3h0m-3 1h0m-31 1h0m25 0h0m28 0h0m-37 2h0m16 0h0m-8 1h0m19 0h0m-32 1h0m10 0h0m8 0h0m2 0h0m-31 1h0m7 0h0m12 0h0m17 0h0m-21 1h0m-6 1h0m10 0h0m28 0h0m-29 1h0m12 2h0m-3 1h0m-19 2h0m1 2h0m-11 2h0m24 2h0m16 0h0m-33 2h0m13 0h0m10 0h0m30 1h0m-47 1h0m-6 2h0m9 2h0m49 0h0m-12 11h0"/><path stroke="#5c01a6" stroke-opacity="1.0" d="M167 256h0m-7 16h0m-5 2h0m5 1h0m-7 1h0m11 3h0m-9 1h0m-17 1h0m5 2h0m17 0h0m-1 1h0m-3 1h0m0 2h0m-16 2h0m9 0h0m-3 2h0m12 3h0m2 0h0m-16 2h0m2 0h0m-8 3h0m4 2h0m6 1h0m7 0h0m-3 5h0m-11 1h0m5 2h0m-12 3h0m1 3h0m-2 1h0m2 0h0m15 0h0m-16 1h0m0 2h0m9 0h0m-6 1h0m-8 1h0m2 2h0m-64 1h0m45 1h0m30 0h0m-34 2h0m6 0h0m19 0h0m-69 1h0m47 0h0m-10 2h0m9 0h0m-56 2h0m57 0h0m-38 1h0m40 0h0m-3 2h0m-6 1h0m1 0h0m11 0h0m-11 1h0m1 0h0m4 1h0m0 1h0m-32 1h0m5 0h0m29 0h0m8 0h0m-46 1h0m5 0h0m33 0h0m-10 1h0m17 0h0m-22 1h0m11 0h0m5 0h0m1 0h0m-66 1h0m36 0h0m16 0h0m2 0h0m3 0h0m2 0h0m3 1h0m-14 1h0m0 2h0m21 0h0m-61 1h0m51 0h0m-9 1h0m23 0h0m11 0h0m-42 1h0m3 0h0m5 0h0m8 0h0m-13 1h0m2 0h0m29 0h0m-42 1h0m12 0h0m17 0h0m-53 1h0m37 0h0m1 0h0m22 0h0m-28 1h0m-5 1h0m43 0h0m-63 1h0m7 0h0m-8 1h0m13 0h0m14 0h0m-1 1h0m-5 2h0m4 1h0m-16 1h0m39 0h0m-12 2h0m1 0h0m2 0h0m-10 1h0m1 1h0m10 1h0m0 1h0m-29 1h0m4 0h0m4 0h0m1 0h0m-2 1h0m-15 1h0m4 0h0m10 0h0m-18 1h0m14 2h0m5 0h0m14 0h0m-22 1h0m15 0h0m9 0h0m19 0h0m-52 1h0m3 0h0m18 1h0m-7 1h0m8 0h0m-3 1h0m3 0h0m-19 1h0m5 1h0m12 0h0m4 0h0m-9 1h0m5 0h0m3 0h0m-19 1h0m5 0h0m-12 1h0m8 1h0m7 0h0m3 0h0m2 0h0m-14 1h0m6 0h0m1 0h0m1 0h0m9 0h0m-26 2h0m12 0h0m2 0h0m-9 1h0m-3 1h0m8 0h0m10 0h0m-15 1h0m5 0h0m18 0h0m-22 1h0m8 0h0m-4 1h0m6 0h0m1 0h0m2 0h0m-25 1h0m13 0h0m9 0h0m2 0h0m5 0h0m-15 1h0m0 1h0m3 0h0m1 0h0m-8 1h0m7 0h0m10 0h0m-10 2h0m10 0h0m-9 1h0m3 1h0m-8 1h0"/><path stroke="#f2844b" stroke-opacity="0.83" d="M111 288h0m8 4h0m-17 3h0m1 1h0m16 0h0m-4 4h0m8 1h0m46 2h0m-57 3h0m2 0h0m7 0h0m-10 1h0m2 1h0m-9 1h0m26 3h0m-28 1h0m10 0h0m1 2h0m1 0h0m3 0h0m1 1h0m-9 1h0m5 0h0m18 1h0m-27 1h0m17 0h0m-8 1h0m-10 1h0m14 0h0m-5 1h0m1 0h0m-5 1h0m2 0h0m-4 2h0m11 0h0m0 2h0m14 0h0m-22 3h0m19 0h0m-8 12h0m0 6h0m28 9h0m-33 3h0m5 44h0"/><path stroke="#5002a2" stroke-opacity="1.0" d="M161 259h0m-8 1h0m4 1h0m3 8h0m-2 1h0m2 0h0m1 3h0m-10 4h0m11 0h0m-1 1h0m4 2h0m-8 2h0m-9 1h0m-11 2h0m15 0h0m1 2h0m-1 4h0m-9 2h0m-9 1h0m6 2h0m6 0h0m-6 4h0m6 4h0m2 0h0m-4 4h0m-1 6h0m-4 2h0m-7 3h0m3 0h0m-5 1h0m0 2h0m-2 3h0m-2 1h0m-18 2h0m-18 3h0m-21 2h0m47 1h0m-16 1h0m22 1h0m-1 1h0m3 0h0m-25 1h0m11 0h0m-20 1h0m27 0h0m-24 1h0m12 1h0m16 1h0m-17 1h0m5 0h0m11 0h0m-16 1h0m0 3h0m-8 2h0m-12 1h0m21 1h0m27 0h0m-60 2h0m22 2h0m22 0h0m-16 1h0m6 1h0m-31 1h0m22 1h0m-9 1h0m21 0h0m27 0h0m-56 1h0m16 1h0m-23 1h0m14 0h0m16 0h0m8 0h0m3 0h0m-49 1h0m20 0h0m13 0h0m14 0h0m-13 1h0m6 1h0m-20 1h0m4 1h0m11 0h0m-17 1h0m25 0h0m-16 1h0m-18 2h0m-2 1h0m7 0h0m1 0h0m14 0h0m-20 1h0m14 0h0m-7 1h0m2 0h0m1 0h0m7 0h0m19 0h0m-34 1h0m11 0h0m-6 1h0m12 0h0m-17 1h0m-9 1h0m20 0h0m8 0h0m-21 1h0m8 0h0m14 0h0m-25 1h0m7 1h0m2 0h0m6 0h0m2 0h0m-16 1h0m23 0h0m-36 2h0m6 0h0m15 0h0m-13 1h0m5 0h0m8 0h0m8 0h0m5 0h0m-29 1h0m3 0h0m3 0h0m6 0h0m11 0h0m-32 1h0m22 0h0m6 0h0m2 0h0m1 0h0m-24 1h0m1 0h0m6 0h0m17 1h0m-20 1h0m4 0h0m2 1h0m5 0h0m-14 1h0m10 0h0m1 0h0m10 0h0m-29 1h0m6 0h0m7 0h0m4 0h0m7 0h0m-21 1h0m2 0h0m4 1h0m4 0h0m-11 1h0m8 0h0m7 0h0m4 0h0m2 1h0m-11 1h0m3 0h0m-8 1h0m1 0h0m3 0h0m6 0h0m-13 1h0m2 0h0m3 0h0m1 0h0m3 0h0m4 0h0m-10 1h0m13 0h0m-14 1h0m-1 2h0m0 1h0m5 0h0m1 0h0m2 1h0m-10 1h0"/><path stroke="#b12a90" stroke-opacity="0.75" d="M104 299h0m67 4h0m-15 3h0m4 4h0m5 1h0m5 0h0m10 0h0m-10 1h0m-19 1h0m9 0h0m-5 1h0m11 0h0m1 0h0m0 1h0m-18 1h0m11 0h0m4 0h0m8 0h0m3 0h0m0 2h0m-19 1h0m8 0h0m2 0h0m-5 2h0m8 0h0m4 1h0m-31 1h0m19 0h0m2 0h0m-15 1h0m11 0h0m-4 1h0m6 0h0m4 0h0m1 0h0m4 0h0m-6 1h0m-37 1h0m40 0h0m-20 1h0m7 0h0m6 0h0m-22 1h0m11 0h0m14 0h0m8 0h0m-22 1h0m5 0h0m27 0h0m-49 1h0m30 0h0m16 0h0m-75 2h0m48 0h0m-15 1h0m15 0h0m3 0h0m1 0h0m37 0h0m-60 1h0m-5 1h0m19 0h0m2 0h0m18 0h0m-29 1h0m9 0h0m6 1h0m11 0h0m-35 1h0m3 0h0m5 0h0m9 0h0m-31 1h0m1 0h0m22 0h0m3 0h0m2 0h0m15 0h0m-31 1h0m7 0h0m13 0h0m4 0h0m14 0h0m-31 1h0m-2 1h0m2 0h0m1 0h0m17 0h0m-43 1h0m17 0h0m16 0h0m-31 1h0m14 0h0m15 0h0m18 0h0m-46 3h0m22 0h0m-25 1h0m6 0h0m6 0h0m10 0h0m10 0h0m3 0h0m38 0h0m-63 1h0m28 0h0m-25 1h0m1 0h0m-14 1h0m10 0h0m15 0h0m-24 1h0m6 0h0m20 0h0m13 0h0m-41 1h0m-1 1h0m-3 1h0m2 0h0m51 0h0m-41 1h0m-7 1h0m-10 1h0m3 0h0m8 0h0m17 0h0m1 0h0m-32 1h0m29 0h0m23 0h0m-48 1h0m15 0h0m-14 1h0m10 0h0m7 0h0m15 0h0m-29 2h0m11 0h0m-1 1h0m18 0h0m-24 1h0m11 0h0m1 0h0m-19 1h0m8 1h0m11 0h0m-15 1h0m-1 1h0m6 0h0m-7 2h0m2 0h0m14 0h0m-23 1h0m1 0h0m7 0h0m1 0h0m3 0h0m-14 1h0m11 0h0m-12 2h0m9 1h0m5 0h0m0 1h0m-3 1h0m2 3h0m27 10h0m1 9h0m-18 10h0"/><path stroke="#330597" stroke-opacity="1.0" d="M157 281h0m-14 15h0m-11 17h0m9 2h0m3 5h0m-44 13h0m5 13h0m-44 4h0m37 10h0m-13 1h0m17 0h0m-4 2h0m-15 11h0m2 0h0m2 2h0m0 1h0m-2 3h0m-19 3h0m22 1h0m-36 1h0m30 0h0m-15 1h0m1 0h0m2 0h0m17 0h0m-17 1h0m2 0h0m9 0h0m-24 1h0m6 0h0m13 0h0m-13 1h0m24 0h0m-16 1h0m15 0h0m-29 1h0m9 0h0m10 0h0m-25 1h0m7 0h0m2 0h0m8 0h0m-1 1h0m-13 1h0m30 0h0m-18 1h0m5 0h0m-6 1h0m3 0h0m10 0h0m1 0h0m1 0h0m-21 1h0m2 0h0m3 0h0m8 0h0m0 1h0m-4 2h0m1 1h0m7 0h0m-16 1h0m2 0h0m8 1h0m-8 1h0m-2 1h0m6 0h0m-8 2h0m18 2h0m-6 1h0m-6 1h0"/><path stroke="#fa9b3d" stroke-opacity="0.92" d="M105 285h0m-6 4h0m1 1h0m-15 1h0m4 2h0m29 1h0m-4 8h0m5 3h0m-19 5h0m29 0h0m-6 1h0m-31 1h0m15 0h0m7 1h0m6 0h0m-14 1h0m2 0h0m8 1h0m5 0h0m0 2h0m-7 1h0m-4 1h0m6 0h0m-11 1h0m5 0h0m22 0h0m-25 1h0m3 0h0m10 0h0m-28 1h0m10 0h0m3 0h0m-5 1h0m13 0h0m7 0h0m-18 1h0m4 0h0m1 0h0m5 0h0m-26 1h0m22 0h0m3 0h0m-9 1h0m16 0h0m-19 2h0m4 0h0m18 0h0m-27 1h0m14 0h0m5 0h0m-16 1h0m1 1h0m4 4h0"/><path stroke="#ba3388" stroke-opacity="0.75" d="M87 295h0m78 7h0m-15 3h0m0 1h0m16 0h0m-8 1h0m10 1h0m2 1h0m1 0h0m3 0h0m-20 1h0m-11 1h0m30 0h0m-15 1h0m15 0h0m-11 1h0m0 1h0m13 0h0m-12 1h0m10 0h0m4 0h0m-22 1h0m-22 1h0m27 0h0m-8 1h0m-16 1h0m8 0h0m10 0h0m5 0h0m3 0h0m3 0h0m-36 1h0m19 0h0m4 0h0m14 0h0m-14 1h0m6 0h0m4 0h0m20 0h0m-26 1h0m-29 1h0m9 0h0m10 0h0m12 0h0m1 0h0m3 0h0m1 0h0m-18 1h0m21 0h0m-6 1h0m-12 1h0m17 0h0m-18 1h0m12 0h0m2 0h0m3 0h0m12 0h0m-53 1h0m18 0h0m14 0h0m1 0h0m-68 1h0m70 0h0m13 0h0m-28 1h0m5 0h0m3 0h0m4 0h0m11 0h0m-10 1h0m3 0h0m2 0h0m3 0h0m5 0h0m11 0h0m-30 1h0m6 0h0m20 0h0m-17 1h0m9 0h0m-25 1h0m13 0h0m19 0h0m-40 1h0m4 0h0m5 0h0m8 0h0m-31 1h0m21 0h0m5 0h0m7 0h0m5 0h0m4 0h0m-34 1h0m9 0h0m11 0h0m-4 1h0m7 0h0m-18 1h0m23 0h0m18 0h0m-46 1h0m1 0h0m7 0h0m4 0h0m4 0h0m2 0h0m-28 1h0m4 0h0m12 0h0m9 0h0m3 0h0m21 0h0m-37 1h0m12 0h0m1 0h0m23 0h0m3 0h0m-23 1h0m-2 1h0m1 0h0m-27 1h0m8 0h0m0 1h0m14 0h0m-19 1h0m9 0h0m12 0h0m-28 1h0m6 0h0m18 0h0m5 0h0m9 0h0m-42 1h0m14 0h0m19 0h0m-26 1h0m8 0h0m4 0h0m4 0h0m-12 1h0m2 0h0m-2 1h0m14 0h0m21 0h0m-40 1h0m-12 1h0m6 0h0m11 1h0m16 0h0m-31 1h0m6 0h0m16 1h0m11 0h0m11 0h0m-29 1h0m1 0h0m-15 1h0m18 0h0m-29 1h0m3 0h0m18 0h0m7 0h0m11 0h0m-39 1h0m5 0h0m11 0h0m3 0h0m1 0h0m4 0h0m-20 1h0m1 0h0m12 0h0m-4 1h0m1 0h0m1 0h0m7 0h0m-24 1h0m1 0h0m24 0h0m4 0h0m-32 1h0m8 0h0m1 0h0m26 0h0m9 0h0m3 0h0m-46 1h0m22 0h0m-18 1h0m-4 1h0m5 0h0m15 0h0m2 0h0m3 0h0m-27 1h0m6 1h0m3 0h0m5 0h0m1 0h0m1 0h0m-10 1h0m2 0h0m13 1h0m-2 1h0m12 0h0m-29 1h0m17 0h0m1 0h0m-7 1h0m-13 1h0m16 0h0m-4 1h0m10 0h0m-12 1h0m5 2h0m-8 3h0m53 1h0m17 0h0m-15 4h0m-25 19h0"/><path stroke="#fca636" stroke-opacity="0.92" d="M113 285h0m-4 7h0m6 0h0m-4 2h0m3 7h0m-1 3h0m-4 1h0m-11 1h0m9 3h0m4 2h0m2 0h0m9 0h0m-14 1h0m5 1h0m-11 1h0m6 3h0m2 1h0m5 0h0m1 1h0m-24 1h0m2 0h0m11 0h0m-3 1h0m5 0h0m7 0h0m5 1h0m-16 1h0m6 0h0m-5 1h0m8 0h0m7 0h0m-17 1h0m-13 1h0m11 1h0m2 0h0m2 0h0m4 0h0m2 1h0m4 1h0m-1 1h0m10 0h0m6 0h0m-29 1h0m2 1h0m10 1h0m-16 2h0m14 0h0m-14 1h0"/><path stroke="#7701a8" stroke-opacity="0.94" d="M178 264h0m-23 4h0m1 1h0m7 0h0m-8 2h0m7 0h0m-1 1h0m-3 1h0m-11 1h0m8 0h0m-2 3h0m2 2h0m-1 5h0m2 2h0m-8 1h0m0 1h0m3 1h0m-7 5h0m-11 1h0m2 5h0m12 1h0m-16 2h0m11 0h0m1 0h0m5 0h0m2 0h0m-14 2h0m10 1h0m-7 1h0m2 1h0m-4 1h0m0 1h0m-1 1h0m0 1h0m3 0h0m-11 2h0m6 2h0m4 1h0m-8 2h0m7 0h0m-4 2h0m-6 2h0m-6 1h0m8 0h0m-68 1h0m4 0h0m45 4h0m-53 1h0m55 1h0m14 0h0m-59 3h0m44 0h0m1 0h0m3 0h0m-58 4h0m45 0h0m15 0h0m-5 1h0m-72 1h0m85 0h0m5 0h0m-27 3h0m5 0h0m4 0h0m11 0h0m-70 1h0m27 0h0m25 0h0m1 0h0m-9 1h0m30 0h0m-60 1h0m43 0h0m11 0h0m-2 1h0m3 0h0m-26 1h0m23 0h0m-19 1h0m2 0h0m11 0h0m1 0h0m-13 2h0m2 0h0m-54 1h0m27 0h0m12 0h0m6 1h0m20 0h0m-49 1h0m9 0h0m17 0h0m5 0h0m29 0h0m-41 1h0m20 0h0m4 0h0m-21 1h0m5 0h0m0 1h0m9 0h0m3 0h0m2 0h0m-14 1h0m5 1h0m2 0h0m-12 1h0m37 0h0m-43 1h0m21 1h0m-19 1h0m28 0h0m1 0h0m-14 2h0m3 0h0m22 0h0m-14 1h0m4 0h0m-62 1h0m44 0h0m-11 1h0m-18 1h0m28 0h0m-17 1h0m1 1h0m5 0h0m15 0h0m-9 1h0m11 0h0m2 0h0m-19 1h0m-25 1h0m24 0h0m-17 2h0m3 0h0m22 0h0m11 0h0m-37 2h0m16 0h0m5 0h0m21 0h0m-26 1h0m-4 1h0m11 1h0m-2 1h0m-6 1h0m3 2h0m-4 1h0m-2 1h0m-16 2h0m17 2h0m-4 1h0m16 0h0m-23 7h0m-2 5h0"/><path stroke="#8f0da4" stroke-opacity="0.81" d="M166 265h0m6 7h0m-11 3h0m-52 7h0m46 5h0m-20 27h0m1 3h0m32 0h0m-61 3h0m54 0h0m8 1h0m-7 1h0m-2 1h0m2 0h0m-68 1h0m58 2h0m17 3h0m-74 1h0m7 1h0m3 3h0m16 0h0m33 0h0m-101 3h0m46 0h0m-67 2h0m74 0h0m8 2h0m15 2h0m-35 1h0m55 0h0m-42 5h0m-3 1h0m13 0h0m-27 2h0m15 3h0m-18 1h0m49 2h0m1 0h0m10 0h0m-46 2h0m6 0h0m-15 1h0m32 0h0m-62 1h0m16 1h0m16 0h0m3 0h0m1 0h0m-23 1h0m25 1h0m1 2h0m7 0h0m5 3h0m-11 3h0m-2 1h0m6 1h0m-22 5h0m-11 3h0m36 1h0m23 6h0"/><path stroke="#fcce25" stroke-opacity="0.92" d="M102 295h0m7 7h0m-2 10h0m3 5h0m-11 3h0m4 2h0m24 0h0m-29 3h0m11 2h0m1 2h0m-15 1h0m14 1h0m-8 4h0"/><path stroke="#9c179e" stroke-opacity="0.75" d="M150 269h0m-4 26h0m17 14h0m-10 1h0m8 0h0m4 1h0m10 3h0m-18 1h0m3 0h0m-6 2h0m16 0h0m4 1h0m-18 1h0m17 0h0m-15 1h0m1 1h0m3 0h0m3 0h0m7 2h0m-46 1h0m44 0h0m-19 1h0m24 1h0m-17 1h0m15 0h0m-17 1h0m10 0h0m-2 1h0m-124 2h0m131 0h0m-79 3h0m67 2h0m4 3h0m-34 2h0m2 0h0m10 0h0m-23 1h0m6 1h0m14 0h0m-3 3h0m7 0h0m-45 1h0m16 2h0m13 0h0m5 0h0m5 0h0m-12 3h0m2 0h0m-30 2h0m25 0h0m-10 1h0m3 3h0m-6 1h0m-16 2h0m13 1h0m10 1h0m-31 2h0m1 1h0m20 0h0m5 1h0m12 1h0m-26 5h0m0 1h0m8 0h0m9 0h0m-7 2h0m-6 3h0m-7 6h0m61 2h0m-21 1h0"/><path stroke="#6a00a8" stroke-opacity="1.0" d="M161 261h0m-7 3h0m-2 5h0m10 1h0m-8 3h0m11 0h0m-10 2h0m-9 3h0m13 0h0m-8 1h0m10 1h0m-13 4h0m3 0h0m4 1h0m1 1h0m-6 2h0m3 0h0m12 0h0m-26 1h0m6 1h0m4 0h0m-2 2h0m1 0h0m1 1h0m-6 1h0m6 0h0m5 0h0m-9 3h0m5 2h0m6 0h0m-21 1h0m17 0h0m-19 1h0m18 1h0m-3 2h0m-4 1h0m-11 2h0m15 0h0m-18 1h0m11 0h0m-3 3h0m-4 1h0m1 1h0m9 2h0m-3 1h0m-8 1h0m-74 1h0m71 0h0m3 0h0m-2 1h0m-20 2h0m20 0h0m-71 3h0m12 1h0m57 0h0m6 0h0m9 0h0m-2 1h0m5 0h0m-12 2h0m-14 1h0m8 0h0m9 0h0m-34 1h0m10 1h0m3 0h0m7 0h0m-26 1h0m17 2h0m11 0h0m7 1h0m-21 1h0m39 0h0m-40 1h0m-15 1h0m3 0h0m8 0h0m22 1h0m-80 1h0m43 0h0m4 0h0m15 0h0m-10 1h0m19 0h0m3 0h0m-7 1h0m1 0h0m-63 1h0m0 1h0m20 0h0m27 0h0m17 0h0m-8 1h0m7 0h0m7 0h0m-27 1h0m6 0h0m7 0h0m7 0h0m-2 1h0m-13 1h0m3 0h0m-17 1h0m-38 1h0m6 1h0m54 0h0m2 0h0m-4 1h0m1 0h0m9 0h0m-50 1h0m45 0h0m-33 1h0m26 0h0m-22 1h0m12 0h0m14 0h0m-31 1h0m21 0h0m11 1h0m-19 1h0m19 0h0m-4 2h0m2 0h0m14 0h0m-54 1h0m14 0h0m28 0h0m2 0h0m-19 1h0m1 0h0m6 0h0m12 0h0m-21 1h0m15 0h0m18 1h0m-36 1h0m6 0h0m-9 1h0m11 0h0m9 0h0m-2 1h0m1 0h0m-25 1h0m5 0h0m6 0h0m1 0h0m6 0h0m-15 1h0m5 0h0m5 1h0m-7 1h0m6 0h0m5 0h0m-48 1h0m34 0h0m19 0h0m2 0h0m-23 1h0m2 0h0m-20 1h0m14 2h0m11 0h0m1 0h0m7 0h0m-12 1h0m9 0h0m-27 1h0m4 0h0m28 0h0m-26 1h0m18 0h0m-23 1h0m6 0h0m4 0h0m5 0h0m7 0h0m2 0h0m1 0h0m-21 1h0m6 0h0m13 0h0m-9 1h0m7 0h0m-26 1h0m6 0h0m9 0h0m8 0h0m-4 2h0m-6 1h0m12 0h0m3 1h0m-25 2h0m6 1h0m4 0h0m2 0h0m1 0h0m-26 1h0m17 0h0m4 0h0m15 0h0m-33 2h0m7 1h0m2 0h0m6 0h0m2 0h0m-8 1h0m13 0h0m-9 1h0m-3 1h0m7 1h0m-8 1h0m8 0h0m-11 1h0m6 0h0m13 0h0m-32 2h0m64 3h0"/><path stroke="#220690" stroke-opacity="1.0" d="M145 312h0m-56 52h0m11 5h0m-22 8h0m5 0h0m5 3h0m-35 3h0m32 1h0m7 0h0m-14 1h0m-8 1h0m6 0h0m-17 2h0m8 1h0m12 2h0m-13 1h0m6 0h0m3 0h0m1 0h0m-17 1h0m6 0h0m3 0h0m9 0h0m-19 1h0m14 1h0m-3 2h0m3 0h0m-15 2h0m17 0h0m-9 1h0m6 0h0m10 1h0m-23 1h0m11 0h0m-5 1h0m3 3h0m-8 1h0m12 1h0m2 0h0"/><path stroke="#fec029" stroke-opacity="0.92" d="M122 282h0m-10 5h0m7 2h0m-19 22h0m7 1h0m-20 2h0m19 0h0m-6 1h0m15 3h0m-14 2h0m20 0h0m-7 2h0m-18 1h0m29 0h0m-32 2h0m11 0h0m8 0h0m-9 1h0m6 0h0m-16 2h0m14 0h0m-8 1h0m6 0h0m-14 1h0m15 0h0m11 0h0m-16 1h0m-3 1h0m11 1h0m-8 2h0m2 0h0m0 3h0m-13 4h0"/><path stroke="#d35171" stroke-opacity="0.75" d="M111 288h0m1 5h0m54 7h0m-14 2h0m14 4h0m-14 2h0m5 2h0m5 0h0m-6 2h0m8 0h0m11 0h0m-21 1h0m10 0h0m5 0h0m-7 1h0m-3 1h0m-3 1h0m5 0h0m5 0h0m2 0h0m-16 1h0m6 0h0m4 0h0m3 1h0m-2 1h0m2 0h0m-20 1h0m9 0h0m14 0h0m-26 1h0m2 0h0m27 0h0m6 0h0m-27 1h0m13 0h0m-43 1h0m35 0h0m7 0h0m9 0h0m4 0h0m-40 1h0m22 0h0m2 0h0m3 0h0m6 0h0m11 0h0m-47 1h0m-2 2h0m12 0h0m6 0h0m-14 1h0m22 0h0m-24 1h0m20 0h0m4 0h0m7 0h0m1 0h0m8 0h0m-35 1h0m8 0h0m2 0h0m3 0h0m22 0h0m-47 1h0m10 0h0m15 0h0m13 0h0m-20 1h0m3 0h0m31 0h0m-28 1h0m1 0h0m15 0h0m-35 1h0m5 0h0m2 0h0m5 0h0m5 0h0m13 0h0m16 0h0m-50 1h0m12 0h0m7 0h0m7 0h0m-35 1h0m5 0h0m8 0h0m6 0h0m19 0h0m1 0h0m-23 1h0m2 0h0m8 0h0m11 0h0m2 0h0m4 0h0m-23 1h0m7 0h0m3 0h0m4 0h0m6 0h0m4 0h0m-28 1h0m9 0h0m-22 1h0m14 0h0m5 0h0m4 0h0m18 0h0m-40 1h0m6 0h0m2 0h0m9 0h0m2 0h0m3 0h0m8 0h0m15 0h0m-39 1h0m13 0h0m2 0h0m11 0h0m10 0h0m-43 1h0m4 0h0m3 0h0m2 0h0m1 0h0m1 0h0m5 0h0m2 0h0m3 0h0m35 0h0m-50 1h0m4 0h0m1 0h0m17 0h0m-21 1h0m5 0h0m-19 1h0m16 0h0m2 0h0m20 0h0m3 0h0m6 0h0m-41 1h0m3 0h0m8 0h0m6 0h0m-14 1h0m6 0h0m8 0h0m2 0h0m1 0h0m5 0h0m-55 1h0m32 0h0m12 0h0m-4 1h0m-7 1h0m1 0h0m4 0h0m3 0h0m4 0h0m15 0h0m7 0h0m-50 1h0m12 0h0m22 1h0m-28 1h0m19 0h0m-26 1h0m32 0h0m7 0h0m-28 1h0m18 0h0m6 0h0m-6 1h0m-22 1h0m5 0h0m8 0h0m-27 1h0m8 0h0m-14 1h0m17 0h0m5 0h0m13 0h0m3 0h0m3 0h0m-17 1h0m3 0h0m4 0h0m-9 1h0m3 0h0m5 0h0m7 0h0m-32 1h0m2 0h0m11 0h0m8 0h0m3 0h0m3 0h0m-10 1h0m3 0h0m3 0h0m8 0h0m-22 1h0m13 0h0m3 0h0m12 0h0m-40 1h0m9 0h0m15 0h0m3 0h0m-31 1h0m6 0h0m5 0h0m3 0h0m1 0h0m8 0h0m7 0h0m14 0h0m-19 1h0m17 0h0m1 0h0m-20 1h0m18 0h0m-36 1h0m8 0h0m6 0h0m6 0h0m-13 1h0m-9 1h0m1 0h0m12 0h0m12 0h0m-19 1h0m25 0h0m-23 1h0m17 0h0m1 0h0m-22 1h0m6 0h0m7 1h0m1 1h0m-4 1h0m-12 1h0m1 1h0m10 2h0m-1 4h0m0 1h0"/><path stroke="#f9dc24" stroke-opacity="0.92" d="M113 318h0m-22 4h0m21 2h0m-28 1h0m26 0h0m-20 6h0m11 0h0m-7 6h0m-12 3h0"/><path stroke="#e76f5a" stroke-opacity="0.75" d="M101 285h0m12 5h0m7 6h0m-29 4h0m20 0h0m-1 1h0m31 1h0m-27 2h0m-17 1h0m11 2h0m8 0h0m4 0h0m-8 5h0m55 0h0m-65 1h0m-14 2h0m25 0h0m5 0h0m49 0h0m11 1h0m-76 2h0m1 3h0m68 0h0m-15 2h0m12 0h0m-22 3h0m20 1h0m-30 2h0m4 0h0m-19 3h0m16 0h0m3 1h0m1 0h0m7 1h0m4 0h0m-35 1h0m25 0h0m-3 1h0m11 0h0m-12 1h0m9 0h0m-34 1h0m15 0h0m-6 1h0m4 0h0m10 0h0m7 2h0m9 0h0m1 0h0m-20 3h0m8 0h0m-15 1h0m7 0h0m-16 1h0m-8 1h0m15 0h0m3 0h0m1 0h0m26 0h0m-19 1h0m9 1h0m-31 1h0m21 1h0m-11 2h0m-1 1h0m-22 1h0m26 0h0m-21 3h0m4 0h0m16 1h0m3 0h0m-7 1h0m4 0h0m-17 1h0m2 0h0m14 1h0m-4 1h0m4 0h0m-19 3h0m14 0h0m-7 3h0m-3 2h0m13 3h0m-28 1h0m4 1h0m15 0h0m-6 1h0m-2 3h0m-3 5h0"/><path stroke="#e16462" stroke-opacity="0.75" d="M144 305h0m17 0h0m-70 1h0m64 0h0m-28 4h0m33 0h0m5 0h0m14 1h0m-48 1h0m39 1h0m2 0h0m-52 5h0m45 1h0m-45 1h0m45 0h0m5 0h0m6 0h0m-72 1h0m40 0h0m-32 1h0m3 0h0m19 0h0m7 0h0m9 0h0m2 1h0m3 0h0m1 0h0m9 0h0m-16 1h0m-11 1h0m21 1h0m-29 2h0m5 0h0m-11 1h0m15 0h0m5 0h0m13 0h0m1 0h0m-24 1h0m23 0h0m9 0h0m-36 1h0m11 0h0m12 0h0m18 0h0m-49 1h0m4 0h0m9 0h0m26 0h0m-24 1h0m-4 1h0m1 0h0m6 0h0m14 0h0m6 1h0m9 0h0m-35 1h0m3 0h0m7 0h0m15 0h0m-31 1h0m11 0h0m13 0h0m-31 1h0m22 0h0m25 0h0m-30 1h0m8 0h0m-25 1h0m10 0h0m14 0h0m1 0h0m-29 1h0m4 0h0m33 0h0m-29 3h0m1 0h0m5 0h0m16 0h0m-30 1h0m4 0h0m3 0h0m1 0h0m7 0h0m11 0h0m-28 1h0m1 1h0m13 0h0m6 0h0m13 0h0m-20 1h0m23 0h0m-3 1h0m2 0h0m-26 1h0m4 0h0m2 0h0m-30 1h0m31 0h0m9 0h0m0 1h0m-16 1h0m17 0h0m-22 1h0m3 0h0m3 0h0m15 0h0m-48 1h0m50 0h0m-10 1h0m-68 1h0m41 0h0m12 2h0m-18 1h0m15 0h0m15 0h0m-11 3h0m-28 2h0m18 0h0m-4 1h0m-45 1h0m48 0h0m8 1h0m-18 1h0m9 7h0m4 0h0m2 2h0m-13 2h0m38 10h0"/><path stroke="#000000" d="M138 335h0m4 0h0m-23 2h0m-6 2h0m1 0h0m54 0h0m-28 1h0m32 0h0m-61 1h0m45 0h0m6 0h0m8 1h0m-5 3h0m6 0h0m4 0h0m2 0h0m-11 1h0m-48 1h0m30 0h0m15 0h0m7 0h0m3 0h0m3 0h0m-14 1h0m14 0h0m-25 1h0m14 0h0m1 0h0m3 0h0m2 0h0m3 0h0m-39 1h0m20 0h0m3 0h0m1 0h0m8 0h0m2 0h0m-68 1h0m16 0h0m34 0h0m1 0h0m5 0h0m1 0h0m3 0h0m5 0h0m1 0h0m4 0h0m1 0h0m1 0h0m1 0h0m1 0h0m3 0h0m1 0h0m-39 1h0m13 0h0m5 0h0m1 0h0m6 0h0m2 0h0m2 0h0m1 0h0m2 0h0m1 0h0m1 0h0m1 0h0m2 0h0m-34 1h0m3 0h0m13 0h0m5 0h0m1 0h0m4 0h0m1 0h0m3 0h0m1 0h0m1 0h0m1 0h0m1 0h0m-50 1h0m4 0h0m20 0h0m1 0h0m5 0h0m6 0h0m2 0h0m1 0h0m1 0h0m1 0h0m2 0h0m1 0h0m1 0h0m1 0h0m1 0h0m-46 1h0m15 0h0m2 0h0m3 0h0m1 0h0m1 0h0m1 0h0m2 0h0m3 0h0m2 0h0m3 0h0m1 0h0m1 0h0m1 0h0m1 0h0m3 0h0m1 0h0m1 0h0m1 0h0m2 0h0m1 0h0m1 0h0m2 0h0m2 0h0m-52 1h0m12 0h0m11 0h0m2 0h0m1 0h0m5 0h0m1 0h0m2 0h0m1 0h0m1 0h0m1 0h0m1 0h0m1 0h0m1 0h0m2 0h0m1 0h0m1 0h0m2 0h0m2 0h0m2 0h0m-54 1h0m6 0h0m7 0h0m5 0h0m1 0h0m4 0h0m4 0h0m3 0h0m6 0h0m1 0h0m1 0h0m1 0h0m1 0h0m1 0h0m1 0h0m1 0h0m1 0h0m1 0h0m1 0h0m1 0h0m2 0h0m1 0h0m4 0h0m5 0h0m-45 1h0m10 0h0m3 0h0m1 0h0m2 0h0m3 0h0m2 0h0m1 0h0m2 0h0m1 0h0m2 0h0m1 0h0m1 0h0m1 0h0m1 0h0m1 0h0m1 0h0m1 0h0m1 0h0m2 0h0m1 0h0m1 0h0m1 0h0m1 0h0m3 0h0m-43 1h0m2 0h0m2 0h0m2 0h0m9 0h0m2 0h0m2 0h0m1 0h0m1 0h0m1 0h0m1 0h0m1 0h0m2 0h0m2 0h0m1 0h0m1 0h0m1 0h0m1 0h0m1 0h0m1 0h0m1 0h0m1 0h0m1 0h0m2 0h0m1 0h0m-54 1h0m14 0h0m7 0h0m1 0h0m4 0h0m1 0h0m1 0h0m1 0h0m1 0h0m1 0h0m1 0h0m1 0h0m1 0h0m1 0h0m1 0h0m2 0h0m1 0h0m1 0h0m1 0h0m4 0h0m1 0h0m1 0h0m1 0h0m1 0h0m1 0h0m2 0h0m-88 1h0m33 0h0m14 0h0m4 0h0m2 0h0m2 0h0m4 0h0m2 0h0m1 0h0m1 0h0m1 0h0m1 0h0m1 0h0m1 0h0m1 0h0m1 0h0m2 0h0m2 0h0m2 0h0m2 0h0m1 0h0m1 0h0m1 0h0m2 0h0m1 0h0m1 0h0m2 0h0m2 0h0m2 0h0m-47 1h0m4 0h0m1 0h0m8 0h0m4 0h0m1 0h0m2 0h0m1 0h0m1 0h0m1 0h0m1 0h0m2 0h0m1 0h0m1 0h0m1 0h0m1 0h0m2 0h0m1 0h0m1 0h0m2 0h0m1 0h0m1 0h0m2 0h0m1 0h0m4 0h0m-55 1h0m13 0h0m1 0h0m3 0h0m1 0h0m1 0h0m2 0h0m2 0h0m2 0h0m4 0h0m1 0h0m1 0h0m1 0h0m2 0h0m1 0h0m1 0h0m1 0h0m1 0h0m1 0h0m1 0h0m1 0h0m1 0h0m2 0h0m1 0h0m1 0h0m1 0h0m1 0h0m1 0h0m1 0h0m1 0h0m1 0h0m2 0h0m1 0h0m1 0h0m-75 1h0m14 0h0m14 0h0m8 0h0m2 0h0m1 0h0m1 0h0m1 0h0m1 0h0m1 0h0m1 0h0m3 0h0m1 0h0m1 0h0m1 0h0m1 0h0m2 0h0m1 0h0m1 0h0m1 0h0m2 0h0m1 0h0m2 0h0m1 0h0m1 0h0m1 0h0m1 0h0m2 0h0m4 0h0m2 0h0m2 0h0m-62 1h0m1 0h0m3 0h0m15 0h0m1 0h0m1 0h0m2 0h0m1 0h0m5 0h0m2 0h0m1 0h0m2 0h0m1 0h0m1 0h0m1 0h0m1 0h0m1 0h0m1 0h0m1 0h0m1 0h0m1 0h0m2 0h0m2 0h0m1 0h0m1 0h0m3 0h0m5 0h0m1 0h0m7 0h0m-47 1h0m2 0h0m1 0h0m2 0h0m2 0h0m3 0h0m2 0h0m1 0h0m1 0h0m1 0h0m3 0h0m3 0h0m1 0h0m1 0h0m2 0h0m2 0h0m2 0h0m1 0h0m1 0h0m1 0h0m3 0h0m1 0h0m5 0h0m-70 1h0m20 0h0m4 0h0m2 0h0m5 0h0m1 0h0m1 0h0m1 0h0m1 0h0m1 0h0m3 0h0m1 0h0m1 0h0m2 0h0m1 0h0m1 0h0m1 0h0m1 0h0m3 0h0m1 0h0m2 0h0m1 0h0m1 0h0m1 0h0m1 0h0m1 0h0m2 0h0m1 0h0m1 0h0m2 0h0m2 0h0m1 0h0m-92 1h0m34 0h0m2 0h0m6 0h0m2 0h0m7 0h0m1 0h0m4 0h0m2 0h0m1 0h0m1 0h0m1 0h0m1 0h0m1 0h0m1 0h0m1 0h0m1 0h0m1 0h0m1 0h0m2 0h0m1 0h0m1 0h0m1 0h0m1 0h0m1 0h0m1 0h0m1 0h0m1 0h0m1 0h0m1 0h0m2 0h0m2 0h0m3 0h0m1 0h0m6 0h0m-52 1h0m6 0h0m2 0h0m1 0h0m3 0h0m1 0h0m1 0h0m1 0h0m1 0h0m1 0h0m1 0h0m1 0h0m1 0h0m2 0h0m1 0h0m1 0h0m2 0h0m1 0h0m1 0h0m1 0h0m1 0h0m1 0h0m2 0h0m3 0h0m1 0h0m2 0h0m1 0h0m2 0h0m19 0h0m-63 1h0m3 0h0m3 0h0m4 0h0m2 0h0m1 0h0m1 0h0m2 0h0m1 0h0m1 0h0m1 0h0m1 0h0m1 0h0m1 0h0m2 0h0m1 0h0m1 0h0m1 0h0m1 0h0m3 0h0m1 0h0m2 0h0m1 0h0m3 0h0m1 0h0m1 0h0m5 0h0m3 0h0m2 0h0m2 0h0m-99 1h0m28 0h0m10 0h0m5 0h0m3 0h0m4 0h0m3 0h0m1 0h0m2 0h0m1 0h0m4 0h0m3 0h0m2 0h0m1 0h0m1 0h0m2 0h0m1 0h0m1 0h0m1 0h0m1 0h0m3 0h0m1 0h0m1 0h0m3 0h0m1 0h0m2 0h0m1 0h0m3 0h0m1 0h0m1 0h0m1 0h0m5 0h0m-62 1h0m7 0h0m1 0h0m4 0h0m1 0h0m2 0h0m1 0h0m1 0h0m1 0h0m2 0h0m1 0h0m1 0h0m2 0h0m1 0h0m1 0h0m2 0h0m1 0h0m1 0h0m2 0h0m1 0h0m1 0h0m1 0h0m1 0h0m2 0h0m1 0h0m2 0h0m1 0h0m1 0h0m1 0h0m4 0h0m2 0h0m1 0h0m4 0h0m-76 1h0m24 0h0m3 0h0m3 0h0m3 0h0m4 0h0m1 0h0m2 0h0m1 0h0m1 0h0m2 0h0m1 0h0m5 0h0m1 0h0m1 0h0m2 0h0m3 0h0m2 0h0m1 0h0m1 0h0m1 0h0m2 0h0m2 0h0m2 0h0m2 0h0m1 0h0m2 0h0m2 0h0m1 0h0m-68 1h0m12 0h0m6 0h0m9 0h0m1 0h0m1 0h0m1 0h0m2 0h0m1 0h0m2 0h0m1 0h0m1 0h0m2 0h0m1 0h0m1 0h0m1 0h0m1 0h0m1 0h0m2 0h0m1 0h0m1 0h0m1 0h0m1 0h0m2 0h0m1 0h0m1 0h0m7 0h0m3 0h0m6 0h0m2 0h0m-78 1h0m16 0h0m8 0h0m1 0h0m2 0h0m4 0h0m1 0h0m1 0h0m1 0h0m2 0h0m1 0h0m2 0h0m1 0h0m1 0h0m2 0h0m3 0h0m1 0h0m1 0h0m1 0h0m2 0h0m1 0h0m1 0h0m1 0h0m2 0h0m1 0h0m2 0h0m2 0h0m1 0h0m2 0h0m1 0h0m1 0h0m2 0h0m3 0h0m-76 1h0m10 0h0m7 0h0m1 0h0m1 0h0m6 0h0m5 0h0m1 0h0m1 0h0m4 0h0m2 0h0m1 0h0m1 0h0m2 0h0m2 0h0m1 0h0m2 0h0m3 0h0m1 0h0m2 0h0m1 0h0m1 0h0m1 0h0m2 0h0m1 0h0m1 0h0m1 0h0m4 0h0m-52 1h0m3 0h0m4 0h0m2 0h0m2 0h0m1 0h0m1 0h0m1 0h0m1 0h0m2 0h0m1 0h0m2 0h0m1 0h0m1 0h0m3 0h0m1 0h0m1 0h0m1 0h0m3 0h0m2 0h0m2 0h0m1 0h0m2 0h0m1 0h0m1 0h0m1 0h0m1 0h0m2 0h0m1 0h0m9 0h0m-70 1h0m10 0h0m4 0h0m1 0h0m3 0h0m4 0h0m5 0h0m4 0h0m1 0h0m1 0h0m2 0h0m1 0h0m2 0h0m2 0h0m1 0h0m1 0h0m1 0h0m1 0h0m1 0h0m1 0h0m2 0h0m1 0h0m1 0h0m1 0h0m1 0h0m1 0h0m2 0h0m2 0h0m2 0h0m1 0h0m1 0h0m1 0h0m1 0h0m1 0h0m1 0h0m1 0h0m2 0h0m12 0h0m-66 1h0m2 0h0m3 0h0m3 0h0m5 0h0m2 0h0m3 0h0m2 0h0m2 0h0m1 0h0m1 0h0m2 0h0m2 0h0m2 0h0m2 0h0m1 0h0m1 0h0m1 0h0m1 0h0m3 0h0m1 0h0m1 0h0m1 0h0m1 0h0m3 0h0m4 0h0m2 0h0m4 0h0m3 0h0m-75 1h0m12 0h0m6 0h0m1 0h0m3 0h0m2 0h0m1 0h0m2 0h0m1 0h0m2 0h0m1 0h0m2 0h0m1 0h0m1 0h0m1 0h0m1 0h0m2 0h0m1 0h0m1 0h0m1 0h0m1 0h0m1 0h0m1 0h0m1 0h0m1 0h0m2 0h0m1 0h0m1 0h0m1 0h0m1 0h0m1 0h0m1 0h0m2 0h0m1 0h0m1 0h0m1 0h0m5 0h0m1 0h0m1 0h0m3 0h0m2 0h0m2 0h0m-64 1h0m10 0h0m5 0h0m1 0h0m4 0h0m2 0h0m1 0h0m1 0h0m4 0h0m3 0h0m1 0h0m1 0h0m1 0h0m1 0h0m1 0h0m1 0h0m1 0h0m1 0h0m2 0h0m1 0h0m3 0h0m1 0h0m4 0h0m2 0h0m3 0h0m4 0h0m2 0h0m-72 1h0m2 0h0m1 0h0m7 0h0m2 0h0m1 0h0m7 0h0m1 0h0m2 0h0m2 0h0m2 0h0m1 0h0m2 0h0m2 0h0m1 0h0m1 0h0m1 0h0m1 0h0m1 0h0m1 0h0m1 0h0m1 0h0m2 0h0m1 0h0m1 0h0m2 0h0m1 0h0m1 0h0m1 0h0m1 0h0m1 0h0m1 0h0m1 0h0m1 0h0m3 0h0m2 0h0m1 0h0m3 0h0m5 0h0m-61 1h0m3 0h0m3 0h0m3 0h0m1 0h0m4 0h0m1 0h0m1 0h0m2 0h0m1 0h0m2 0h0m2 0h0m1 0h0m1 0h0m2 0h0m1 0h0m1 0h0m1 0h0m1 0h0m1 0h0m2 0h0m2 0h0m3 0h0m2 0h0m1 0h0m1 0h0m1 0h0m2 0h0m2 0h0m7 0h0m2 0h0m4 0h0m-62 1h0m4 0h0m2 0h0m2 0h0m1 0h0m3 0h0m1 0h0m1 0h0m2 0h0m4 0h0m2 0h0m2 0h0m2 0h0m1 0h0m1 0h0m1 0h0m1 0h0m1 0h0m1 0h0m1 0h0m1 0h0m1 0h0m1 0h0m1 0h0m1 0h0m2 0h0m2 0h0m1 0h0m1 0h0m1 0h0m1 0h0m7 0h0m5 0h0m7 0h0m-55 1h0m1 0h0m1 0h0m2 0h0m1 0h0m1 0h0m1 0h0m3 0h0m1 0h0m1 0h0m1 0h0m1 0h0m2 0h0m2 0h0m1 0h0m1 0h0m1 0h0m5 0h0m1 0h0m1 0h0m1 0h0m1 0h0m1 0h0m2 0h0m3 0h0m1 0h0m1 0h0m2 0h0m1 0h0m4 0h0m-57 1h0m5 0h0m4 0h0m2 0h0m1 0h0m1 0h0m1 0h0m1 0h0m1 0h0m1 0h0m1 0h0m1 0h0m1 0h0m1 0h0m3 0h0m1 0h0m1 0h0m1 0h0m3 0h0m2 0h0m2 0h0m1 0h0m2 0h0m1 0h0m1 0h0m1 0h0m1 0h0m1 0h0m1 0h0m1 0h0m1 0h0m1 0h0m3 0h0m1 0h0m1 0h0m10 0h0m-70 1h0m7 0h0m1 0h0m3 0h0m2 0h0m7 0h0m3 0h0m1 0h0m1 0h0m1 0h0m1 0h0m1 0h0m1 0h0m1 0h0m1 0h0m3 0h0m2 0h0m1 0h0m2 0h0m1 0h0m2 0h0m1 0h0m1 0h0m1 0h0m1 0h0m4 0h0m1 0h0m5 0h0m1 0h0m10 0h0m-59 1h0m4 0h0m3 0h0m1 0h0m1 0h0m2 0h0m2 0h0m1 0h0m2 0h0m2 0h0m1 0h0m1 0h0m1 0h0m1 0h0m1 0h0m1 0h0m1 0h0m1 0h0m1 0h0m1 0h0m2 0h0m1 0h0m1 0h0m1 0h0m1 0h0m1 0h0m1 0h0m1 0h0m1 0h0m1 0h0m1 0h0m3 0h0m3 0h0m2 0h0m-53 1h0m6 0h0m1 0h0m1 0h0m2 0h0m1 0h0m7 0h0m1 0h0m2 0h0m1 0h0m1 0h0m1 0h0m1 0h0m1 0h0m2 0h0m1 0h0m1 0h0m1 0h0m1 0h0m1 0h0m3 0h0m2 0h0m2 0h0m1 0h0m1 0h0m1 0h0m2 0h0m4 0h0m-48 1h0m3 0h0m3 0h0m2 0h0m1 0h0m3 0h0m1 0h0m1 0h0m1 0h0m1 0h0m2 0h0m1 0h0m1 0h0m1 0h0m2 0h0m1 0h0m1 0h0m3 0h0m1 0h0m1 0h0m1 0h0m2 0h0m2 0h0m1 0h0m2 0h0m1 0h0m2 0h0m1 0h0m1 0h0m1 0h0m3 0h0m1 0h0m-50 1h0m7 0h0m1 0h0m2 0h0m1 0h0m1 0h0m1 0h0m1 0h0m2 0h0m1 0h0m1 0h0m2 0h0m2 0h0m1 0h0m1 0h0m1 0h0m1 0h0m2 0h0m1 0h0m1 0h0m1 0h0m1 0h0m1 0h0m1 0h0m1 0h0m1 0h0m1 0h0m2 0h0m1 0h0m1 0h0m3 0h0m5 0h0m9 0h0m5 0h0m-64 1h0m1 0h0m3 0h0m1 0h0m2 0h0m1 0h0m1 0h0m3 0h0m3 0h0m2 0h0m2 0h0m1 0h0m1 0h0m2 0h0m1 0h0m1 0h0m3 0h0m2 0h0m2 0h0m1 0h0m1 0h0m2 0h0m2 0h0m3 0h0m2 0h0m2 0h0m1 0h0m1 0h0m5 0h0m-49 1h0m3 0h0m2 0h0m2 0h0m1 0h0m2 0h0m4 0h0m1 0h0m1 0h0m1 0h0m1 0h0m1 0h0m1 0h0m1 0h0m1 0h0m5 0h0m1 0h0m5 0h0m1 0h0m7 0h0m5 0h0m2 0h0m-51 1h0m1 0h0m3 0h0m1 0h0m5 0h0m1 0h0m3 0h0m2 0h0m2 0h0m1 0h0m1 0h0m2 0h0m1 0h0m1 0h0m2 0h0m1 0h0m1 0h0m2 0h0m1 0h0m1 0h0m1 0h0m1 0h0m3 0h0m1 0h0m1 0h0m1 0h0m1 0h0m9 0h0m-47 1h0m2 0h0m3 0h0m2 0h0m2 0h0m2 0h0m1 0h0m2 0h0m1 0h0m2 0h0m1 0h0m1 0h0m1 0h0m1 0h0m1 0h0m2 0h0m1 0h0m1 0h0m1 0h0m1 0h0m1 0h0m2 0h0m3 0h0m1 0h0m5 0h0m4 0h0m-49 1h0m3 0h0m2 0h0m2 0h0m4 0h0m2 0h0m1 0h0m1 0h0m1 0h0m2 0h0m2 0h0m1 0h0m1 0h0m1 0h0m1 0h0m1 0h0m1 0h0m1 0h0m2 0h0m1 0h0m3 0h0m3 0h0m2 0h0m1 0h0m1 0h0m7 0h0m-45 1h0m2 0h0m1 0h0m1 0h0m1 0h0m1 0h0m1 0h0m1 0h0m1 0h0m1 0h0m1 0h0m1 0h0m1 0h0m1 0h0m2 0h0m1 0h0m1 0h0m1 0h0m1 0h0m1 0h0m1 0h0m1 0h0m1 0h0m3 0h0m1 0h0m1 0h0m8 0h0m2 0h0m6 0h0m3 0h0m-53 1h0m6 0h0m2 0h0m1 0h0m3 0h0m1 0h0m1 0h0m1 0h0m1 0h0m1 0h0m2 0h0m1 0h0m1 0h0m1 0h0m1 0h0m1 0h0m1 0h0m1 0h0m2 0h0m1 0h0m1 0h0m1 0h0m1 0h0m1 0h0m3 0h0m3 0h0m9 0h0m-40 1h0m2 0h0m1 0h0m2 0h0m1 0h0m2 0h0m1 0h0m1 0h0m4 0h0m1 0h0m2 0h0m1 0h0m3 0h0m6 0h0m4 0h0m1 0h0m-36 1h0m3 0h0m2 0h0m1 0h0m1 0h0m1 0h0m2 0h0m1 0h0m1 0h0m1 0h0m1 0h0m1 0h0m3 0h0m1 0h0m1 0h0m2 0h0m2 0h0m1 0h0m1 0h0m3 0h0m1 0h0m-29 1h0m2 0h0m1 0h0m3 0h0m1 0h0m1 0h0m1 0h0m1 0h0m1 0h0m2 0h0m1 0h0m1 0h0m1 0h0m2 0h0m2 0h0m2 0h0m4 0h0m7 0h0m-30 1h0m1 0h0m1 0h0m1 0h0m3 0h0m1 0h0m3 0h0m1 0h0m1 0h0m1 0h0m1 0h0m1 0h0m1 0h0m2 0h0m1 0h0m1 0h0m1 0h0m1 0h0m1 0h0m2 0h0m4 0h0m-30 1h0m2 0h0m1 0h0m1 0h0m1 0h0m2 0h0m3 0h0m2 0h0m4 0h0m1 0h0m4 0h0m-24 1h0m2 0h0m3 0h0m8 0h0m2 0h0m1 0h0m1 0h0m1 0h0m1 0h0m5 0h0m22 0h0m-47 1h0m3 0h0m3 0h0m1 0h0m1 0h0m1 0h0m1 0h0m2 0h0m1 0h0m1 0h0m3 0h0m1 0h0m5 0h0m1 0h0m5 0h0m1 0h0m11 0h0m-35 1h0m1 0h0m1 0h0m2 0h0m1 0h0m2 0h0m1 0h0m1 0h0m2 0h0m2 0h0m1 0h0m2 0h0m4 0h0m1 0h0m5 0h0m-22 1h0m1 0h0m5 0h0m1 0h0m1 0h0m1 0h0m4 0h0m1 0h0m1 0h0m2 0h0m2 0h0m-22 1h0m1 0h0m5 0h0m1 0h0m3 0h0m3 0h0m1 0h0m6 0h0m-15 1h0m4 0h0m4 0h0m14 0h0m-28 1h0m4 0h0m1 0h0m2 0h0m19 0h0m2 0h0m-23 2h0m1 1h0m2 1h0"/></g><path d="M68.5 260.8V334.0H108.7L136.9 284.1V260.8" stroke="#000" stroke-width="1.2" fill="none"/><path d="M34.50 407.40v-4M34.50 260.80v4M68.60 407.40v-4M68.60 260.80v4M102.70 407.40v-4M102.70 260.80v4M136.80 407.40v-4M136.80 260.80v4M170.90 407.40v-4M170.90 260.80v4M41.32 407.40v-2M41.32 260.80v2M48.14 407.40v-2M48.14 260.80v2M54.96 407.40v-2M54.96 260.80v2M61.78 407.40v-2M61.78 260.80v2M75.42 407.40v-2M75.42 260.80v2M82.24 407.40v-2M82.24 260.80v2M89.06 407.40v-2M89.06 260.80v2M95.88 407.40v-2M95.88 260.80v2M109.52 407.40v-2M109.52 260.80v2M116.34 407.40v-2M116.34 260.80v2M123.16 407.40v-2M123.16 260.80v2M129.98 407.40v-2M129.98 260.80v2M143.62 407.40v-2M143.62 260.80v2M150.44 407.40v-2M150.44 260.80v2M157.26 407.40v-2M157.26 260.80v2M164.08 407.40v-2M164.08 260.80v2M34.50 407.40h4M170.90 407.40h-4M34.50 382.97h4M170.90 382.97h-4M34.50 358.54h4M170.90 358.54h-4M34.50 334.11h4M170.90 334.11h-4M34.50 309.68h4M170.90 309.68h-4M34.50 285.25h4M170.90 285.25h-4M34.50 260.82h4M170.90 260.82h-4M34.50 402.51h2M170.90 402.51h-2M34.50 397.63h2M170.90 397.63h-2M34.50 392.74h2M170.90 392.74h-2M34.50 387.86h2M170.90 387.86h-2M34.50 378.08h2M170.90 378.08h-2M34.50 373.20h2M170.90 373.20h-2M34.50 368.31h2M170.90 368.31h-2M34.50 363.43h2M170.90 363.43h-2M34.50 353.65h2M170.90 353.65h-2M34.50 348.77h2M170.90 348.77h-2M34.50 343.88h2M170.90 343.88h-2M34.50 339.00h2M170.90 339.00h-2M34.50 329.22h2M170.90 329.22h-2M34.50 324.34h2M170.90 324.34h-2M34.50 319.45h2M170.90 319.45h-2M34.50 314.57h2M170.90 314.57h-2M34.50 304.79h2M170.90 304.79h-2M34.50 299.91h2M170.90 299.91h-2M34.50 295.02h2M170.90 295.02h-2M34.50 290.14h2M170.90 290.14h-2M34.50 280.36h2M170.90 280.36h-2M34.50 275.48h2M170.90 275.48h-2M34.50 270.59h2M170.90 270.59h-2M34.50 265.71h2M170.90 265.71h-2" stroke="#000" stroke-width="1.0" fill="none"/><rect x="34.50" y="260.80" width="136.40" height="146.60" fill="none" stroke="#000" stroke-width="1.1"/><text x="28.22 35.74" y="418.60" font-size="10.61" fill="#000" stroke="#000" stroke-width="0.14">−2</text><text x="62.32 69.84" y="418.60" font-size="10.61" fill="#000" stroke="#000" stroke-width="0.14">−1</text><text x="99.75" y="418.60" font-size="10.61" fill="#000" stroke="#000" stroke-width="0.14">0</text><text x="133.85" y="418.60" font-size="10.61" fill="#000" stroke="#000" stroke-width="0.14">1</text><text x="167.95" y="418.60" font-size="10.61" fill="#000" stroke="#000" stroke-width="0.14">2</text><text x="17.85 25.37" y="411.50" font-size="10.61" fill="#000" stroke="#000" stroke-width="0.14">−1</text><text x="25.37" y="387.07" font-size="10.61" fill="#000" stroke="#000" stroke-width="0.14">0</text><text x="25.37" y="362.64" font-size="10.61" fill="#000" stroke="#000" stroke-width="0.14">1</text><text x="25.37" y="338.21" font-size="10.61" fill="#000" stroke="#000" stroke-width="0.14">2</text><text x="25.37" y="313.78" font-size="10.61" fill="#000" stroke="#000" stroke-width="0.14">3</text><text x="25.37" y="289.35" font-size="10.61" fill="#000" stroke="#000" stroke-width="0.14">4</text><text x="25.37" y="264.92" font-size="10.61" fill="#000" stroke="#000" stroke-width="0.14">5</text><text x="-34.42 -26.58 -18.72 -10.86 -3.37 8.97 12.43 20.27 28.12 35.98 43.48" y="333.70" font-size="13.10" fill="#000" stroke="#000" stroke-width="0.30" transform="rotate(-90 10.90 333.70)">F115W-F444W</text><text x="57.38 65.22 73.08 80.94 88.43 100.77 104.23 112.07 119.92 127.78 135.28" y="432.70" font-size="13.10" fill="#000" stroke="#000" stroke-width="0.30">F200W-F444W</text><path clip-path="url(#h1)" d="M218.60 179.80V179.80H228.08V177.90H229.72V175.28H234.26V171.71H236.32V162.43H241.26V169.33H243.32V179.80H244.97V174.80H247.03V179.80H267.22V177.66H275.87V174.33H279.58V176.94H282.46V169.33H284.93V157.90H286.99V165.52H289.05V138.86H291.11V88.88H293.17V84.12H295.23V38.43H296.88V79.13H299.35V112.92H301.00V94.12H303.47V115.54H305.94V117.92H308.42V132.20H310.48V138.86H312.54V132.20H315.42V158.38H317.07V173.37H318.72V178.85H321.60V179.80H342.20" stroke="#ff0000" stroke-width="1.9" fill="none"/><path d="M218.60 179.20v-4M218.60 31.40v4M259.80 179.20v-4M259.80 31.40v4M301.00 179.20v-4M301.00 31.40v4M342.20 179.20v-4M342.20 31.40v4M210.36 179.20v-2M210.36 31.40v2M226.84 179.20v-2M226.84 31.40v2M235.08 179.20v-2M235.08 31.40v2M243.32 179.20v-2M243.32 31.40v2M251.56 179.20v-2M251.56 31.40v2M268.04 179.20v-2M268.04 31.40v2M276.28 179.20v-2M276.28 31.40v2M284.52 179.20v-2M284.52 31.40v2M292.76 179.20v-2M292.76 31.40v2M309.24 179.20v-2M309.24 31.40v2M317.48 179.20v-2M317.48 31.40v2M325.72 179.20v-2M325.72 31.40v2M333.96 179.20v-2M333.96 31.40v2M211.60 179.80h4M347.90 179.80h-4M211.60 132.20h4M347.90 132.20h-4M211.60 84.60h4M347.90 84.60h-4M211.60 37.00h4M347.90 37.00h-4M211.60 167.90h2M347.90 167.90h-2M211.60 156.00h2M347.90 156.00h-2M211.60 144.10h2M347.90 144.10h-2M211.60 120.30h2M347.90 120.30h-2M211.60 108.40h2M347.90 108.40h-2M211.60 96.50h2M347.90 96.50h-2M211.60 72.70h2M347.90 72.70h-2M211.60 60.80h2M347.90 60.80h-2M211.60 48.90h2M347.90 48.90h-2" stroke="#000" stroke-width="1.0" fill="none"/><rect x="211.60" y="31.40" width="136.30" height="147.80" fill="none" stroke="#000" stroke-width="1.1"/><text x="215.65" y="190.40" font-size="10.61" fill="#000" stroke="#000" stroke-width="0.14">0</text><text x="256.85" y="190.40" font-size="10.61" fill="#000" stroke="#000" stroke-width="0.14">5</text><text x="294.87 301.23" y="190.40" font-size="10.61" fill="#000" stroke="#000" stroke-width="0.14">10</text><text x="336.07 342.43" y="190.40" font-size="10.61" fill="#000" stroke="#000" stroke-width="0.14">15</text><text x="202.47" y="183.90" font-size="10.61" fill="#000" stroke="#000" stroke-width="0.14">0</text><text x="196.11 202.47" y="136.30" font-size="10.61" fill="#000" stroke="#000" stroke-width="0.14">20</text><text x="196.11 202.47" y="88.70" font-size="10.61" fill="#000" stroke="#000" stroke-width="0.14">40</text><text x="196.11 202.47" y="41.10" font-size="10.61" fill="#000" stroke="#000" stroke-width="0.14">60</text><text x="186.00" y="107.40" font-size="12.73" fill="#000" stroke="#000" stroke-width="0.28" transform="rotate(-90 190.60 107.40)">N</text><text x="254.79 263.97 271.14 278.64 285.40 293.22 296.75 301.34" y="204.60" font-size="13.10" fill="#000" stroke="#000" stroke-width="0.30">Redshift</text><g clip-path="url(#h2)"><path d="M218.60 407.60V407.60H223.71V404.75H226.84V407.60H229.89V399.05H232.77V401.90H235.00V396.20H238.13V378.53H241.26V392.50H243.32V392.50H245.38V397.62H248.26V401.90H251.31V403.33H254.53V405.61H257.00V405.89H260.13V407.60H282.05V404.75H285.34V407.60H289.22V392.78H291.36V358.58H293.17V316.12H295.48V266.52H298.53V290.18H300.59V313.55H302.24V359.15H303.88V330.65H305.53V339.20H307.18V327.80H308.83V336.35H310.06V344.90H311.71V289.61H315.42V301.30H319.13V324.38H321.60V333.50H322.84V362.00H325.31V312.41H328.60V348.61H331.49V375.11H334.78V369.70H338.08V384.52H342.20V407.60H342.20" stroke="#ff0000" stroke-width="1.9" fill="none"/><path d="M218.60 407.60V407.60H229.89V399.05H232.77V401.90H235.00V396.20H238.13V378.53H241.26V392.50H243.32V392.50H245.38V397.62H248.26V401.90H251.31V403.33H254.53V405.61H257.00V405.89H260.13V407.60H289.22V392.78H291.36V358.58H293.17V316.12H295.48V266.52H298.53V290.18H300.59V313.55H302.24V359.15H303.88V330.65H305.53V339.20H307.18V327.80H308.83V336.35H310.06V344.90H311.71V336.35H314.43V364.85H317.23V393.35H319.13V401.05H320.78V407.60H327.37V405.89H329.84V407.60H337.26V405.89H340.55V407.60H342.20" stroke="#ffa500" stroke-width="1.9" stroke-dasharray="4,2.2" fill="none"/></g><path d="M218.60 407.60v-4M218.60 260.30v4M259.80 407.60v-4M259.80 260.30v4M301.00 407.60v-4M301.00 260.30v4M342.20 407.60v-4M342.20 260.30v4M210.36 407.60v-2M210.36 260.30v2M226.84 407.60v-2M226.84 260.30v2M235.08 407.60v-2M235.08 260.30v2M243.32 407.60v-2M243.32 260.30v2M251.56 407.60v-2M251.56 260.30v2M268.04 407.60v-2M268.04 260.30v2M276.28 407.60v-2M276.28 260.30v2M284.52 407.60v-2M284.52 260.30v2M292.76 407.60v-2M292.76 260.30v2M309.24 407.60v-2M309.24 260.30v2M317.48 407.60v-2M317.48 260.30v2M325.72 407.60v-2M325.72 260.30v2M333.96 407.60v-2M333.96 260.30v2M211.80 407.60h4M347.90 407.60h-4M211.80 379.10h4M347.90 379.10h-4M211.80 350.60h4M347.90 350.60h-4M211.80 322.10h4M347.90 322.10h-4M211.80 293.60h4M347.90 293.60h-4M211.80 265.10h4M347.90 265.10h-4M211.80 401.90h2M347.90 401.90h-2M211.80 396.20h2M347.90 396.20h-2M211.80 390.50h2M347.90 390.50h-2M211.80 384.80h2M347.90 384.80h-2M211.80 373.40h2M347.90 373.40h-2M211.80 367.70h2M347.90 367.70h-2M211.80 362.00h2M347.90 362.00h-2M211.80 356.30h2M347.90 356.30h-2M211.80 344.90h2M347.90 344.90h-2M211.80 339.20h2M347.90 339.20h-2M211.80 333.50h2M347.90 333.50h-2M211.80 327.80h2M347.90 327.80h-2M211.80 316.40h2M347.90 316.40h-2M211.80 310.70h2M347.90 310.70h-2M211.80 305.00h2M347.90 305.00h-2M211.80 299.30h2M347.90 299.30h-2M211.80 287.90h2M347.90 287.90h-2M211.80 282.20h2M347.90 282.20h-2M211.80 276.50h2M347.90 276.50h-2M211.80 270.80h2M347.90 270.80h-2" stroke="#000" stroke-width="1.0" fill="none"/><rect x="211.80" y="260.30" width="136.10" height="147.30" fill="none" stroke="#000" stroke-width="1.1"/><text x="215.65" y="418.80" font-size="10.61" fill="#000" stroke="#000" stroke-width="0.14">0</text><text x="256.85" y="418.80" font-size="10.61" fill="#000" stroke="#000" stroke-width="0.14">5</text><text x="294.87 301.23" y="418.80" font-size="10.61" fill="#000" stroke="#000" stroke-width="0.14">10</text><text x="336.07 342.43" y="418.80" font-size="10.61" fill="#000" stroke="#000" stroke-width="0.14">15</text><text x="202.67" y="411.70" font-size="10.61" fill="#000" stroke="#000" stroke-width="0.14">0</text><text x="196.31 202.67" y="383.20" font-size="10.61" fill="#000" stroke="#000" stroke-width="0.14">10</text><text x="196.31 202.67" y="354.70" font-size="10.61" fill="#000" stroke="#000" stroke-width="0.14">20</text><text x="196.31 202.67" y="326.20" font-size="10.61" fill="#000" stroke="#000" stroke-width="0.14">30</text><text x="196.31 202.67" y="297.70" font-size="10.61" fill="#000" stroke="#000" stroke-width="0.14">40</text><text x="196.31 202.67" y="269.20" font-size="10.61" fill="#000" stroke="#000" stroke-width="0.14">50</text><text x="186.00" y="335.10" font-size="12.73" fill="#000" stroke="#000" stroke-width="0.28" transform="rotate(-90 190.60 335.10)">N</text><text x="254.29 263.47 270.64 278.14 284.90 292.72 296.25 300.84" y="432.30" font-size="13.10" fill="#000" stroke="#000" stroke-width="0.30">Redshift</text></svg></body></html>
